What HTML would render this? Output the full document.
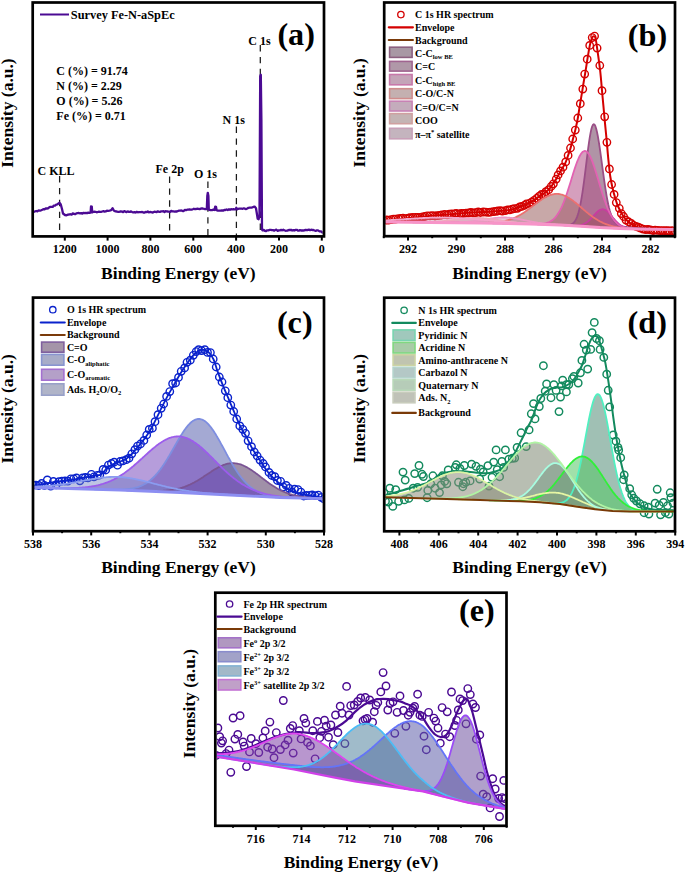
<!DOCTYPE html>
<html><head><meta charset="utf-8"><style>
html,body{margin:0;padding:0;background:#fff;}
svg{display:block;}
text{font-family:"Liberation Serif", serif;}
</style></head><body>
<svg width="685" height="873" viewBox="0 0 685 873" font-family='"Liberation Serif", serif'>
<rect width="100%" height="100%" fill="#fff"/>
<clipPath id="ca"><rect x="34" y="3.8" width="288.7" height="231.3"/></clipPath>
<line x1="59.6" y1="176" x2="59.6" y2="236.4" stroke="#1a1a1a" stroke-width="1.25" stroke-dasharray="6.4,5.5"/>
<line x1="169.6" y1="176.5" x2="169.6" y2="236.4" stroke="#1a1a1a" stroke-width="1.25" stroke-dasharray="6.4,5.5"/>
<line x1="207.9" y1="181.5" x2="207.9" y2="236.4" stroke="#1a1a1a" stroke-width="1.25" stroke-dasharray="6.4,5.5"/>
<line x1="236.4" y1="126.5" x2="236.4" y2="236.4" stroke="#1a1a1a" stroke-width="1.25" stroke-dasharray="6.4,5.5"/>
<line x1="260.3" y1="45" x2="260.3" y2="236.4" stroke="#1a1a1a" stroke-width="1.25" stroke-dasharray="6.4,5.5"/>
<path d="M33.5,212 L34.8,211.5 L36.1,211 L37.4,211.3 L38.7,210.4 L40,210.6 L41.1,210.3 L42.3,209.8 L43.4,209.1 L44.6,209.3 L45.7,208.4 L46.9,208.5 L48,208.3 L49.2,207.3 L50.3,206.9 L51.5,206.9 L52.7,206.9 L53.8,205.6 L55,205.6 L56.2,204.6 L57.3,204.4 L58.5,203.5 L59.6,202.8 L60.8,204.5 L62,209 L63,213.5 L65,215 L66.5,215.3 L68,214.6 L69.2,214.5 L70.4,214.2 L71.6,214.7 L72.8,213.4 L74,213.8 L75.2,214.2 L76.4,213.4 L77.6,213.1 L78.8,213 L80,213.4 L81.2,213.1 L82.4,213.6 L83.6,212.8 L84.8,213.2 L86,213 L87.2,213.1 L88.3,212.6 L89.4,212.8 L90.6,212.6 L91,206.5 L91.8,206.6 L92.2,212.4 L93.3,211.8 L94.4,211.7 L95.5,211.8 L96.7,212.3 L97.8,212 L98.9,211.7 L100,211.9 L101.1,211.8 L102.3,211.5 L103.4,211.2 L104.6,211.6 L105.7,211.4 L106.9,210.7 L108,210.8 L109.6,210.6 L111.2,210.2 L112.6,208.2 L114,210.8 L115.5,211.4 L116.8,211.5 L118.1,211.9 L119.4,211.8 L120.7,211.3 L122,211.6 L123.1,212.2 L124.3,211.2 L125.4,211.6 L126.6,212.1 L127.7,211.4 L128.9,211.8 L130,211.9 L131.1,211.4 L132.2,212.1 L133.3,212.3 L134.4,212.1 L135.6,212.5 L136.7,211.8 L137.8,212.3 L138.9,212.2 L140,212.1 L141.1,212.2 L142.2,212 L143.3,212.5 L144.4,212.6 L145.6,212 L146.7,212.2 L147.8,211.5 L148.9,212.3 L150,212 L151.1,212.2 L152.2,212.5 L153.3,212.3 L154.4,211.7 L155.6,211.8 L156.7,212.1 L157.8,211.3 L158.9,211.8 L160,211.8 L161.1,211.4 L162.2,211.3 L163.4,211.2 L164.5,212 L165.6,211.2 L166.8,211.3 L167.9,211.5 L169,211.6 L170.1,212 L171.2,210.9 L172.4,211.3 L173.5,211.4 L174.6,211.7 L175.8,211.5 L176.9,211.5 L178,211 L179.1,210.6 L180.3,210.7 L181.4,210.5 L182.6,211 L183.7,211 L184.9,209.9 L186,210.2 L187.1,209.7 L188.2,209.6 L189.4,209.5 L190.5,209.7 L191.6,209.7 L192.8,209.2 L193.9,208.7 L195,209.2 L196.2,209 L197.3,208.7 L198.5,208.8 L199.7,209.1 L200.8,208.7 L202,208.3 L203.2,208.7 L204.5,209 L205.7,209.1 L206.8,209 L207.3,196 L207.8,192.8 L208.4,196 L208.8,209.6 L210.4,210.1 L212,210.2 L213.3,209.6 L214.6,210 L215.2,206.6 L216,206.8 L216.6,210.2 L217.9,210.7 L219.3,210.6 L220.7,210.7 L222,210.3 L223.1,210.6 L224.3,210 L225.4,210 L226.6,209.5 L227.7,210.1 L228.9,209.3 L230,209.8 L231.1,209.2 L232.2,209.3 L233.4,209.2 L234.5,209.3 L235.6,209.4 L236.3,207.8 L237,209.4 L238.1,208.8 L239.3,208.6 L240.4,208.7 L241.6,208.6 L242.7,208.8 L243.9,208.3 L245,208.8 L246.2,209 L247.3,208.5 L248.5,207.8 L249.7,207.7 L250.8,207.6 L252,207.6 L253.3,206.9 L254.6,206.6 L256,208.2 L257.7,218.8 L258.6,219.2 L259.5,215.5 L260.2,76 L260.8,74.8 L261.4,120 L262,229.5 L262.6,230.4 L263.8,229.9 L264.9,230.8 L266.1,231 L267.2,230.3 L268.4,230.3 L269.6,229.9 L270.7,229.9 L271.9,230.2 L273,230.1 L274.2,230.7 L275.4,229.9 L276.5,229.7 L277.7,230.9 L278.8,230.3 L280,230.3 L281.1,229.9 L282.2,230.3 L283.3,229.7 L284.4,230.3 L285.6,230.8 L286.7,230.7 L287.8,230.5 L288.9,229.9 L290,230 L291.1,229.8 L292.2,230.5 L293.3,230.2 L294.4,230.5 L295.6,229.9 L296.7,229.8 L297.8,230.5 L298.9,230.7 L300,230.1 L301.1,230.5 L302.2,230.5 L303.3,230.5 L304.4,230.4 L305.6,229.8 L306.7,230.2 L307.8,230 L308.9,229.6 L310,230.2 L311.1,229.7 L312.3,230 L313.4,230 L314.6,230.5 L315.7,230.9 L316.9,230.3 L318,230.4 L319.5,231.4 L321,231.4 L322.2,232.5 L323.5,232.4" fill="none" stroke="#4B0A93" stroke-width="2.3" stroke-linejoin="round" clip-path="url(#ca)"/>
<rect x="32.7" y="2.5" width="291.3" height="233.9" fill="none" stroke="#000" stroke-width="2.7"/>
<line x1="64.8" y1="236.4" x2="64.8" y2="240.6" stroke="#000" stroke-width="2"/>
<text x="64.8" y="253.2" font-size="12" text-anchor="middle" font-weight="bold" >1200</text>
<line x1="107.6" y1="236.4" x2="107.6" y2="240.6" stroke="#000" stroke-width="2"/>
<text x="107.6" y="253.2" font-size="12" text-anchor="middle" font-weight="bold" >1000</text>
<line x1="150.4" y1="236.4" x2="150.4" y2="240.6" stroke="#000" stroke-width="2"/>
<text x="150.4" y="253.2" font-size="12" text-anchor="middle" font-weight="bold" >800</text>
<line x1="193.3" y1="236.4" x2="193.3" y2="240.6" stroke="#000" stroke-width="2"/>
<text x="193.3" y="253.2" font-size="12" text-anchor="middle" font-weight="bold" >600</text>
<line x1="236.1" y1="236.4" x2="236.1" y2="240.6" stroke="#000" stroke-width="2"/>
<text x="236.1" y="253.2" font-size="12" text-anchor="middle" font-weight="bold" >400</text>
<line x1="279" y1="236.4" x2="279" y2="240.6" stroke="#000" stroke-width="2"/>
<text x="279" y="253.2" font-size="12" text-anchor="middle" font-weight="bold" >200</text>
<line x1="321.8" y1="236.4" x2="321.8" y2="240.6" stroke="#000" stroke-width="2"/>
<text x="321.8" y="253.2" font-size="12" text-anchor="middle" font-weight="bold" >0</text>
<line x1="40" y1="14.5" x2="69" y2="14.5" stroke="#4B0A93" stroke-width="2"/>
<text x="70.8" y="19" font-size="12.35" text-anchor="start" font-weight="bold" >Survey Fe-N-aSpEc</text>
<text x="56.3" y="74.8" font-size="12" text-anchor="start" font-weight="bold" >C (%) = 91.74</text>
<text x="56.3" y="89.8" font-size="12" text-anchor="start" font-weight="bold" >N (%) = 2.29</text>
<text x="56.3" y="104.9" font-size="12" text-anchor="start" font-weight="bold" >O (%) = 5.26</text>
<text x="56.3" y="120" font-size="12" text-anchor="start" font-weight="bold" >Fe (%) = 0.71</text>
<text x="37.5" y="175.3" font-size="12" text-anchor="start" font-weight="bold" >C KLL</text>
<text x="155.5" y="173.2" font-size="12" text-anchor="start" font-weight="bold" >Fe 2p</text>
<text x="194" y="178" font-size="12" text-anchor="start" font-weight="bold" >O 1s</text>
<text x="222.6" y="123.5" font-size="12" text-anchor="start" font-weight="bold" >N 1s</text>
<text x="248.3" y="44.5" font-size="12" text-anchor="start" font-weight="bold" >C 1s</text>
<text x="277.4" y="44.6" font-size="32.2" text-anchor="start" font-weight="bold" >(a)</text>
<text transform="translate(12.8,113) rotate(-90)" x="0" y="0" font-size="17.5" text-anchor="middle" font-weight="bold">Intensity (a.u.)</text>
<text x="178.4" y="278.5" font-size="17.5" text-anchor="middle" font-weight="bold" >Binding Energy (eV)</text>
<clipPath id="cb"><rect x="385.5" y="3.8" width="288.2" height="231.1"/></clipPath>
<g clip-path="url(#cb)">
<g fill="none" stroke="#D40000" stroke-width="1.4"><circle cx="383.5" cy="220.4" r="3.7"/><circle cx="386.3" cy="220" r="3.7"/><circle cx="388.4" cy="220.1" r="3.7"/><circle cx="391.2" cy="219.6" r="3.7"/><circle cx="393.5" cy="219.1" r="3.7"/><circle cx="395.6" cy="219.1" r="3.7"/><circle cx="398.4" cy="218.6" r="3.7"/><circle cx="400.9" cy="218.5" r="3.7"/><circle cx="403" cy="218.1" r="3.7"/><circle cx="405.9" cy="218.6" r="3.7"/><circle cx="408.2" cy="218.2" r="3.7"/><circle cx="410.1" cy="217.7" r="3.7"/><circle cx="412.8" cy="217.3" r="3.7"/><circle cx="415.5" cy="217.3" r="3.7"/><circle cx="417.5" cy="217.5" r="3.7"/><circle cx="419.9" cy="217.4" r="3.7"/><circle cx="422.5" cy="216.8" r="3.7"/><circle cx="424.9" cy="216.5" r="3.7"/><circle cx="427.2" cy="215.8" r="3.7"/><circle cx="430" cy="215.8" r="3.7"/><circle cx="432.4" cy="215.6" r="3.7"/><circle cx="435" cy="216" r="3.7"/><circle cx="437.3" cy="215.7" r="3.7"/><circle cx="439.6" cy="215.4" r="3.7"/><circle cx="441.7" cy="215" r="3.7"/><circle cx="444.6" cy="214.5" r="3.7"/><circle cx="447.1" cy="214.9" r="3.7"/><circle cx="449.2" cy="214.2" r="3.7"/><circle cx="451.6" cy="214" r="3.7"/><circle cx="454.4" cy="213.8" r="3.7"/><circle cx="456.2" cy="213.3" r="3.7"/><circle cx="459.1" cy="214" r="3.7"/><circle cx="461.3" cy="213.4" r="3.7"/><circle cx="463.8" cy="213.4" r="3.7"/><circle cx="466" cy="213.1" r="3.7"/><circle cx="468.7" cy="213" r="3.7"/><circle cx="470.9" cy="212.4" r="3.7"/><circle cx="473.4" cy="213" r="3.7"/><circle cx="475.8" cy="212.6" r="3.7"/><circle cx="478.2" cy="211.9" r="3.7"/><circle cx="480.5" cy="212.5" r="3.7"/><circle cx="483.3" cy="212" r="3.7"/><circle cx="485.7" cy="212.1" r="3.7"/><circle cx="488.3" cy="212.3" r="3.7"/><circle cx="490.4" cy="212.2" r="3.7"/><circle cx="493.2" cy="211.6" r="3.7"/><circle cx="495.5" cy="211.4" r="3.7"/><circle cx="497.7" cy="211" r="3.7"/><circle cx="500.4" cy="210.7" r="3.7"/><circle cx="502.3" cy="211.1" r="3.7"/><circle cx="505.2" cy="210.6" r="3.7"/><circle cx="507.6" cy="209.9" r="3.7"/><circle cx="509.7" cy="209.8" r="3.7"/><circle cx="512.2" cy="209.2" r="3.7"/><circle cx="514.4" cy="208.6" r="3.7"/><circle cx="517.4" cy="208.3" r="3.7"/><circle cx="519.7" cy="206.9" r="3.7"/><circle cx="521.8" cy="206.4" r="3.7"/><circle cx="524.4" cy="205.3" r="3.7"/><circle cx="526.5" cy="203.8" r="3.7"/><circle cx="529.5" cy="203.3" r="3.7"/><circle cx="531.9" cy="201.9" r="3.7"/><circle cx="534.1" cy="200.3" r="3.7"/><circle cx="536.7" cy="198.3" r="3.7"/><circle cx="539" cy="196.3" r="3.7"/><circle cx="541.5" cy="194.4" r="3.7"/><circle cx="543.9" cy="193.9" r="3.7"/><circle cx="545.9" cy="191.7" r="3.7"/><circle cx="548.7" cy="189.7" r="3.7"/><circle cx="551.1" cy="186.5" r="3.7"/><circle cx="553.4" cy="183.8" r="3.7"/><circle cx="556.2" cy="179.1" r="3.7"/><circle cx="558.1" cy="174.9" r="3.7"/><circle cx="560.5" cy="170.9" r="3.7"/><circle cx="563" cy="167.2" r="3.7"/><circle cx="565.7" cy="161.9" r="3.7"/><circle cx="568.1" cy="155.4" r="3.7"/><circle cx="570.5" cy="148" r="3.7"/><circle cx="572.7" cy="139" r="3.7"/><circle cx="575.3" cy="130.1" r="3.7"/><circle cx="577.8" cy="118" r="3.7"/><circle cx="580.3" cy="103.7" r="3.7"/><circle cx="582.8" cy="89.1" r="3.7"/><circle cx="584.7" cy="74.1" r="3.7"/><circle cx="587.2" cy="59.2" r="3.7"/><circle cx="589.7" cy="45.4" r="3.7"/><circle cx="592.2" cy="37.6" r="3.7"/><circle cx="594.6" cy="36.1" r="3.7"/><circle cx="597.1" cy="48.1" r="3.7"/><circle cx="599.8" cy="65.5" r="3.7"/><circle cx="602" cy="90.7" r="3.7"/><circle cx="604.7" cy="116.8" r="3.7"/><circle cx="606.9" cy="142.3" r="3.7"/><circle cx="609.4" cy="168.9" r="3.7"/><circle cx="611.6" cy="184.5" r="3.7"/><circle cx="614.1" cy="194.4" r="3.7"/><circle cx="616.3" cy="202.6" r="3.7"/><circle cx="619.3" cy="208.3" r="3.7"/><circle cx="621.3" cy="213.6" r="3.7"/><circle cx="623.6" cy="216.5" r="3.7"/><circle cx="626" cy="220.1" r="3.7"/><circle cx="628.8" cy="222" r="3.7"/><circle cx="631.2" cy="223.4" r="3.7"/><circle cx="633.6" cy="225.3" r="3.7"/><circle cx="636" cy="226.4" r="3.7"/><circle cx="638.3" cy="227.2" r="3.7"/><circle cx="640.5" cy="228.2" r="3.7"/><circle cx="643.1" cy="229.1" r="3.7"/><circle cx="645.8" cy="229.6" r="3.7"/><circle cx="648" cy="229.4" r="3.7"/><circle cx="650.4" cy="229.8" r="3.7"/><circle cx="653" cy="230.5" r="3.7"/><circle cx="655.1" cy="230.1" r="3.7"/><circle cx="657.8" cy="230.4" r="3.7"/><circle cx="660.4" cy="230.6" r="3.7"/><circle cx="662.7" cy="230.6" r="3.7"/><circle cx="665.2" cy="230.7" r="3.7"/><circle cx="667.6" cy="230.6" r="3.7"/><circle cx="669.7" cy="230.9" r="3.7"/><circle cx="672.3" cy="230.6" r="3.7"/><circle cx="674.9" cy="231" r="3.7"/></g>
<path d="M384,220.2C387.5,219.9 396.5,219.2 405,218.4C413.5,217.6 425,216.5 435,215.6C445,214.7 455.8,213.8 465,213.1C474.2,212.4 483.3,212.1 490,211.7C496.7,211.3 501.2,211 505,210.6C508.8,210.2 510.5,210 513,209.3C515.5,208.7 517.2,207.8 520,206.7C522.8,205.6 527.5,203.9 530,202.7C532.5,201.5 533.3,200.8 535,199.6C536.7,198.4 538.2,197 540,195.8C541.8,194.6 543.7,193.6 545.5,192.2C547.3,190.8 549.1,189.1 550.6,187.3C552.1,185.5 553.3,183.7 554.7,181.5C556.1,179.3 557.7,176.4 558.9,174.3C560.1,172.2 560.9,170.8 562,168.8C563.1,166.9 564.5,164.8 565.5,162.6C566.5,160.4 567.2,157.8 568.1,155.4C569,153 569.8,150.6 570.6,147.9C571.4,145.2 572.1,142.4 572.9,139.3C573.7,136.2 574.6,133.1 575.4,129.6C576.2,126.1 577,122.5 577.8,118.2C578.6,113.9 579.3,108.7 580.1,103.8C580.9,98.9 581.8,93.8 582.6,88.8C583.4,83.8 584.2,78.9 585.1,73.7C586,68.5 586.9,62.1 587.7,57.4C588.5,52.7 589.1,48.7 589.8,45.5C590.5,42.3 591.2,39.7 591.9,38.2C592.6,36.7 593.2,36.2 593.8,36.3C594.4,36.4 595,36 595.6,38.6C596.2,41.2 596.9,46.3 597.6,51.6C598.4,56.9 599.3,63.3 600.1,70.2C600.9,77.1 601.5,84.8 602.2,92.9C603,101.1 603.9,111.1 604.6,119.1C605.4,127.1 606.1,133.9 606.7,140.7C607.3,147.5 607.8,154 608.4,159.9C609,165.8 609.6,171.5 610.2,176C610.9,180.5 611.5,183.5 612.3,187C613.1,190.5 613.9,193.8 614.9,197C615.9,200.2 616.7,203.3 618.1,206.5C619.5,209.7 621.6,213.5 623.2,216C624.9,218.5 626.3,220 628,221.5C629.7,223 631.3,224.1 633.3,225.2C635.3,226.3 637.9,227.3 640,228C642.1,228.7 643.5,229.1 646,229.4C648.5,229.8 650,229.9 655,230.1C660,230.3 672.5,230.5 676,230.6" fill="none" stroke="#D40000" stroke-width="2.0" stroke-linejoin="round"/>
</g>
<g clip-path="url(#cb)"><path d="M384.2,222 L385,222 L385.8,222 L386.6,222 L387.4,222 L388.2,222 L389,222 L389.8,222.1 L390.6,222.1 L391.4,222.1 L392.2,222.1 L393,222.1 L393.8,222.1 L394.6,222.1 L395.4,222.1 L396.2,222.1 L397,222.1 L397.8,222.1 L398.6,222.1 L399.4,222.1 L400.2,222.1 L401,222.1 L401.8,222.2 L402.6,222.2 L403.4,222.2 L404.2,222.2 L405,222.2 L405.8,222.2 L406.6,222.2 L407.4,222.2 L408.2,222.2 L409,222.2 L409.8,222.2 L410.6,222.2 L411.4,222.2 L412.2,222.2 L413,222.3 L413.8,222.3 L414.6,222.3 L415.4,222.3 L416.2,222.3 L417,222.3 L417.8,222.3 L418.6,222.3 L419.4,222.3 L420.2,222.3 L421,222.3 L421.8,222.3 L422.6,222.3 L423.4,222.3 L424.2,222.3 L425,222.4 L425.8,222.4 L426.6,222.4 L427.4,222.4 L428.2,222.4 L429,222.4 L429.8,222.4 L430.6,222.4 L431.4,222.4 L432.2,222.4 L433,222.4 L433.8,222.4 L434.6,222.5 L435.4,222.5 L436.2,222.5 L437,222.5 L437.8,222.5 L438.6,222.5 L439.4,222.5 L440.2,222.5 L441,222.5 L441.8,222.5 L442.6,222.6 L443.4,222.6 L444.2,222.6 L445,222.6 L445.8,222.6 L446.6,222.6 L447.4,222.6 L448.2,222.6 L449,222.6 L449.8,222.6 L450.6,222.6 L451.4,222.7 L452.2,222.7 L453,222.7 L453.8,222.7 L454.6,222.7 L455.4,222.7 L456.2,222.7 L457,222.7 L457.8,222.7 L458.6,222.7 L459.4,222.8 L460.2,222.8 L461,222.8 L461.8,222.8 L462.6,222.8 L463.4,222.8 L464.2,222.8 L465,222.8 L465.8,222.8 L466.6,222.8 L467.4,222.8 L468.2,222.9 L469,222.9 L469.8,222.9 L470.6,222.9 L471.4,222.9 L472.2,222.9 L473,222.9 L473.8,222.9 L474.6,222.9 L475.4,222.9 L476.2,223 L477,223 L477.8,223 L478.6,223 L479.4,223 L480.2,223 L481,223 L481.8,223 L482.6,223.1 L483.4,223.1 L484.2,223.1 L485,223.1 L485.8,223.1 L486.6,223.1 L487.4,223.1 L488.2,223.2 L489,223.2 L489.8,223.2 L490.6,223.2 L491.4,223.2 L492.2,223.2 L493,223.3 L493.8,223.3 L494.6,223.3 L495.4,223.3 L496.2,223.3 L497,223.3 L497.8,223.4 L498.6,223.4 L499.4,223.4 L500.2,223.4 L501,223.4 L501.8,223.4 L502.6,223.5 L503.4,223.5 L504.2,223.5 L505,223.5 L505.8,223.5 L506.6,223.5 L507.4,223.5 L508.2,223.6 L509,223.6 L509.8,223.6 L510.6,223.6 L511.4,223.6 L512.2,223.6 L513,223.7 L513.8,223.7 L514.6,223.7 L515.4,223.7 L516.2,223.7 L517,223.7 L517.8,223.8 L518.6,223.8 L519.4,223.8 L520.2,223.8 L521,223.8 L521.8,223.8 L522.6,223.9 L523.4,223.9 L524.2,223.9 L525,223.9 L525.8,223.9 L526.6,223.9 L527.4,223.9 L528.2,224 L529,224 L529.8,224 L530.6,224 L531.4,224 L532.2,224.1 L533,224.1 L533.8,224.1 L534.6,224.2 L535.4,224.2 L536.2,224.2 L537,224.2 L537.8,224.3 L538.6,224.3 L539.4,224.3 L540.2,224.3 L541,224.4 L541.8,224.4 L542.6,224.4 L543.4,224.4 L544.2,224.5 L545,224.5 L545.8,224.5 L546.6,224.6 L547.4,224.6 L548.2,224.6 L549,224.6 L549.8,224.7 L550.6,224.7 L551.4,224.7 L552.2,224.7 L553,224.8 L553.8,224.8 L554.6,224.8 L555.4,224.8 L556.2,224.9 L557,224.9 L557.8,224.9 L558.6,225 L559.4,225 L560.2,225 L561,225.1 L561.8,225.1 L562.6,225.1 L563.4,225.2 L564.2,225.2 L565,225.2 L565.8,225.2 L566.6,225.2 L567.4,225.2 L568.2,225.1 L569,225 L569.8,224.9 L570.6,224.7 L571.4,224.3 L572.2,223.9 L573,223.3 L573.8,222.6 L574.6,221.6 L575.4,220.4 L576.2,218.9 L577,217.1 L577.8,214.8 L578.6,212.2 L579.4,209.1 L580.2,205.4 L581,201.3 L581.8,196.7 L582.6,191.6 L583.4,186 L584.2,180.1 L585,173.8 L585.8,167.4 L586.6,160.9 L587.4,154.4 L588.2,148.2 L589,142.4 L589.8,137.2 L590.6,132.6 L591.4,129 L592.2,126.3 L593,124.7 L593.8,124.1 L594.6,124.7 L595.4,126.2 L596.2,128.7 L597,132 L597.8,136 L598.6,140.6 L599.4,145.7 L600.2,151.2 L601,156.9 L601.8,162.8 L602.6,168.8 L603.4,174.6 L604.2,180.4 L605,185.9 L605.8,191 L606.6,195.8 L607.4,200.2 L608.2,204.2 L609,207.7 L609.8,210.7 L610.6,213.4 L611.4,215.7 L612.2,217.6 L613,219.2 L613.8,220.6 L614.6,221.7 L615.4,222.6 L616.2,223.4 L617,224 L617.8,224.5 L618.6,225 L619.4,225.4 L620.2,225.7 L621,225.9 L621.8,226.1 L622.6,226.3 L623.4,226.5 L624.2,226.7 L625,226.8 L625.8,226.9 L626.6,227 L627.4,227.2 L628.2,227.3 L629,227.3 L629.8,227.4 L630.6,227.5 L631.4,227.6 L632.2,227.7 L633,227.8 L633.8,227.8 L634.6,227.9 L635.4,228 L636.2,228 L637,228.1 L637.8,228.1 L638.6,228.2 L639.4,228.2 L640.2,228.3 L641,228.3 L641.8,228.4 L642.6,228.4 L643.4,228.5 L644.2,228.5 L645,228.6 L645.8,228.6 L646.6,228.6 L647.4,228.6 L648.2,228.7 L649,228.7 L649.8,228.7 L650.6,228.7 L651.4,228.8 L652.2,228.8 L653,228.8 L653.8,228.8 L654.6,228.9 L655.4,228.9 L656.2,228.9 L657,228.9 L657.8,228.9 L658.6,228.9 L659.4,229 L660.2,229 L661,229 L661.8,229 L662.6,229 L663.4,229 L664.2,229.1 L665,229.1 L665.8,229.1 L666.6,229.1 L667.4,229.1 L668.2,229.1 L669,229.2 L669.8,229.2 L670.6,229.2 L671.4,229.2 L672.2,229.2 L673,229.2 L673.8,229.2 L674.6,229.2 L674.6,229.5 L673.8,229.5 L673,229.5 L672.2,229.5 L671.4,229.5 L670.6,229.4 L669.8,229.4 L669,229.4 L668.2,229.4 L667.4,229.4 L666.6,229.4 L665.8,229.4 L665,229.4 L664.2,229.4 L663.4,229.4 L662.6,229.4 L661.8,229.4 L661,229.4 L660.2,229.3 L659.4,229.3 L658.6,229.3 L657.8,229.3 L657,229.3 L656.2,229.3 L655.4,229.3 L654.6,229.3 L653.8,229.3 L653,229.3 L652.2,229.3 L651.4,229.3 L650.6,229.3 L649.8,229.2 L649,229.2 L648.2,229.2 L647.4,229.2 L646.6,229.2 L645.8,229.2 L645,229.2 L644.2,229.2 L643.4,229.2 L642.6,229.1 L641.8,229.1 L641,229.1 L640.2,229.1 L639.4,229.1 L638.6,229 L637.8,229 L637,229 L636.2,229 L635.4,229 L634.6,229 L633.8,228.9 L633,228.9 L632.2,228.9 L631.4,228.9 L630.6,228.9 L629.8,228.8 L629,228.8 L628.2,228.8 L627.4,228.8 L626.6,228.8 L625.8,228.7 L625,228.7 L624.2,228.7 L623.4,228.7 L622.6,228.7 L621.8,228.6 L621,228.6 L620.2,228.6 L619.4,228.6 L618.6,228.5 L617.8,228.5 L617,228.4 L616.2,228.4 L615.4,228.4 L614.6,228.3 L613.8,228.3 L613,228.2 L612.2,228.2 L611.4,228.2 L610.6,228.1 L609.8,228.1 L609,228 L608.2,228 L607.4,228 L606.6,227.9 L605.8,227.9 L605,227.8 L604.2,227.8 L603.4,227.8 L602.6,227.7 L601.8,227.7 L601,227.6 L600.2,227.6 L599.4,227.6 L598.6,227.5 L597.8,227.4 L597,227.4 L596.2,227.3 L595.4,227.3 L594.6,227.2 L593.8,227.1 L593,227.1 L592.2,227 L591.4,227 L590.6,226.9 L589.8,226.9 L589,226.8 L588.2,226.7 L587.4,226.7 L586.6,226.6 L585.8,226.6 L585,226.5 L584.2,226.5 L583.4,226.4 L582.6,226.4 L581.8,226.3 L581,226.3 L580.2,226.2 L579.4,226.2 L578.6,226.1 L577.8,226.1 L577,226 L576.2,226 L575.4,225.9 L574.6,225.9 L573.8,225.8 L573,225.8 L572.2,225.7 L571.4,225.7 L570.6,225.6 L569.8,225.6 L569,225.5 L568.2,225.5 L567.4,225.4 L566.6,225.4 L565.8,225.3 L565,225.3 L564.2,225.3 L563.4,225.2 L562.6,225.2 L561.8,225.1 L561,225.1 L560.2,225 L559.4,225 L558.6,225 L557.8,224.9 L557,224.9 L556.2,224.9 L555.4,224.8 L554.6,224.8 L553.8,224.8 L553,224.8 L552.2,224.7 L551.4,224.7 L550.6,224.7 L549.8,224.7 L549,224.6 L548.2,224.6 L547.4,224.6 L546.6,224.6 L545.8,224.5 L545,224.5 L544.2,224.5 L543.4,224.4 L542.6,224.4 L541.8,224.4 L541,224.4 L540.2,224.3 L539.4,224.3 L538.6,224.3 L537.8,224.3 L537,224.2 L536.2,224.2 L535.4,224.2 L534.6,224.2 L533.8,224.1 L533,224.1 L532.2,224.1 L531.4,224 L530.6,224 L529.8,224 L529,224 L528.2,224 L527.4,223.9 L526.6,223.9 L525.8,223.9 L525,223.9 L524.2,223.9 L523.4,223.9 L522.6,223.9 L521.8,223.8 L521,223.8 L520.2,223.8 L519.4,223.8 L518.6,223.8 L517.8,223.8 L517,223.7 L516.2,223.7 L515.4,223.7 L514.6,223.7 L513.8,223.7 L513,223.7 L512.2,223.6 L511.4,223.6 L510.6,223.6 L509.8,223.6 L509,223.6 L508.2,223.6 L507.4,223.5 L506.6,223.5 L505.8,223.5 L505,223.5 L504.2,223.5 L503.4,223.5 L502.6,223.5 L501.8,223.4 L501,223.4 L500.2,223.4 L499.4,223.4 L498.6,223.4 L497.8,223.4 L497,223.3 L496.2,223.3 L495.4,223.3 L494.6,223.3 L493.8,223.3 L493,223.3 L492.2,223.2 L491.4,223.2 L490.6,223.2 L489.8,223.2 L489,223.2 L488.2,223.2 L487.4,223.1 L486.6,223.1 L485.8,223.1 L485,223.1 L484.2,223.1 L483.4,223.1 L482.6,223.1 L481.8,223 L481,223 L480.2,223 L479.4,223 L478.6,223 L477.8,223 L477,223 L476.2,223 L475.4,222.9 L474.6,222.9 L473.8,222.9 L473,222.9 L472.2,222.9 L471.4,222.9 L470.6,222.9 L469.8,222.9 L469,222.9 L468.2,222.9 L467.4,222.8 L466.6,222.8 L465.8,222.8 L465,222.8 L464.2,222.8 L463.4,222.8 L462.6,222.8 L461.8,222.8 L461,222.8 L460.2,222.8 L459.4,222.8 L458.6,222.7 L457.8,222.7 L457,222.7 L456.2,222.7 L455.4,222.7 L454.6,222.7 L453.8,222.7 L453,222.7 L452.2,222.7 L451.4,222.7 L450.6,222.6 L449.8,222.6 L449,222.6 L448.2,222.6 L447.4,222.6 L446.6,222.6 L445.8,222.6 L445,222.6 L444.2,222.6 L443.4,222.6 L442.6,222.6 L441.8,222.5 L441,222.5 L440.2,222.5 L439.4,222.5 L438.6,222.5 L437.8,222.5 L437,222.5 L436.2,222.5 L435.4,222.5 L434.6,222.5 L433.8,222.4 L433,222.4 L432.2,222.4 L431.4,222.4 L430.6,222.4 L429.8,222.4 L429,222.4 L428.2,222.4 L427.4,222.4 L426.6,222.4 L425.8,222.4 L425,222.4 L424.2,222.3 L423.4,222.3 L422.6,222.3 L421.8,222.3 L421,222.3 L420.2,222.3 L419.4,222.3 L418.6,222.3 L417.8,222.3 L417,222.3 L416.2,222.3 L415.4,222.3 L414.6,222.3 L413.8,222.3 L413,222.3 L412.2,222.2 L411.4,222.2 L410.6,222.2 L409.8,222.2 L409,222.2 L408.2,222.2 L407.4,222.2 L406.6,222.2 L405.8,222.2 L405,222.2 L404.2,222.2 L403.4,222.2 L402.6,222.2 L401.8,222.2 L401,222.1 L400.2,222.1 L399.4,222.1 L398.6,222.1 L397.8,222.1 L397,222.1 L396.2,222.1 L395.4,222.1 L394.6,222.1 L393.8,222.1 L393,222.1 L392.2,222.1 L391.4,222.1 L390.6,222.1 L389.8,222.1 L389,222 L388.2,222 L387.4,222 L386.6,222 L385.8,222 L385,222 L384.2,222 Z" fill="rgba(111,60,93,0.55)" stroke="none"/><path d="M560.2,225 L561,225.1 L561.8,225.1 L562.6,225.2 L563.4,225.2 L564.2,225.3 L565,225.3 L565.8,225.3 L566.6,225.4 L567.4,225.4 L568.2,225.5 L569,225.5 L569.8,225.5 L570.6,225.6 L571.4,225.6 L572.2,225.6 L573,225.7 L573.8,225.7 L574.6,225.7 L575.4,225.7 L576.2,225.6 L577,225.6 L577.8,225.5 L578.6,225.4 L579.4,225.3 L580.2,225.2 L581,225 L581.8,224.8 L582.6,224.5 L583.4,224.2 L584.2,223.8 L585,223.4 L585.8,222.9 L586.6,222.4 L587.4,221.8 L588.2,221.2 L589,220.5 L589.8,219.8 L590.6,219 L591.4,218.1 L592.2,217.3 L593,216.4 L593.8,215.5 L594.6,214.6 L595.4,213.8 L596.2,213 L597,212.2 L597.8,211.5 L598.6,210.8 L599.4,210.3 L600.2,209.9 L601,209.5 L601.8,209.3 L602.6,209.2 L603.4,209.3 L604.2,209.5 L605,209.8 L605.8,210.2 L606.6,210.7 L607.4,211.4 L608.2,212.1 L609,212.9 L609.8,213.8 L610.6,214.8 L611.4,215.7 L612.2,216.7 L613,217.7 L613.8,218.7 L614.6,219.6 L615.4,220.5 L616.2,221.4 L617,222.3 L617.8,223 L618.6,223.8 L619.4,224.4 L620.2,225 L621,225.6 L621.8,226.1 L622.6,226.5 L623.4,226.9 L624.2,227.2 L625,227.5 L625.8,227.7 L626.6,227.9 L627.4,228.1 L628.2,228.3 L629,228.4 L629.8,228.5 L630.6,228.6 L631.4,228.7 L632.2,228.7 L633,228.8 L633.8,228.8 L634.6,228.9 L635.4,228.9 L636.2,228.9 L637,229 L637.8,229 L638.6,229 L639.4,229.1 L640.2,229.1 L641,229.1 L641.8,229.1 L642.6,229.1 L643.4,229.2 L644.2,229.2 L645,229.2 L645,229.2 L644.2,229.2 L643.4,229.2 L642.6,229.1 L641.8,229.1 L641,229.1 L640.2,229.1 L639.4,229.1 L638.6,229 L637.8,229 L637,229 L636.2,229 L635.4,229 L634.6,229 L633.8,228.9 L633,228.9 L632.2,228.9 L631.4,228.9 L630.6,228.9 L629.8,228.8 L629,228.8 L628.2,228.8 L627.4,228.8 L626.6,228.8 L625.8,228.7 L625,228.7 L624.2,228.7 L623.4,228.7 L622.6,228.7 L621.8,228.6 L621,228.6 L620.2,228.6 L619.4,228.6 L618.6,228.5 L617.8,228.5 L617,228.5 L616.2,228.4 L615.4,228.4 L614.6,228.3 L613.8,228.3 L613,228.3 L612.2,228.2 L611.4,228.2 L610.6,228.1 L609.8,228.1 L609,228.1 L608.2,228 L607.4,228 L606.6,227.9 L605.8,227.9 L605,227.9 L604.2,227.8 L603.4,227.8 L602.6,227.7 L601.8,227.7 L601,227.7 L600.2,227.6 L599.4,227.6 L598.6,227.5 L597.8,227.4 L597,227.4 L596.2,227.3 L595.4,227.3 L594.6,227.2 L593.8,227.1 L593,227.1 L592.2,227 L591.4,227 L590.6,226.9 L589.8,226.9 L589,226.8 L588.2,226.7 L587.4,226.7 L586.6,226.6 L585.8,226.6 L585,226.5 L584.2,226.5 L583.4,226.4 L582.6,226.4 L581.8,226.3 L581,226.3 L580.2,226.2 L579.4,226.2 L578.6,226.1 L577.8,226.1 L577,226 L576.2,226 L575.4,225.9 L574.6,225.9 L573.8,225.8 L573,225.8 L572.2,225.7 L571.4,225.7 L570.6,225.6 L569.8,225.6 L569,225.5 L568.2,225.5 L567.4,225.4 L566.6,225.4 L565.8,225.4 L565,225.3 L564.2,225.3 L563.4,225.2 L562.6,225.2 L561.8,225.1 L561,225.1 L560.2,225 Z" fill="rgba(175,40,130,0.55)" stroke="none"/><path d="M522.9,223.9 L523.7,223.9 L524.5,223.9 L525.3,223.9 L526.1,223.9 L526.9,223.9 L527.7,223.9 L528.5,224 L529.3,224 L530.1,224 L530.9,224 L531.7,224 L532.5,224 L533.3,224 L534.1,224.1 L534.9,224.1 L535.7,224.1 L536.5,224.1 L537.3,224.1 L538.1,224 L538.9,224 L539.7,224 L540.5,223.9 L541.3,223.9 L542.1,223.8 L542.9,223.7 L543.7,223.6 L544.5,223.5 L545.3,223.3 L546.1,223.1 L546.9,222.9 L547.7,222.6 L548.5,222.3 L549.3,222 L550.1,221.6 L550.9,221.1 L551.7,220.6 L552.5,220 L553.3,219.4 L554.1,218.6 L554.9,217.8 L555.7,216.9 L556.5,215.9 L557.3,214.8 L558.1,213.6 L558.9,212.3 L559.7,210.9 L560.5,209.4 L561.3,207.8 L562.1,206.1 L562.9,204.2 L563.7,202.3 L564.5,200.2 L565.3,198.1 L566.1,195.8 L566.9,193.5 L567.7,191.1 L568.5,188.6 L569.3,186 L570.1,183.5 L570.9,180.9 L571.7,178.3 L572.5,175.7 L573.3,173.1 L574.1,170.6 L574.9,168.1 L575.7,165.8 L576.5,163.5 L577.3,161.4 L578.1,159.5 L578.9,157.7 L579.7,156 L580.5,154.6 L581.3,153.4 L582.1,152.5 L582.9,151.7 L583.7,151.3 L584.5,151 L585.3,151 L586.1,151.3 L586.9,151.9 L587.7,152.6 L588.5,153.6 L589.3,154.9 L590.1,156.4 L590.9,158 L591.7,159.9 L592.5,161.9 L593.3,164.1 L594.1,166.4 L594.9,168.9 L595.7,171.4 L596.5,174 L597.3,176.7 L598.1,179.3 L598.9,182.1 L599.7,184.8 L600.5,187.4 L601.3,190.1 L602.1,192.7 L602.9,195.2 L603.7,197.6 L604.5,200 L605.3,202.3 L606.1,204.4 L606.9,206.5 L607.7,208.5 L608.5,210.3 L609.3,212 L610.1,213.7 L610.9,215.2 L611.7,216.6 L612.5,217.9 L613.3,219 L614.1,220.1 L614.9,221.1 L615.7,222 L616.5,222.8 L617.3,223.6 L618.1,224.3 L618.9,224.9 L619.7,225.4 L620.5,225.9 L621.3,226.3 L622.1,226.6 L622.9,226.9 L623.7,227.2 L624.5,227.5 L625.3,227.7 L626.1,227.9 L626.9,228 L627.7,228.2 L628.5,228.3 L629.3,228.4 L630.1,228.5 L630.9,228.6 L631.7,228.6 L632.5,228.7 L633.3,228.8 L634.1,228.8 L634.9,228.8 L635.7,228.9 L636.5,228.9 L637.3,229 L638.1,229 L638.9,229 L639.7,229 L640.5,229.1 L641.3,229.1 L642.1,229.1 L642.9,229.1 L643.7,229.2 L644.5,229.2 L645.3,229.2 L646.1,229.2 L646.9,229.2 L646.9,229.2 L646.1,229.2 L645.3,229.2 L644.5,229.2 L643.7,229.2 L642.9,229.1 L642.1,229.1 L641.3,229.1 L640.5,229.1 L639.7,229.1 L638.9,229.1 L638.1,229 L637.3,229 L636.5,229 L635.7,229 L634.9,229 L634.1,228.9 L633.3,228.9 L632.5,228.9 L631.7,228.9 L630.9,228.9 L630.1,228.8 L629.3,228.8 L628.5,228.8 L627.7,228.8 L626.9,228.8 L626.1,228.7 L625.3,228.7 L624.5,228.7 L623.7,228.7 L622.9,228.7 L622.1,228.7 L621.3,228.6 L620.5,228.6 L619.7,228.6 L618.9,228.5 L618.1,228.5 L617.3,228.5 L616.5,228.4 L615.7,228.4 L614.9,228.3 L614.1,228.3 L613.3,228.3 L612.5,228.2 L611.7,228.2 L610.9,228.1 L610.1,228.1 L609.3,228.1 L608.5,228 L607.7,228 L606.9,227.9 L606.1,227.9 L605.3,227.9 L604.5,227.8 L603.7,227.8 L602.9,227.7 L602.1,227.7 L601.3,227.7 L600.5,227.6 L599.7,227.6 L598.9,227.5 L598.1,227.5 L597.3,227.4 L596.5,227.3 L595.7,227.3 L594.9,227.2 L594.1,227.2 L593.3,227.1 L592.5,227 L591.7,227 L590.9,226.9 L590.1,226.9 L589.3,226.8 L588.5,226.8 L587.7,226.7 L586.9,226.6 L586.1,226.6 L585.3,226.5 L584.5,226.5 L583.7,226.4 L582.9,226.4 L582.1,226.3 L581.3,226.3 L580.5,226.2 L579.7,226.2 L578.9,226.1 L578.1,226.1 L577.3,226 L576.5,226 L575.7,225.9 L574.9,225.9 L574.1,225.8 L573.3,225.8 L572.5,225.7 L571.7,225.7 L570.9,225.7 L570.1,225.6 L569.3,225.6 L568.5,225.5 L567.7,225.5 L566.9,225.4 L566.1,225.4 L565.3,225.3 L564.5,225.3 L563.7,225.2 L562.9,225.2 L562.1,225.1 L561.3,225.1 L560.5,225 L559.7,225 L558.9,225 L558.1,224.9 L557.3,224.9 L556.5,224.9 L555.7,224.9 L554.9,224.8 L554.1,224.8 L553.3,224.8 L552.5,224.7 L551.7,224.7 L550.9,224.7 L550.1,224.7 L549.3,224.6 L548.5,224.6 L547.7,224.6 L546.9,224.6 L546.1,224.5 L545.3,224.5 L544.5,224.5 L543.7,224.5 L542.9,224.4 L542.1,224.4 L541.3,224.4 L540.5,224.3 L539.7,224.3 L538.9,224.3 L538.1,224.3 L537.3,224.2 L536.5,224.2 L535.7,224.2 L534.9,224.2 L534.1,224.1 L533.3,224.1 L532.5,224.1 L531.7,224.1 L530.9,224 L530.1,224 L529.3,224 L528.5,224 L527.7,224 L526.9,223.9 L526.1,223.9 L525.3,223.9 L524.5,223.9 L523.7,223.9 L522.9,223.9 Z" fill="rgba(178,80,134,0.55)" stroke="none"/><path d="M450.9,222.6 L451.7,222.7 L452.5,222.7 L453.3,222.7 L454.1,222.7 L454.9,222.7 L455.7,222.7 L456.5,222.7 L457.3,222.7 L458.1,222.7 L458.9,222.7 L459.7,222.7 L460.5,222.8 L461.3,222.8 L462.1,222.8 L462.9,222.8 L463.7,222.8 L464.5,222.8 L465.3,222.8 L466.1,222.8 L466.9,222.8 L467.7,222.8 L468.5,222.8 L469.3,222.8 L470.1,222.8 L470.9,222.9 L471.7,222.9 L472.5,222.9 L473.3,222.9 L474.1,222.9 L474.9,222.9 L475.7,222.9 L476.5,222.9 L477.3,222.9 L478.1,222.9 L478.9,222.9 L479.7,222.9 L480.5,222.9 L481.3,222.8 L482.1,222.8 L482.9,222.8 L483.7,222.8 L484.5,222.8 L485.3,222.8 L486.1,222.8 L486.9,222.8 L487.7,222.8 L488.5,222.7 L489.3,222.7 L490.1,222.7 L490.9,222.6 L491.7,222.6 L492.5,222.5 L493.3,222.5 L494.1,222.4 L494.9,222.4 L495.7,222.3 L496.5,222.2 L497.3,222.1 L498.1,222 L498.9,221.9 L499.7,221.8 L500.5,221.7 L501.3,221.6 L502.1,221.4 L502.9,221.3 L503.7,221.1 L504.5,221 L505.3,220.8 L506.1,220.6 L506.9,220.4 L507.7,220.2 L508.5,219.9 L509.3,219.7 L510.1,219.4 L510.9,219.1 L511.7,218.9 L512.5,218.6 L513.3,218.2 L514.1,217.9 L514.9,217.6 L515.7,217.2 L516.5,216.8 L517.3,216.4 L518.1,216 L518.9,215.6 L519.7,215.1 L520.5,214.7 L521.3,214.2 L522.1,213.7 L522.9,213.2 L523.7,212.7 L524.5,212.2 L525.3,211.6 L526.1,211.1 L526.9,210.5 L527.6,209.9 L528.4,209.3 L529.2,208.8 L530,208.2 L530.8,207.6 L531.6,207 L532.4,206.3 L533.2,205.7 L534,205.1 L534.8,204.5 L535.6,203.9 L536.4,203.3 L537.2,202.7 L538,202.1 L538.8,201.5 L539.6,201 L540.4,200.4 L541.2,199.9 L542,199.3 L542.8,198.8 L543.6,198.3 L544.4,197.8 L545.2,197.4 L546,196.9 L546.8,196.5 L547.6,196.2 L548.4,195.8 L549.2,195.5 L550,195.2 L550.8,194.9 L551.6,194.7 L552.4,194.4 L553.2,194.3 L554,194.1 L554.8,194 L555.6,193.9 L556.4,193.9 L557.2,193.9 L558,193.9 L558.8,194 L559.6,194.1 L560.4,194.3 L561.2,194.5 L562,194.7 L562.8,195 L563.6,195.2 L564.4,195.6 L565.2,195.9 L566,196.3 L566.8,196.7 L567.6,197.2 L568.4,197.6 L569.2,198.1 L570,198.7 L570.8,199.2 L571.6,199.8 L572.4,200.3 L573.2,200.9 L574,201.6 L574.8,202.2 L575.6,202.8 L576.4,203.5 L577.2,204.1 L578,204.8 L578.8,205.5 L579.6,206.1 L580.4,206.8 L581.2,207.5 L582,208.2 L582.8,208.9 L583.6,209.6 L584.4,210.2 L585.2,210.9 L586,211.6 L586.8,212.2 L587.6,212.9 L588.4,213.5 L589.2,214.2 L590,214.8 L590.8,215.4 L591.6,216 L592.4,216.6 L593.2,217.2 L594,217.7 L594.8,218.3 L595.6,218.8 L596.4,219.3 L597.2,219.8 L598,220.3 L598.8,220.7 L599.6,221.2 L600.4,221.6 L601.2,222 L602,222.4 L602.8,222.8 L603.6,223.1 L604.4,223.5 L605.2,223.8 L606,224.1 L606.8,224.4 L607.6,224.7 L608.4,224.9 L609.2,225.2 L610,225.4 L610.8,225.7 L611.6,225.9 L612.4,226.1 L613.2,226.3 L614,226.5 L614.8,226.7 L615.6,226.9 L616.4,227 L617.2,227.2 L618,227.3 L618.8,227.5 L619.6,227.6 L620.4,227.7 L621.2,227.8 L622,227.9 L622.8,228 L623.6,228.1 L624.4,228.1 L625.2,228.2 L626,228.3 L626.8,228.3 L627.6,228.4 L628.4,228.5 L629.2,228.5 L630,228.6 L630.8,228.6 L631.6,228.6 L632.4,228.7 L633.2,228.7 L634,228.8 L634.8,228.8 L635.6,228.8 L636.4,228.9 L637.2,228.9 L638,228.9 L638.8,229 L639.6,229 L640.4,229 L641.2,229 L642,229.1 L642.8,229.1 L643.6,229.1 L644.4,229.1 L645.2,229.2 L646,229.2 L646.8,229.2 L647.6,229.2 L648.4,229.2 L649.2,229.2 L650,229.2 L650.8,229.2 L651.6,229.3 L652.4,229.3 L653.2,229.3 L654,229.3 L654.8,229.3 L655.6,229.3 L656.4,229.3 L657.2,229.3 L658,229.3 L658.8,229.3 L659.6,229.3 L660.4,229.3 L661.2,229.4 L662,229.4 L662.8,229.4 L663.6,229.4 L663.6,229.4 L662.8,229.4 L662,229.4 L661.2,229.4 L660.4,229.3 L659.6,229.3 L658.8,229.3 L658,229.3 L657.2,229.3 L656.4,229.3 L655.6,229.3 L654.8,229.3 L654,229.3 L653.2,229.3 L652.4,229.3 L651.6,229.3 L650.8,229.3 L650,229.2 L649.2,229.2 L648.4,229.2 L647.6,229.2 L646.8,229.2 L646,229.2 L645.2,229.2 L644.4,229.2 L643.6,229.2 L642.8,229.1 L642,229.1 L641.2,229.1 L640.4,229.1 L639.6,229.1 L638.8,229.1 L638,229 L637.2,229 L636.4,229 L635.6,229 L634.8,229 L634,228.9 L633.2,228.9 L632.4,228.9 L631.6,228.9 L630.8,228.9 L630,228.8 L629.2,228.8 L628.4,228.8 L627.6,228.8 L626.8,228.8 L626,228.7 L625.2,228.7 L624.4,228.7 L623.6,228.7 L622.8,228.7 L622,228.6 L621.2,228.6 L620.4,228.6 L619.6,228.6 L618.8,228.5 L618,228.5 L617.2,228.5 L616.4,228.4 L615.6,228.4 L614.8,228.3 L614,228.3 L613.2,228.3 L612.4,228.2 L611.6,228.2 L610.8,228.1 L610,228.1 L609.2,228.1 L608.4,228 L607.6,228 L606.8,227.9 L606,227.9 L605.2,227.9 L604.4,227.8 L603.6,227.8 L602.8,227.7 L602,227.7 L601.2,227.7 L600.4,227.6 L599.6,227.6 L598.8,227.5 L598,227.5 L597.2,227.4 L596.4,227.3 L595.6,227.3 L594.8,227.2 L594,227.2 L593.2,227.1 L592.4,227 L591.6,227 L590.8,226.9 L590,226.9 L589.2,226.8 L588.4,226.8 L587.6,226.7 L586.8,226.6 L586,226.6 L585.2,226.5 L584.4,226.5 L583.6,226.4 L582.8,226.4 L582,226.3 L581.2,226.3 L580.4,226.2 L579.6,226.2 L578.8,226.1 L578,226.1 L577.2,226 L576.4,226 L575.6,225.9 L574.8,225.9 L574,225.8 L573.2,225.8 L572.4,225.7 L571.6,225.7 L570.8,225.7 L570,225.6 L569.2,225.6 L568.4,225.5 L567.6,225.5 L566.8,225.4 L566,225.4 L565.2,225.3 L564.4,225.3 L563.6,225.2 L562.8,225.2 L562,225.1 L561.2,225.1 L560.4,225 L559.6,225 L558.8,225 L558,224.9 L557.2,224.9 L556.4,224.9 L555.6,224.9 L554.8,224.8 L554,224.8 L553.2,224.8 L552.4,224.7 L551.6,224.7 L550.8,224.7 L550,224.7 L549.2,224.6 L548.4,224.6 L547.6,224.6 L546.8,224.6 L546,224.5 L545.2,224.5 L544.4,224.5 L543.6,224.5 L542.8,224.4 L542,224.4 L541.2,224.4 L540.4,224.3 L539.6,224.3 L538.8,224.3 L538,224.3 L537.2,224.2 L536.4,224.2 L535.6,224.2 L534.8,224.2 L534,224.1 L533.2,224.1 L532.4,224.1 L531.6,224.1 L530.8,224 L530,224 L529.2,224 L528.4,224 L527.6,224 L526.9,223.9 L526.1,223.9 L525.3,223.9 L524.5,223.9 L523.7,223.9 L522.9,223.9 L522.1,223.8 L521.3,223.8 L520.5,223.8 L519.7,223.8 L518.9,223.8 L518.1,223.8 L517.3,223.7 L516.5,223.7 L515.7,223.7 L514.9,223.7 L514.1,223.7 L513.3,223.7 L512.5,223.6 L511.7,223.6 L510.9,223.6 L510.1,223.6 L509.3,223.6 L508.5,223.6 L507.7,223.6 L506.9,223.5 L506.1,223.5 L505.3,223.5 L504.5,223.5 L503.7,223.5 L502.9,223.5 L502.1,223.4 L501.3,223.4 L500.5,223.4 L499.7,223.4 L498.9,223.4 L498.1,223.4 L497.3,223.3 L496.5,223.3 L495.7,223.3 L494.9,223.3 L494.1,223.3 L493.3,223.3 L492.5,223.2 L491.7,223.2 L490.9,223.2 L490.1,223.2 L489.3,223.2 L488.5,223.2 L487.7,223.2 L486.9,223.1 L486.1,223.1 L485.3,223.1 L484.5,223.1 L483.7,223.1 L482.9,223.1 L482.1,223 L481.3,223 L480.5,223 L479.7,223 L478.9,223 L478.1,223 L477.3,223 L476.5,223 L475.7,222.9 L474.9,222.9 L474.1,222.9 L473.3,222.9 L472.5,222.9 L471.7,222.9 L470.9,222.9 L470.1,222.9 L469.3,222.9 L468.5,222.9 L467.7,222.9 L466.9,222.8 L466.1,222.8 L465.3,222.8 L464.5,222.8 L463.7,222.8 L462.9,222.8 L462.1,222.8 L461.3,222.8 L460.5,222.8 L459.7,222.8 L458.9,222.7 L458.1,222.7 L457.3,222.7 L456.5,222.7 L455.7,222.7 L454.9,222.7 L454.1,222.7 L453.3,222.7 L452.5,222.7 L451.7,222.7 L450.9,222.7 Z" fill="rgba(155,97,97,0.55)" stroke="none"/><path d="M415,222.3 L415.8,222.3 L416.6,222.3 L417.4,222.3 L418.2,222.3 L419,222.3 L419.8,222.3 L420.6,222.3 L421.4,222.3 L422.2,222.3 L423,222.3 L423.8,222.3 L424.6,222.4 L425.4,222.4 L426.2,222.4 L427,222.4 L427.8,222.4 L428.6,222.4 L429.4,222.4 L430.2,222.4 L431,222.4 L431.8,222.4 L432.6,222.4 L433.4,222.4 L434.2,222.4 L435,222.4 L435.8,222.5 L436.6,222.5 L437.4,222.5 L438.2,222.5 L439,222.5 L439.8,222.5 L440.6,222.5 L441.4,222.5 L442.2,222.5 L443,222.5 L443.8,222.5 L444.6,222.5 L445.4,222.5 L446.2,222.5 L447,222.5 L447.8,222.5 L448.6,222.5 L449.4,222.5 L450.2,222.5 L451,222.5 L451.8,222.5 L452.6,222.5 L453.4,222.5 L454.2,222.5 L455,222.4 L455.8,222.4 L456.6,222.4 L457.4,222.4 L458.2,222.4 L459,222.3 L459.8,222.3 L460.6,222.3 L461.4,222.2 L462.2,222.2 L463,222.1 L463.8,222.1 L464.6,222 L465.4,222 L466.2,221.9 L467,221.9 L467.8,221.8 L468.6,221.7 L469.4,221.6 L470.2,221.6 L471,221.5 L471.8,221.4 L472.6,221.3 L473.4,221.2 L474.2,221.1 L475,221 L475.8,220.9 L476.6,220.8 L477.4,220.7 L478.2,220.5 L479,220.4 L479.8,220.3 L480.6,220.2 L481.4,220 L482.2,219.9 L483,219.8 L483.8,219.7 L484.6,219.5 L485.4,219.4 L486.2,219.3 L487,219.1 L487.8,219 L488.6,218.9 L489.4,218.8 L490.2,218.6 L491,218.5 L491.8,218.4 L492.6,218.3 L493.4,218.2 L494.2,218.1 L495,218 L495.8,217.9 L496.6,217.8 L497.4,217.8 L498.2,217.7 L499,217.6 L499.8,217.6 L500.6,217.6 L501.4,217.5 L502.2,217.5 L503,217.5 L503.8,217.5 L504.6,217.5 L505.4,217.5 L506.2,217.5 L507,217.6 L507.8,217.6 L508.6,217.7 L509.4,217.7 L510.2,217.8 L511,217.9 L511.8,218 L512.6,218.1 L513.4,218.2 L514.2,218.3 L515,218.4 L515.8,218.5 L516.6,218.7 L517.4,218.8 L518.2,218.9 L519,219.1 L519.8,219.2 L520.6,219.4 L521.4,219.5 L522.2,219.7 L523,219.9 L523.8,220 L524.6,220.2 L525.4,220.3 L526.2,220.5 L527,220.7 L527.8,220.8 L528.6,221 L529.4,221.1 L530.2,221.3 L531,221.5 L531.8,221.6 L532.6,221.8 L533.4,221.9 L534.2,222.1 L535,222.2 L535.8,222.4 L536.6,222.5 L537.4,222.6 L538.2,222.8 L539,222.9 L539.8,223 L540.6,223.1 L541.4,223.2 L542.2,223.3 L543,223.4 L543.8,223.5 L544.6,223.6 L545.4,223.7 L546.2,223.8 L547,223.9 L547.8,224 L548.6,224.1 L549.4,224.1 L550.2,224.2 L551,224.3 L551.8,224.3 L552.6,224.4 L553.4,224.5 L554.2,224.5 L555,224.6 L555.8,224.6 L556.6,224.7 L557.4,224.7 L558.2,224.8 L559,224.8 L559.8,224.9 L560.6,224.9 L561.4,225 L562.2,225 L563,225.1 L563.8,225.1 L564.6,225.2 L565.4,225.3 L566.2,225.3 L567,225.4 L567.8,225.4 L568.6,225.5 L569.4,225.5 L570.2,225.6 L571,225.6 L571.8,225.7 L572.6,225.7 L573.4,225.8 L574.2,225.8 L575,225.9 L575.8,225.9 L576.6,226 L577.4,226 L578.2,226.1 L579,226.1 L579.8,226.2 L580.6,226.2 L581.4,226.3 L582.2,226.3 L583,226.4 L583.8,226.4 L584.6,226.5 L585.4,226.5 L586.2,226.6 L587,226.6 L587.8,226.7 L588.6,226.8 L589.4,226.8 L590.2,226.9 L591,226.9 L591.8,227 L592.6,227.1 L593.4,227.1 L594.2,227.2 L595,227.2 L595,227.2 L594.2,227.2 L593.4,227.1 L592.6,227.1 L591.8,227 L591,226.9 L590.2,226.9 L589.4,226.8 L588.6,226.8 L587.8,226.7 L587,226.6 L586.2,226.6 L585.4,226.5 L584.6,226.5 L583.8,226.4 L583,226.4 L582.2,226.3 L581.4,226.3 L580.6,226.2 L579.8,226.2 L579,226.1 L578.2,226.1 L577.4,226 L576.6,226 L575.8,225.9 L575,225.9 L574.2,225.9 L573.4,225.8 L572.6,225.8 L571.8,225.7 L571,225.7 L570.2,225.6 L569.4,225.6 L568.6,225.5 L567.8,225.5 L567,225.4 L566.2,225.4 L565.4,225.3 L564.6,225.3 L563.8,225.2 L563,225.2 L562.2,225.1 L561.4,225.1 L560.6,225 L559.8,225 L559,225 L558.2,224.9 L557.4,224.9 L556.6,224.9 L555.8,224.9 L555,224.8 L554.2,224.8 L553.4,224.8 L552.6,224.8 L551.8,224.7 L551,224.7 L550.2,224.7 L549.4,224.6 L548.6,224.6 L547.8,224.6 L547,224.6 L546.2,224.5 L545.4,224.5 L544.6,224.5 L543.8,224.5 L543,224.4 L542.2,224.4 L541.4,224.4 L540.6,224.4 L539.8,224.3 L539,224.3 L538.2,224.3 L537.4,224.2 L536.6,224.2 L535.8,224.2 L535,224.2 L534.2,224.1 L533.4,224.1 L532.6,224.1 L531.8,224.1 L531,224 L530.2,224 L529.4,224 L528.6,224 L527.8,224 L527,223.9 L526.2,223.9 L525.4,223.9 L524.6,223.9 L523.8,223.9 L523,223.9 L522.2,223.8 L521.4,223.8 L520.6,223.8 L519.8,223.8 L519,223.8 L518.2,223.8 L517.4,223.7 L516.6,223.7 L515.8,223.7 L515,223.7 L514.2,223.7 L513.4,223.7 L512.6,223.7 L511.8,223.6 L511,223.6 L510.2,223.6 L509.4,223.6 L508.6,223.6 L507.8,223.6 L507,223.5 L506.2,223.5 L505.4,223.5 L504.6,223.5 L503.8,223.5 L503,223.5 L502.2,223.4 L501.4,223.4 L500.6,223.4 L499.8,223.4 L499,223.4 L498.2,223.4 L497.4,223.3 L496.6,223.3 L495.8,223.3 L495,223.3 L494.2,223.3 L493.4,223.3 L492.6,223.3 L491.8,223.2 L491,223.2 L490.2,223.2 L489.4,223.2 L488.6,223.2 L487.8,223.2 L487,223.1 L486.2,223.1 L485.4,223.1 L484.6,223.1 L483.8,223.1 L483,223.1 L482.2,223 L481.4,223 L480.6,223 L479.8,223 L479,223 L478.2,223 L477.4,223 L476.6,223 L475.8,222.9 L475,222.9 L474.2,222.9 L473.4,222.9 L472.6,222.9 L471.8,222.9 L471,222.9 L470.2,222.9 L469.4,222.9 L468.6,222.9 L467.8,222.9 L467,222.8 L466.2,222.8 L465.4,222.8 L464.6,222.8 L463.8,222.8 L463,222.8 L462.2,222.8 L461.4,222.8 L460.6,222.8 L459.8,222.8 L459,222.7 L458.2,222.7 L457.4,222.7 L456.6,222.7 L455.8,222.7 L455,222.7 L454.2,222.7 L453.4,222.7 L452.6,222.7 L451.8,222.7 L451,222.7 L450.2,222.6 L449.4,222.6 L448.6,222.6 L447.8,222.6 L447,222.6 L446.2,222.6 L445.4,222.6 L444.6,222.6 L443.8,222.6 L443,222.6 L442.2,222.5 L441.4,222.5 L440.6,222.5 L439.8,222.5 L439,222.5 L438.2,222.5 L437.4,222.5 L436.6,222.5 L435.8,222.5 L435,222.5 L434.2,222.5 L433.4,222.4 L432.6,222.4 L431.8,222.4 L431,222.4 L430.2,222.4 L429.4,222.4 L428.6,222.4 L427.8,222.4 L427,222.4 L426.2,222.4 L425.4,222.4 L424.6,222.4 L423.8,222.3 L423,222.3 L422.2,222.3 L421.4,222.3 L420.6,222.3 L419.8,222.3 L419,222.3 L418.2,222.3 L417.4,222.3 L416.6,222.3 L415.8,222.3 L415,222.3 Z" fill="rgba(205,140,175,0.45)" stroke="none"/><path d="M384.2,222 L385,222 L385.8,222 L386.6,222 L387.4,222 L388.2,222 L389,222 L389.8,222 L390.6,222.1 L391.4,222.1 L392.2,222.1 L393,222.1 L393.8,222.1 L394.6,222.1 L395.4,222.1 L396.2,222.1 L397,222.1 L397.8,222.1 L398.6,222.1 L399.4,222.1 L400.2,222.1 L401,222.1 L401.8,222.1 L402.6,222.1 L403.4,222.2 L404.2,222.2 L405,222.2 L405.8,222.2 L406.6,222.2 L407.4,222.2 L408.2,222.2 L409,222.2 L409.8,222.2 L410.6,222.2 L411.4,222.2 L412.2,222.2 L413,222.2 L413.8,222.2 L414.6,222.2 L415.4,222.2 L416.2,222.2 L417,222.2 L417.8,222.2 L418.6,222.2 L419.4,222.2 L420.2,222.2 L421,222.1 L421.8,222.1 L422.6,222.1 L423.4,222.1 L424.2,222.1 L425,222.1 L425.8,222.1 L426.6,222 L427.4,222 L428.2,222 L429,222 L429.8,221.9 L430.6,221.9 L431.4,221.9 L432.2,221.9 L433,221.8 L433.8,221.8 L434.6,221.7 L435.4,221.7 L436.2,221.7 L437,221.6 L437.8,221.6 L438.6,221.5 L439.4,221.4 L440.2,221.4 L441,221.3 L441.8,221.3 L442.6,221.2 L443.4,221.1 L444.2,221 L445,221 L445.8,220.9 L446.6,220.8 L447.4,220.7 L448.2,220.6 L449,220.5 L449.8,220.4 L450.6,220.3 L451.4,220.2 L452.2,220.2 L453,220.1 L453.8,220 L454.6,219.9 L455.4,219.8 L456.2,219.7 L457,219.6 L457.8,219.5 L458.6,219.4 L459.4,219.3 L460.2,219.2 L461,219.1 L461.8,219 L462.6,218.9 L463.4,218.8 L464.2,218.7 L465,218.6 L465.8,218.5 L466.6,218.5 L467.4,218.4 L468.2,218.3 L469,218.3 L469.8,218.2 L470.6,218.2 L471.4,218.1 L472.2,218.1 L473,218 L473.8,218 L474.6,218 L475.4,218 L476.2,218 L477,218 L477.8,218 L478.6,218 L479.4,218 L480.2,218 L481,218.1 L481.8,218.1 L482.6,218.2 L483.4,218.2 L484.2,218.3 L485,218.3 L485.8,218.4 L486.6,218.5 L487.4,218.6 L488.2,218.7 L489,218.8 L489.8,218.9 L490.6,219 L491.4,219.1 L492.2,219.2 L493,219.3 L493.8,219.4 L494.6,219.5 L495.4,219.7 L496.2,219.8 L497,219.9 L497.8,220 L498.6,220.1 L499.4,220.3 L500.2,220.4 L501,220.5 L501.8,220.7 L502.6,220.8 L503.4,220.9 L504.2,221 L505,221.1 L505.8,221.3 L506.6,221.4 L507.4,221.5 L508.2,221.6 L509,221.7 L509.8,221.8 L510.6,221.9 L511.4,222 L512.2,222.2 L513,222.2 L513.8,222.3 L514.6,222.4 L515.4,222.5 L516.2,222.6 L517,222.7 L517.8,222.8 L518.6,222.9 L519.4,222.9 L520.2,223 L521,223.1 L521.8,223.1 L522.6,223.2 L523.4,223.3 L524.2,223.3 L525,223.4 L525.8,223.4 L526.6,223.5 L527.4,223.5 L528.2,223.6 L529,223.6 L529.8,223.7 L530.6,223.7 L531.4,223.8 L532.2,223.8 L533,223.9 L533.8,223.9 L534.6,224 L535.4,224 L536.2,224.1 L537,224.1 L537.8,224.1 L538.6,224.2 L539.4,224.2 L540.2,224.2 L541,224.3 L541.8,224.3 L542.6,224.4 L543.4,224.4 L544.2,224.4 L545,224.5 L545.8,224.5 L546.6,224.5 L547.4,224.5 L548.2,224.6 L549,224.6 L549.8,224.6 L550.6,224.7 L551.4,224.7 L552.2,224.7 L553,224.8 L553.8,224.8 L554.6,224.8 L555.4,224.8 L556.2,224.9 L557,224.9 L557.8,224.9 L558.6,224.9 L559.4,225 L560.2,225 L561,225.1 L561.8,225.1 L562.6,225.2 L563.4,225.2 L564.2,225.2 L565,225.3 L565.8,225.3 L566.6,225.4 L567.4,225.4 L568.2,225.5 L569,225.5 L569.8,225.6 L570.6,225.6 L571.4,225.7 L572.2,225.7 L573,225.8 L573.8,225.8 L574.6,225.9 L575.4,225.9 L576.2,226 L577,226 L577,226 L576.2,226 L575.4,225.9 L574.6,225.9 L573.8,225.8 L573,225.8 L572.2,225.7 L571.4,225.7 L570.6,225.6 L569.8,225.6 L569,225.5 L568.2,225.5 L567.4,225.4 L566.6,225.4 L565.8,225.3 L565,225.3 L564.2,225.3 L563.4,225.2 L562.6,225.2 L561.8,225.1 L561,225.1 L560.2,225 L559.4,225 L558.6,225 L557.8,224.9 L557,224.9 L556.2,224.9 L555.4,224.8 L554.6,224.8 L553.8,224.8 L553,224.8 L552.2,224.7 L551.4,224.7 L550.6,224.7 L549.8,224.7 L549,224.6 L548.2,224.6 L547.4,224.6 L546.6,224.6 L545.8,224.5 L545,224.5 L544.2,224.5 L543.4,224.4 L542.6,224.4 L541.8,224.4 L541,224.4 L540.2,224.3 L539.4,224.3 L538.6,224.3 L537.8,224.3 L537,224.2 L536.2,224.2 L535.4,224.2 L534.6,224.2 L533.8,224.1 L533,224.1 L532.2,224.1 L531.4,224 L530.6,224 L529.8,224 L529,224 L528.2,224 L527.4,223.9 L526.6,223.9 L525.8,223.9 L525,223.9 L524.2,223.9 L523.4,223.9 L522.6,223.9 L521.8,223.8 L521,223.8 L520.2,223.8 L519.4,223.8 L518.6,223.8 L517.8,223.8 L517,223.7 L516.2,223.7 L515.4,223.7 L514.6,223.7 L513.8,223.7 L513,223.7 L512.2,223.6 L511.4,223.6 L510.6,223.6 L509.8,223.6 L509,223.6 L508.2,223.6 L507.4,223.5 L506.6,223.5 L505.8,223.5 L505,223.5 L504.2,223.5 L503.4,223.5 L502.6,223.5 L501.8,223.4 L501,223.4 L500.2,223.4 L499.4,223.4 L498.6,223.4 L497.8,223.4 L497,223.3 L496.2,223.3 L495.4,223.3 L494.6,223.3 L493.8,223.3 L493,223.3 L492.2,223.2 L491.4,223.2 L490.6,223.2 L489.8,223.2 L489,223.2 L488.2,223.2 L487.4,223.1 L486.6,223.1 L485.8,223.1 L485,223.1 L484.2,223.1 L483.4,223.1 L482.6,223.1 L481.8,223 L481,223 L480.2,223 L479.4,223 L478.6,223 L477.8,223 L477,223 L476.2,223 L475.4,222.9 L474.6,222.9 L473.8,222.9 L473,222.9 L472.2,222.9 L471.4,222.9 L470.6,222.9 L469.8,222.9 L469,222.9 L468.2,222.9 L467.4,222.8 L466.6,222.8 L465.8,222.8 L465,222.8 L464.2,222.8 L463.4,222.8 L462.6,222.8 L461.8,222.8 L461,222.8 L460.2,222.8 L459.4,222.8 L458.6,222.7 L457.8,222.7 L457,222.7 L456.2,222.7 L455.4,222.7 L454.6,222.7 L453.8,222.7 L453,222.7 L452.2,222.7 L451.4,222.7 L450.6,222.6 L449.8,222.6 L449,222.6 L448.2,222.6 L447.4,222.6 L446.6,222.6 L445.8,222.6 L445,222.6 L444.2,222.6 L443.4,222.6 L442.6,222.6 L441.8,222.5 L441,222.5 L440.2,222.5 L439.4,222.5 L438.6,222.5 L437.8,222.5 L437,222.5 L436.2,222.5 L435.4,222.5 L434.6,222.5 L433.8,222.4 L433,222.4 L432.2,222.4 L431.4,222.4 L430.6,222.4 L429.8,222.4 L429,222.4 L428.2,222.4 L427.4,222.4 L426.6,222.4 L425.8,222.4 L425,222.4 L424.2,222.3 L423.4,222.3 L422.6,222.3 L421.8,222.3 L421,222.3 L420.2,222.3 L419.4,222.3 L418.6,222.3 L417.8,222.3 L417,222.3 L416.2,222.3 L415.4,222.3 L414.6,222.3 L413.8,222.3 L413,222.3 L412.2,222.2 L411.4,222.2 L410.6,222.2 L409.8,222.2 L409,222.2 L408.2,222.2 L407.4,222.2 L406.6,222.2 L405.8,222.2 L405,222.2 L404.2,222.2 L403.4,222.2 L402.6,222.2 L401.8,222.2 L401,222.1 L400.2,222.1 L399.4,222.1 L398.6,222.1 L397.8,222.1 L397,222.1 L396.2,222.1 L395.4,222.1 L394.6,222.1 L393.8,222.1 L393,222.1 L392.2,222.1 L391.4,222.1 L390.6,222.1 L389.8,222.1 L389,222 L388.2,222 L387.4,222 L386.6,222 L385.8,222 L385,222 L384.2,222 Z" fill="rgba(200,150,160,0.45)" stroke="none"/><path d="M384.2,220.4 L385,220.4 L385.8,220.3 L386.6,220.3 L387.4,220.3 L388.2,220.2 L389,220.2 L389.8,220.1 L390.6,220.1 L391.4,220 L392.2,220 L393,219.9 L393.8,219.9 L394.6,219.8 L395.4,219.8 L396.2,219.7 L397,219.7 L397.8,219.6 L398.6,219.6 L399.4,219.5 L400.2,219.5 L401,219.4 L401.8,219.4 L402.6,219.3 L403.4,219.3 L404.2,219.2 L405,219.1 L405.8,219.1 L406.6,219 L407.4,219 L408.2,218.9 L409,218.9 L409.8,218.8 L410.6,218.8 L411.4,218.7 L412.2,218.7 L413,218.6 L413.8,218.6 L414.6,218.5 L415.4,218.5 L416.2,218.4 L417,218.4 L417.8,218.3 L418.6,218.3 L419.4,218.2 L420.2,218.2 L421,218.1 L421.8,218.1 L422.6,218.1 L423.4,218 L424.2,218 L425,217.9 L425.8,217.9 L426.6,217.9 L427.4,217.8 L428.2,217.8 L429,217.8 L429.8,217.7 L430.6,217.7 L431.4,217.7 L432.2,217.7 L433,217.7 L433.8,217.6 L434.6,217.6 L435.4,217.6 L436.2,217.6 L437,217.6 L437.8,217.6 L438.6,217.6 L439.4,217.6 L440.2,217.6 L441,217.6 L441.8,217.6 L442.6,217.6 L443.4,217.6 L444.2,217.6 L445,217.6 L445.8,217.6 L446.6,217.6 L447.4,217.6 L448.2,217.6 L449,217.7 L449.8,217.7 L450.6,217.7 L451.4,217.7 L452.2,217.7 L453,217.8 L453.8,217.8 L454.6,217.8 L455.4,217.9 L456.2,217.9 L457,217.9 L457.8,218 L458.6,218 L459.4,218.1 L460.2,218.1 L461,218.2 L461.8,218.2 L462.6,218.3 L463.4,218.3 L464.2,218.4 L465,218.4 L465.8,218.5 L466.6,218.5 L467.4,218.6 L468.2,218.6 L469,218.7 L469.8,218.8 L470.6,218.8 L471.4,218.9 L472.2,218.9 L473,219 L473.8,219.1 L474.6,219.1 L475.4,219.2 L476.2,219.3 L477,219.3 L477.8,219.4 L478.6,219.5 L479.4,219.5 L480.2,219.6 L481,219.7 L481.8,219.8 L482.6,219.8 L483.4,219.9 L484.2,220 L485,220.1 L485.8,220.1 L486.6,220.2 L487.4,220.3 L488.2,220.4 L489,220.4 L489.8,220.5 L490.6,220.6 L491.4,220.7 L492.2,220.8 L493,220.8 L493.8,220.9 L494.6,221 L495.4,221 L496.2,221.1 L497,221.2 L497.8,221.3 L498.6,221.3 L499.4,221.4 L500.2,221.5 L501,221.5 L501.8,221.6 L502.6,221.7 L503.4,221.7 L504.2,221.8 L505,221.9 L505.8,221.9 L506.6,222 L507.4,222.1 L508.2,222.1 L509,222.2 L509.8,222.2 L510.6,222.3 L511.4,222.4 L512.2,222.4 L513,222.5 L513.8,222.5 L514.6,222.6 L515.4,222.6 L516.2,222.7 L517,222.8 L517.8,222.8 L518.6,222.9 L519.4,222.9 L520.2,222.9 L521,223 L521.8,223 L522.6,223.1 L523.4,223.1 L524.2,223.2 L525,223.2 L525.8,223.3 L526.6,223.3 L527.4,223.3 L528.2,223.4 L529,223.4 L529.8,223.5 L530.6,223.5 L531.4,223.6 L532.2,223.6 L533,223.7 L533.8,223.7 L534.6,223.7 L535.4,223.8 L536.2,223.8 L537,223.9 L537.8,223.9 L538.6,224 L539.4,224 L540.2,224 L541,224.1 L541.8,224.1 L542.6,224.2 L543.4,224.2 L544.2,224.2 L545,224.3 L545.8,224.3 L546.6,224.4 L547.4,224.4 L548.2,224.4 L549,224.5 L549.8,224.5 L550.6,224.5 L551.4,224.6 L552.2,224.6 L553,224.6 L553.8,224.7 L554.6,224.7 L555.4,224.7 L556.2,224.8 L557,224.8 L557.8,224.8 L558.6,224.9 L559.4,224.9 L560.2,224.9 L561,225 L561.8,225 L562.6,225.1 L563.4,225.1 L564.2,225.2 L565,225.2 L565.8,225.3 L566.6,225.3 L567.4,225.4 L568.2,225.4 L569,225.5 L569.8,225.5 L570.6,225.6 L571.4,225.7 L572.2,225.7 L573,225.8 L573.8,225.8 L574.6,225.8 L575.4,225.9 L576.2,225.9 L577,226 L577.8,226 L578.6,226.1 L579.4,226.1 L580.2,226.2 L581,226.2 L581.8,226.3 L582.6,226.3 L583.4,226.4 L584.2,226.4 L585,226.5 L585.8,226.5 L586.6,226.6 L587.4,226.7 L588.2,226.7 L589,226.8 L589.8,226.8 L590.6,226.9 L591.4,227 L592.2,227 L593,227.1 L593.8,227.1 L594.6,227.2 L595.4,227.3 L596.2,227.3 L597,227.4 L597.8,227.4 L598.6,227.5 L599.4,227.6 L600.2,227.6 L601,227.6 L601.8,227.7 L602.6,227.7 L603.4,227.8 L604.2,227.8 L605,227.8 L605.8,227.9 L606.6,227.9 L607.4,228 L608.2,228 L609,228 L609.8,228.1 L610.6,228.1 L611.4,228.2 L612.2,228.2 L613,228.2 L613.8,228.3 L614.6,228.3 L615.4,228.4 L616.2,228.4 L617,228.4 L617.8,228.5 L618.6,228.5 L619.4,228.6 L620.2,228.6 L621,228.6 L621.8,228.6 L622.6,228.7 L623.4,228.7 L624.2,228.7 L625,228.7 L625,228.7 L624.2,228.7 L623.4,228.7 L622.6,228.7 L621.8,228.6 L621,228.6 L620.2,228.6 L619.4,228.6 L618.6,228.5 L617.8,228.5 L617,228.4 L616.2,228.4 L615.4,228.4 L614.6,228.3 L613.8,228.3 L613,228.2 L612.2,228.2 L611.4,228.2 L610.6,228.1 L609.8,228.1 L609,228 L608.2,228 L607.4,228 L606.6,227.9 L605.8,227.9 L605,227.8 L604.2,227.8 L603.4,227.8 L602.6,227.7 L601.8,227.7 L601,227.6 L600.2,227.6 L599.4,227.6 L598.6,227.5 L597.8,227.4 L597,227.4 L596.2,227.3 L595.4,227.3 L594.6,227.2 L593.8,227.1 L593,227.1 L592.2,227 L591.4,227 L590.6,226.9 L589.8,226.9 L589,226.8 L588.2,226.7 L587.4,226.7 L586.6,226.6 L585.8,226.6 L585,226.5 L584.2,226.5 L583.4,226.4 L582.6,226.4 L581.8,226.3 L581,226.3 L580.2,226.2 L579.4,226.2 L578.6,226.1 L577.8,226.1 L577,226 L576.2,226 L575.4,225.9 L574.6,225.9 L573.8,225.8 L573,225.8 L572.2,225.7 L571.4,225.7 L570.6,225.6 L569.8,225.6 L569,225.5 L568.2,225.5 L567.4,225.4 L566.6,225.4 L565.8,225.3 L565,225.3 L564.2,225.3 L563.4,225.2 L562.6,225.2 L561.8,225.1 L561,225.1 L560.2,225 L559.4,225 L558.6,225 L557.8,224.9 L557,224.9 L556.2,224.9 L555.4,224.8 L554.6,224.8 L553.8,224.8 L553,224.8 L552.2,224.7 L551.4,224.7 L550.6,224.7 L549.8,224.7 L549,224.6 L548.2,224.6 L547.4,224.6 L546.6,224.6 L545.8,224.5 L545,224.5 L544.2,224.5 L543.4,224.4 L542.6,224.4 L541.8,224.4 L541,224.4 L540.2,224.3 L539.4,224.3 L538.6,224.3 L537.8,224.3 L537,224.2 L536.2,224.2 L535.4,224.2 L534.6,224.2 L533.8,224.1 L533,224.1 L532.2,224.1 L531.4,224 L530.6,224 L529.8,224 L529,224 L528.2,224 L527.4,223.9 L526.6,223.9 L525.8,223.9 L525,223.9 L524.2,223.9 L523.4,223.9 L522.6,223.9 L521.8,223.8 L521,223.8 L520.2,223.8 L519.4,223.8 L518.6,223.8 L517.8,223.8 L517,223.7 L516.2,223.7 L515.4,223.7 L514.6,223.7 L513.8,223.7 L513,223.7 L512.2,223.6 L511.4,223.6 L510.6,223.6 L509.8,223.6 L509,223.6 L508.2,223.6 L507.4,223.5 L506.6,223.5 L505.8,223.5 L505,223.5 L504.2,223.5 L503.4,223.5 L502.6,223.5 L501.8,223.4 L501,223.4 L500.2,223.4 L499.4,223.4 L498.6,223.4 L497.8,223.4 L497,223.3 L496.2,223.3 L495.4,223.3 L494.6,223.3 L493.8,223.3 L493,223.3 L492.2,223.2 L491.4,223.2 L490.6,223.2 L489.8,223.2 L489,223.2 L488.2,223.2 L487.4,223.1 L486.6,223.1 L485.8,223.1 L485,223.1 L484.2,223.1 L483.4,223.1 L482.6,223.1 L481.8,223 L481,223 L480.2,223 L479.4,223 L478.6,223 L477.8,223 L477,223 L476.2,223 L475.4,222.9 L474.6,222.9 L473.8,222.9 L473,222.9 L472.2,222.9 L471.4,222.9 L470.6,222.9 L469.8,222.9 L469,222.9 L468.2,222.9 L467.4,222.8 L466.6,222.8 L465.8,222.8 L465,222.8 L464.2,222.8 L463.4,222.8 L462.6,222.8 L461.8,222.8 L461,222.8 L460.2,222.8 L459.4,222.8 L458.6,222.7 L457.8,222.7 L457,222.7 L456.2,222.7 L455.4,222.7 L454.6,222.7 L453.8,222.7 L453,222.7 L452.2,222.7 L451.4,222.7 L450.6,222.6 L449.8,222.6 L449,222.6 L448.2,222.6 L447.4,222.6 L446.6,222.6 L445.8,222.6 L445,222.6 L444.2,222.6 L443.4,222.6 L442.6,222.6 L441.8,222.5 L441,222.5 L440.2,222.5 L439.4,222.5 L438.6,222.5 L437.8,222.5 L437,222.5 L436.2,222.5 L435.4,222.5 L434.6,222.5 L433.8,222.4 L433,222.4 L432.2,222.4 L431.4,222.4 L430.6,222.4 L429.8,222.4 L429,222.4 L428.2,222.4 L427.4,222.4 L426.6,222.4 L425.8,222.4 L425,222.4 L424.2,222.3 L423.4,222.3 L422.6,222.3 L421.8,222.3 L421,222.3 L420.2,222.3 L419.4,222.3 L418.6,222.3 L417.8,222.3 L417,222.3 L416.2,222.3 L415.4,222.3 L414.6,222.3 L413.8,222.3 L413,222.3 L412.2,222.2 L411.4,222.2 L410.6,222.2 L409.8,222.2 L409,222.2 L408.2,222.2 L407.4,222.2 L406.6,222.2 L405.8,222.2 L405,222.2 L404.2,222.2 L403.4,222.2 L402.6,222.2 L401.8,222.2 L401,222.1 L400.2,222.1 L399.4,222.1 L398.6,222.1 L397.8,222.1 L397,222.1 L396.2,222.1 L395.4,222.1 L394.6,222.1 L393.8,222.1 L393,222.1 L392.2,222.1 L391.4,222.1 L390.6,222.1 L389.8,222.1 L389,222 L388.2,222 L387.4,222 L386.6,222 L385.8,222 L385,222 L384.2,222 Z" fill="rgba(215,140,175,0.45)" stroke="none"/><path d="M384.2,222 L385,222 L385.8,222 L386.6,222 L387.4,222 L388.2,222 L389,222 L389.8,222.1 L390.6,222.1 L391.4,222.1 L392.2,222.1 L393,222.1 L393.8,222.1 L394.6,222.1 L395.4,222.1 L396.2,222.1 L397,222.1 L397.8,222.1 L398.6,222.1 L399.4,222.1 L400.2,222.1 L401,222.1 L401.8,222.2 L402.6,222.2 L403.4,222.2 L404.2,222.2 L405,222.2 L405.8,222.2 L406.6,222.2 L407.4,222.2 L408.2,222.2 L409,222.2 L409.8,222.2 L410.6,222.2 L411.4,222.2 L412.2,222.2 L413,222.3 L413.8,222.3 L414.6,222.3 L415.4,222.3 L416.2,222.3 L417,222.3 L417.8,222.3 L418.6,222.3 L419.4,222.3 L420.2,222.3 L421,222.3 L421.8,222.3 L422.6,222.3 L423.4,222.3 L424.2,222.3 L425,222.4 L425.8,222.4 L426.6,222.4 L427.4,222.4 L428.2,222.4 L429,222.4 L429.8,222.4 L430.6,222.4 L431.4,222.4 L432.2,222.4 L433,222.4 L433.8,222.4 L434.6,222.5 L435.4,222.5 L436.2,222.5 L437,222.5 L437.8,222.5 L438.6,222.5 L439.4,222.5 L440.2,222.5 L441,222.5 L441.8,222.5 L442.6,222.6 L443.4,222.6 L444.2,222.6 L445,222.6 L445.8,222.6 L446.6,222.6 L447.4,222.6 L448.2,222.6 L449,222.6 L449.8,222.6 L450.6,222.6 L451.4,222.7 L452.2,222.7 L453,222.7 L453.8,222.7 L454.6,222.7 L455.4,222.7 L456.2,222.7 L457,222.7 L457.8,222.7 L458.6,222.7 L459.4,222.8 L460.2,222.8 L461,222.8 L461.8,222.8 L462.6,222.8 L463.4,222.8 L464.2,222.8 L465,222.8 L465.8,222.8 L466.6,222.8 L467.4,222.8 L468.2,222.9 L469,222.9 L469.8,222.9 L470.6,222.9 L471.4,222.9 L472.2,222.9 L473,222.9 L473.8,222.9 L474.6,222.9 L475.4,222.9 L476.2,223 L477,223 L477.8,223 L478.6,223 L479.4,223 L480.2,223 L481,223 L481.8,223 L482.6,223.1 L483.4,223.1 L484.2,223.1 L485,223.1 L485.8,223.1 L486.6,223.1 L487.4,223.1 L488.2,223.2 L489,223.2 L489.8,223.2 L490.6,223.2 L491.4,223.2 L492.2,223.2 L493,223.3 L493.8,223.3 L494.6,223.3 L495.4,223.3 L496.2,223.3 L497,223.3 L497.8,223.4 L498.6,223.4 L499.4,223.4 L500.2,223.4 L501,223.4 L501.8,223.4 L502.6,223.5 L503.4,223.5 L504.2,223.5 L505,223.5 L505.8,223.5 L506.6,223.5 L507.4,223.5 L508.2,223.6 L509,223.6 L509.8,223.6 L510.6,223.6 L511.4,223.6 L512.2,223.6 L513,223.7 L513.8,223.7 L514.6,223.7 L515.4,223.7 L516.2,223.7 L517,223.7 L517.8,223.8 L518.6,223.8 L519.4,223.8 L520.2,223.8 L521,223.8 L521.8,223.8 L522.6,223.9 L523.4,223.9 L524.2,223.9 L525,223.9 L525.8,223.9 L526.6,223.9 L527.4,223.9 L528.2,224 L529,224 L529.8,224 L530.6,224 L531.4,224 L532.2,224.1 L533,224.1 L533.8,224.1 L534.6,224.2 L535.4,224.2 L536.2,224.2 L537,224.2 L537.8,224.3 L538.6,224.3 L539.4,224.3 L540.2,224.3 L541,224.4 L541.8,224.4 L542.6,224.4 L543.4,224.4 L544.2,224.5 L545,224.5 L545.8,224.5 L546.6,224.6 L547.4,224.6 L548.2,224.6 L549,224.6 L549.8,224.7 L550.6,224.7 L551.4,224.7 L552.2,224.7 L553,224.8 L553.8,224.8 L554.6,224.8 L555.4,224.8 L556.2,224.9 L557,224.9 L557.8,224.9 L558.6,225 L559.4,225 L560.2,225 L561,225.1 L561.8,225.1 L562.6,225.1 L563.4,225.2 L564.2,225.2 L565,225.2 L565.8,225.2 L566.6,225.2 L567.4,225.2 L568.2,225.1 L569,225 L569.8,224.9 L570.6,224.7 L571.4,224.3 L572.2,223.9 L573,223.3 L573.8,222.6 L574.6,221.6 L575.4,220.4 L576.2,218.9 L577,217.1 L577.8,214.8 L578.6,212.2 L579.4,209.1 L580.2,205.4 L581,201.3 L581.8,196.7 L582.6,191.6 L583.4,186 L584.2,180.1 L585,173.8 L585.8,167.4 L586.6,160.9 L587.4,154.4 L588.2,148.2 L589,142.4 L589.8,137.2 L590.6,132.6 L591.4,129 L592.2,126.3 L593,124.7 L593.8,124.1 L594.6,124.7 L595.4,126.2 L596.2,128.7 L597,132 L597.8,136 L598.6,140.6 L599.4,145.7 L600.2,151.2 L601,156.9 L601.8,162.8 L602.6,168.8 L603.4,174.6 L604.2,180.4 L605,185.9 L605.8,191 L606.6,195.8 L607.4,200.2 L608.2,204.2 L609,207.7 L609.8,210.7 L610.6,213.4 L611.4,215.7 L612.2,217.6 L613,219.2 L613.8,220.6 L614.6,221.7 L615.4,222.6 L616.2,223.4 L617,224 L617.8,224.5 L618.6,225 L619.4,225.4 L620.2,225.7 L621,225.9 L621.8,226.1 L622.6,226.3 L623.4,226.5 L624.2,226.7 L625,226.8 L625.8,226.9 L626.6,227 L627.4,227.2 L628.2,227.3 L629,227.3 L629.8,227.4 L630.6,227.5 L631.4,227.6 L632.2,227.7 L633,227.8 L633.8,227.8 L634.6,227.9 L635.4,228 L636.2,228 L637,228.1 L637.8,228.1 L638.6,228.2 L639.4,228.2 L640.2,228.3 L641,228.3 L641.8,228.4 L642.6,228.4 L643.4,228.5 L644.2,228.5 L645,228.6 L645.8,228.6 L646.6,228.6 L647.4,228.6 L648.2,228.7 L649,228.7 L649.8,228.7 L650.6,228.7 L651.4,228.8 L652.2,228.8 L653,228.8 L653.8,228.8 L654.6,228.9 L655.4,228.9 L656.2,228.9 L657,228.9 L657.8,228.9 L658.6,228.9 L659.4,229 L660.2,229 L661,229 L661.8,229 L662.6,229 L663.4,229 L664.2,229.1 L665,229.1 L665.8,229.1 L666.6,229.1 L667.4,229.1 L668.2,229.1 L669,229.2 L669.8,229.2 L670.6,229.2 L671.4,229.2 L672.2,229.2 L673,229.2 L673.8,229.2 L674.6,229.2" fill="none" stroke="#9A4E86" stroke-width="1.8" stroke-linejoin="round"/><path d="M560.2,225 L561,225.1 L561.8,225.1 L562.6,225.2 L563.4,225.2 L564.2,225.3 L565,225.3 L565.8,225.3 L566.6,225.4 L567.4,225.4 L568.2,225.5 L569,225.5 L569.8,225.5 L570.6,225.6 L571.4,225.6 L572.2,225.6 L573,225.7 L573.8,225.7 L574.6,225.7 L575.4,225.7 L576.2,225.6 L577,225.6 L577.8,225.5 L578.6,225.4 L579.4,225.3 L580.2,225.2 L581,225 L581.8,224.8 L582.6,224.5 L583.4,224.2 L584.2,223.8 L585,223.4 L585.8,222.9 L586.6,222.4 L587.4,221.8 L588.2,221.2 L589,220.5 L589.8,219.8 L590.6,219 L591.4,218.1 L592.2,217.3 L593,216.4 L593.8,215.5 L594.6,214.6 L595.4,213.8 L596.2,213 L597,212.2 L597.8,211.5 L598.6,210.8 L599.4,210.3 L600.2,209.9 L601,209.5 L601.8,209.3 L602.6,209.2 L603.4,209.3 L604.2,209.5 L605,209.8 L605.8,210.2 L606.6,210.7 L607.4,211.4 L608.2,212.1 L609,212.9 L609.8,213.8 L610.6,214.8 L611.4,215.7 L612.2,216.7 L613,217.7 L613.8,218.7 L614.6,219.6 L615.4,220.5 L616.2,221.4 L617,222.3 L617.8,223 L618.6,223.8 L619.4,224.4 L620.2,225 L621,225.6 L621.8,226.1 L622.6,226.5 L623.4,226.9 L624.2,227.2 L625,227.5 L625.8,227.7 L626.6,227.9 L627.4,228.1 L628.2,228.3 L629,228.4 L629.8,228.5 L630.6,228.6 L631.4,228.7 L632.2,228.7 L633,228.8 L633.8,228.8 L634.6,228.9 L635.4,228.9 L636.2,228.9 L637,229 L637.8,229 L638.6,229 L639.4,229.1 L640.2,229.1 L641,229.1 L641.8,229.1 L642.6,229.1 L643.4,229.2 L644.2,229.2 L645,229.2" fill="none" stroke="#C83CA0" stroke-width="1.8" stroke-linejoin="round"/><path d="M522.9,223.9 L523.7,223.9 L524.5,223.9 L525.3,223.9 L526.1,223.9 L526.9,223.9 L527.7,223.9 L528.5,224 L529.3,224 L530.1,224 L530.9,224 L531.7,224 L532.5,224 L533.3,224 L534.1,224.1 L534.9,224.1 L535.7,224.1 L536.5,224.1 L537.3,224.1 L538.1,224 L538.9,224 L539.7,224 L540.5,223.9 L541.3,223.9 L542.1,223.8 L542.9,223.7 L543.7,223.6 L544.5,223.5 L545.3,223.3 L546.1,223.1 L546.9,222.9 L547.7,222.6 L548.5,222.3 L549.3,222 L550.1,221.6 L550.9,221.1 L551.7,220.6 L552.5,220 L553.3,219.4 L554.1,218.6 L554.9,217.8 L555.7,216.9 L556.5,215.9 L557.3,214.8 L558.1,213.6 L558.9,212.3 L559.7,210.9 L560.5,209.4 L561.3,207.8 L562.1,206.1 L562.9,204.2 L563.7,202.3 L564.5,200.2 L565.3,198.1 L566.1,195.8 L566.9,193.5 L567.7,191.1 L568.5,188.6 L569.3,186 L570.1,183.5 L570.9,180.9 L571.7,178.3 L572.5,175.7 L573.3,173.1 L574.1,170.6 L574.9,168.1 L575.7,165.8 L576.5,163.5 L577.3,161.4 L578.1,159.5 L578.9,157.7 L579.7,156 L580.5,154.6 L581.3,153.4 L582.1,152.5 L582.9,151.7 L583.7,151.3 L584.5,151 L585.3,151 L586.1,151.3 L586.9,151.9 L587.7,152.6 L588.5,153.6 L589.3,154.9 L590.1,156.4 L590.9,158 L591.7,159.9 L592.5,161.9 L593.3,164.1 L594.1,166.4 L594.9,168.9 L595.7,171.4 L596.5,174 L597.3,176.7 L598.1,179.3 L598.9,182.1 L599.7,184.8 L600.5,187.4 L601.3,190.1 L602.1,192.7 L602.9,195.2 L603.7,197.6 L604.5,200 L605.3,202.3 L606.1,204.4 L606.9,206.5 L607.7,208.5 L608.5,210.3 L609.3,212 L610.1,213.7 L610.9,215.2 L611.7,216.6 L612.5,217.9 L613.3,219 L614.1,220.1 L614.9,221.1 L615.7,222 L616.5,222.8 L617.3,223.6 L618.1,224.3 L618.9,224.9 L619.7,225.4 L620.5,225.9 L621.3,226.3 L622.1,226.6 L622.9,226.9 L623.7,227.2 L624.5,227.5 L625.3,227.7 L626.1,227.9 L626.9,228 L627.7,228.2 L628.5,228.3 L629.3,228.4 L630.1,228.5 L630.9,228.6 L631.7,228.6 L632.5,228.7 L633.3,228.8 L634.1,228.8 L634.9,228.8 L635.7,228.9 L636.5,228.9 L637.3,229 L638.1,229 L638.9,229 L639.7,229 L640.5,229.1 L641.3,229.1 L642.1,229.1 L642.9,229.1 L643.7,229.2 L644.5,229.2 L645.3,229.2 L646.1,229.2 L646.9,229.2" fill="none" stroke="#E262B2" stroke-width="1.8" stroke-linejoin="round"/><path d="M450.9,222.6 L451.7,222.7 L452.5,222.7 L453.3,222.7 L454.1,222.7 L454.9,222.7 L455.7,222.7 L456.5,222.7 L457.3,222.7 L458.1,222.7 L458.9,222.7 L459.7,222.7 L460.5,222.8 L461.3,222.8 L462.1,222.8 L462.9,222.8 L463.7,222.8 L464.5,222.8 L465.3,222.8 L466.1,222.8 L466.9,222.8 L467.7,222.8 L468.5,222.8 L469.3,222.8 L470.1,222.8 L470.9,222.9 L471.7,222.9 L472.5,222.9 L473.3,222.9 L474.1,222.9 L474.9,222.9 L475.7,222.9 L476.5,222.9 L477.3,222.9 L478.1,222.9 L478.9,222.9 L479.7,222.9 L480.5,222.9 L481.3,222.8 L482.1,222.8 L482.9,222.8 L483.7,222.8 L484.5,222.8 L485.3,222.8 L486.1,222.8 L486.9,222.8 L487.7,222.8 L488.5,222.7 L489.3,222.7 L490.1,222.7 L490.9,222.6 L491.7,222.6 L492.5,222.5 L493.3,222.5 L494.1,222.4 L494.9,222.4 L495.7,222.3 L496.5,222.2 L497.3,222.1 L498.1,222 L498.9,221.9 L499.7,221.8 L500.5,221.7 L501.3,221.6 L502.1,221.4 L502.9,221.3 L503.7,221.1 L504.5,221 L505.3,220.8 L506.1,220.6 L506.9,220.4 L507.7,220.2 L508.5,219.9 L509.3,219.7 L510.1,219.4 L510.9,219.1 L511.7,218.9 L512.5,218.6 L513.3,218.2 L514.1,217.9 L514.9,217.6 L515.7,217.2 L516.5,216.8 L517.3,216.4 L518.1,216 L518.9,215.6 L519.7,215.1 L520.5,214.7 L521.3,214.2 L522.1,213.7 L522.9,213.2 L523.7,212.7 L524.5,212.2 L525.3,211.6 L526.1,211.1 L526.9,210.5 L527.6,209.9 L528.4,209.3 L529.2,208.8 L530,208.2 L530.8,207.6 L531.6,207 L532.4,206.3 L533.2,205.7 L534,205.1 L534.8,204.5 L535.6,203.9 L536.4,203.3 L537.2,202.7 L538,202.1 L538.8,201.5 L539.6,201 L540.4,200.4 L541.2,199.9 L542,199.3 L542.8,198.8 L543.6,198.3 L544.4,197.8 L545.2,197.4 L546,196.9 L546.8,196.5 L547.6,196.2 L548.4,195.8 L549.2,195.5 L550,195.2 L550.8,194.9 L551.6,194.7 L552.4,194.4 L553.2,194.3 L554,194.1 L554.8,194 L555.6,193.9 L556.4,193.9 L557.2,193.9 L558,193.9 L558.8,194 L559.6,194.1 L560.4,194.3 L561.2,194.5 L562,194.7 L562.8,195 L563.6,195.2 L564.4,195.6 L565.2,195.9 L566,196.3 L566.8,196.7 L567.6,197.2 L568.4,197.6 L569.2,198.1 L570,198.7 L570.8,199.2 L571.6,199.8 L572.4,200.3 L573.2,200.9 L574,201.6 L574.8,202.2 L575.6,202.8 L576.4,203.5 L577.2,204.1 L578,204.8 L578.8,205.5 L579.6,206.1 L580.4,206.8 L581.2,207.5 L582,208.2 L582.8,208.9 L583.6,209.6 L584.4,210.2 L585.2,210.9 L586,211.6 L586.8,212.2 L587.6,212.9 L588.4,213.5 L589.2,214.2 L590,214.8 L590.8,215.4 L591.6,216 L592.4,216.6 L593.2,217.2 L594,217.7 L594.8,218.3 L595.6,218.8 L596.4,219.3 L597.2,219.8 L598,220.3 L598.8,220.7 L599.6,221.2 L600.4,221.6 L601.2,222 L602,222.4 L602.8,222.8 L603.6,223.1 L604.4,223.5 L605.2,223.8 L606,224.1 L606.8,224.4 L607.6,224.7 L608.4,224.9 L609.2,225.2 L610,225.4 L610.8,225.7 L611.6,225.9 L612.4,226.1 L613.2,226.3 L614,226.5 L614.8,226.7 L615.6,226.9 L616.4,227 L617.2,227.2 L618,227.3 L618.8,227.5 L619.6,227.6 L620.4,227.7 L621.2,227.8 L622,227.9 L622.8,228 L623.6,228.1 L624.4,228.1 L625.2,228.2 L626,228.3 L626.8,228.3 L627.6,228.4 L628.4,228.5 L629.2,228.5 L630,228.6 L630.8,228.6 L631.6,228.6 L632.4,228.7 L633.2,228.7 L634,228.8 L634.8,228.8 L635.6,228.8 L636.4,228.9 L637.2,228.9 L638,228.9 L638.8,229 L639.6,229 L640.4,229 L641.2,229 L642,229.1 L642.8,229.1 L643.6,229.1 L644.4,229.1 L645.2,229.2 L646,229.2 L646.8,229.2 L647.6,229.2 L648.4,229.2 L649.2,229.2 L650,229.2 L650.8,229.2 L651.6,229.3 L652.4,229.3 L653.2,229.3 L654,229.3 L654.8,229.3 L655.6,229.3 L656.4,229.3 L657.2,229.3 L658,229.3 L658.8,229.3 L659.6,229.3 L660.4,229.3 L661.2,229.4 L662,229.4 L662.8,229.4 L663.6,229.4" fill="none" stroke="#EC7070" stroke-width="1.8" stroke-linejoin="round"/><path d="M415,222.3 L415.8,222.3 L416.6,222.3 L417.4,222.3 L418.2,222.3 L419,222.3 L419.8,222.3 L420.6,222.3 L421.4,222.3 L422.2,222.3 L423,222.3 L423.8,222.3 L424.6,222.4 L425.4,222.4 L426.2,222.4 L427,222.4 L427.8,222.4 L428.6,222.4 L429.4,222.4 L430.2,222.4 L431,222.4 L431.8,222.4 L432.6,222.4 L433.4,222.4 L434.2,222.4 L435,222.4 L435.8,222.5 L436.6,222.5 L437.4,222.5 L438.2,222.5 L439,222.5 L439.8,222.5 L440.6,222.5 L441.4,222.5 L442.2,222.5 L443,222.5 L443.8,222.5 L444.6,222.5 L445.4,222.5 L446.2,222.5 L447,222.5 L447.8,222.5 L448.6,222.5 L449.4,222.5 L450.2,222.5 L451,222.5 L451.8,222.5 L452.6,222.5 L453.4,222.5 L454.2,222.5 L455,222.4 L455.8,222.4 L456.6,222.4 L457.4,222.4 L458.2,222.4 L459,222.3 L459.8,222.3 L460.6,222.3 L461.4,222.2 L462.2,222.2 L463,222.1 L463.8,222.1 L464.6,222 L465.4,222 L466.2,221.9 L467,221.9 L467.8,221.8 L468.6,221.7 L469.4,221.6 L470.2,221.6 L471,221.5 L471.8,221.4 L472.6,221.3 L473.4,221.2 L474.2,221.1 L475,221 L475.8,220.9 L476.6,220.8 L477.4,220.7 L478.2,220.5 L479,220.4 L479.8,220.3 L480.6,220.2 L481.4,220 L482.2,219.9 L483,219.8 L483.8,219.7 L484.6,219.5 L485.4,219.4 L486.2,219.3 L487,219.1 L487.8,219 L488.6,218.9 L489.4,218.8 L490.2,218.6 L491,218.5 L491.8,218.4 L492.6,218.3 L493.4,218.2 L494.2,218.1 L495,218 L495.8,217.9 L496.6,217.8 L497.4,217.8 L498.2,217.7 L499,217.6 L499.8,217.6 L500.6,217.6 L501.4,217.5 L502.2,217.5 L503,217.5 L503.8,217.5 L504.6,217.5 L505.4,217.5 L506.2,217.5 L507,217.6 L507.8,217.6 L508.6,217.7 L509.4,217.7 L510.2,217.8 L511,217.9 L511.8,218 L512.6,218.1 L513.4,218.2 L514.2,218.3 L515,218.4 L515.8,218.5 L516.6,218.7 L517.4,218.8 L518.2,218.9 L519,219.1 L519.8,219.2 L520.6,219.4 L521.4,219.5 L522.2,219.7 L523,219.9 L523.8,220 L524.6,220.2 L525.4,220.3 L526.2,220.5 L527,220.7 L527.8,220.8 L528.6,221 L529.4,221.1 L530.2,221.3 L531,221.5 L531.8,221.6 L532.6,221.8 L533.4,221.9 L534.2,222.1 L535,222.2 L535.8,222.4 L536.6,222.5 L537.4,222.6 L538.2,222.8 L539,222.9 L539.8,223 L540.6,223.1 L541.4,223.2 L542.2,223.3 L543,223.4 L543.8,223.5 L544.6,223.6 L545.4,223.7 L546.2,223.8 L547,223.9 L547.8,224 L548.6,224.1 L549.4,224.1 L550.2,224.2 L551,224.3 L551.8,224.3 L552.6,224.4 L553.4,224.5 L554.2,224.5 L555,224.6 L555.8,224.6 L556.6,224.7 L557.4,224.7 L558.2,224.8 L559,224.8 L559.8,224.9 L560.6,224.9 L561.4,225 L562.2,225 L563,225.1 L563.8,225.1 L564.6,225.2 L565.4,225.3 L566.2,225.3 L567,225.4 L567.8,225.4 L568.6,225.5 L569.4,225.5 L570.2,225.6 L571,225.6 L571.8,225.7 L572.6,225.7 L573.4,225.8 L574.2,225.8 L575,225.9 L575.8,225.9 L576.6,226 L577.4,226 L578.2,226.1 L579,226.1 L579.8,226.2 L580.6,226.2 L581.4,226.3 L582.2,226.3 L583,226.4 L583.8,226.4 L584.6,226.5 L585.4,226.5 L586.2,226.6 L587,226.6 L587.8,226.7 L588.6,226.8 L589.4,226.8 L590.2,226.9 L591,226.9 L591.8,227 L592.6,227.1 L593.4,227.1 L594.2,227.2 L595,227.2" fill="none" stroke="#EE98C6" stroke-width="1.8" stroke-linejoin="round"/><path d="M384.2,222 L385,222 L385.8,222 L386.6,222 L387.4,222 L388.2,222 L389,222 L389.8,222 L390.6,222.1 L391.4,222.1 L392.2,222.1 L393,222.1 L393.8,222.1 L394.6,222.1 L395.4,222.1 L396.2,222.1 L397,222.1 L397.8,222.1 L398.6,222.1 L399.4,222.1 L400.2,222.1 L401,222.1 L401.8,222.1 L402.6,222.1 L403.4,222.2 L404.2,222.2 L405,222.2 L405.8,222.2 L406.6,222.2 L407.4,222.2 L408.2,222.2 L409,222.2 L409.8,222.2 L410.6,222.2 L411.4,222.2 L412.2,222.2 L413,222.2 L413.8,222.2 L414.6,222.2 L415.4,222.2 L416.2,222.2 L417,222.2 L417.8,222.2 L418.6,222.2 L419.4,222.2 L420.2,222.2 L421,222.1 L421.8,222.1 L422.6,222.1 L423.4,222.1 L424.2,222.1 L425,222.1 L425.8,222.1 L426.6,222 L427.4,222 L428.2,222 L429,222 L429.8,221.9 L430.6,221.9 L431.4,221.9 L432.2,221.9 L433,221.8 L433.8,221.8 L434.6,221.7 L435.4,221.7 L436.2,221.7 L437,221.6 L437.8,221.6 L438.6,221.5 L439.4,221.4 L440.2,221.4 L441,221.3 L441.8,221.3 L442.6,221.2 L443.4,221.1 L444.2,221 L445,221 L445.8,220.9 L446.6,220.8 L447.4,220.7 L448.2,220.6 L449,220.5 L449.8,220.4 L450.6,220.3 L451.4,220.2 L452.2,220.2 L453,220.1 L453.8,220 L454.6,219.9 L455.4,219.8 L456.2,219.7 L457,219.6 L457.8,219.5 L458.6,219.4 L459.4,219.3 L460.2,219.2 L461,219.1 L461.8,219 L462.6,218.9 L463.4,218.8 L464.2,218.7 L465,218.6 L465.8,218.5 L466.6,218.5 L467.4,218.4 L468.2,218.3 L469,218.3 L469.8,218.2 L470.6,218.2 L471.4,218.1 L472.2,218.1 L473,218 L473.8,218 L474.6,218 L475.4,218 L476.2,218 L477,218 L477.8,218 L478.6,218 L479.4,218 L480.2,218 L481,218.1 L481.8,218.1 L482.6,218.2 L483.4,218.2 L484.2,218.3 L485,218.3 L485.8,218.4 L486.6,218.5 L487.4,218.6 L488.2,218.7 L489,218.8 L489.8,218.9 L490.6,219 L491.4,219.1 L492.2,219.2 L493,219.3 L493.8,219.4 L494.6,219.5 L495.4,219.7 L496.2,219.8 L497,219.9 L497.8,220 L498.6,220.1 L499.4,220.3 L500.2,220.4 L501,220.5 L501.8,220.7 L502.6,220.8 L503.4,220.9 L504.2,221 L505,221.1 L505.8,221.3 L506.6,221.4 L507.4,221.5 L508.2,221.6 L509,221.7 L509.8,221.8 L510.6,221.9 L511.4,222 L512.2,222.2 L513,222.2 L513.8,222.3 L514.6,222.4 L515.4,222.5 L516.2,222.6 L517,222.7 L517.8,222.8 L518.6,222.9 L519.4,222.9 L520.2,223 L521,223.1 L521.8,223.1 L522.6,223.2 L523.4,223.3 L524.2,223.3 L525,223.4 L525.8,223.4 L526.6,223.5 L527.4,223.5 L528.2,223.6 L529,223.6 L529.8,223.7 L530.6,223.7 L531.4,223.8 L532.2,223.8 L533,223.9 L533.8,223.9 L534.6,224 L535.4,224 L536.2,224.1 L537,224.1 L537.8,224.1 L538.6,224.2 L539.4,224.2 L540.2,224.2 L541,224.3 L541.8,224.3 L542.6,224.4 L543.4,224.4 L544.2,224.4 L545,224.5 L545.8,224.5 L546.6,224.5 L547.4,224.5 L548.2,224.6 L549,224.6 L549.8,224.6 L550.6,224.7 L551.4,224.7 L552.2,224.7 L553,224.8 L553.8,224.8 L554.6,224.8 L555.4,224.8 L556.2,224.9 L557,224.9 L557.8,224.9 L558.6,224.9 L559.4,225 L560.2,225 L561,225.1 L561.8,225.1 L562.6,225.2 L563.4,225.2 L564.2,225.2 L565,225.3 L565.8,225.3 L566.6,225.4 L567.4,225.4 L568.2,225.5 L569,225.5 L569.8,225.6 L570.6,225.6 L571.4,225.7 L572.2,225.7 L573,225.8 L573.8,225.8 L574.6,225.9 L575.4,225.9 L576.2,226 L577,226" fill="none" stroke="#F0A8BC" stroke-width="1.8" stroke-linejoin="round"/><path d="M384.2,220.4 L385,220.4 L385.8,220.3 L386.6,220.3 L387.4,220.3 L388.2,220.2 L389,220.2 L389.8,220.1 L390.6,220.1 L391.4,220 L392.2,220 L393,219.9 L393.8,219.9 L394.6,219.8 L395.4,219.8 L396.2,219.7 L397,219.7 L397.8,219.6 L398.6,219.6 L399.4,219.5 L400.2,219.5 L401,219.4 L401.8,219.4 L402.6,219.3 L403.4,219.3 L404.2,219.2 L405,219.1 L405.8,219.1 L406.6,219 L407.4,219 L408.2,218.9 L409,218.9 L409.8,218.8 L410.6,218.8 L411.4,218.7 L412.2,218.7 L413,218.6 L413.8,218.6 L414.6,218.5 L415.4,218.5 L416.2,218.4 L417,218.4 L417.8,218.3 L418.6,218.3 L419.4,218.2 L420.2,218.2 L421,218.1 L421.8,218.1 L422.6,218.1 L423.4,218 L424.2,218 L425,217.9 L425.8,217.9 L426.6,217.9 L427.4,217.8 L428.2,217.8 L429,217.8 L429.8,217.7 L430.6,217.7 L431.4,217.7 L432.2,217.7 L433,217.7 L433.8,217.6 L434.6,217.6 L435.4,217.6 L436.2,217.6 L437,217.6 L437.8,217.6 L438.6,217.6 L439.4,217.6 L440.2,217.6 L441,217.6 L441.8,217.6 L442.6,217.6 L443.4,217.6 L444.2,217.6 L445,217.6 L445.8,217.6 L446.6,217.6 L447.4,217.6 L448.2,217.6 L449,217.7 L449.8,217.7 L450.6,217.7 L451.4,217.7 L452.2,217.7 L453,217.8 L453.8,217.8 L454.6,217.8 L455.4,217.9 L456.2,217.9 L457,217.9 L457.8,218 L458.6,218 L459.4,218.1 L460.2,218.1 L461,218.2 L461.8,218.2 L462.6,218.3 L463.4,218.3 L464.2,218.4 L465,218.4 L465.8,218.5 L466.6,218.5 L467.4,218.6 L468.2,218.6 L469,218.7 L469.8,218.8 L470.6,218.8 L471.4,218.9 L472.2,218.9 L473,219 L473.8,219.1 L474.6,219.1 L475.4,219.2 L476.2,219.3 L477,219.3 L477.8,219.4 L478.6,219.5 L479.4,219.5 L480.2,219.6 L481,219.7 L481.8,219.8 L482.6,219.8 L483.4,219.9 L484.2,220 L485,220.1 L485.8,220.1 L486.6,220.2 L487.4,220.3 L488.2,220.4 L489,220.4 L489.8,220.5 L490.6,220.6 L491.4,220.7 L492.2,220.8 L493,220.8 L493.8,220.9 L494.6,221 L495.4,221 L496.2,221.1 L497,221.2 L497.8,221.3 L498.6,221.3 L499.4,221.4 L500.2,221.5 L501,221.5 L501.8,221.6 L502.6,221.7 L503.4,221.7 L504.2,221.8 L505,221.9 L505.8,221.9 L506.6,222 L507.4,222.1 L508.2,222.1 L509,222.2 L509.8,222.2 L510.6,222.3 L511.4,222.4 L512.2,222.4 L513,222.5 L513.8,222.5 L514.6,222.6 L515.4,222.6 L516.2,222.7 L517,222.8 L517.8,222.8 L518.6,222.9 L519.4,222.9 L520.2,222.9 L521,223 L521.8,223 L522.6,223.1 L523.4,223.1 L524.2,223.2 L525,223.2 L525.8,223.3 L526.6,223.3 L527.4,223.3 L528.2,223.4 L529,223.4 L529.8,223.5 L530.6,223.5 L531.4,223.6 L532.2,223.6 L533,223.7 L533.8,223.7 L534.6,223.7 L535.4,223.8 L536.2,223.8 L537,223.9 L537.8,223.9 L538.6,224 L539.4,224 L540.2,224 L541,224.1 L541.8,224.1 L542.6,224.2 L543.4,224.2 L544.2,224.2 L545,224.3 L545.8,224.3 L546.6,224.4 L547.4,224.4 L548.2,224.4 L549,224.5 L549.8,224.5 L550.6,224.5 L551.4,224.6 L552.2,224.6 L553,224.6 L553.8,224.7 L554.6,224.7 L555.4,224.7 L556.2,224.8 L557,224.8 L557.8,224.8 L558.6,224.9 L559.4,224.9 L560.2,224.9 L561,225 L561.8,225 L562.6,225.1 L563.4,225.1 L564.2,225.2 L565,225.2 L565.8,225.3 L566.6,225.3 L567.4,225.4 L568.2,225.4 L569,225.5 L569.8,225.5 L570.6,225.6 L571.4,225.7 L572.2,225.7 L573,225.8 L573.8,225.8 L574.6,225.8 L575.4,225.9 L576.2,225.9 L577,226 L577.8,226 L578.6,226.1 L579.4,226.1 L580.2,226.2 L581,226.2 L581.8,226.3 L582.6,226.3 L583.4,226.4 L584.2,226.4 L585,226.5 L585.8,226.5 L586.6,226.6 L587.4,226.7 L588.2,226.7 L589,226.8 L589.8,226.8 L590.6,226.9 L591.4,227 L592.2,227 L593,227.1 L593.8,227.1 L594.6,227.2 L595.4,227.3 L596.2,227.3 L597,227.4 L597.8,227.4 L598.6,227.5 L599.4,227.6 L600.2,227.6 L601,227.6 L601.8,227.7 L602.6,227.7 L603.4,227.8 L604.2,227.8 L605,227.8 L605.8,227.9 L606.6,227.9 L607.4,228 L608.2,228 L609,228 L609.8,228.1 L610.6,228.1 L611.4,228.2 L612.2,228.2 L613,228.2 L613.8,228.3 L614.6,228.3 L615.4,228.4 L616.2,228.4 L617,228.4 L617.8,228.5 L618.6,228.5 L619.4,228.6 L620.2,228.6 L621,228.6 L621.8,228.6 L622.6,228.7 L623.4,228.7 L624.2,228.7 L625,228.7" fill="none" stroke="#F4A6CC" stroke-width="1.8" stroke-linejoin="round"/><path d="M384,222 L430,222.4 L480,223 L530,224 L560,225 L585,226.5 L600,227.6 L620,228.6 L645,229.2 L676,229.5" fill="none" stroke="#F794C8" stroke-width="3.0"/></g>
<rect x="384.2" y="2.5" width="290.8" height="233.7" fill="none" stroke="#000" stroke-width="2.7"/>
<line x1="408" y1="236.2" x2="408" y2="240.4" stroke="#000" stroke-width="2"/>
<text x="408" y="253.2" font-size="12" text-anchor="middle" font-weight="bold" >292</text>
<line x1="456.5" y1="236.2" x2="456.5" y2="240.4" stroke="#000" stroke-width="2"/>
<text x="456.5" y="253.2" font-size="12" text-anchor="middle" font-weight="bold" >290</text>
<line x1="505" y1="236.2" x2="505" y2="240.4" stroke="#000" stroke-width="2"/>
<text x="505" y="253.2" font-size="12" text-anchor="middle" font-weight="bold" >288</text>
<line x1="553.5" y1="236.2" x2="553.5" y2="240.4" stroke="#000" stroke-width="2"/>
<text x="553.5" y="253.2" font-size="12" text-anchor="middle" font-weight="bold" >286</text>
<line x1="602" y1="236.2" x2="602" y2="240.4" stroke="#000" stroke-width="2"/>
<text x="602" y="253.2" font-size="12" text-anchor="middle" font-weight="bold" >284</text>
<line x1="650.5" y1="236.2" x2="650.5" y2="240.4" stroke="#000" stroke-width="2"/>
<text x="650.5" y="253.2" font-size="12" text-anchor="middle" font-weight="bold" >282</text>
<line x1="383.8" y1="236.2" x2="383.8" y2="238.2" stroke="#000" stroke-width="2"/>
<line x1="432.2" y1="236.2" x2="432.2" y2="238.2" stroke="#000" stroke-width="2"/>
<line x1="480.8" y1="236.2" x2="480.8" y2="238.2" stroke="#000" stroke-width="2"/>
<line x1="529.2" y1="236.2" x2="529.2" y2="238.2" stroke="#000" stroke-width="2"/>
<line x1="577.8" y1="236.2" x2="577.8" y2="238.2" stroke="#000" stroke-width="2"/>
<line x1="626.2" y1="236.2" x2="626.2" y2="238.2" stroke="#000" stroke-width="2"/>
<line x1="674.8" y1="236.2" x2="674.8" y2="238.2" stroke="#000" stroke-width="2"/>
<circle cx="400.9" cy="14.6" r="3.2" fill="none" stroke="#D40000" stroke-width="1.3"/>
<text x="415" y="17.6" font-size="10" text-anchor="start" font-weight="bold" >C 1s HR spectrum</text>
<line x1="388.8" y1="27.3" x2="412.9" y2="27.3" stroke="#D40000" stroke-width="2.2" stroke-linecap="round"/>
<text x="415" y="30.7" font-size="10" text-anchor="start" font-weight="bold" >Envelope</text>
<line x1="388.8" y1="40" x2="412.9" y2="40" stroke="#7A3A0A" stroke-width="2.2" stroke-linecap="round"/>
<text x="415" y="43.5" font-size="10" text-anchor="start" font-weight="bold" >Background</text>
<rect x="389.6" y="47.2" width="22.5" height="10.2" fill="#A898A4" stroke="#8C6080" stroke-width="1.6"/>
<text x="415" y="56.5" font-size="10" text-anchor="start" font-weight="bold" >C-C<tspan font-size="6.5" dy="2.5">low BE</tspan></text>
<rect x="389.6" y="61.4" width="22.5" height="9.7" fill="#B098A8" stroke="#A06490" stroke-width="1.6"/>
<text x="415" y="70.2" font-size="10" text-anchor="start" font-weight="bold" >C=C</text>
<rect x="389.6" y="74.5" width="22.5" height="10.3" fill="#C4A4B8" stroke="#C878AA" stroke-width="1.6"/>
<text x="415" y="83.7" font-size="10" text-anchor="start" font-weight="bold" >C-C<tspan font-size="6.5" dy="2.5">high BE</tspan></text>
<rect x="389.6" y="88.7" width="22.5" height="9.9" fill="#C4B0B0" stroke="#D08C8C" stroke-width="1.6"/>
<text x="415" y="97.3" font-size="10" text-anchor="start" font-weight="bold" >C-O/C-N</text>
<rect x="389.6" y="101.2" width="22.5" height="9.8" fill="#C4ACBC" stroke="#C882B4" stroke-width="1.6"/>
<text x="415" y="110.8" font-size="10" text-anchor="start" font-weight="bold" >C=O/C=N</text>
<rect x="389.6" y="113.6" width="22.5" height="10.1" fill="#C4B4B4" stroke="#D0A0A0" stroke-width="1.6"/>
<text x="415" y="124.2" font-size="10" text-anchor="start" font-weight="bold" >COO</text>
<rect x="389.6" y="128.3" width="22.5" height="10.5" fill="#C4B4BE" stroke="#C8A0B8" stroke-width="1.6"/>
<text x="415" y="137.8" font-size="10" text-anchor="start" font-weight="bold" >π–π<tspan font-size="6.5" dy="-4">*</tspan><tspan dy="4"> satellite</tspan></text>
<text x="627.8" y="45.9" font-size="32.2" text-anchor="start" font-weight="bold" >(b)</text>
<text transform="translate(364.6,112.9) rotate(-90)" x="0" y="0" font-size="17.5" text-anchor="middle" font-weight="bold">Intensity (a.u.)</text>
<text x="529.6" y="278.5" font-size="17.5" text-anchor="middle" font-weight="bold" >Binding Energy (eV)</text>
<clipPath id="cc"><rect x="34.3" y="298.9" width="288.4" height="231"/></clipPath>
<g clip-path="url(#cc)">
<g fill="none" stroke="#0A22CC" stroke-width="1.4"><circle cx="27.2" cy="481.4" r="3.7"/><circle cx="30.1" cy="484.5" r="3.7"/><circle cx="33" cy="485.2" r="3.7"/><circle cx="35.9" cy="485.1" r="3.7"/><circle cx="38.9" cy="485.5" r="3.7"/><circle cx="41.6" cy="483.5" r="3.7"/><circle cx="44.4" cy="485.3" r="3.7"/><circle cx="47.3" cy="479.9" r="3.7"/><circle cx="50.7" cy="486.2" r="3.7"/><circle cx="53.4" cy="481.5" r="3.7"/><circle cx="56.1" cy="484.8" r="3.7"/><circle cx="58.9" cy="481.7" r="3.7"/><circle cx="61.9" cy="481.1" r="3.7"/><circle cx="65" cy="481" r="3.7"/><circle cx="67.9" cy="481.2" r="3.7"/><circle cx="70.9" cy="478.8" r="3.7"/><circle cx="73.7" cy="478.8" r="3.7"/><circle cx="76.5" cy="477.9" r="3.7"/><circle cx="79.9" cy="480.8" r="3.7"/><circle cx="82.6" cy="477.9" r="3.7"/><circle cx="85.3" cy="477.5" r="3.7"/><circle cx="88" cy="477.8" r="3.7"/><circle cx="91.4" cy="474.3" r="3.7"/><circle cx="94" cy="476.8" r="3.7"/><circle cx="97.3" cy="475.3" r="3.7"/><circle cx="99.8" cy="475" r="3.7"/><circle cx="103.1" cy="469.4" r="3.7"/><circle cx="105.7" cy="470" r="3.7"/><circle cx="108.4" cy="465.1" r="3.7"/><circle cx="111.4" cy="463.5" r="3.7"/><circle cx="114.2" cy="462.2" r="3.7"/><circle cx="117.5" cy="465.2" r="3.7"/><circle cx="120.1" cy="461.5" r="3.7"/><circle cx="122.9" cy="460.9" r="3.7"/><circle cx="126.3" cy="459.7" r="3.7"/><circle cx="129" cy="458.2" r="3.7"/><circle cx="131.8" cy="453.8" r="3.7"/><circle cx="134.9" cy="449.7" r="3.7"/><circle cx="137.5" cy="446.1" r="3.7"/><circle cx="140.5" cy="444" r="3.7"/><circle cx="143.9" cy="440.4" r="3.7"/><circle cx="146.7" cy="435" r="3.7"/><circle cx="149.2" cy="429.4" r="3.7"/><circle cx="152.4" cy="428.2" r="3.7"/><circle cx="155" cy="421.7" r="3.7"/><circle cx="158" cy="414.7" r="3.7"/><circle cx="161.2" cy="408.3" r="3.7"/><circle cx="163.7" cy="404" r="3.7"/><circle cx="166.6" cy="396.4" r="3.7"/><circle cx="169.8" cy="391.6" r="3.7"/><circle cx="172.6" cy="383.7" r="3.7"/><circle cx="175.6" cy="383" r="3.7"/><circle cx="178.5" cy="377.4" r="3.7"/><circle cx="181.2" cy="371.3" r="3.7"/><circle cx="184.6" cy="367.9" r="3.7"/><circle cx="187" cy="362.3" r="3.7"/><circle cx="190.3" cy="360.2" r="3.7"/><circle cx="193.3" cy="355.3" r="3.7"/><circle cx="196.2" cy="351.6" r="3.7"/><circle cx="198.6" cy="349.7" r="3.7"/><circle cx="201.5" cy="350.6" r="3.7"/><circle cx="204.8" cy="349.7" r="3.7"/><circle cx="207.5" cy="352.4" r="3.7"/><circle cx="210.4" cy="352.6" r="3.7"/><circle cx="213.2" cy="359" r="3.7"/><circle cx="216.2" cy="367" r="3.7"/><circle cx="219.3" cy="377" r="3.7"/><circle cx="222" cy="382" r="3.7"/><circle cx="225.3" cy="390.8" r="3.7"/><circle cx="227.8" cy="397.7" r="3.7"/><circle cx="230.8" cy="405.1" r="3.7"/><circle cx="233.7" cy="411.5" r="3.7"/><circle cx="236.7" cy="419" r="3.7"/><circle cx="239.8" cy="425.9" r="3.7"/><circle cx="242.8" cy="429.3" r="3.7"/><circle cx="245.5" cy="433.3" r="3.7"/><circle cx="248.1" cy="440.8" r="3.7"/><circle cx="251.5" cy="446.7" r="3.7"/><circle cx="254.3" cy="452" r="3.7"/><circle cx="257.2" cy="456" r="3.7"/><circle cx="260" cy="460.1" r="3.7"/><circle cx="263.2" cy="463.5" r="3.7"/><circle cx="265.5" cy="467" r="3.7"/><circle cx="269" cy="472.4" r="3.7"/><circle cx="271.8" cy="475.5" r="3.7"/><circle cx="274.8" cy="476.7" r="3.7"/><circle cx="277.4" cy="480.5" r="3.7"/><circle cx="280.6" cy="481.3" r="3.7"/><circle cx="283.2" cy="486.9" r="3.7"/><circle cx="286.2" cy="485.4" r="3.7"/><circle cx="289.2" cy="488.3" r="3.7"/><circle cx="292.1" cy="492.2" r="3.7"/><circle cx="294.6" cy="489.2" r="3.7"/><circle cx="298" cy="489.6" r="3.7"/><circle cx="300.9" cy="492.1" r="3.7"/><circle cx="303.7" cy="496" r="3.7"/><circle cx="306.5" cy="495.5" r="3.7"/><circle cx="309.6" cy="495.3" r="3.7"/><circle cx="312.1" cy="495" r="3.7"/><circle cx="315.1" cy="495.7" r="3.7"/><circle cx="318.3" cy="495.1" r="3.7"/><circle cx="321.3" cy="497.4" r="3.7"/><circle cx="323.9" cy="499" r="3.7"/><circle cx="327" cy="498.1" r="3.7"/></g>
<path d="M33,486.5C36.2,485.8 45.2,483.7 52,482.5C58.8,481.3 67.7,480.5 74,479.5C80.3,478.5 86.5,477.2 90,476.5C93.5,475.8 93.3,475.6 95,475.3C96.7,475 98.8,475.5 100.3,474.9C101.8,474.3 102.7,472.8 104,471.5C105.3,470.2 105.8,468.5 108,467C110.2,465.5 114.1,464 117,462.7C119.9,461.4 123.1,460.6 125.6,459.2C128.1,457.8 129.9,455.9 131.8,454C133.7,452.1 135.2,449.9 137,447.8C138.8,445.7 140.6,443.8 142.3,441.6C144.1,439.4 145.8,437.1 147.5,434.6C149.2,432.1 150.3,430.3 152.3,426.5C154.3,422.7 157.2,416.6 159.6,411.8C162,407 164.3,402.2 166.6,397.8C168.9,393.4 171.3,389.6 173.6,385.5C175.9,381.4 178.3,377.1 180.6,373.3C182.9,369.5 185.3,366 187.6,362.8C189.9,359.6 192.3,356.2 194.6,354C196.9,351.8 199.3,349.9 201.6,349.6C203.9,349.3 206.6,350.7 208.6,352.3C210.6,353.9 212.1,356.4 213.6,359.5C215.1,362.6 215.9,366.6 217.5,371.1C219.1,375.6 221.5,381.8 223.4,386.7C225.3,391.6 227.3,395.8 229.2,400.3C231.1,404.9 233.1,409.4 235,414C236.9,418.6 239,423.7 240.9,427.6C242.8,431.5 244.8,433.7 246.7,437.3C248.6,440.9 250.2,445.1 252.5,449C254.8,452.9 257.7,456.8 260.3,460.7C262.9,464.6 265.2,468.7 268.1,472.3C271,475.9 274.6,479.3 277.9,482.1C281.1,484.9 284.4,487.1 287.6,488.9C290.8,490.7 293.7,491.7 297.3,492.8C300.9,493.9 304.8,494.9 309,495.7C313.2,496.5 319.8,497.2 322.6,497.6C325.4,498 325.4,497.9 326,498" fill="none" stroke="#0A22CC" stroke-width="1.8" stroke-linejoin="round"/>
</g>
<g clip-path="url(#cc)"><path d="M112.5,489.8 L113.3,489.8 L114.1,489.8 L114.9,489.9 L115.7,489.9 L116.5,489.9 L117.3,489.9 L118.1,489.9 L118.9,490 L119.7,490 L120.5,490 L121.3,490 L122.1,490.1 L122.9,490.1 L123.7,490.1 L124.5,490.2 L125.3,490.2 L126.1,490.2 L126.9,490.3 L127.7,490.3 L128.5,490.3 L129.3,490.4 L130.1,490.4 L130.9,490.4 L131.7,490.5 L132.5,490.5 L133.3,490.5 L134.1,490.6 L134.9,490.6 L135.7,490.6 L136.5,490.6 L137.3,490.7 L138.1,490.7 L138.9,490.7 L139.7,490.7 L140.5,490.8 L141.3,490.8 L142.1,490.8 L142.9,490.8 L143.7,490.9 L144.5,490.9 L145.3,490.9 L146.1,490.9 L146.9,490.9 L147.7,491 L148.5,491 L149.3,491 L150.1,491 L150.9,491 L151.7,491 L152.5,491 L153.3,491 L154.1,491 L154.9,491 L155.7,491 L156.5,491 L157.3,491 L158.1,491 L158.9,491 L159.7,490.9 L160.5,490.9 L161.3,490.9 L162.1,490.8 L162.9,490.8 L163.7,490.7 L164.5,490.7 L165.3,490.6 L166.1,490.6 L166.9,490.5 L167.7,490.4 L168.5,490.3 L169.3,490.2 L170.1,490.1 L170.9,490 L171.7,489.9 L172.5,489.8 L173.3,489.7 L174.1,489.5 L174.9,489.4 L175.7,489.2 L176.5,489 L177.3,488.9 L178.1,488.7 L178.9,488.5 L179.7,488.3 L180.5,488 L181.3,487.8 L182.1,487.6 L182.9,487.3 L183.7,487 L184.5,486.8 L185.3,486.5 L186.1,486.2 L186.9,485.9 L187.7,485.5 L188.5,485.2 L189.3,484.8 L190.1,484.5 L190.9,484.1 L191.7,483.7 L192.5,483.3 L193.3,482.9 L194.1,482.5 L194.9,482 L195.7,481.6 L196.5,481.1 L197.3,480.7 L198.1,480.2 L198.9,479.7 L199.7,479.2 L200.5,478.7 L201.3,478.2 L202.1,477.7 L202.9,477.2 L203.7,476.6 L204.5,476.1 L205.3,475.6 L206.1,475 L206.9,474.5 L207.7,474 L208.5,473.4 L209.3,472.9 L210.1,472.4 L210.9,471.9 L211.7,471.3 L212.5,470.8 L213.3,470.3 L214.1,469.8 L214.9,469.3 L215.7,468.9 L216.5,468.4 L217.3,467.9 L218.1,467.5 L218.9,467.1 L219.7,466.7 L220.5,466.3 L221.3,465.9 L222.1,465.6 L222.9,465.2 L223.7,464.9 L224.5,464.6 L225.3,464.4 L226.1,464.1 L226.9,463.9 L227.7,463.7 L228.5,463.6 L229.3,463.4 L230.1,463.3 L230.9,463.3 L231.7,463.2 L232.5,463.2 L233.3,463.2 L234.1,463.2 L234.9,463.3 L235.7,463.3 L236.5,463.5 L237.3,463.6 L238.1,463.8 L238.9,464 L239.7,464.2 L240.5,464.4 L241.3,464.7 L242.1,465 L242.9,465.3 L243.7,465.7 L244.5,466.1 L245.3,466.4 L246.1,466.9 L246.9,467.3 L247.7,467.8 L248.5,468.2 L249.3,468.7 L250.1,469.2 L250.9,469.7 L251.7,470.3 L252.5,470.8 L253.3,471.4 L254.1,471.9 L254.9,472.5 L255.7,473.1 L256.5,473.7 L257.3,474.3 L258.1,474.9 L258.9,475.5 L259.7,476.1 L260.5,476.8 L261.3,477.4 L262.1,478 L262.9,478.6 L263.7,479.2 L264.5,479.8 L265.3,480.4 L266.1,481 L266.9,481.6 L267.7,482.2 L268.5,482.8 L269.3,483.4 L270.1,483.9 L270.9,484.5 L271.7,485 L272.5,485.5 L273.3,486.1 L274.1,486.6 L274.9,487.1 L275.7,487.6 L276.5,488.1 L277.3,488.5 L278.1,489 L278.9,489.4 L279.7,489.8 L280.5,490.3 L281.3,490.6 L282.1,491 L282.9,491.4 L283.7,491.7 L284.5,492 L285.3,492.4 L286.1,492.7 L286.9,493 L287.7,493.3 L288.5,493.5 L289.3,493.8 L290.1,494.1 L290.9,494.3 L291.7,494.5 L292.5,494.8 L293.3,495 L294.1,495.2 L294.9,495.4 L295.7,495.5 L296.5,495.7 L297.3,495.9 L298.1,496 L298.9,496.2 L299.7,496.3 L300.5,496.5 L301.3,496.6 L302.1,496.7 L302.9,496.8 L303.7,496.9 L304.5,497.1 L305.3,497.2 L306.1,497.2 L306.9,497.3 L307.7,497.4 L308.5,497.5 L309.3,497.6 L310.1,497.6 L310.9,497.7 L311.7,497.8 L312.5,497.8 L313.3,497.9 L314.1,498 L314.9,498 L315.7,498.1 L316.5,498.1 L317.3,498.2 L318.1,498.2 L318.9,498.2 L319.7,498.3 L320.5,498.3 L321.3,498.4 L322.1,498.4 L322.9,498.4 L323.7,498.5 L323.7,498.6 L322.9,498.6 L322.1,498.6 L321.3,498.5 L320.5,498.5 L319.7,498.5 L318.9,498.5 L318.1,498.5 L317.3,498.4 L316.5,498.4 L315.7,498.4 L314.9,498.4 L314.1,498.4 L313.3,498.3 L312.5,498.3 L311.7,498.3 L310.9,498.3 L310.1,498.3 L309.3,498.2 L308.5,498.2 L307.7,498.2 L306.9,498.2 L306.1,498.2 L305.3,498.1 L304.5,498.1 L303.7,498.1 L302.9,498.1 L302.1,498.1 L301.3,498 L300.5,498 L299.7,498 L298.9,498 L298.1,498 L297.3,497.9 L296.5,497.9 L295.7,497.9 L294.9,497.9 L294.1,497.9 L293.3,497.8 L292.5,497.8 L291.7,497.8 L290.9,497.8 L290.1,497.8 L289.3,497.7 L288.5,497.7 L287.7,497.7 L286.9,497.7 L286.1,497.7 L285.3,497.6 L284.5,497.6 L283.7,497.6 L282.9,497.6 L282.1,497.6 L281.3,497.5 L280.5,497.5 L279.7,497.5 L278.9,497.4 L278.1,497.4 L277.3,497.4 L276.5,497.3 L275.7,497.3 L274.9,497.2 L274.1,497.2 L273.3,497.2 L272.5,497.1 L271.7,497.1 L270.9,497 L270.1,497 L269.3,497 L268.5,496.9 L267.7,496.9 L266.9,496.8 L266.1,496.8 L265.3,496.8 L264.5,496.7 L263.7,496.7 L262.9,496.6 L262.1,496.6 L261.3,496.6 L260.5,496.5 L259.7,496.5 L258.9,496.4 L258.1,496.4 L257.3,496.4 L256.5,496.3 L255.7,496.3 L254.9,496.2 L254.1,496.2 L253.3,496.2 L252.5,496.1 L251.7,496.1 L250.9,496 L250.1,496 L249.3,496 L248.5,495.9 L247.7,495.9 L246.9,495.8 L246.1,495.8 L245.3,495.8 L244.5,495.7 L243.7,495.7 L242.9,495.6 L242.1,495.6 L241.3,495.6 L240.5,495.5 L239.7,495.5 L238.9,495.4 L238.1,495.4 L237.3,495.4 L236.5,495.3 L235.7,495.3 L234.9,495.2 L234.1,495.2 L233.3,495.2 L232.5,495.1 L231.7,495.1 L230.9,495 L230.1,495 L229.3,495 L228.5,494.9 L227.7,494.9 L226.9,494.8 L226.1,494.8 L225.3,494.8 L224.5,494.7 L223.7,494.7 L222.9,494.6 L222.1,494.6 L221.3,494.6 L220.5,494.5 L219.7,494.5 L218.9,494.4 L218.1,494.4 L217.3,494.4 L216.5,494.3 L215.7,494.3 L214.9,494.2 L214.1,494.2 L213.3,494.2 L212.5,494.1 L211.7,494.1 L210.9,494 L210.1,494 L209.3,494 L208.5,493.9 L207.7,493.9 L206.9,493.8 L206.1,493.8 L205.3,493.8 L204.5,493.7 L203.7,493.7 L202.9,493.6 L202.1,493.6 L201.3,493.6 L200.5,493.5 L199.7,493.5 L198.9,493.4 L198.1,493.4 L197.3,493.4 L196.5,493.3 L195.7,493.3 L194.9,493.2 L194.1,493.2 L193.3,493.2 L192.5,493.1 L191.7,493.1 L190.9,493 L190.1,493 L189.3,493 L188.5,492.9 L187.7,492.9 L186.9,492.8 L186.1,492.8 L185.3,492.8 L184.5,492.7 L183.7,492.7 L182.9,492.6 L182.1,492.6 L181.3,492.6 L180.5,492.5 L179.7,492.5 L178.9,492.5 L178.1,492.4 L177.3,492.4 L176.5,492.4 L175.7,492.3 L174.9,492.3 L174.1,492.3 L173.3,492.2 L172.5,492.2 L171.7,492.2 L170.9,492.1 L170.1,492.1 L169.3,492.1 L168.5,492 L167.7,492 L166.9,492 L166.1,491.9 L165.3,491.9 L164.5,491.9 L163.7,491.8 L162.9,491.8 L162.1,491.8 L161.3,491.7 L160.5,491.7 L159.7,491.7 L158.9,491.6 L158.1,491.6 L157.3,491.6 L156.5,491.5 L155.7,491.5 L154.9,491.5 L154.1,491.4 L153.3,491.4 L152.5,491.4 L151.7,491.3 L150.9,491.3 L150.1,491.3 L149.3,491.2 L148.5,491.2 L147.7,491.2 L146.9,491.1 L146.1,491.1 L145.3,491.1 L144.5,491 L143.7,491 L142.9,491 L142.1,490.9 L141.3,490.9 L140.5,490.9 L139.7,490.8 L138.9,490.8 L138.1,490.8 L137.3,490.7 L136.5,490.7 L135.7,490.7 L134.9,490.6 L134.1,490.6 L133.3,490.6 L132.5,490.5 L131.7,490.5 L130.9,490.5 L130.1,490.4 L129.3,490.4 L128.5,490.4 L127.7,490.3 L126.9,490.3 L126.1,490.3 L125.3,490.2 L124.5,490.2 L123.7,490.2 L122.9,490.1 L122.1,490.1 L121.3,490.1 L120.5,490 L119.7,490 L118.9,490 L118.1,489.9 L117.3,489.9 L116.5,489.9 L115.7,489.9 L114.9,489.9 L114.1,489.8 L113.3,489.8 L112.5,489.8 Z" fill="rgba(82,53,97,0.55)" stroke="none"/><path d="M86.7,489 L87.5,489.1 L88.3,489.1 L89.1,489.1 L89.9,489.1 L90.7,489.2 L91.5,489.2 L92.3,489.2 L93.1,489.2 L93.9,489.2 L94.7,489.3 L95.5,489.3 L96.3,489.3 L97.1,489.3 L97.9,489.3 L98.7,489.4 L99.5,489.4 L100.3,489.4 L101.1,489.4 L101.9,489.4 L102.7,489.5 L103.5,489.5 L104.3,489.5 L105.1,489.5 L105.9,489.5 L106.7,489.5 L107.5,489.6 L108.3,489.6 L109.1,489.6 L109.9,489.6 L110.7,489.6 L111.5,489.6 L112.3,489.6 L113.1,489.6 L113.9,489.6 L114.7,489.6 L115.5,489.6 L116.3,489.6 L117.1,489.6 L117.9,489.6 L118.7,489.5 L119.5,489.5 L120.3,489.5 L121.1,489.5 L121.9,489.5 L122.7,489.4 L123.5,489.4 L124.3,489.3 L125.1,489.3 L125.9,489.2 L126.7,489.2 L127.5,489.1 L128.3,489 L129.1,488.9 L129.9,488.8 L130.7,488.7 L131.5,488.6 L132.3,488.4 L133.1,488.3 L133.9,488.1 L134.7,487.9 L135.5,487.7 L136.3,487.5 L137.1,487.3 L137.9,487.1 L138.7,486.8 L139.5,486.5 L140.3,486.2 L141.1,485.9 L141.9,485.5 L142.7,485.2 L143.5,484.8 L144.3,484.3 L145.1,483.9 L145.9,483.4 L146.7,482.9 L147.5,482.4 L148.3,481.8 L149.1,481.2 L149.9,480.6 L150.7,479.9 L151.5,479.2 L152.3,478.5 L153.1,477.8 L153.9,477 L154.7,476.2 L155.5,475.3 L156.3,474.4 L157.1,473.5 L157.9,472.5 L158.7,471.6 L159.5,470.5 L160.3,469.5 L161.1,468.4 L161.9,467.3 L162.7,466.1 L163.5,464.9 L164.3,463.7 L165.1,462.5 L165.9,461.2 L166.7,459.9 L167.5,458.6 L168.3,457.3 L169.1,456 L169.9,454.6 L170.7,453.2 L171.5,451.8 L172.3,450.4 L173.1,449 L173.9,447.6 L174.7,446.2 L175.5,444.8 L176.3,443.4 L177.1,442 L177.9,440.6 L178.7,439.2 L179.5,437.9 L180.3,436.5 L181.1,435.2 L181.9,434 L182.7,432.7 L183.5,431.5 L184.3,430.3 L185.1,429.2 L185.9,428.1 L186.7,427.1 L187.5,426.1 L188.3,425.2 L189.1,424.3 L189.9,423.5 L190.7,422.7 L191.5,422 L192.3,421.4 L193.1,420.8 L193.9,420.4 L194.7,419.9 L195.5,419.6 L196.3,419.3 L197.1,419.1 L197.9,419 L198.7,418.9 L199.5,419 L200.3,419.1 L201.1,419.3 L201.9,419.5 L202.7,419.9 L203.5,420.3 L204.3,420.7 L205.1,421.3 L205.9,421.9 L206.7,422.6 L207.5,423.4 L208.3,424.2 L209.1,425.1 L209.9,426 L210.7,427 L211.5,428.1 L212.3,429.2 L213.1,430.3 L213.9,431.5 L214.7,432.8 L215.5,434 L216.3,435.4 L217.1,436.7 L217.9,438.1 L218.7,439.5 L219.5,440.9 L220.3,442.3 L221.1,443.8 L221.9,445.3 L222.7,446.7 L223.5,448.2 L224.3,449.7 L225.1,451.2 L225.9,452.7 L226.7,454.2 L227.5,455.6 L228.3,457.1 L229.1,458.5 L229.9,459.9 L230.7,461.4 L231.5,462.7 L232.3,464.1 L233.1,465.4 L233.9,466.8 L234.7,468.1 L235.5,469.3 L236.3,470.5 L237.1,471.7 L237.9,472.9 L238.7,474.1 L239.5,475.2 L240.3,476.2 L241.1,477.3 L241.9,478.3 L242.7,479.2 L243.5,480.2 L244.3,481.1 L245.1,481.9 L245.9,482.8 L246.7,483.6 L247.5,484.4 L248.3,485.1 L249.1,485.8 L249.9,486.5 L250.7,487.1 L251.5,487.7 L252.3,488.3 L253.1,488.9 L253.9,489.4 L254.7,489.9 L255.5,490.4 L256.3,490.8 L257.1,491.3 L257.9,491.7 L258.7,492 L259.5,492.4 L260.3,492.8 L261.1,493.1 L261.9,493.4 L262.7,493.7 L263.5,493.9 L264.3,494.2 L265.1,494.4 L265.9,494.7 L266.7,494.9 L267.5,495.1 L268.3,495.3 L269.1,495.5 L269.9,495.6 L270.7,495.8 L271.5,495.9 L272.3,496.1 L273.1,496.2 L273.9,496.3 L274.7,496.5 L275.5,496.6 L276.3,496.7 L277.1,496.8 L277.9,496.9 L278.7,497 L279.5,497 L280.3,497.1 L281.1,497.2 L281.9,497.2 L282.7,497.3 L283.5,497.3 L284.3,497.4 L285.1,497.4 L285.9,497.5 L286.7,497.5 L287.5,497.5 L288.3,497.6 L289.1,497.6 L289.9,497.6 L290.7,497.7 L291.5,497.7 L292.3,497.7 L293.1,497.8 L293.9,497.8 L294.7,497.8 L295.5,497.8 L296.3,497.9 L297.1,497.9 L297.9,497.9 L298.7,497.9 L299.5,498 L300.3,498 L301.1,498 L301.9,498 L302.7,498.1 L303.5,498.1 L304.3,498.1 L305.1,498.1 L305.9,498.1 L306.7,498.2 L307.5,498.2 L308.3,498.2 L309.1,498.2 L309.9,498.2 L310.7,498.3 L311.5,498.3 L311.5,498.3 L310.7,498.3 L309.9,498.2 L309.1,498.2 L308.3,498.2 L307.5,498.2 L306.7,498.2 L305.9,498.1 L305.1,498.1 L304.3,498.1 L303.5,498.1 L302.7,498.1 L301.9,498 L301.1,498 L300.3,498 L299.5,498 L298.7,498 L297.9,497.9 L297.1,497.9 L296.3,497.9 L295.5,497.9 L294.7,497.9 L293.9,497.8 L293.1,497.8 L292.3,497.8 L291.5,497.8 L290.7,497.8 L289.9,497.7 L289.1,497.7 L288.3,497.7 L287.5,497.7 L286.7,497.7 L285.9,497.6 L285.1,497.6 L284.3,497.6 L283.5,497.6 L282.7,497.6 L281.9,497.5 L281.1,497.5 L280.3,497.5 L279.5,497.5 L278.7,497.4 L277.9,497.4 L277.1,497.4 L276.3,497.3 L275.5,497.3 L274.7,497.2 L273.9,497.2 L273.1,497.2 L272.3,497.1 L271.5,497.1 L270.7,497 L269.9,497 L269.1,497 L268.3,496.9 L267.5,496.9 L266.7,496.8 L265.9,496.8 L265.1,496.8 L264.3,496.7 L263.5,496.7 L262.7,496.6 L261.9,496.6 L261.1,496.6 L260.3,496.5 L259.5,496.5 L258.7,496.4 L257.9,496.4 L257.1,496.4 L256.3,496.3 L255.5,496.3 L254.7,496.2 L253.9,496.2 L253.1,496.2 L252.3,496.1 L251.5,496.1 L250.7,496 L249.9,496 L249.1,496 L248.3,495.9 L247.5,495.9 L246.7,495.8 L245.9,495.8 L245.1,495.8 L244.3,495.7 L243.5,495.7 L242.7,495.6 L241.9,495.6 L241.1,495.6 L240.3,495.5 L239.5,495.5 L238.7,495.4 L237.9,495.4 L237.1,495.4 L236.3,495.3 L235.5,495.3 L234.7,495.2 L233.9,495.2 L233.1,495.2 L232.3,495.1 L231.5,495.1 L230.7,495 L229.9,495 L229.1,495 L228.3,494.9 L227.5,494.9 L226.7,494.8 L225.9,494.8 L225.1,494.8 L224.3,494.7 L223.5,494.7 L222.7,494.6 L221.9,494.6 L221.1,494.6 L220.3,494.5 L219.5,494.5 L218.7,494.4 L217.9,494.4 L217.1,494.4 L216.3,494.3 L215.5,494.3 L214.7,494.2 L213.9,494.2 L213.1,494.2 L212.3,494.1 L211.5,494.1 L210.7,494 L209.9,494 L209.1,494 L208.3,493.9 L207.5,493.9 L206.7,493.8 L205.9,493.8 L205.1,493.8 L204.3,493.7 L203.5,493.7 L202.7,493.6 L201.9,493.6 L201.1,493.6 L200.3,493.5 L199.5,493.5 L198.7,493.4 L197.9,493.4 L197.1,493.4 L196.3,493.3 L195.5,493.3 L194.7,493.2 L193.9,493.2 L193.1,493.2 L192.3,493.1 L191.5,493.1 L190.7,493 L189.9,493 L189.1,493 L188.3,492.9 L187.5,492.9 L186.7,492.8 L185.9,492.8 L185.1,492.8 L184.3,492.7 L183.5,492.7 L182.7,492.6 L181.9,492.6 L181.1,492.6 L180.3,492.5 L179.5,492.5 L178.7,492.4 L177.9,492.4 L177.1,492.4 L176.3,492.3 L175.5,492.3 L174.7,492.3 L173.9,492.2 L173.1,492.2 L172.3,492.2 L171.5,492.1 L170.7,492.1 L169.9,492.1 L169.1,492 L168.3,492 L167.5,492 L166.7,491.9 L165.9,491.9 L165.1,491.9 L164.3,491.8 L163.5,491.8 L162.7,491.8 L161.9,491.7 L161.1,491.7 L160.3,491.7 L159.5,491.6 L158.7,491.6 L157.9,491.6 L157.1,491.5 L156.3,491.5 L155.5,491.5 L154.7,491.4 L153.9,491.4 L153.1,491.4 L152.3,491.3 L151.5,491.3 L150.7,491.3 L149.9,491.2 L149.1,491.2 L148.3,491.2 L147.5,491.1 L146.7,491.1 L145.9,491.1 L145.1,491 L144.3,491 L143.5,491 L142.7,490.9 L141.9,490.9 L141.1,490.9 L140.3,490.8 L139.5,490.8 L138.7,490.8 L137.9,490.7 L137.1,490.7 L136.3,490.7 L135.5,490.6 L134.7,490.6 L133.9,490.6 L133.1,490.5 L132.3,490.5 L131.5,490.5 L130.7,490.4 L129.9,490.4 L129.1,490.4 L128.3,490.3 L127.5,490.3 L126.7,490.3 L125.9,490.2 L125.1,490.2 L124.3,490.2 L123.5,490.1 L122.7,490.1 L121.9,490.1 L121.1,490 L120.3,490 L119.5,490 L118.7,490 L117.9,489.9 L117.1,489.9 L116.3,489.9 L115.5,489.9 L114.7,489.8 L113.9,489.8 L113.1,489.8 L112.3,489.8 L111.5,489.8 L110.7,489.7 L109.9,489.7 L109.1,489.7 L108.3,489.7 L107.5,489.6 L106.7,489.6 L105.9,489.6 L105.1,489.6 L104.3,489.5 L103.5,489.5 L102.7,489.5 L101.9,489.5 L101.1,489.5 L100.3,489.4 L99.5,489.4 L98.7,489.4 L97.9,489.4 L97.1,489.3 L96.3,489.3 L95.5,489.3 L94.7,489.3 L93.9,489.2 L93.1,489.2 L92.3,489.2 L91.5,489.2 L90.7,489.2 L89.9,489.1 L89.1,489.1 L88.3,489.1 L87.5,489.1 L86.7,489 Z" fill="rgba(90,98,175,0.55)" stroke="none"/><path d="M33,487.5 L33.8,487.5 L34.6,487.5 L35.4,487.6 L36.2,487.6 L37,487.6 L37.8,487.6 L38.6,487.6 L39.4,487.7 L40.2,487.7 L41,487.7 L41.8,487.7 L42.6,487.7 L43.4,487.8 L44.2,487.8 L45,487.8 L45.8,487.8 L46.6,487.8 L47.4,487.9 L48.2,487.9 L49,487.9 L49.8,487.9 L50.6,487.9 L51.4,487.9 L52.2,488 L53,488 L53.8,488 L54.6,488 L55.4,488 L56.2,488 L57,488 L57.8,488 L58.6,488.1 L59.4,488.1 L60.2,488.1 L61,488.1 L61.8,488.1 L62.6,488.1 L63.4,488.1 L64.2,488.1 L65,488.1 L65.8,488.1 L66.6,488.1 L67.4,488.1 L68.2,488.1 L69,488.1 L69.8,488.1 L70.6,488.1 L71.4,488 L72.2,488 L73,488 L73.8,488 L74.6,488 L75.4,487.9 L76.2,487.9 L77,487.9 L77.8,487.8 L78.6,487.8 L79.4,487.7 L80.2,487.7 L81,487.6 L81.8,487.6 L82.6,487.5 L83.4,487.5 L84.2,487.4 L85,487.3 L85.8,487.2 L86.6,487.1 L87.4,487.1 L88.2,487 L89,486.9 L89.8,486.7 L90.6,486.6 L91.4,486.5 L92.2,486.4 L93,486.2 L93.8,486.1 L94.6,486 L95.4,485.8 L96.2,485.6 L97,485.5 L97.8,485.3 L98.6,485.1 L99.4,484.9 L100.2,484.7 L101,484.4 L101.8,484.2 L102.6,484 L103.4,483.7 L104.2,483.5 L105,483.2 L105.8,482.9 L106.6,482.6 L107.4,482.3 L108.2,482 L109,481.7 L109.8,481.3 L110.6,481 L111.4,480.6 L112.2,480.2 L113,479.9 L113.8,479.5 L114.6,479 L115.4,478.6 L116.2,478.2 L117,477.7 L117.8,477.3 L118.6,476.8 L119.4,476.3 L120.2,475.8 L121,475.3 L121.8,474.8 L122.6,474.3 L123.4,473.7 L124.2,473.2 L125,472.6 L125.8,472 L126.6,471.4 L127.4,470.8 L128.2,470.2 L129,469.6 L129.8,469 L130.6,468.3 L131.4,467.7 L132.2,467 L133,466.4 L133.8,465.7 L134.6,465 L135.4,464.3 L136.2,463.6 L137,462.9 L137.8,462.2 L138.6,461.5 L139.4,460.7 L140.2,460 L141,459.3 L141.8,458.6 L142.6,457.8 L143.4,457.1 L144.2,456.4 L145,455.6 L145.8,454.9 L146.6,454.2 L147.4,453.5 L148.2,452.7 L149,452 L149.8,451.3 L150.6,450.6 L151.4,449.9 L152.2,449.2 L153,448.5 L153.8,447.9 L154.6,447.2 L155.4,446.6 L156.2,445.9 L157,445.3 L157.8,444.7 L158.6,444.1 L159.4,443.6 L160.2,443 L161,442.5 L161.8,441.9 L162.6,441.4 L163.4,441 L164.2,440.5 L165,440.1 L165.8,439.6 L166.6,439.3 L167.4,438.9 L168.2,438.5 L169,438.2 L169.8,437.9 L170.6,437.7 L171.4,437.4 L172.2,437.2 L173,437 L173.8,436.8 L174.6,436.7 L175.4,436.6 L176.2,436.5 L177,436.5 L177.8,436.4 L178.6,436.4 L179.4,436.5 L180.2,436.5 L181,436.6 L181.8,436.8 L182.6,436.9 L183.4,437.1 L184.2,437.3 L185,437.5 L185.8,437.8 L186.6,438.1 L187.4,438.4 L188.2,438.8 L189,439.1 L189.8,439.5 L190.6,439.9 L191.4,440.4 L192.2,440.9 L193,441.3 L193.8,441.9 L194.6,442.4 L195.4,442.9 L196.2,443.5 L197,444.1 L197.8,444.7 L198.6,445.3 L199.4,446 L200.2,446.7 L201,447.3 L201.8,448 L202.6,448.7 L203.4,449.5 L204.2,450.2 L205,450.9 L205.8,451.7 L206.6,452.4 L207.4,453.2 L208.2,454 L209,454.8 L209.8,455.6 L210.6,456.3 L211.4,457.1 L212.2,457.9 L213,458.7 L213.8,459.6 L214.6,460.4 L215.4,461.2 L216.2,462 L217,462.8 L217.8,463.6 L218.6,464.4 L219.4,465.2 L220.2,466 L221,466.7 L221.8,467.5 L222.6,468.3 L223.4,469.1 L224.2,469.8 L225,470.6 L225.8,471.3 L226.6,472 L227.4,472.8 L228.2,473.5 L229,474.2 L229.8,474.9 L230.6,475.6 L231.4,476.2 L232.2,476.9 L233,477.5 L233.8,478.2 L234.6,478.8 L235.4,479.4 L236.2,480 L237,480.6 L237.8,481.2 L238.6,481.7 L239.4,482.3 L240.2,482.8 L241,483.4 L241.8,483.9 L242.6,484.4 L243.4,484.9 L244.2,485.3 L245,485.8 L245.8,486.3 L246.6,486.7 L247.4,487.1 L248.2,487.5 L249,487.9 L249.8,488.3 L250.6,488.7 L251.4,489.1 L252.2,489.4 L253,489.8 L253.8,490.1 L254.6,490.4 L255.4,490.7 L256.2,491 L257,491.3 L257.8,491.6 L258.6,491.9 L259.4,492.2 L260.2,492.4 L261,492.7 L261.8,492.9 L262.6,493.1 L263.4,493.4 L264.2,493.6 L265,493.8 L265.8,494 L266.6,494.2 L267.4,494.3 L268.2,494.5 L269,494.7 L269.8,494.9 L270.6,495 L271.4,495.2 L272.2,495.3 L273,495.5 L273.8,495.6 L274.6,495.7 L275.4,495.9 L276.2,496 L277,496.1 L277.8,496.2 L278.6,496.3 L279.4,496.4 L280.2,496.5 L281,496.6 L281.8,496.7 L282.6,496.8 L283.4,496.8 L284.2,496.9 L285,497 L285.8,497 L286.6,497.1 L287.4,497.2 L288.2,497.2 L289,497.3 L289.8,497.3 L290.6,497.4 L291.4,497.4 L292.2,497.5 L293,497.5 L293.8,497.5 L294.6,497.6 L295.4,497.6 L296.2,497.7 L297,497.7 L297.8,497.7 L298.6,497.8 L299.4,497.8 L300.2,497.8 L301,497.9 L301.8,497.9 L302.6,497.9 L303.4,498 L304.2,498 L305,498 L305.8,498 L306.6,498.1 L307.4,498.1 L308.2,498.1 L309,498.2 L309.8,498.2 L310.6,498.2 L311.4,498.2 L312.2,498.3 L313,498.3 L313.8,498.3 L314.6,498.3 L315.4,498.4 L316.2,498.4 L317,498.4 L317.8,498.4 L318.6,498.4 L319.4,498.5 L320.2,498.5 L321,498.5 L321.8,498.5 L322.6,498.5 L323.4,498.6 L323.4,498.6 L322.6,498.6 L321.8,498.5 L321,498.5 L320.2,498.5 L319.4,498.5 L318.6,498.5 L317.8,498.4 L317,498.4 L316.2,498.4 L315.4,498.4 L314.6,498.4 L313.8,498.3 L313,498.3 L312.2,498.3 L311.4,498.3 L310.6,498.3 L309.8,498.2 L309,498.2 L308.2,498.2 L307.4,498.2 L306.6,498.2 L305.8,498.1 L305,498.1 L304.2,498.1 L303.4,498.1 L302.6,498.1 L301.8,498 L301,498 L300.2,498 L299.4,498 L298.6,498 L297.8,497.9 L297,497.9 L296.2,497.9 L295.4,497.9 L294.6,497.9 L293.8,497.8 L293,497.8 L292.2,497.8 L291.4,497.8 L290.6,497.8 L289.8,497.7 L289,497.7 L288.2,497.7 L287.4,497.7 L286.6,497.7 L285.8,497.6 L285,497.6 L284.2,497.6 L283.4,497.6 L282.6,497.6 L281.8,497.5 L281,497.5 L280.2,497.5 L279.4,497.5 L278.6,497.4 L277.8,497.4 L277,497.4 L276.2,497.3 L275.4,497.3 L274.6,497.2 L273.8,497.2 L273,497.2 L272.2,497.1 L271.4,497.1 L270.6,497 L269.8,497 L269,497 L268.2,496.9 L267.4,496.9 L266.6,496.8 L265.8,496.8 L265,496.8 L264.2,496.7 L263.4,496.7 L262.6,496.6 L261.8,496.6 L261,496.6 L260.2,496.5 L259.4,496.5 L258.6,496.4 L257.8,496.4 L257,496.4 L256.2,496.3 L255.4,496.3 L254.6,496.2 L253.8,496.2 L253,496.2 L252.2,496.1 L251.4,496.1 L250.6,496 L249.8,496 L249,496 L248.2,495.9 L247.4,495.9 L246.6,495.8 L245.8,495.8 L245,495.8 L244.2,495.7 L243.4,495.7 L242.6,495.6 L241.8,495.6 L241,495.6 L240.2,495.5 L239.4,495.5 L238.6,495.4 L237.8,495.4 L237,495.4 L236.2,495.3 L235.4,495.3 L234.6,495.2 L233.8,495.2 L233,495.2 L232.2,495.1 L231.4,495.1 L230.6,495 L229.8,495 L229,495 L228.2,494.9 L227.4,494.9 L226.6,494.8 L225.8,494.8 L225,494.8 L224.2,494.7 L223.4,494.7 L222.6,494.6 L221.8,494.6 L221,494.6 L220.2,494.5 L219.4,494.5 L218.6,494.4 L217.8,494.4 L217,494.4 L216.2,494.3 L215.4,494.3 L214.6,494.2 L213.8,494.2 L213,494.2 L212.2,494.1 L211.4,494.1 L210.6,494 L209.8,494 L209,494 L208.2,493.9 L207.4,493.9 L206.6,493.8 L205.8,493.8 L205,493.8 L204.2,493.7 L203.4,493.7 L202.6,493.6 L201.8,493.6 L201,493.6 L200.2,493.5 L199.4,493.5 L198.6,493.4 L197.8,493.4 L197,493.4 L196.2,493.3 L195.4,493.3 L194.6,493.2 L193.8,493.2 L193,493.2 L192.2,493.1 L191.4,493.1 L190.6,493 L189.8,493 L189,493 L188.2,492.9 L187.4,492.9 L186.6,492.8 L185.8,492.8 L185,492.8 L184.2,492.7 L183.4,492.7 L182.6,492.6 L181.8,492.6 L181,492.6 L180.2,492.5 L179.4,492.5 L178.6,492.4 L177.8,492.4 L177,492.4 L176.2,492.3 L175.4,492.3 L174.6,492.3 L173.8,492.2 L173,492.2 L172.2,492.2 L171.4,492.1 L170.6,492.1 L169.8,492.1 L169,492 L168.2,492 L167.4,492 L166.6,491.9 L165.8,491.9 L165,491.9 L164.2,491.8 L163.4,491.8 L162.6,491.8 L161.8,491.7 L161,491.7 L160.2,491.7 L159.4,491.6 L158.6,491.6 L157.8,491.6 L157,491.5 L156.2,491.5 L155.4,491.5 L154.6,491.4 L153.8,491.4 L153,491.4 L152.2,491.3 L151.4,491.3 L150.6,491.3 L149.8,491.2 L149,491.2 L148.2,491.2 L147.4,491.1 L146.6,491.1 L145.8,491.1 L145,491 L144.2,491 L143.4,491 L142.6,490.9 L141.8,490.9 L141,490.9 L140.2,490.8 L139.4,490.8 L138.6,490.8 L137.8,490.7 L137,490.7 L136.2,490.7 L135.4,490.6 L134.6,490.6 L133.8,490.6 L133,490.5 L132.2,490.5 L131.4,490.5 L130.6,490.4 L129.8,490.4 L129,490.4 L128.2,490.3 L127.4,490.3 L126.6,490.3 L125.8,490.2 L125,490.2 L124.2,490.2 L123.4,490.1 L122.6,490.1 L121.8,490.1 L121,490 L120.2,490 L119.4,490 L118.6,490 L117.8,489.9 L117,489.9 L116.2,489.9 L115.4,489.9 L114.6,489.8 L113.8,489.8 L113,489.8 L112.2,489.8 L111.4,489.8 L110.6,489.7 L109.8,489.7 L109,489.7 L108.2,489.7 L107.4,489.6 L106.6,489.6 L105.8,489.6 L105,489.6 L104.2,489.5 L103.4,489.5 L102.6,489.5 L101.8,489.5 L101,489.5 L100.2,489.4 L99.4,489.4 L98.6,489.4 L97.8,489.4 L97,489.3 L96.2,489.3 L95.4,489.3 L94.6,489.3 L93.8,489.2 L93,489.2 L92.2,489.2 L91.4,489.2 L90.6,489.2 L89.8,489.1 L89,489.1 L88.2,489.1 L87.4,489.1 L86.6,489 L85.8,489 L85,489 L84.2,489 L83.4,488.9 L82.6,488.9 L81.8,488.9 L81,488.9 L80.2,488.9 L79.4,488.8 L78.6,488.8 L77.8,488.8 L77,488.8 L76.2,488.7 L75.4,488.7 L74.6,488.7 L73.8,488.7 L73,488.6 L72.2,488.6 L71.4,488.6 L70.6,488.6 L69.8,488.6 L69,488.5 L68.2,488.5 L67.4,488.5 L66.6,488.5 L65.8,488.4 L65,488.4 L64.2,488.4 L63.4,488.4 L62.6,488.4 L61.8,488.3 L61,488.3 L60.2,488.3 L59.4,488.3 L58.6,488.2 L57.8,488.2 L57,488.2 L56.2,488.2 L55.4,488.1 L54.6,488.1 L53.8,488.1 L53,488.1 L52.2,488.1 L51.4,488 L50.6,488 L49.8,488 L49,488 L48.2,487.9 L47.4,487.9 L46.6,487.9 L45.8,487.9 L45,487.8 L44.2,487.8 L43.4,487.8 L42.6,487.8 L41.8,487.8 L41,487.7 L40.2,487.7 L39.4,487.7 L38.6,487.7 L37.8,487.6 L37,487.6 L36.2,487.6 L35.4,487.6 L34.6,487.5 L33.8,487.5 L33,487.5 Z" fill="rgba(122,76,190,0.55)" stroke="none"/><path d="M33,486.7 L33.8,486.7 L34.6,486.6 L35.4,486.6 L36.2,486.6 L37,486.6 L37.8,486.5 L38.6,486.5 L39.4,486.5 L40.2,486.4 L41,486.4 L41.8,486.3 L42.6,486.3 L43.4,486.2 L44.2,486.2 L45,486.1 L45.8,486.1 L46.6,486 L47.4,486 L48.2,485.9 L49,485.8 L49.8,485.8 L50.6,485.7 L51.4,485.6 L52.2,485.6 L53,485.5 L53.8,485.4 L54.6,485.3 L55.4,485.2 L56.2,485.1 L57,485 L57.8,484.9 L58.6,484.8 L59.4,484.7 L60.2,484.6 L61,484.5 L61.8,484.4 L62.6,484.3 L63.4,484.2 L64.2,484.1 L65,483.9 L65.8,483.8 L66.6,483.7 L67.4,483.6 L68.2,483.4 L69,483.3 L69.8,483.2 L70.6,483 L71.4,482.9 L72.2,482.8 L73,482.6 L73.8,482.5 L74.6,482.3 L75.4,482.2 L76.2,482 L77,481.9 L77.8,481.7 L78.6,481.6 L79.4,481.4 L80.2,481.3 L81,481.1 L81.8,481 L82.6,480.8 L83.4,480.7 L84.2,480.5 L85,480.4 L85.8,480.2 L86.6,480.1 L87.4,479.9 L88.2,479.8 L89,479.6 L89.8,479.5 L90.6,479.3 L91.4,479.2 L92.2,479.1 L93,478.9 L93.8,478.8 L94.6,478.7 L95.4,478.5 L96.2,478.4 L97,478.3 L97.8,478.2 L98.6,478.1 L99.4,478 L100.2,477.9 L101,477.8 L101.8,477.7 L102.6,477.6 L103.4,477.5 L104.2,477.4 L105,477.3 L105.8,477.3 L106.6,477.2 L107.4,477.1 L108.2,477.1 L109,477 L109.8,477 L110.6,477 L111.4,476.9 L112.2,476.9 L113,476.9 L113.8,476.9 L114.6,476.9 L115.4,476.9 L116.2,476.9 L117,476.9 L117.8,476.9 L118.6,477 L119.4,477 L120.2,477 L121,477.1 L121.8,477.2 L122.6,477.2 L123.4,477.3 L124.2,477.4 L125,477.5 L125.8,477.6 L126.6,477.7 L127.4,477.8 L128.2,477.9 L129,478 L129.8,478.1 L130.6,478.3 L131.4,478.4 L132.2,478.5 L133,478.7 L133.8,478.8 L134.6,479 L135.4,479.1 L136.2,479.3 L137,479.5 L137.8,479.6 L138.6,479.8 L139.4,480 L140.2,480.2 L141,480.4 L141.8,480.5 L142.6,480.7 L143.4,480.9 L144.2,481.1 L145,481.3 L145.8,481.5 L146.6,481.7 L147.4,481.9 L148.2,482.1 L149,482.3 L149.8,482.5 L150.6,482.7 L151.4,482.9 L152.2,483.2 L153,483.4 L153.8,483.6 L154.6,483.8 L155.4,484 L156.2,484.2 L157,484.4 L157.8,484.6 L158.6,484.8 L159.4,485 L160.2,485.2 L161,485.4 L161.8,485.6 L162.6,485.8 L163.4,486 L164.2,486.2 L165,486.4 L165.8,486.6 L166.6,486.8 L167.4,487 L168.2,487.2 L169,487.4 L169.8,487.5 L170.6,487.7 L171.4,487.9 L172.2,488.1 L173,488.2 L173.8,488.4 L174.6,488.6 L175.4,488.7 L176.2,488.9 L177,489 L177.8,489.2 L178.6,489.3 L179.4,489.5 L180.2,489.6 L181,489.8 L181.8,489.9 L182.6,490.1 L183.4,490.2 L184.2,490.4 L185,490.5 L185.8,490.6 L186.6,490.8 L187.4,490.9 L188.2,491 L189,491.1 L189.8,491.3 L190.6,491.4 L191.4,491.5 L192.2,491.6 L193,491.7 L193.8,491.8 L194.6,491.9 L195.4,492 L196.2,492.1 L197,492.2 L197.8,492.3 L198.6,492.4 L199.4,492.5 L200.2,492.6 L201,492.7 L201.8,492.7 L202.6,492.8 L203.4,492.9 L204.2,493 L205,493.1 L205.8,493.1 L206.6,493.2 L207.4,493.3 L208.2,493.4 L209,493.4 L209.8,493.5 L210.6,493.6 L211.4,493.6 L212.2,493.7 L213,493.8 L213.8,493.8 L214.6,493.9 L215.4,493.9 L216.2,494 L217,494.1 L217.8,494.1 L218.6,494.2 L219.4,494.2 L220.2,494.3 L221,494.3 L221.8,494.4 L222.6,494.4 L223.4,494.5 L224.2,494.5 L225,494.6 L225.8,494.6 L226.6,494.7 L227.4,494.7 L228.2,494.8 L229,494.8 L229.8,494.9 L230.6,494.9 L231.4,495 L232.2,495 L233,495.1 L233.8,495.1 L234.6,495.2 L235.4,495.2 L236.2,495.3 L237,495.3 L237.8,495.3 L238.6,495.4 L239.4,495.4 L240.2,495.5 L241,495.5 L241.8,495.6 L242.6,495.6 L243.4,495.6 L244.2,495.7 L245,495.7 L245.8,495.8 L246.6,495.8 L247.4,495.9 L248.2,495.9 L249,495.9 L249.8,496 L250.6,496 L251.4,496.1 L252.2,496.1 L253,496.1 L253.8,496.2 L254.6,496.2 L255.4,496.3 L256.2,496.3 L257,496.3 L257.8,496.4 L258.6,496.4 L259.4,496.5 L260.2,496.5 L261,496.5 L261.8,496.6 L262.6,496.6 L263.4,496.7 L264.2,496.7 L265,496.7 L265.8,496.8 L266.6,496.8 L267.4,496.9 L268.2,496.9 L269,496.9 L269.8,497 L270.6,497 L271.4,497.1 L272.2,497.1 L273,497.1 L273.8,497.2 L274.6,497.2 L275.4,497.3 L276.2,497.3 L277,497.3 L277.8,497.4 L278.6,497.4 L279.4,497.5 L279.4,497.5 L278.6,497.4 L277.8,497.4 L277,497.4 L276.2,497.3 L275.4,497.3 L274.6,497.2 L273.8,497.2 L273,497.2 L272.2,497.1 L271.4,497.1 L270.6,497 L269.8,497 L269,497 L268.2,496.9 L267.4,496.9 L266.6,496.8 L265.8,496.8 L265,496.8 L264.2,496.7 L263.4,496.7 L262.6,496.6 L261.8,496.6 L261,496.6 L260.2,496.5 L259.4,496.5 L258.6,496.4 L257.8,496.4 L257,496.4 L256.2,496.3 L255.4,496.3 L254.6,496.2 L253.8,496.2 L253,496.2 L252.2,496.1 L251.4,496.1 L250.6,496 L249.8,496 L249,496 L248.2,495.9 L247.4,495.9 L246.6,495.8 L245.8,495.8 L245,495.8 L244.2,495.7 L243.4,495.7 L242.6,495.6 L241.8,495.6 L241,495.6 L240.2,495.5 L239.4,495.5 L238.6,495.4 L237.8,495.4 L237,495.4 L236.2,495.3 L235.4,495.3 L234.6,495.2 L233.8,495.2 L233,495.2 L232.2,495.1 L231.4,495.1 L230.6,495 L229.8,495 L229,495 L228.2,494.9 L227.4,494.9 L226.6,494.8 L225.8,494.8 L225,494.8 L224.2,494.7 L223.4,494.7 L222.6,494.6 L221.8,494.6 L221,494.6 L220.2,494.5 L219.4,494.5 L218.6,494.4 L217.8,494.4 L217,494.4 L216.2,494.3 L215.4,494.3 L214.6,494.2 L213.8,494.2 L213,494.2 L212.2,494.1 L211.4,494.1 L210.6,494 L209.8,494 L209,494 L208.2,493.9 L207.4,493.9 L206.6,493.8 L205.8,493.8 L205,493.8 L204.2,493.7 L203.4,493.7 L202.6,493.6 L201.8,493.6 L201,493.6 L200.2,493.5 L199.4,493.5 L198.6,493.4 L197.8,493.4 L197,493.4 L196.2,493.3 L195.4,493.3 L194.6,493.2 L193.8,493.2 L193,493.2 L192.2,493.1 L191.4,493.1 L190.6,493 L189.8,493 L189,493 L188.2,492.9 L187.4,492.9 L186.6,492.8 L185.8,492.8 L185,492.8 L184.2,492.7 L183.4,492.7 L182.6,492.6 L181.8,492.6 L181,492.6 L180.2,492.5 L179.4,492.5 L178.6,492.4 L177.8,492.4 L177,492.4 L176.2,492.3 L175.4,492.3 L174.6,492.3 L173.8,492.2 L173,492.2 L172.2,492.2 L171.4,492.1 L170.6,492.1 L169.8,492.1 L169,492 L168.2,492 L167.4,492 L166.6,491.9 L165.8,491.9 L165,491.9 L164.2,491.8 L163.4,491.8 L162.6,491.8 L161.8,491.7 L161,491.7 L160.2,491.7 L159.4,491.6 L158.6,491.6 L157.8,491.6 L157,491.5 L156.2,491.5 L155.4,491.5 L154.6,491.4 L153.8,491.4 L153,491.4 L152.2,491.3 L151.4,491.3 L150.6,491.3 L149.8,491.2 L149,491.2 L148.2,491.2 L147.4,491.1 L146.6,491.1 L145.8,491.1 L145,491 L144.2,491 L143.4,491 L142.6,490.9 L141.8,490.9 L141,490.9 L140.2,490.8 L139.4,490.8 L138.6,490.8 L137.8,490.7 L137,490.7 L136.2,490.7 L135.4,490.6 L134.6,490.6 L133.8,490.6 L133,490.5 L132.2,490.5 L131.4,490.5 L130.6,490.4 L129.8,490.4 L129,490.4 L128.2,490.3 L127.4,490.3 L126.6,490.3 L125.8,490.2 L125,490.2 L124.2,490.2 L123.4,490.1 L122.6,490.1 L121.8,490.1 L121,490 L120.2,490 L119.4,490 L118.6,490 L117.8,489.9 L117,489.9 L116.2,489.9 L115.4,489.9 L114.6,489.8 L113.8,489.8 L113,489.8 L112.2,489.8 L111.4,489.8 L110.6,489.7 L109.8,489.7 L109,489.7 L108.2,489.7 L107.4,489.6 L106.6,489.6 L105.8,489.6 L105,489.6 L104.2,489.5 L103.4,489.5 L102.6,489.5 L101.8,489.5 L101,489.5 L100.2,489.4 L99.4,489.4 L98.6,489.4 L97.8,489.4 L97,489.3 L96.2,489.3 L95.4,489.3 L94.6,489.3 L93.8,489.2 L93,489.2 L92.2,489.2 L91.4,489.2 L90.6,489.2 L89.8,489.1 L89,489.1 L88.2,489.1 L87.4,489.1 L86.6,489 L85.8,489 L85,489 L84.2,489 L83.4,488.9 L82.6,488.9 L81.8,488.9 L81,488.9 L80.2,488.9 L79.4,488.8 L78.6,488.8 L77.8,488.8 L77,488.8 L76.2,488.7 L75.4,488.7 L74.6,488.7 L73.8,488.7 L73,488.6 L72.2,488.6 L71.4,488.6 L70.6,488.6 L69.8,488.6 L69,488.5 L68.2,488.5 L67.4,488.5 L66.6,488.5 L65.8,488.4 L65,488.4 L64.2,488.4 L63.4,488.4 L62.6,488.4 L61.8,488.3 L61,488.3 L60.2,488.3 L59.4,488.3 L58.6,488.2 L57.8,488.2 L57,488.2 L56.2,488.2 L55.4,488.1 L54.6,488.1 L53.8,488.1 L53,488.1 L52.2,488.1 L51.4,488 L50.6,488 L49.8,488 L49,488 L48.2,487.9 L47.4,487.9 L46.6,487.9 L45.8,487.9 L45,487.8 L44.2,487.8 L43.4,487.8 L42.6,487.8 L41.8,487.8 L41,487.7 L40.2,487.7 L39.4,487.7 L38.6,487.7 L37.8,487.6 L37,487.6 L36.2,487.6 L35.4,487.6 L34.6,487.5 L33.8,487.5 L33,487.5 Z" fill="rgba(110,125,195,0.45)" stroke="none"/><path d="M112.5,489.8 L113.3,489.8 L114.1,489.8 L114.9,489.9 L115.7,489.9 L116.5,489.9 L117.3,489.9 L118.1,489.9 L118.9,490 L119.7,490 L120.5,490 L121.3,490 L122.1,490.1 L122.9,490.1 L123.7,490.1 L124.5,490.2 L125.3,490.2 L126.1,490.2 L126.9,490.3 L127.7,490.3 L128.5,490.3 L129.3,490.4 L130.1,490.4 L130.9,490.4 L131.7,490.5 L132.5,490.5 L133.3,490.5 L134.1,490.6 L134.9,490.6 L135.7,490.6 L136.5,490.6 L137.3,490.7 L138.1,490.7 L138.9,490.7 L139.7,490.7 L140.5,490.8 L141.3,490.8 L142.1,490.8 L142.9,490.8 L143.7,490.9 L144.5,490.9 L145.3,490.9 L146.1,490.9 L146.9,490.9 L147.7,491 L148.5,491 L149.3,491 L150.1,491 L150.9,491 L151.7,491 L152.5,491 L153.3,491 L154.1,491 L154.9,491 L155.7,491 L156.5,491 L157.3,491 L158.1,491 L158.9,491 L159.7,490.9 L160.5,490.9 L161.3,490.9 L162.1,490.8 L162.9,490.8 L163.7,490.7 L164.5,490.7 L165.3,490.6 L166.1,490.6 L166.9,490.5 L167.7,490.4 L168.5,490.3 L169.3,490.2 L170.1,490.1 L170.9,490 L171.7,489.9 L172.5,489.8 L173.3,489.7 L174.1,489.5 L174.9,489.4 L175.7,489.2 L176.5,489 L177.3,488.9 L178.1,488.7 L178.9,488.5 L179.7,488.3 L180.5,488 L181.3,487.8 L182.1,487.6 L182.9,487.3 L183.7,487 L184.5,486.8 L185.3,486.5 L186.1,486.2 L186.9,485.9 L187.7,485.5 L188.5,485.2 L189.3,484.8 L190.1,484.5 L190.9,484.1 L191.7,483.7 L192.5,483.3 L193.3,482.9 L194.1,482.5 L194.9,482 L195.7,481.6 L196.5,481.1 L197.3,480.7 L198.1,480.2 L198.9,479.7 L199.7,479.2 L200.5,478.7 L201.3,478.2 L202.1,477.7 L202.9,477.2 L203.7,476.6 L204.5,476.1 L205.3,475.6 L206.1,475 L206.9,474.5 L207.7,474 L208.5,473.4 L209.3,472.9 L210.1,472.4 L210.9,471.9 L211.7,471.3 L212.5,470.8 L213.3,470.3 L214.1,469.8 L214.9,469.3 L215.7,468.9 L216.5,468.4 L217.3,467.9 L218.1,467.5 L218.9,467.1 L219.7,466.7 L220.5,466.3 L221.3,465.9 L222.1,465.6 L222.9,465.2 L223.7,464.9 L224.5,464.6 L225.3,464.4 L226.1,464.1 L226.9,463.9 L227.7,463.7 L228.5,463.6 L229.3,463.4 L230.1,463.3 L230.9,463.3 L231.7,463.2 L232.5,463.2 L233.3,463.2 L234.1,463.2 L234.9,463.3 L235.7,463.3 L236.5,463.5 L237.3,463.6 L238.1,463.8 L238.9,464 L239.7,464.2 L240.5,464.4 L241.3,464.7 L242.1,465 L242.9,465.3 L243.7,465.7 L244.5,466.1 L245.3,466.4 L246.1,466.9 L246.9,467.3 L247.7,467.8 L248.5,468.2 L249.3,468.7 L250.1,469.2 L250.9,469.7 L251.7,470.3 L252.5,470.8 L253.3,471.4 L254.1,471.9 L254.9,472.5 L255.7,473.1 L256.5,473.7 L257.3,474.3 L258.1,474.9 L258.9,475.5 L259.7,476.1 L260.5,476.8 L261.3,477.4 L262.1,478 L262.9,478.6 L263.7,479.2 L264.5,479.8 L265.3,480.4 L266.1,481 L266.9,481.6 L267.7,482.2 L268.5,482.8 L269.3,483.4 L270.1,483.9 L270.9,484.5 L271.7,485 L272.5,485.5 L273.3,486.1 L274.1,486.6 L274.9,487.1 L275.7,487.6 L276.5,488.1 L277.3,488.5 L278.1,489 L278.9,489.4 L279.7,489.8 L280.5,490.3 L281.3,490.6 L282.1,491 L282.9,491.4 L283.7,491.7 L284.5,492 L285.3,492.4 L286.1,492.7 L286.9,493 L287.7,493.3 L288.5,493.5 L289.3,493.8 L290.1,494.1 L290.9,494.3 L291.7,494.5 L292.5,494.8 L293.3,495 L294.1,495.2 L294.9,495.4 L295.7,495.5 L296.5,495.7 L297.3,495.9 L298.1,496 L298.9,496.2 L299.7,496.3 L300.5,496.5 L301.3,496.6 L302.1,496.7 L302.9,496.8 L303.7,496.9 L304.5,497.1 L305.3,497.2 L306.1,497.2 L306.9,497.3 L307.7,497.4 L308.5,497.5 L309.3,497.6 L310.1,497.6 L310.9,497.7 L311.7,497.8 L312.5,497.8 L313.3,497.9 L314.1,498 L314.9,498 L315.7,498.1 L316.5,498.1 L317.3,498.2 L318.1,498.2 L318.9,498.2 L319.7,498.3 L320.5,498.3 L321.3,498.4 L322.1,498.4 L322.9,498.4 L323.7,498.5" fill="none" stroke="#7A5494" stroke-width="1.8" stroke-linejoin="round"/><path d="M86.7,489 L87.5,489.1 L88.3,489.1 L89.1,489.1 L89.9,489.1 L90.7,489.2 L91.5,489.2 L92.3,489.2 L93.1,489.2 L93.9,489.2 L94.7,489.3 L95.5,489.3 L96.3,489.3 L97.1,489.3 L97.9,489.3 L98.7,489.4 L99.5,489.4 L100.3,489.4 L101.1,489.4 L101.9,489.4 L102.7,489.5 L103.5,489.5 L104.3,489.5 L105.1,489.5 L105.9,489.5 L106.7,489.5 L107.5,489.6 L108.3,489.6 L109.1,489.6 L109.9,489.6 L110.7,489.6 L111.5,489.6 L112.3,489.6 L113.1,489.6 L113.9,489.6 L114.7,489.6 L115.5,489.6 L116.3,489.6 L117.1,489.6 L117.9,489.6 L118.7,489.5 L119.5,489.5 L120.3,489.5 L121.1,489.5 L121.9,489.5 L122.7,489.4 L123.5,489.4 L124.3,489.3 L125.1,489.3 L125.9,489.2 L126.7,489.2 L127.5,489.1 L128.3,489 L129.1,488.9 L129.9,488.8 L130.7,488.7 L131.5,488.6 L132.3,488.4 L133.1,488.3 L133.9,488.1 L134.7,487.9 L135.5,487.7 L136.3,487.5 L137.1,487.3 L137.9,487.1 L138.7,486.8 L139.5,486.5 L140.3,486.2 L141.1,485.9 L141.9,485.5 L142.7,485.2 L143.5,484.8 L144.3,484.3 L145.1,483.9 L145.9,483.4 L146.7,482.9 L147.5,482.4 L148.3,481.8 L149.1,481.2 L149.9,480.6 L150.7,479.9 L151.5,479.2 L152.3,478.5 L153.1,477.8 L153.9,477 L154.7,476.2 L155.5,475.3 L156.3,474.4 L157.1,473.5 L157.9,472.5 L158.7,471.6 L159.5,470.5 L160.3,469.5 L161.1,468.4 L161.9,467.3 L162.7,466.1 L163.5,464.9 L164.3,463.7 L165.1,462.5 L165.9,461.2 L166.7,459.9 L167.5,458.6 L168.3,457.3 L169.1,456 L169.9,454.6 L170.7,453.2 L171.5,451.8 L172.3,450.4 L173.1,449 L173.9,447.6 L174.7,446.2 L175.5,444.8 L176.3,443.4 L177.1,442 L177.9,440.6 L178.7,439.2 L179.5,437.9 L180.3,436.5 L181.1,435.2 L181.9,434 L182.7,432.7 L183.5,431.5 L184.3,430.3 L185.1,429.2 L185.9,428.1 L186.7,427.1 L187.5,426.1 L188.3,425.2 L189.1,424.3 L189.9,423.5 L190.7,422.7 L191.5,422 L192.3,421.4 L193.1,420.8 L193.9,420.4 L194.7,419.9 L195.5,419.6 L196.3,419.3 L197.1,419.1 L197.9,419 L198.7,418.9 L199.5,419 L200.3,419.1 L201.1,419.3 L201.9,419.5 L202.7,419.9 L203.5,420.3 L204.3,420.7 L205.1,421.3 L205.9,421.9 L206.7,422.6 L207.5,423.4 L208.3,424.2 L209.1,425.1 L209.9,426 L210.7,427 L211.5,428.1 L212.3,429.2 L213.1,430.3 L213.9,431.5 L214.7,432.8 L215.5,434 L216.3,435.4 L217.1,436.7 L217.9,438.1 L218.7,439.5 L219.5,440.9 L220.3,442.3 L221.1,443.8 L221.9,445.3 L222.7,446.7 L223.5,448.2 L224.3,449.7 L225.1,451.2 L225.9,452.7 L226.7,454.2 L227.5,455.6 L228.3,457.1 L229.1,458.5 L229.9,459.9 L230.7,461.4 L231.5,462.7 L232.3,464.1 L233.1,465.4 L233.9,466.8 L234.7,468.1 L235.5,469.3 L236.3,470.5 L237.1,471.7 L237.9,472.9 L238.7,474.1 L239.5,475.2 L240.3,476.2 L241.1,477.3 L241.9,478.3 L242.7,479.2 L243.5,480.2 L244.3,481.1 L245.1,481.9 L245.9,482.8 L246.7,483.6 L247.5,484.4 L248.3,485.1 L249.1,485.8 L249.9,486.5 L250.7,487.1 L251.5,487.7 L252.3,488.3 L253.1,488.9 L253.9,489.4 L254.7,489.9 L255.5,490.4 L256.3,490.8 L257.1,491.3 L257.9,491.7 L258.7,492 L259.5,492.4 L260.3,492.8 L261.1,493.1 L261.9,493.4 L262.7,493.7 L263.5,493.9 L264.3,494.2 L265.1,494.4 L265.9,494.7 L266.7,494.9 L267.5,495.1 L268.3,495.3 L269.1,495.5 L269.9,495.6 L270.7,495.8 L271.5,495.9 L272.3,496.1 L273.1,496.2 L273.9,496.3 L274.7,496.5 L275.5,496.6 L276.3,496.7 L277.1,496.8 L277.9,496.9 L278.7,497 L279.5,497 L280.3,497.1 L281.1,497.2 L281.9,497.2 L282.7,497.3 L283.5,497.3 L284.3,497.4 L285.1,497.4 L285.9,497.5 L286.7,497.5 L287.5,497.5 L288.3,497.6 L289.1,497.6 L289.9,497.6 L290.7,497.7 L291.5,497.7 L292.3,497.7 L293.1,497.8 L293.9,497.8 L294.7,497.8 L295.5,497.8 L296.3,497.9 L297.1,497.9 L297.9,497.9 L298.7,497.9 L299.5,498 L300.3,498 L301.1,498 L301.9,498 L302.7,498.1 L303.5,498.1 L304.3,498.1 L305.1,498.1 L305.9,498.1 L306.7,498.2 L307.5,498.2 L308.3,498.2 L309.1,498.2 L309.9,498.2 L310.7,498.3 L311.5,498.3" fill="none" stroke="#7E8EE0" stroke-width="1.8" stroke-linejoin="round"/><path d="M33,487.5 L33.8,487.5 L34.6,487.5 L35.4,487.6 L36.2,487.6 L37,487.6 L37.8,487.6 L38.6,487.6 L39.4,487.7 L40.2,487.7 L41,487.7 L41.8,487.7 L42.6,487.7 L43.4,487.8 L44.2,487.8 L45,487.8 L45.8,487.8 L46.6,487.8 L47.4,487.9 L48.2,487.9 L49,487.9 L49.8,487.9 L50.6,487.9 L51.4,487.9 L52.2,488 L53,488 L53.8,488 L54.6,488 L55.4,488 L56.2,488 L57,488 L57.8,488 L58.6,488.1 L59.4,488.1 L60.2,488.1 L61,488.1 L61.8,488.1 L62.6,488.1 L63.4,488.1 L64.2,488.1 L65,488.1 L65.8,488.1 L66.6,488.1 L67.4,488.1 L68.2,488.1 L69,488.1 L69.8,488.1 L70.6,488.1 L71.4,488 L72.2,488 L73,488 L73.8,488 L74.6,488 L75.4,487.9 L76.2,487.9 L77,487.9 L77.8,487.8 L78.6,487.8 L79.4,487.7 L80.2,487.7 L81,487.6 L81.8,487.6 L82.6,487.5 L83.4,487.5 L84.2,487.4 L85,487.3 L85.8,487.2 L86.6,487.1 L87.4,487.1 L88.2,487 L89,486.9 L89.8,486.7 L90.6,486.6 L91.4,486.5 L92.2,486.4 L93,486.2 L93.8,486.1 L94.6,486 L95.4,485.8 L96.2,485.6 L97,485.5 L97.8,485.3 L98.6,485.1 L99.4,484.9 L100.2,484.7 L101,484.4 L101.8,484.2 L102.6,484 L103.4,483.7 L104.2,483.5 L105,483.2 L105.8,482.9 L106.6,482.6 L107.4,482.3 L108.2,482 L109,481.7 L109.8,481.3 L110.6,481 L111.4,480.6 L112.2,480.2 L113,479.9 L113.8,479.5 L114.6,479 L115.4,478.6 L116.2,478.2 L117,477.7 L117.8,477.3 L118.6,476.8 L119.4,476.3 L120.2,475.8 L121,475.3 L121.8,474.8 L122.6,474.3 L123.4,473.7 L124.2,473.2 L125,472.6 L125.8,472 L126.6,471.4 L127.4,470.8 L128.2,470.2 L129,469.6 L129.8,469 L130.6,468.3 L131.4,467.7 L132.2,467 L133,466.4 L133.8,465.7 L134.6,465 L135.4,464.3 L136.2,463.6 L137,462.9 L137.8,462.2 L138.6,461.5 L139.4,460.7 L140.2,460 L141,459.3 L141.8,458.6 L142.6,457.8 L143.4,457.1 L144.2,456.4 L145,455.6 L145.8,454.9 L146.6,454.2 L147.4,453.5 L148.2,452.7 L149,452 L149.8,451.3 L150.6,450.6 L151.4,449.9 L152.2,449.2 L153,448.5 L153.8,447.9 L154.6,447.2 L155.4,446.6 L156.2,445.9 L157,445.3 L157.8,444.7 L158.6,444.1 L159.4,443.6 L160.2,443 L161,442.5 L161.8,441.9 L162.6,441.4 L163.4,441 L164.2,440.5 L165,440.1 L165.8,439.6 L166.6,439.3 L167.4,438.9 L168.2,438.5 L169,438.2 L169.8,437.9 L170.6,437.7 L171.4,437.4 L172.2,437.2 L173,437 L173.8,436.8 L174.6,436.7 L175.4,436.6 L176.2,436.5 L177,436.5 L177.8,436.4 L178.6,436.4 L179.4,436.5 L180.2,436.5 L181,436.6 L181.8,436.8 L182.6,436.9 L183.4,437.1 L184.2,437.3 L185,437.5 L185.8,437.8 L186.6,438.1 L187.4,438.4 L188.2,438.8 L189,439.1 L189.8,439.5 L190.6,439.9 L191.4,440.4 L192.2,440.9 L193,441.3 L193.8,441.9 L194.6,442.4 L195.4,442.9 L196.2,443.5 L197,444.1 L197.8,444.7 L198.6,445.3 L199.4,446 L200.2,446.7 L201,447.3 L201.8,448 L202.6,448.7 L203.4,449.5 L204.2,450.2 L205,450.9 L205.8,451.7 L206.6,452.4 L207.4,453.2 L208.2,454 L209,454.8 L209.8,455.6 L210.6,456.3 L211.4,457.1 L212.2,457.9 L213,458.7 L213.8,459.6 L214.6,460.4 L215.4,461.2 L216.2,462 L217,462.8 L217.8,463.6 L218.6,464.4 L219.4,465.2 L220.2,466 L221,466.7 L221.8,467.5 L222.6,468.3 L223.4,469.1 L224.2,469.8 L225,470.6 L225.8,471.3 L226.6,472 L227.4,472.8 L228.2,473.5 L229,474.2 L229.8,474.9 L230.6,475.6 L231.4,476.2 L232.2,476.9 L233,477.5 L233.8,478.2 L234.6,478.8 L235.4,479.4 L236.2,480 L237,480.6 L237.8,481.2 L238.6,481.7 L239.4,482.3 L240.2,482.8 L241,483.4 L241.8,483.9 L242.6,484.4 L243.4,484.9 L244.2,485.3 L245,485.8 L245.8,486.3 L246.6,486.7 L247.4,487.1 L248.2,487.5 L249,487.9 L249.8,488.3 L250.6,488.7 L251.4,489.1 L252.2,489.4 L253,489.8 L253.8,490.1 L254.6,490.4 L255.4,490.7 L256.2,491 L257,491.3 L257.8,491.6 L258.6,491.9 L259.4,492.2 L260.2,492.4 L261,492.7 L261.8,492.9 L262.6,493.1 L263.4,493.4 L264.2,493.6 L265,493.8 L265.8,494 L266.6,494.2 L267.4,494.3 L268.2,494.5 L269,494.7 L269.8,494.9 L270.6,495 L271.4,495.2 L272.2,495.3 L273,495.5 L273.8,495.6 L274.6,495.7 L275.4,495.9 L276.2,496 L277,496.1 L277.8,496.2 L278.6,496.3 L279.4,496.4 L280.2,496.5 L281,496.6 L281.8,496.7 L282.6,496.8 L283.4,496.8 L284.2,496.9 L285,497 L285.8,497 L286.6,497.1 L287.4,497.2 L288.2,497.2 L289,497.3 L289.8,497.3 L290.6,497.4 L291.4,497.4 L292.2,497.5 L293,497.5 L293.8,497.5 L294.6,497.6 L295.4,497.6 L296.2,497.7 L297,497.7 L297.8,497.7 L298.6,497.8 L299.4,497.8 L300.2,497.8 L301,497.9 L301.8,497.9 L302.6,497.9 L303.4,498 L304.2,498 L305,498 L305.8,498 L306.6,498.1 L307.4,498.1 L308.2,498.1 L309,498.2 L309.8,498.2 L310.6,498.2 L311.4,498.2 L312.2,498.3 L313,498.3 L313.8,498.3 L314.6,498.3 L315.4,498.4 L316.2,498.4 L317,498.4 L317.8,498.4 L318.6,498.4 L319.4,498.5 L320.2,498.5 L321,498.5 L321.8,498.5 L322.6,498.5 L323.4,498.6" fill="none" stroke="#9C5CEC" stroke-width="1.8" stroke-linejoin="round"/><path d="M33,486.7 L33.8,486.7 L34.6,486.6 L35.4,486.6 L36.2,486.6 L37,486.6 L37.8,486.5 L38.6,486.5 L39.4,486.5 L40.2,486.4 L41,486.4 L41.8,486.3 L42.6,486.3 L43.4,486.2 L44.2,486.2 L45,486.1 L45.8,486.1 L46.6,486 L47.4,486 L48.2,485.9 L49,485.8 L49.8,485.8 L50.6,485.7 L51.4,485.6 L52.2,485.6 L53,485.5 L53.8,485.4 L54.6,485.3 L55.4,485.2 L56.2,485.1 L57,485 L57.8,484.9 L58.6,484.8 L59.4,484.7 L60.2,484.6 L61,484.5 L61.8,484.4 L62.6,484.3 L63.4,484.2 L64.2,484.1 L65,483.9 L65.8,483.8 L66.6,483.7 L67.4,483.6 L68.2,483.4 L69,483.3 L69.8,483.2 L70.6,483 L71.4,482.9 L72.2,482.8 L73,482.6 L73.8,482.5 L74.6,482.3 L75.4,482.2 L76.2,482 L77,481.9 L77.8,481.7 L78.6,481.6 L79.4,481.4 L80.2,481.3 L81,481.1 L81.8,481 L82.6,480.8 L83.4,480.7 L84.2,480.5 L85,480.4 L85.8,480.2 L86.6,480.1 L87.4,479.9 L88.2,479.8 L89,479.6 L89.8,479.5 L90.6,479.3 L91.4,479.2 L92.2,479.1 L93,478.9 L93.8,478.8 L94.6,478.7 L95.4,478.5 L96.2,478.4 L97,478.3 L97.8,478.2 L98.6,478.1 L99.4,478 L100.2,477.9 L101,477.8 L101.8,477.7 L102.6,477.6 L103.4,477.5 L104.2,477.4 L105,477.3 L105.8,477.3 L106.6,477.2 L107.4,477.1 L108.2,477.1 L109,477 L109.8,477 L110.6,477 L111.4,476.9 L112.2,476.9 L113,476.9 L113.8,476.9 L114.6,476.9 L115.4,476.9 L116.2,476.9 L117,476.9 L117.8,476.9 L118.6,477 L119.4,477 L120.2,477 L121,477.1 L121.8,477.2 L122.6,477.2 L123.4,477.3 L124.2,477.4 L125,477.5 L125.8,477.6 L126.6,477.7 L127.4,477.8 L128.2,477.9 L129,478 L129.8,478.1 L130.6,478.3 L131.4,478.4 L132.2,478.5 L133,478.7 L133.8,478.8 L134.6,479 L135.4,479.1 L136.2,479.3 L137,479.5 L137.8,479.6 L138.6,479.8 L139.4,480 L140.2,480.2 L141,480.4 L141.8,480.5 L142.6,480.7 L143.4,480.9 L144.2,481.1 L145,481.3 L145.8,481.5 L146.6,481.7 L147.4,481.9 L148.2,482.1 L149,482.3 L149.8,482.5 L150.6,482.7 L151.4,482.9 L152.2,483.2 L153,483.4 L153.8,483.6 L154.6,483.8 L155.4,484 L156.2,484.2 L157,484.4 L157.8,484.6 L158.6,484.8 L159.4,485 L160.2,485.2 L161,485.4 L161.8,485.6 L162.6,485.8 L163.4,486 L164.2,486.2 L165,486.4 L165.8,486.6 L166.6,486.8 L167.4,487 L168.2,487.2 L169,487.4 L169.8,487.5 L170.6,487.7 L171.4,487.9 L172.2,488.1 L173,488.2 L173.8,488.4 L174.6,488.6 L175.4,488.7 L176.2,488.9 L177,489 L177.8,489.2 L178.6,489.3 L179.4,489.5 L180.2,489.6 L181,489.8 L181.8,489.9 L182.6,490.1 L183.4,490.2 L184.2,490.4 L185,490.5 L185.8,490.6 L186.6,490.8 L187.4,490.9 L188.2,491 L189,491.1 L189.8,491.3 L190.6,491.4 L191.4,491.5 L192.2,491.6 L193,491.7 L193.8,491.8 L194.6,491.9 L195.4,492 L196.2,492.1 L197,492.2 L197.8,492.3 L198.6,492.4 L199.4,492.5 L200.2,492.6 L201,492.7 L201.8,492.7 L202.6,492.8 L203.4,492.9 L204.2,493 L205,493.1 L205.8,493.1 L206.6,493.2 L207.4,493.3 L208.2,493.4 L209,493.4 L209.8,493.5 L210.6,493.6 L211.4,493.6 L212.2,493.7 L213,493.8 L213.8,493.8 L214.6,493.9 L215.4,493.9 L216.2,494 L217,494.1 L217.8,494.1 L218.6,494.2 L219.4,494.2 L220.2,494.3 L221,494.3 L221.8,494.4 L222.6,494.4 L223.4,494.5 L224.2,494.5 L225,494.6 L225.8,494.6 L226.6,494.7 L227.4,494.7 L228.2,494.8 L229,494.8 L229.8,494.9 L230.6,494.9 L231.4,495 L232.2,495 L233,495.1 L233.8,495.1 L234.6,495.2 L235.4,495.2 L236.2,495.3 L237,495.3 L237.8,495.3 L238.6,495.4 L239.4,495.4 L240.2,495.5 L241,495.5 L241.8,495.6 L242.6,495.6 L243.4,495.6 L244.2,495.7 L245,495.7 L245.8,495.8 L246.6,495.8 L247.4,495.9 L248.2,495.9 L249,495.9 L249.8,496 L250.6,496 L251.4,496.1 L252.2,496.1 L253,496.1 L253.8,496.2 L254.6,496.2 L255.4,496.3 L256.2,496.3 L257,496.3 L257.8,496.4 L258.6,496.4 L259.4,496.5 L260.2,496.5 L261,496.5 L261.8,496.6 L262.6,496.6 L263.4,496.7 L264.2,496.7 L265,496.7 L265.8,496.8 L266.6,496.8 L267.4,496.9 L268.2,496.9 L269,496.9 L269.8,497 L270.6,497 L271.4,497.1 L272.2,497.1 L273,497.1 L273.8,497.2 L274.6,497.2 L275.4,497.3 L276.2,497.3 L277,497.3 L277.8,497.4 L278.6,497.4 L279.4,497.5" fill="none" stroke="#8A9CF0" stroke-width="1.8" stroke-linejoin="round"/><path d="M33,487.5 L120,490 L180,492.5 L230,495 L280,497.5 L324,498.6" fill="none" stroke="#8C8EF2" stroke-width="2.8"/></g>
<rect x="33" y="297.6" width="291" height="233.6" fill="none" stroke="#000" stroke-width="2.7"/>
<line x1="33" y1="531.2" x2="33" y2="535.4" stroke="#000" stroke-width="2"/>
<text x="33" y="548.2" font-size="12" text-anchor="middle" font-weight="bold" >538</text>
<line x1="91.2" y1="531.2" x2="91.2" y2="535.4" stroke="#000" stroke-width="2"/>
<text x="91.2" y="548.2" font-size="12" text-anchor="middle" font-weight="bold" >536</text>
<line x1="149.4" y1="531.2" x2="149.4" y2="535.4" stroke="#000" stroke-width="2"/>
<text x="149.4" y="548.2" font-size="12" text-anchor="middle" font-weight="bold" >534</text>
<line x1="207.6" y1="531.2" x2="207.6" y2="535.4" stroke="#000" stroke-width="2"/>
<text x="207.6" y="548.2" font-size="12" text-anchor="middle" font-weight="bold" >532</text>
<line x1="265.8" y1="531.2" x2="265.8" y2="535.4" stroke="#000" stroke-width="2"/>
<text x="265.8" y="548.2" font-size="12" text-anchor="middle" font-weight="bold" >530</text>
<line x1="324" y1="531.2" x2="324" y2="535.4" stroke="#000" stroke-width="2"/>
<text x="324" y="548.2" font-size="12" text-anchor="middle" font-weight="bold" >528</text>
<line x1="62.1" y1="531.2" x2="62.1" y2="533.2" stroke="#000" stroke-width="2"/>
<line x1="120.3" y1="531.2" x2="120.3" y2="533.2" stroke="#000" stroke-width="2"/>
<line x1="178.5" y1="531.2" x2="178.5" y2="533.2" stroke="#000" stroke-width="2"/>
<line x1="236.7" y1="531.2" x2="236.7" y2="533.2" stroke="#000" stroke-width="2"/>
<line x1="294.9" y1="531.2" x2="294.9" y2="533.2" stroke="#000" stroke-width="2"/>
<circle cx="52.8" cy="309.7" r="3.2" fill="none" stroke="#0A22CC" stroke-width="1.3"/>
<text x="66.9" y="313.4" font-size="10" text-anchor="start" font-weight="bold" >O 1s HR spectrum</text>
<line x1="40.8" y1="322.5" x2="64.7" y2="322.5" stroke="#0A22CC" stroke-width="2.2" stroke-linecap="round"/>
<text x="66.9" y="325.9" font-size="10" text-anchor="start" font-weight="bold" >Envelope</text>
<line x1="40.8" y1="335" x2="64.7" y2="335" stroke="#7A3A0A" stroke-width="2.2" stroke-linecap="round"/>
<text x="66.9" y="338.3" font-size="10" text-anchor="start" font-weight="bold" >Background</text>
<rect x="41.6" y="342.1" width="22.3" height="10.1" fill="#A494A8" stroke="#80609E" stroke-width="1.6"/>
<text x="66.9" y="350.8" font-size="10" text-anchor="start" font-weight="bold" >C=O</text>
<rect x="41.6" y="354.4" width="22.3" height="10.8" fill="#A8ACC8" stroke="#8894D0" stroke-width="1.6"/>
<text x="66.9" y="363.3" font-size="10" text-anchor="start" font-weight="bold" >C-O<tspan font-size="6.5" dy="2.5">aliphatic</tspan></text>
<rect x="41.6" y="369.3" width="22.3" height="10.9" fill="#B4A0C8" stroke="#A470D0" stroke-width="1.6"/>
<text x="66.9" y="377.8" font-size="10" text-anchor="start" font-weight="bold" >C-O<tspan font-size="6.5" dy="2.5">aromatic</tspan></text>
<rect x="41.6" y="383.8" width="22.3" height="11.4" fill="#B0B4C8" stroke="#98A0C8" stroke-width="1.6"/>
<text x="66.9" y="392.6" font-size="10" text-anchor="start" font-weight="bold" >Ads. H<tspan font-size="6.5" dy="2.5">2</tspan><tspan dy="-2.5">O/O</tspan><tspan font-size="6.5" dy="2.5">2</tspan></text>
<text x="276.9" y="332.6" font-size="32.2" text-anchor="start" font-weight="bold" >(c)</text>
<text transform="translate(12.8,408.8) rotate(-90)" x="0" y="0" font-size="17.5" text-anchor="middle" font-weight="bold">Intensity (a.u.)</text>
<text x="178.5" y="572.7" font-size="17.5" text-anchor="middle" font-weight="bold" >Binding Energy (eV)</text>
<clipPath id="cd"><rect x="385.5" y="299" width="288.2" height="231"/></clipPath>
<g clip-path="url(#cd)">
<g fill="none" stroke="#138A5E" stroke-width="1.45"><circle cx="389.8" cy="488.2" r="3.7"/><circle cx="395.7" cy="489.6" r="3.7"/><circle cx="385.5" cy="501.3" r="3.7"/><circle cx="392.8" cy="506.4" r="3.7"/><circle cx="398.6" cy="501.3" r="3.7"/><circle cx="403" cy="472.1" r="3.7"/><circle cx="405.2" cy="480.1" r="3.7"/><circle cx="408.8" cy="498.4" r="3.7"/><circle cx="413.2" cy="488.2" r="3.7"/><circle cx="417.6" cy="487.4" r="3.7"/><circle cx="414.7" cy="473.6" r="3.7"/><circle cx="419" cy="465.5" r="3.7"/><circle cx="422" cy="474.3" r="3.7"/><circle cx="423.4" cy="476.5" r="3.7"/><circle cx="432.9" cy="475.8" r="3.7"/><circle cx="430.7" cy="483.8" r="3.7"/><circle cx="427.1" cy="497.7" r="3.7"/><circle cx="427.8" cy="490.4" r="3.7"/><circle cx="442.4" cy="475.8" r="3.7"/><circle cx="448.2" cy="469.9" r="3.7"/><circle cx="456.3" cy="464.8" r="3.7"/><circle cx="459.9" cy="468.5" r="3.7"/><circle cx="464.3" cy="465.5" r="3.7"/><circle cx="471.6" cy="464.1" r="3.7"/><circle cx="476" cy="466.3" r="3.7"/><circle cx="480.4" cy="469.2" r="3.7"/><circle cx="435.1" cy="488.2" r="3.7"/><circle cx="439.5" cy="492.6" r="3.7"/><circle cx="446.8" cy="483.8" r="3.7"/><circle cx="458.5" cy="482.3" r="3.7"/><circle cx="465.8" cy="482.3" r="3.7"/><circle cx="470.1" cy="480.9" r="3.7"/><circle cx="462.8" cy="486.7" r="3.7"/><circle cx="404.4" cy="499.9" r="3.7"/><circle cx="388.4" cy="502" r="3.7"/><circle cx="384" cy="492.6" r="3.7"/><circle cx="455.2" cy="467.4" r="3.7"/><circle cx="483.2" cy="472" r="3.7"/><circle cx="487.9" cy="465.6" r="3.7"/><circle cx="493.7" cy="462.1" r="3.7"/><circle cx="501.9" cy="461.5" r="3.7"/><circle cx="496.1" cy="449.9" r="3.7"/><circle cx="505.4" cy="449.9" r="3.7"/><circle cx="497.2" cy="469.7" r="3.7"/><circle cx="503.6" cy="467.4" r="3.7"/><circle cx="492" cy="477.3" r="3.7"/><circle cx="499.6" cy="476.7" r="3.7"/><circle cx="508.9" cy="459.2" r="3.7"/><circle cx="514.7" cy="458" r="3.7"/><circle cx="517.1" cy="447.5" r="3.7"/><circle cx="463.4" cy="483.7" r="3.7"/><circle cx="479.7" cy="479" r="3.7"/><circle cx="489" cy="486.1" r="3.7"/><circle cx="444.7" cy="481.4" r="3.7"/><circle cx="441.2" cy="484.9" r="3.7"/><circle cx="512.3" cy="458.3" r="3.7"/><circle cx="526.2" cy="446.6" r="3.7"/><circle cx="521.1" cy="432.8" r="3.7"/><circle cx="529.1" cy="429.9" r="3.7"/><circle cx="531.3" cy="413.8" r="3.7"/><circle cx="535" cy="418.9" r="3.7"/><circle cx="533.5" cy="403.6" r="3.7"/><circle cx="539.3" cy="406.5" r="3.7"/><circle cx="540.8" cy="398.5" r="3.7"/><circle cx="545.2" cy="391.2" r="3.7"/><circle cx="546.6" cy="383.9" r="3.7"/><circle cx="551" cy="397.7" r="3.7"/><circle cx="553.9" cy="384.6" r="3.7"/><circle cx="556.1" cy="390.4" r="3.7"/><circle cx="560.5" cy="397" r="3.7"/><circle cx="562.7" cy="380.2" r="3.7"/><circle cx="566.4" cy="391.9" r="3.7"/><circle cx="559" cy="411.6" r="3.7"/><circle cx="566.4" cy="384.6" r="3.7"/><circle cx="543.4" cy="365.7" r="3.7"/><circle cx="594.3" cy="322.4" r="3.7"/><circle cx="592.1" cy="332.6" r="3.7"/><circle cx="584.1" cy="344.3" r="3.7"/><circle cx="586.3" cy="350.1" r="3.7"/><circle cx="590.7" cy="349.4" r="3.7"/><circle cx="596.5" cy="338.5" r="3.7"/><circle cx="599.4" cy="340.7" r="3.7"/><circle cx="600.1" cy="349.4" r="3.7"/><circle cx="603.8" cy="357.4" r="3.7"/><circle cx="581.9" cy="360.4" r="3.7"/><circle cx="587.7" cy="369.1" r="3.7"/><circle cx="580.4" cy="372.8" r="3.7"/><circle cx="573.9" cy="376.4" r="3.7"/><circle cx="572.4" cy="378.6" r="3.7"/><circle cx="578.2" cy="383" r="3.7"/><circle cx="568.8" cy="384.5" r="3.7"/><circle cx="561.5" cy="385.9" r="3.7"/><circle cx="606.7" cy="374.2" r="3.7"/><circle cx="608.2" cy="390.3" r="3.7"/><circle cx="609.7" cy="406.9" r="3.7"/><circle cx="613.2" cy="435" r="3.7"/><circle cx="615.9" cy="441.2" r="3.7"/><circle cx="618" cy="447.4" r="3.7"/><circle cx="618.7" cy="450.2" r="3.7"/><circle cx="620.7" cy="457.7" r="3.7"/><circle cx="624.2" cy="474.9" r="3.7"/><circle cx="623.5" cy="479.7" r="3.7"/><circle cx="629.7" cy="488.7" r="3.7"/><circle cx="631.7" cy="494.8" r="3.7"/><circle cx="633.8" cy="498.3" r="3.7"/><circle cx="636.5" cy="501" r="3.7"/><circle cx="640" cy="503.8" r="3.7"/><circle cx="644.1" cy="505.8" r="3.7"/><circle cx="648.2" cy="507.2" r="3.7"/><circle cx="644.1" cy="512.7" r="3.7"/><circle cx="648.9" cy="514.1" r="3.7"/><circle cx="657.2" cy="489.3" r="3.7"/><circle cx="655.1" cy="503.1" r="3.7"/><circle cx="659.2" cy="505.2" r="3.7"/><circle cx="663.4" cy="502.4" r="3.7"/><circle cx="660.6" cy="514.8" r="3.7"/><circle cx="667.5" cy="505.8" r="3.7"/><circle cx="670.2" cy="492.8" r="3.7"/><circle cx="670.9" cy="497.6" r="3.7"/><circle cx="668.9" cy="514.1" r="3.7"/><circle cx="665.4" cy="512.7" r="3.7"/><circle cx="673" cy="503.1" r="3.7"/></g>
<path d="M384,495.5C386.7,494.8 394.8,492.5 400,491C405.2,489.5 410.1,488 415,486.5C419.9,485 425.3,484 429.5,482C433.7,480 436.3,476.2 440,474.5C443.7,472.8 447.8,472 451.7,471.5C455.6,471 459.5,471.2 463.4,471.3C467.3,471.4 471.1,472.1 475,472.4C478.9,472.7 483.4,473.4 486.7,473.3C490,473.2 492.7,472.1 495,471.5C497.3,470.9 498.7,470.7 500.5,469.5C502.3,468.3 503.9,466.3 505.8,464.3C507.7,462.3 510.1,459.6 511.9,457.3C513.6,455 514.4,453.8 516.3,450.3C518.2,446.8 521.3,440.3 523.3,436.3C525.2,432.3 526.5,429.4 528,426.5C529.5,423.6 530.5,422.5 532,418.8C533.5,415.1 535.7,408.1 537.2,404.5C538.7,400.9 539.5,399.6 541,397.5C542.5,395.4 543.9,393.5 545.9,391.9C547.9,390.3 550.3,388.8 553,388C555.7,387.2 559.2,387.9 562,387.2C564.8,386.4 567.9,384.9 570,383.5C572.1,382.1 573.2,380.5 574.6,378.6C576,376.7 577.3,374.2 578.5,372C579.7,369.8 580.7,368.3 581.9,365.5C583.1,362.7 584.3,358.6 585.5,355C586.7,351.4 588.1,346.4 589.2,343.6C590.3,340.8 591.1,339.3 592,338C592.9,336.7 593.8,336.2 594.6,336C595.4,335.8 596.3,336 597,336.6C597.7,337.2 598.1,337.1 599,339.5C599.9,341.9 601.2,347 602.3,350.9C603.3,354.8 604.3,357.7 605.3,362.6C606.3,367.5 607.2,373.8 608.2,380.1C609.2,386.4 610.2,394.1 611.1,400.5C612,406.9 612.5,411.6 613.4,418.2C614.3,424.8 615.4,432.5 616.7,440.1C618,447.7 619.9,457.5 621.3,463.8C622.7,470.1 623.8,473.6 625,478C626.2,482.4 627,486.7 628.3,490C629.6,493.3 631.2,495.6 633,498C634.8,500.4 636.8,502.5 638.8,504.1C640.8,505.7 643,506.6 645,507.5C647,508.4 648.6,508.9 651.1,509.3C653.6,509.7 655.9,509.9 660,510C664.1,510.1 673.3,510.2 676,510.2" fill="none" stroke="#138A5E" stroke-width="2.0" stroke-linejoin="round"/>
</g>
<g clip-path="url(#cd)"><path d="M541.8,502.4 L542.5,502.4 L543.3,502.5 L544.1,502.6 L544.9,502.7 L545.7,502.7 L546.5,502.8 L547.3,502.9 L548.1,502.9 L548.9,503 L549.7,503.1 L550.5,503.1 L551.3,503.2 L552.1,503.2 L552.9,503.3 L553.7,503.3 L554.5,503.3 L555.3,503.3 L556.1,503.3 L556.9,503.3 L557.7,503.2 L558.5,503.2 L559.3,503.1 L560.1,502.9 L560.9,502.8 L561.7,502.6 L562.5,502.4 L563.3,502.1 L564.1,501.8 L564.9,501.3 L565.7,500.8 L566.5,500.2 L567.3,499.5 L568.1,498.6 L568.9,497.7 L569.7,496.6 L570.5,495.3 L571.3,493.9 L572.1,492.3 L572.9,490.5 L573.7,488.6 L574.5,486.4 L575.3,484 L576.1,481.4 L576.9,478.6 L577.7,475.6 L578.5,472.4 L579.3,469 L580.1,465.4 L580.9,461.7 L581.7,457.7 L582.5,453.6 L583.3,449.5 L584.1,445.2 L584.9,440.8 L585.7,436.5 L586.5,432.1 L587.3,427.8 L588.1,423.6 L588.9,419.5 L589.7,415.6 L590.5,411.9 L591.3,408.5 L592.1,405.4 L592.9,402.5 L593.7,400.1 L594.5,398 L595.3,396.4 L596.1,395.2 L596.9,394.4 L597.7,394.1 L598.5,394.3 L599.3,394.9 L600.1,396 L600.9,397.6 L601.7,399.6 L602.5,402 L603.3,404.8 L604.1,407.9 L604.9,411.4 L605.7,415.1 L606.5,419.1 L607.3,423.2 L608.1,427.6 L608.9,432 L609.7,436.6 L610.5,441.1 L611.3,445.7 L612.1,450.2 L612.9,454.6 L613.7,458.9 L614.5,463.1 L615.3,467.1 L616.1,470.9 L616.9,474.6 L617.7,478.1 L618.5,481.3 L619.3,484.4 L620.1,487.2 L620.9,489.9 L621.7,492.3 L622.5,494.5 L623.3,496.6 L624.1,498.4 L624.9,500.1 L625.7,501.6 L626.5,502.9 L627.3,504.1 L628.1,505.2 L628.9,506.1 L629.7,506.9 L630.5,507.6 L631.3,508.2 L632.1,508.7 L632.9,509.2 L633.7,509.6 L634.5,509.9 L635.3,510.2 L636.1,510.4 L636.9,510.6 L637.7,510.8 L638.5,510.9 L639.3,511 L640.1,511.1 L640.9,511.2 L641.7,511.2 L642.5,511.3 L643.3,511.3 L644.1,511.4 L644.9,511.4 L645.7,511.4 L646.5,511.4 L647.3,511.5 L648.1,511.5 L648.9,511.5 L649.7,511.5 L650.5,511.5 L651.3,511.5 L652.1,511.5 L652.9,511.5 L653.7,511.5 L653.7,511.5 L652.9,511.5 L652.1,511.5 L651.3,511.5 L650.5,511.5 L649.7,511.5 L648.9,511.5 L648.1,511.5 L647.3,511.5 L646.5,511.5 L645.7,511.5 L644.9,511.5 L644.1,511.5 L643.3,511.5 L642.5,511.5 L641.7,511.5 L640.9,511.5 L640.1,511.5 L639.3,511.5 L638.5,511.5 L637.7,511.5 L636.9,511.5 L636.1,511.5 L635.3,511.5 L634.5,511.5 L633.7,511.5 L632.9,511.5 L632.1,511.5 L631.3,511.5 L630.5,511.5 L629.7,511.5 L628.9,511.5 L628.1,511.5 L627.3,511.4 L626.5,511.4 L625.7,511.4 L624.9,511.4 L624.1,511.4 L623.3,511.3 L622.5,511.3 L621.7,511.3 L620.9,511.3 L620.1,511.3 L619.3,511.3 L618.5,511.2 L617.7,511.2 L616.9,511.2 L616.1,511.2 L615.3,511.2 L614.5,511.1 L613.7,511.1 L612.9,511.1 L612.1,511.1 L611.3,511 L610.5,510.9 L609.7,510.8 L608.9,510.7 L608.1,510.6 L607.3,510.6 L606.5,510.5 L605.7,510.4 L604.9,510.3 L604.1,510.2 L603.3,510.2 L602.5,510.1 L601.7,510 L600.9,509.9 L600.1,509.8 L599.3,509.7 L598.5,509.7 L597.7,509.6 L596.9,509.5 L596.1,509.4 L595.3,509.3 L594.5,509.2 L593.7,509.1 L592.9,509 L592.1,508.9 L591.3,508.8 L590.5,508.6 L589.7,508.5 L588.9,508.4 L588.1,508.3 L587.3,508.2 L586.5,508 L585.7,507.9 L584.9,507.8 L584.1,507.7 L583.3,507.6 L582.5,507.5 L581.7,507.3 L580.9,507.2 L580.1,507.1 L579.3,507 L578.5,506.9 L577.7,506.7 L576.9,506.6 L576.1,506.5 L575.3,506.4 L574.5,506.3 L573.7,506.1 L572.9,506 L572.1,505.9 L571.3,505.8 L570.5,505.7 L569.7,505.5 L568.9,505.4 L568.1,505.3 L567.3,505.2 L566.5,505.1 L565.7,505 L564.9,504.8 L564.1,504.7 L563.3,504.6 L562.5,504.5 L561.7,504.4 L560.9,504.2 L560.1,504.1 L559.3,504 L558.5,504 L557.7,503.9 L556.9,503.8 L556.1,503.7 L555.3,503.7 L554.5,503.6 L553.7,503.5 L552.9,503.4 L552.1,503.4 L551.3,503.3 L550.5,503.2 L549.7,503.1 L548.9,503.1 L548.1,503 L547.3,502.9 L546.5,502.8 L545.7,502.7 L544.9,502.7 L544.1,502.6 L543.3,502.5 L542.5,502.4 L541.8,502.4 Z" fill="rgba(82,140,119,0.55)" stroke="none"/><path d="M489,500.3 L489.8,500.3 L490.6,500.3 L491.4,500.4 L492.2,500.4 L493,500.4 L493.8,500.4 L494.6,500.5 L495.4,500.5 L496.2,500.5 L497,500.5 L497.8,500.6 L498.6,500.6 L499.4,500.6 L500.2,500.6 L501,500.7 L501.8,500.7 L502.6,500.7 L503.4,500.7 L504.2,500.7 L505,500.8 L505.8,500.8 L506.6,500.8 L507.4,500.8 L508.2,500.8 L509,500.8 L509.8,500.9 L510.6,500.9 L511.4,500.9 L512.2,500.9 L513,500.9 L513.8,500.9 L514.6,500.9 L515.4,500.9 L516.2,500.9 L517,500.9 L517.8,500.8 L518.6,500.8 L519.4,500.8 L520.2,500.8 L521,500.7 L521.8,500.7 L522.6,500.7 L523.4,500.6 L524.2,500.5 L525,500.5 L525.8,500.4 L526.6,500.3 L527.4,500.2 L528.2,500.1 L529,499.9 L529.8,499.8 L530.6,499.6 L531.4,499.5 L532.2,499.3 L533,499.1 L533.8,498.8 L534.6,498.6 L535.4,498.3 L536.2,498 L537,497.7 L537.8,497.3 L538.6,497 L539.4,496.6 L540.2,496.1 L541,495.7 L541.8,495.3 L542.6,494.8 L543.4,494.3 L544.2,493.7 L545,493.2 L545.8,492.6 L546.6,491.9 L547.4,491.3 L548.2,490.6 L549,489.8 L549.8,489.1 L550.6,488.3 L551.4,487.4 L552.2,486.6 L553,485.7 L553.8,484.8 L554.6,483.8 L555.4,482.8 L556.2,481.8 L557,480.8 L557.8,479.8 L558.6,478.7 L559.4,477.6 L560.2,476.6 L561,475.5 L561.8,474.5 L562.6,473.4 L563.4,472.3 L564.2,471.3 L565,470.2 L565.8,469.2 L566.6,468.2 L567.4,467.2 L568.2,466.2 L569,465.3 L569.8,464.3 L570.6,463.4 L571.4,462.6 L572.2,461.8 L573,461 L573.8,460.3 L574.6,459.6 L575.4,459 L576.2,458.5 L577,458 L577.8,457.6 L578.6,457.2 L579.4,456.9 L580.2,456.7 L581,456.6 L581.8,456.5 L582.6,456.5 L583.4,456.6 L584.2,456.7 L585,456.9 L585.8,457.2 L586.6,457.6 L587.4,458 L588.2,458.6 L589,459.1 L589.8,459.8 L590.6,460.5 L591.4,461.2 L592.2,462.1 L593,463 L593.8,463.9 L594.6,464.9 L595.4,465.9 L596.2,466.9 L597,468 L597.8,469.1 L598.6,470.3 L599.4,471.5 L600.2,472.7 L601,473.9 L601.8,475.1 L602.6,476.4 L603.4,477.6 L604.2,478.9 L605,480.1 L605.8,481.4 L606.6,482.6 L607.4,483.9 L608.2,485.1 L609,486.3 L609.8,487.5 L610.6,488.7 L611.4,489.9 L612.2,491 L613,492.1 L613.8,493.1 L614.6,494.1 L615.4,495.1 L616.2,496 L617,496.9 L617.8,497.8 L618.6,498.6 L619.4,499.4 L620.2,500.2 L621,500.9 L621.8,501.6 L622.6,502.3 L623.4,503 L624.2,503.6 L625,504.1 L625.8,504.7 L626.6,505.2 L627.4,505.7 L628.2,506.2 L629,506.6 L629.8,507 L630.6,507.4 L631.4,507.7 L632.2,508 L633,508.3 L633.8,508.6 L634.6,508.9 L635.4,509.1 L636.2,509.3 L637,509.5 L637.8,509.7 L638.6,509.9 L639.4,510 L640.2,510.2 L641,510.3 L641.8,510.4 L642.6,510.5 L643.4,510.6 L644.2,510.7 L645,510.8 L645.8,510.9 L646.6,510.9 L647.4,511 L648.2,511.1 L649,511.1 L649.8,511.2 L650.6,511.2 L651.4,511.2 L652.2,511.3 L653,511.3 L653.8,511.3 L654.6,511.3 L655.4,511.4 L656.2,511.4 L657,511.4 L657.8,511.4 L658.6,511.4 L659.4,511.4 L660.2,511.4 L661,511.4 L661.8,511.5 L662.6,511.5 L663.4,511.5 L664.2,511.5 L665,511.5 L665.8,511.5 L666.6,511.5 L667.4,511.5 L668.2,511.5 L669,511.5 L669.8,511.5 L670.6,511.5 L671.4,511.5 L672.2,511.5 L673,511.5 L673.8,511.5 L674.6,511.5 L674.6,511.5 L673.8,511.5 L673,511.5 L672.2,511.5 L671.4,511.5 L670.6,511.5 L669.8,511.5 L669,511.5 L668.2,511.5 L667.4,511.5 L666.6,511.5 L665.8,511.5 L665,511.5 L664.2,511.5 L663.4,511.5 L662.6,511.5 L661.8,511.5 L661,511.5 L660.2,511.5 L659.4,511.5 L658.6,511.5 L657.8,511.5 L657,511.5 L656.2,511.5 L655.4,511.5 L654.6,511.5 L653.8,511.5 L653,511.5 L652.2,511.5 L651.4,511.5 L650.6,511.5 L649.8,511.5 L649,511.5 L648.2,511.5 L647.4,511.5 L646.6,511.5 L645.8,511.5 L645,511.5 L644.2,511.5 L643.4,511.5 L642.6,511.5 L641.8,511.5 L641,511.5 L640.2,511.5 L639.4,511.5 L638.6,511.5 L637.8,511.5 L637,511.5 L636.2,511.5 L635.4,511.5 L634.6,511.5 L633.8,511.5 L633,511.5 L632.2,511.5 L631.4,511.5 L630.6,511.5 L629.8,511.5 L629,511.5 L628.2,511.5 L627.4,511.4 L626.6,511.4 L625.8,511.4 L625,511.4 L624.2,511.4 L623.4,511.3 L622.6,511.3 L621.8,511.3 L621,511.3 L620.2,511.3 L619.4,511.3 L618.6,511.2 L617.8,511.2 L617,511.2 L616.2,511.2 L615.4,511.2 L614.6,511.1 L613.8,511.1 L613,511.1 L612.2,511.1 L611.4,511 L610.6,510.9 L609.8,510.8 L609,510.7 L608.2,510.6 L607.4,510.6 L606.6,510.5 L605.8,510.4 L605,510.3 L604.2,510.2 L603.4,510.2 L602.6,510.1 L601.8,510 L601,509.9 L600.2,509.8 L599.4,509.7 L598.6,509.7 L597.8,509.6 L597,509.5 L596.2,509.4 L595.4,509.3 L594.6,509.2 L593.8,509.1 L593,509 L592.2,508.9 L591.4,508.8 L590.6,508.6 L589.8,508.5 L589,508.4 L588.2,508.3 L587.4,508.2 L586.6,508.1 L585.8,507.9 L585,507.8 L584.2,507.7 L583.4,507.6 L582.6,507.5 L581.8,507.3 L581,507.2 L580.2,507.1 L579.4,507 L578.6,506.9 L577.8,506.7 L577,506.6 L576.2,506.5 L575.4,506.4 L574.6,506.3 L573.8,506.2 L573,506 L572.2,505.9 L571.4,505.8 L570.6,505.7 L569.8,505.6 L569,505.4 L568.2,505.3 L567.4,505.2 L566.6,505.1 L565.8,505 L565,504.8 L564.2,504.7 L563.4,504.6 L562.6,504.5 L561.8,504.4 L561,504.2 L560.2,504.1 L559.4,504 L558.6,504 L557.8,503.9 L557,503.8 L556.2,503.7 L555.4,503.7 L554.6,503.6 L553.8,503.5 L553,503.4 L552.2,503.4 L551.4,503.3 L550.6,503.2 L549.8,503.1 L549,503.1 L548.2,503 L547.4,502.9 L546.6,502.8 L545.8,502.8 L545,502.7 L544.2,502.6 L543.4,502.5 L542.6,502.4 L541.8,502.4 L541,502.3 L540.2,502.2 L539.4,502.2 L538.6,502.1 L537.8,502.1 L537,502.1 L536.2,502 L535.4,502 L534.6,502 L533.8,501.9 L533,501.9 L532.2,501.8 L531.4,501.8 L530.6,501.8 L529.8,501.7 L529,501.7 L528.2,501.7 L527.4,501.6 L526.6,501.6 L525.8,501.6 L525,501.5 L524.2,501.5 L523.4,501.5 L522.6,501.4 L521.8,501.4 L521,501.3 L520.2,501.3 L519.4,501.3 L518.6,501.3 L517.8,501.2 L517,501.2 L516.2,501.2 L515.4,501.2 L514.6,501.1 L513.8,501.1 L513,501.1 L512.2,501 L511.4,501 L510.6,501 L509.8,501 L509,500.9 L508.2,500.9 L507.4,500.9 L506.6,500.9 L505.8,500.8 L505,500.8 L504.2,500.8 L503.4,500.8 L502.6,500.7 L501.8,500.7 L501,500.7 L500.2,500.7 L499.4,500.6 L498.6,500.6 L497.8,500.6 L497,500.6 L496.2,500.5 L495.4,500.5 L494.6,500.5 L493.8,500.4 L493,500.4 L492.2,500.4 L491.4,500.4 L490.6,500.3 L489.8,500.3 L489,500.3 Z" fill="rgba(84,199,100,0.55)" stroke="none"/><path d="M458,499.3 L458.8,499.4 L459.6,499.4 L460.4,499.4 L461.2,499.4 L462,499.5 L462.8,499.5 L463.6,499.5 L464.4,499.5 L465.2,499.6 L466,499.6 L466.8,499.6 L467.6,499.6 L468.4,499.6 L469.2,499.7 L470,499.7 L470.8,499.7 L471.6,499.7 L472.4,499.8 L473.2,499.8 L474,499.8 L474.8,499.8 L475.6,499.9 L476.4,499.9 L477.2,499.9 L478,499.9 L478.8,499.9 L479.6,500 L480.4,500 L481.2,500 L482,500 L482.8,500.1 L483.6,500.1 L484.4,500.1 L485.2,500.1 L486,500.1 L486.8,500.2 L487.6,500.2 L488.4,500.2 L489.2,500.2 L490,500.2 L490.8,500.2 L491.6,500.2 L492.4,500.3 L493.2,500.3 L494,500.3 L494.8,500.3 L495.6,500.3 L496.4,500.3 L497.2,500.3 L498,500.3 L498.8,500.3 L499.6,500.3 L500.4,500.3 L501.2,500.2 L502,500.2 L502.8,500.2 L503.6,500.2 L504.4,500.2 L505.2,500.1 L506,500.1 L506.8,500.1 L507.6,500 L508.4,500 L509.2,499.9 L510,499.9 L510.8,499.8 L511.6,499.7 L512.4,499.6 L513.2,499.6 L514,499.5 L514.8,499.4 L515.6,499.3 L516.4,499.2 L517.2,499.1 L518,498.9 L518.8,498.8 L519.6,498.7 L520.4,498.6 L521.2,498.4 L522,498.3 L522.8,498.1 L523.6,498 L524.4,497.8 L525.2,497.7 L526,497.5 L526.8,497.3 L527.6,497.1 L528.4,497 L529.2,496.8 L530,496.6 L530.8,496.4 L531.6,496.2 L532.4,496 L533.2,495.8 L534,495.6 L534.8,495.4 L535.6,495.1 L536.4,494.9 L537.2,494.7 L538,494.5 L538.8,494.3 L539.6,494.1 L540.4,494 L541.2,493.8 L542,493.7 L542.8,493.5 L543.6,493.4 L544.4,493.3 L545.2,493.2 L546,493.1 L546.8,493 L547.6,492.9 L548.4,492.8 L549.2,492.7 L550,492.7 L550.8,492.7 L551.6,492.6 L552.4,492.6 L553.2,492.6 L554,492.6 L554.8,492.7 L555.6,492.7 L556.4,492.8 L557.2,492.8 L558,492.9 L558.8,493 L559.6,493.1 L560.4,493.3 L561.2,493.5 L562,493.7 L562.8,493.9 L563.6,494.1 L564.4,494.4 L565.2,494.6 L566,494.9 L566.8,495.1 L567.6,495.4 L568.4,495.7 L569.2,496 L570,496.3 L570.8,496.7 L571.6,497 L572.4,497.3 L573.2,497.7 L574,498 L574.8,498.4 L575.6,498.7 L576.4,499.1 L577.2,499.4 L578,499.8 L578.8,500.2 L579.6,500.5 L580.4,500.9 L581.2,501.2 L582,501.6 L582.8,502 L583.6,502.3 L584.4,502.7 L585.2,503 L586,503.3 L586.8,503.7 L587.6,504 L588.4,504.3 L589.2,504.7 L590,505 L590.8,505.3 L591.6,505.6 L592.4,505.9 L593.2,506.2 L594,506.5 L594.8,506.8 L595.6,507 L596.4,507.2 L597.2,507.5 L598,507.7 L598.8,507.9 L599.6,508.1 L600.4,508.3 L601.2,508.5 L602,508.7 L602.8,508.8 L603.6,509 L604.4,509.2 L605.2,509.3 L606,509.5 L606.8,509.7 L607.6,509.8 L608.4,510 L609.2,510.1 L610,510.2 L610.8,510.4 L611.6,510.5 L612.4,510.6 L613.2,510.7 L614,510.7 L614.8,510.8 L615.6,510.9 L616.4,510.9 L617.2,510.9 L618,511 L618.8,511 L619.6,511.1 L620.4,511.1 L621.2,511.1 L622,511.2 L622.8,511.2 L623.6,511.2 L624.4,511.3 L625.2,511.3 L626,511.3 L626.8,511.4 L627.6,511.4 L628.4,511.4 L629.2,511.4 L630,511.5 L630.8,511.5 L631.6,511.5 L632.4,511.5 L633.2,511.5 L634,511.5 L634.8,511.5 L635.6,511.5 L636.4,511.5 L637.2,511.5 L638,511.5 L638.8,511.5 L639.6,511.5 L640.4,511.5 L641.2,511.5 L642,511.5 L642.8,511.5 L643.6,511.5 L644.4,511.5 L645.2,511.5 L646,511.5 L646.8,511.5 L647.6,511.5 L648.4,511.5 L649.2,511.5 L650,511.5 L650.8,511.5 L651.6,511.5 L652.4,511.5 L653.2,511.5 L654,511.5 L654.8,511.5 L655.6,511.5 L655.6,511.5 L654.8,511.5 L654,511.5 L653.2,511.5 L652.4,511.5 L651.6,511.5 L650.8,511.5 L650,511.5 L649.2,511.5 L648.4,511.5 L647.6,511.5 L646.8,511.5 L646,511.5 L645.2,511.5 L644.4,511.5 L643.6,511.5 L642.8,511.5 L642,511.5 L641.2,511.5 L640.4,511.5 L639.6,511.5 L638.8,511.5 L638,511.5 L637.2,511.5 L636.4,511.5 L635.6,511.5 L634.8,511.5 L634,511.5 L633.2,511.5 L632.4,511.5 L631.6,511.5 L630.8,511.5 L630,511.5 L629.2,511.5 L628.4,511.5 L627.6,511.4 L626.8,511.4 L626,511.4 L625.2,511.4 L624.4,511.4 L623.6,511.4 L622.8,511.3 L622,511.3 L621.2,511.3 L620.4,511.3 L619.6,511.3 L618.8,511.2 L618,511.2 L617.2,511.2 L616.4,511.2 L615.6,511.2 L614.8,511.2 L614,511.1 L613.2,511.1 L612.4,511.1 L611.6,511 L610.8,510.9 L610,510.8 L609.2,510.8 L608.4,510.7 L607.6,510.6 L606.8,510.5 L606,510.4 L605.2,510.3 L604.4,510.3 L603.6,510.2 L602.8,510.1 L602,510 L601.2,509.9 L600.4,509.9 L599.6,509.8 L598.8,509.7 L598,509.6 L597.2,509.5 L596.4,509.4 L595.6,509.4 L594.8,509.3 L594,509.2 L593.2,509 L592.4,508.9 L591.6,508.8 L590.8,508.7 L590,508.6 L589.2,508.4 L588.4,508.3 L587.6,508.2 L586.8,508.1 L586,508 L585.2,507.8 L584.4,507.7 L583.6,507.6 L582.8,507.5 L582,507.4 L581.2,507.2 L580.4,507.1 L579.6,507 L578.8,506.9 L578,506.8 L577.2,506.7 L576.4,506.5 L575.6,506.4 L574.8,506.3 L574,506.2 L573.2,506.1 L572.4,505.9 L571.6,505.8 L570.8,505.7 L570,505.6 L569.2,505.5 L568.4,505.3 L567.6,505.2 L566.8,505.1 L566,505 L565.2,504.9 L564.4,504.8 L563.6,504.6 L562.8,504.5 L562,504.4 L561.2,504.3 L560.4,504.2 L559.6,504.1 L558.8,504 L558,503.9 L557.2,503.8 L556.4,503.8 L555.6,503.7 L554.8,503.6 L554,503.5 L553.2,503.5 L552.4,503.4 L551.6,503.3 L550.8,503.2 L550,503.1 L549.2,503.1 L548.4,503 L547.6,502.9 L546.8,502.8 L546,502.8 L545.2,502.7 L544.4,502.6 L543.6,502.5 L542.8,502.5 L542,502.4 L541.2,502.3 L540.4,502.2 L539.6,502.2 L538.8,502.1 L538,502.1 L537.2,502.1 L536.4,502 L535.6,502 L534.8,502 L534,501.9 L533.2,501.9 L532.4,501.9 L531.6,501.8 L530.8,501.8 L530,501.8 L529.2,501.7 L528.4,501.7 L527.6,501.6 L526.8,501.6 L526,501.6 L525.2,501.5 L524.4,501.5 L523.6,501.5 L522.8,501.4 L522,501.4 L521.2,501.4 L520.4,501.3 L519.6,501.3 L518.8,501.3 L518,501.2 L517.2,501.2 L516.4,501.2 L515.6,501.2 L514.8,501.1 L514,501.1 L513.2,501.1 L512.4,501.1 L511.6,501 L510.8,501 L510,501 L509.2,500.9 L508.4,500.9 L507.6,500.9 L506.8,500.9 L506,500.8 L505.2,500.8 L504.4,500.8 L503.6,500.8 L502.8,500.7 L502,500.7 L501.2,500.7 L500.4,500.7 L499.6,500.6 L498.8,500.6 L498,500.6 L497.2,500.6 L496.4,500.5 L495.6,500.5 L494.8,500.5 L494,500.5 L493.2,500.4 L492.4,500.4 L491.6,500.4 L490.8,500.4 L490,500.3 L489.2,500.3 L488.4,500.3 L487.6,500.2 L486.8,500.2 L486,500.2 L485.2,500.2 L484.4,500.1 L483.6,500.1 L482.8,500.1 L482,500.1 L481.2,500 L480.4,500 L479.6,500 L478.8,500 L478,499.9 L477.2,499.9 L476.4,499.9 L475.6,499.9 L474.8,499.8 L474,499.8 L473.2,499.8 L472.4,499.8 L471.6,499.7 L470.8,499.7 L470,499.7 L469.2,499.7 L468.4,499.7 L467.6,499.6 L466.8,499.6 L466,499.6 L465.2,499.6 L464.4,499.5 L463.6,499.5 L462.8,499.5 L462,499.5 L461.2,499.4 L460.4,499.4 L459.6,499.4 L458.8,499.4 L458,499.3 Z" fill="rgba(190,215,140,0.45)" stroke="none"/><path d="M479.5,500 L480.3,500 L481.1,500 L481.9,500.1 L482.7,500.1 L483.5,500.1 L484.3,500.1 L485.1,500.2 L485.9,500.2 L486.7,500.2 L487.5,500.2 L488.3,500.3 L489.1,500.3 L489.9,500.3 L490.7,500.3 L491.5,500.3 L492.3,500.4 L493.1,500.4 L493.9,500.4 L494.7,500.4 L495.5,500.4 L496.3,500.4 L497.1,500.5 L497.9,500.5 L498.7,500.5 L499.5,500.5 L500.3,500.5 L501.1,500.5 L501.9,500.5 L502.7,500.4 L503.5,500.4 L504.3,500.4 L505.1,500.4 L505.9,500.3 L506.7,500.3 L507.5,500.2 L508.3,500.1 L509.1,500 L509.9,499.9 L510.7,499.8 L511.5,499.7 L512.3,499.6 L513.1,499.4 L513.9,499.2 L514.7,499 L515.5,498.8 L516.3,498.5 L517.1,498.2 L517.9,497.9 L518.7,497.6 L519.5,497.2 L520.3,496.8 L521.1,496.4 L521.9,496 L522.7,495.5 L523.5,494.9 L524.3,494.4 L525.1,493.7 L525.9,493.1 L526.7,492.4 L527.5,491.7 L528.3,490.9 L529.1,490.1 L529.9,489.3 L530.7,488.4 L531.5,487.4 L532.3,486.5 L533.1,485.5 L533.9,484.5 L534.7,483.4 L535.5,482.4 L536.3,481.3 L537.1,480.2 L537.9,479.1 L538.7,478 L539.5,476.8 L540.3,475.7 L541.1,474.7 L541.9,473.6 L542.7,472.6 L543.5,471.5 L544.3,470.6 L545.1,469.6 L545.9,468.7 L546.7,467.9 L547.5,467.1 L548.3,466.3 L549.1,465.7 L549.9,465.1 L550.7,464.5 L551.5,464.1 L552.3,463.7 L553.1,463.4 L553.9,463.2 L554.7,463.1 L555.5,463.1 L556.3,463.2 L557.1,463.3 L557.9,463.6 L558.7,463.9 L559.5,464.3 L560.3,464.8 L561.1,465.4 L561.9,466.2 L562.7,466.9 L563.5,467.8 L564.3,468.7 L565.1,469.7 L565.9,470.7 L566.7,471.8 L567.5,472.9 L568.3,474.1 L569.1,475.3 L569.9,476.5 L570.7,477.8 L571.5,479 L572.3,480.3 L573.1,481.6 L573.9,482.8 L574.7,484.1 L575.5,485.4 L576.3,486.6 L577.1,487.8 L577.9,489.1 L578.7,490.2 L579.5,491.4 L580.3,492.5 L581.1,493.6 L581.9,494.6 L582.7,495.6 L583.5,496.6 L584.3,497.6 L585.1,498.4 L585.9,499.3 L586.7,500.1 L587.5,500.9 L588.3,501.6 L589.1,502.3 L589.9,503 L590.7,503.6 L591.5,504.2 L592.3,504.7 L593.1,505.3 L593.9,505.8 L594.7,506.2 L595.5,506.6 L596.3,507 L597.1,507.3 L597.9,507.6 L598.7,507.9 L599.5,508.2 L600.3,508.5 L601.1,508.7 L601.9,508.9 L602.7,509.2 L603.5,509.4 L604.3,509.5 L605.1,509.7 L605.9,509.9 L606.7,510 L607.5,510.2 L608.3,510.3 L609.1,510.4 L609.9,510.6 L610.7,510.7 L611.5,510.8 L612.3,510.9 L613.1,511 L613.9,511 L614.7,511 L615.5,511.1 L616.3,511.1 L617.1,511.1 L617.9,511.2 L618.7,511.2 L619.5,511.2 L620.3,511.2 L621.1,511.3 L621.9,511.3 L622.7,511.3 L623.5,511.3 L624.3,511.4 L625.1,511.4 L625.9,511.4 L626.7,511.4 L627.5,511.4 L628.3,511.5 L629.1,511.5 L629.9,511.5 L630.7,511.5 L631.5,511.5 L632.3,511.5 L632.3,511.5 L631.5,511.5 L630.7,511.5 L629.9,511.5 L629.1,511.5 L628.3,511.5 L627.5,511.4 L626.7,511.4 L625.9,511.4 L625.1,511.4 L624.3,511.4 L623.5,511.4 L622.7,511.3 L621.9,511.3 L621.1,511.3 L620.3,511.3 L619.5,511.3 L618.7,511.2 L617.9,511.2 L617.1,511.2 L616.3,511.2 L615.5,511.2 L614.7,511.1 L613.9,511.1 L613.1,511.1 L612.3,511.1 L611.5,511 L610.7,510.9 L609.9,510.8 L609.1,510.7 L608.3,510.7 L607.5,510.6 L606.7,510.5 L605.9,510.4 L605.1,510.3 L604.3,510.3 L603.5,510.2 L602.7,510.1 L601.9,510 L601.1,509.9 L600.3,509.8 L599.5,509.8 L598.7,509.7 L597.9,509.6 L597.1,509.5 L596.3,509.4 L595.5,509.4 L594.7,509.3 L593.9,509.1 L593.1,509 L592.3,508.9 L591.5,508.8 L590.7,508.7 L589.9,508.5 L589.1,508.4 L588.3,508.3 L587.5,508.2 L586.7,508.1 L585.9,507.9 L585.1,507.8 L584.3,507.7 L583.5,507.6 L582.7,507.5 L581.9,507.4 L581.1,507.2 L580.3,507.1 L579.5,507 L578.7,506.9 L577.9,506.8 L577.1,506.6 L576.3,506.5 L575.5,506.4 L574.7,506.3 L573.9,506.2 L573.1,506 L572.3,505.9 L571.5,505.8 L570.7,505.7 L569.9,505.6 L569.1,505.5 L568.3,505.3 L567.5,505.2 L566.7,505.1 L565.9,505 L565.1,504.9 L564.3,504.7 L563.5,504.6 L562.7,504.5 L561.9,504.4 L561.1,504.3 L560.3,504.1 L559.5,504.1 L558.7,504 L557.9,503.9 L557.1,503.8 L556.3,503.7 L555.5,503.7 L554.7,503.6 L553.9,503.5 L553.1,503.4 L552.3,503.4 L551.5,503.3 L550.7,503.2 L549.9,503.1 L549.1,503.1 L548.3,503 L547.5,502.9 L546.7,502.8 L545.9,502.8 L545.1,502.7 L544.3,502.6 L543.5,502.5 L542.7,502.5 L541.9,502.4 L541.1,502.3 L540.3,502.2 L539.5,502.2 L538.7,502.1 L537.9,502.1 L537.1,502.1 L536.3,502 L535.5,502 L534.7,502 L533.9,501.9 L533.1,501.9 L532.3,501.9 L531.5,501.8 L530.7,501.8 L529.9,501.7 L529.1,501.7 L528.3,501.7 L527.5,501.6 L526.7,501.6 L525.9,501.6 L525.1,501.5 L524.3,501.5 L523.5,501.5 L522.7,501.4 L521.9,501.4 L521.1,501.3 L520.3,501.3 L519.5,501.3 L518.7,501.3 L517.9,501.2 L517.1,501.2 L516.3,501.2 L515.5,501.2 L514.7,501.1 L513.9,501.1 L513.1,501.1 L512.3,501 L511.5,501 L510.7,501 L509.9,501 L509.1,500.9 L508.3,500.9 L507.5,500.9 L506.7,500.9 L505.9,500.8 L505.1,500.8 L504.3,500.8 L503.5,500.8 L502.7,500.7 L501.9,500.7 L501.1,500.7 L500.3,500.7 L499.5,500.6 L498.7,500.6 L497.9,500.6 L497.1,500.6 L496.3,500.5 L495.5,500.5 L494.7,500.5 L493.9,500.5 L493.1,500.4 L492.3,500.4 L491.5,500.4 L490.7,500.3 L489.9,500.3 L489.1,500.3 L488.3,500.3 L487.5,500.2 L486.7,500.2 L485.9,500.2 L485.1,500.2 L484.3,500.1 L483.5,500.1 L482.7,500.1 L481.9,500.1 L481.1,500 L480.3,500 L479.5,500 Z" fill="rgba(100,170,150,0.5)" stroke="none"/><path d="M405.5,497.9 L406.3,497.9 L407.1,497.9 L407.9,497.9 L408.7,497.9 L409.5,498 L410.3,498 L411.1,498 L411.9,498 L412.7,498 L413.5,498.1 L414.3,498.1 L415.1,498.1 L415.9,498.1 L416.7,498.1 L417.5,498.2 L418.3,498.2 L419.1,498.2 L419.9,498.2 L420.7,498.2 L421.5,498.3 L422.3,498.3 L423.1,498.3 L423.9,498.3 L424.7,498.3 L425.5,498.3 L426.3,498.4 L427.1,498.4 L427.9,498.4 L428.7,498.4 L429.5,498.4 L430.3,498.4 L431.1,498.4 L431.9,498.5 L432.7,498.5 L433.5,498.5 L434.3,498.5 L435.1,498.5 L435.9,498.5 L436.7,498.5 L437.5,498.5 L438.3,498.5 L439.1,498.5 L439.9,498.6 L440.7,498.6 L441.5,498.6 L442.3,498.5 L443.1,498.5 L443.9,498.5 L444.7,498.5 L445.5,498.5 L446.3,498.5 L447.1,498.5 L447.9,498.4 L448.7,498.4 L449.5,498.4 L450.3,498.4 L451.1,498.3 L451.9,498.3 L452.7,498.2 L453.5,498.2 L454.3,498.1 L455.1,498 L455.9,498 L456.7,497.9 L457.5,497.8 L458.3,497.7 L459.1,497.6 L459.9,497.5 L460.7,497.4 L461.5,497.2 L462.3,497.1 L463.1,497 L463.9,496.8 L464.7,496.6 L465.5,496.5 L466.3,496.3 L467.1,496.1 L467.9,495.9 L468.7,495.6 L469.5,495.4 L470.3,495.1 L471.1,494.9 L471.9,494.6 L472.7,494.3 L473.5,494 L474.3,493.6 L475.1,493.3 L475.9,492.9 L476.7,492.5 L477.5,492.1 L478.3,491.7 L479.1,491.3 L479.9,490.8 L480.7,490.4 L481.5,489.9 L482.3,489.4 L483.1,488.8 L483.9,488.3 L484.7,487.7 L485.5,487.1 L486.3,486.5 L487.1,485.9 L487.9,485.2 L488.7,484.5 L489.5,483.9 L490.3,483.1 L491.1,482.4 L491.9,481.7 L492.7,480.9 L493.5,480.1 L494.3,479.3 L495.1,478.5 L495.9,477.6 L496.7,476.8 L497.5,475.9 L498.3,475 L499.1,474.1 L499.9,473.2 L500.7,472.3 L501.5,471.4 L502.3,470.4 L503.1,469.5 L503.9,468.5 L504.7,467.6 L505.5,466.6 L506.3,465.6 L507.1,464.7 L507.9,463.7 L508.7,462.7 L509.5,461.8 L510.3,460.8 L511.1,459.9 L511.9,458.9 L512.7,458 L513.5,457.1 L514.3,456.1 L515.1,455.2 L515.9,454.4 L516.7,453.5 L517.5,452.7 L518.3,451.9 L519.1,451.1 L519.9,450.3 L520.7,449.6 L521.5,448.9 L522.3,448.2 L523.1,447.5 L523.9,446.9 L524.7,446.4 L525.5,445.8 L526.3,445.3 L527.1,444.9 L527.9,444.4 L528.7,444 L529.5,443.7 L530.3,443.4 L531.1,443.1 L531.9,442.9 L532.7,442.8 L533.5,442.6 L534.3,442.5 L535.1,442.5 L535.9,442.5 L536.7,442.6 L537.5,442.7 L538.3,442.8 L539.1,443 L539.9,443.2 L540.7,443.5 L541.5,443.9 L542.3,444.3 L543.1,444.8 L543.9,445.2 L544.7,445.8 L545.5,446.3 L546.3,446.9 L547.1,447.6 L547.9,448.3 L548.7,449 L549.5,449.7 L550.3,450.5 L551.1,451.3 L551.9,452.1 L552.7,453 L553.5,453.9 L554.3,454.8 L555.1,455.7 L555.9,456.7 L556.7,457.7 L557.5,458.7 L558.3,459.7 L559.1,460.7 L559.9,461.7 L560.7,462.8 L561.5,463.9 L562.3,465 L563.1,466.1 L563.9,467.2 L564.7,468.3 L565.5,469.5 L566.3,470.6 L567.1,471.7 L567.9,472.8 L568.7,473.9 L569.5,475 L570.3,476.1 L571.1,477.1 L571.9,478.2 L572.7,479.3 L573.5,480.3 L574.3,481.3 L575.1,482.4 L575.9,483.4 L576.7,484.4 L577.5,485.3 L578.3,486.3 L579.1,487.2 L579.9,488.1 L580.7,489 L581.5,489.9 L582.3,490.8 L583.1,491.6 L583.9,492.4 L584.7,493.2 L585.5,494 L586.3,494.8 L587.1,495.5 L587.9,496.2 L588.7,497 L589.5,497.6 L590.3,498.3 L591.1,498.9 L591.9,499.6 L592.7,500.2 L593.5,500.7 L594.3,501.3 L595.1,501.9 L595.9,502.3 L596.7,502.8 L597.5,503.3 L598.3,503.7 L599.1,504.1 L599.9,504.6 L600.7,504.9 L601.5,505.3 L602.3,505.7 L603.1,506 L603.9,506.4 L604.7,506.7 L605.5,507 L606.3,507.3 L607.1,507.6 L607.9,507.9 L608.7,508.1 L609.5,508.4 L610.3,508.6 L611.1,508.9 L611.9,509.1 L612.7,509.3 L613.5,509.4 L614.3,509.6 L615.1,509.7 L615.9,509.8 L616.7,510 L617.5,510.1 L618.3,510.2 L619.1,510.3 L619.9,510.4 L620.7,510.5 L621.5,510.5 L622.3,510.6 L623.1,510.7 L623.9,510.8 L624.7,510.8 L625.5,510.9 L626.3,510.9 L627.1,511 L627.9,511.1 L628.7,511.1 L629.5,511.2 L630.3,511.2 L631.1,511.2 L631.9,511.2 L632.7,511.3 L633.5,511.3 L634.3,511.3 L635.1,511.3 L635.9,511.3 L636.7,511.4 L637.5,511.4 L638.3,511.4 L639.1,511.4 L639.9,511.4 L640.7,511.4 L641.5,511.4 L642.3,511.4 L643.1,511.4 L643.9,511.4 L644.7,511.4 L645.5,511.5 L646.3,511.5 L647.1,511.5 L647.9,511.5 L648.7,511.5 L649.5,511.5 L650.3,511.5 L651.1,511.5 L651.9,511.5 L652.7,511.5 L653.5,511.5 L654.3,511.5 L655.1,511.5 L655.9,511.5 L656.7,511.5 L657.5,511.5 L658.3,511.5 L659.1,511.5 L659.9,511.5 L660.7,511.5 L661.5,511.5 L662.3,511.5 L663.1,511.5 L663.9,511.5 L664.7,511.5 L665.5,511.5 L666.3,511.5 L666.3,511.5 L665.5,511.5 L664.7,511.5 L663.9,511.5 L663.1,511.5 L662.3,511.5 L661.5,511.5 L660.7,511.5 L659.9,511.5 L659.1,511.5 L658.3,511.5 L657.5,511.5 L656.7,511.5 L655.9,511.5 L655.1,511.5 L654.3,511.5 L653.5,511.5 L652.7,511.5 L651.9,511.5 L651.1,511.5 L650.3,511.5 L649.5,511.5 L648.7,511.5 L647.9,511.5 L647.1,511.5 L646.3,511.5 L645.5,511.5 L644.7,511.5 L643.9,511.5 L643.1,511.5 L642.3,511.5 L641.5,511.5 L640.7,511.5 L639.9,511.5 L639.1,511.5 L638.3,511.5 L637.5,511.5 L636.7,511.5 L635.9,511.5 L635.1,511.5 L634.3,511.5 L633.5,511.5 L632.7,511.5 L631.9,511.5 L631.1,511.5 L630.3,511.5 L629.5,511.5 L628.7,511.5 L627.9,511.5 L627.1,511.4 L626.3,511.4 L625.5,511.4 L624.7,511.4 L623.9,511.4 L623.1,511.3 L622.3,511.3 L621.5,511.3 L620.7,511.3 L619.9,511.3 L619.1,511.2 L618.3,511.2 L617.5,511.2 L616.7,511.2 L615.9,511.2 L615.1,511.2 L614.3,511.1 L613.5,511.1 L612.7,511.1 L611.9,511 L611.1,510.9 L610.3,510.9 L609.5,510.8 L608.7,510.7 L607.9,510.6 L607.1,510.5 L606.3,510.5 L605.5,510.4 L604.7,510.3 L603.9,510.2 L603.1,510.1 L602.3,510 L601.5,510 L600.7,509.9 L599.9,509.8 L599.1,509.7 L598.3,509.6 L597.5,509.6 L596.7,509.5 L595.9,509.4 L595.1,509.3 L594.3,509.2 L593.5,509.1 L592.7,509 L591.9,508.8 L591.1,508.7 L590.3,508.6 L589.5,508.5 L588.7,508.4 L587.9,508.2 L587.1,508.1 L586.3,508 L585.5,507.9 L584.7,507.8 L583.9,507.7 L583.1,507.5 L582.3,507.4 L581.5,507.3 L580.7,507.2 L579.9,507.1 L579.1,506.9 L578.3,506.8 L577.5,506.7 L576.7,506.6 L575.9,506.5 L575.1,506.3 L574.3,506.2 L573.5,506.1 L572.7,506 L571.9,505.9 L571.1,505.7 L570.3,505.6 L569.5,505.5 L568.7,505.4 L567.9,505.3 L567.1,505.2 L566.3,505 L565.5,504.9 L564.7,504.8 L563.9,504.7 L563.1,504.6 L562.3,504.4 L561.5,504.3 L560.7,504.2 L559.9,504.1 L559.1,504 L558.3,503.9 L557.5,503.9 L556.7,503.8 L555.9,503.7 L555.1,503.6 L554.3,503.6 L553.5,503.5 L552.7,503.4 L551.9,503.3 L551.1,503.3 L550.3,503.2 L549.5,503.1 L548.7,503 L547.9,503 L547.1,502.9 L546.3,502.8 L545.5,502.7 L544.7,502.6 L543.9,502.6 L543.1,502.5 L542.3,502.4 L541.5,502.3 L540.7,502.3 L539.9,502.2 L539.1,502.2 L538.3,502.1 L537.5,502.1 L536.7,502.1 L535.9,502 L535.1,502 L534.3,501.9 L533.5,501.9 L532.7,501.9 L531.9,501.8 L531.1,501.8 L530.3,501.8 L529.5,501.7 L528.7,501.7 L527.9,501.7 L527.1,501.6 L526.3,501.6 L525.5,501.5 L524.7,501.5 L523.9,501.5 L523.1,501.4 L522.3,501.4 L521.5,501.4 L520.7,501.3 L519.9,501.3 L519.1,501.3 L518.3,501.2 L517.5,501.2 L516.7,501.2 L515.9,501.2 L515.1,501.1 L514.3,501.1 L513.5,501.1 L512.7,501.1 L511.9,501 L511.1,501 L510.3,501 L509.5,501 L508.7,500.9 L507.9,500.9 L507.1,500.9 L506.3,500.9 L505.5,500.8 L504.7,500.8 L503.9,500.8 L503.1,500.8 L502.3,500.7 L501.5,500.7 L500.7,500.7 L499.9,500.6 L499.1,500.6 L498.3,500.6 L497.5,500.6 L496.7,500.5 L495.9,500.5 L495.1,500.5 L494.3,500.5 L493.5,500.4 L492.7,500.4 L491.9,500.4 L491.1,500.4 L490.3,500.3 L489.5,500.3 L488.7,500.3 L487.9,500.3 L487.1,500.2 L486.3,500.2 L485.5,500.2 L484.7,500.2 L483.9,500.1 L483.1,500.1 L482.3,500.1 L481.5,500 L480.7,500 L479.9,500 L479.1,500 L478.3,499.9 L477.5,499.9 L476.7,499.9 L475.9,499.9 L475.1,499.9 L474.3,499.8 L473.5,499.8 L472.7,499.8 L471.9,499.8 L471.1,499.7 L470.3,499.7 L469.5,499.7 L468.7,499.7 L467.9,499.6 L467.1,499.6 L466.3,499.6 L465.5,499.6 L464.7,499.5 L463.9,499.5 L463.1,499.5 L462.3,499.5 L461.5,499.4 L460.7,499.4 L459.9,499.4 L459.1,499.4 L458.3,499.3 L457.5,499.3 L456.7,499.3 L455.9,499.3 L455.1,499.3 L454.3,499.2 L453.5,499.2 L452.7,499.2 L451.9,499.2 L451.1,499.1 L450.3,499.1 L449.5,499.1 L448.7,499.1 L447.9,499 L447.1,499 L446.3,499 L445.5,499 L444.7,498.9 L443.9,498.9 L443.1,498.9 L442.3,498.9 L441.5,498.8 L440.7,498.8 L439.9,498.8 L439.1,498.8 L438.3,498.7 L437.5,498.7 L436.7,498.7 L435.9,498.7 L435.1,498.7 L434.3,498.6 L433.5,498.6 L432.7,498.6 L431.9,498.6 L431.1,498.5 L430.3,498.5 L429.5,498.5 L428.7,498.5 L427.9,498.4 L427.1,498.4 L426.3,498.4 L425.5,498.4 L424.7,498.4 L423.9,498.3 L423.1,498.3 L422.3,498.3 L421.5,498.3 L420.7,498.3 L419.9,498.2 L419.1,498.2 L418.3,498.2 L417.5,498.2 L416.7,498.2 L415.9,498.1 L415.1,498.1 L414.3,498.1 L413.5,498.1 L412.7,498 L411.9,498 L411.1,498 L410.3,498 L409.5,498 L408.7,497.9 L407.9,497.9 L407.1,497.9 L406.3,497.9 L405.5,497.9 Z" fill="rgba(126,137,115,0.55)" stroke="none"/><path d="M384.2,496.3 L385,496.3 L385.8,496.2 L386.6,496.2 L387.4,496.1 L388.2,496 L389,495.9 L389.8,495.9 L390.6,495.8 L391.4,495.7 L392.2,495.6 L393,495.5 L393.8,495.4 L394.6,495.3 L395.4,495.1 L396.2,495 L397,494.9 L397.8,494.7 L398.6,494.6 L399.4,494.4 L400.2,494.2 L401,494 L401.8,493.9 L402.6,493.7 L403.4,493.5 L404.2,493.2 L405,493 L405.8,492.8 L406.6,492.6 L407.4,492.3 L408.2,492 L409,491.8 L409.8,491.5 L410.6,491.2 L411.4,490.9 L412.2,490.6 L413,490.3 L413.8,490 L414.6,489.6 L415.4,489.3 L416.2,489 L417,488.6 L417.8,488.2 L418.6,487.9 L419.4,487.5 L420.2,487.1 L421,486.7 L421.8,486.3 L422.6,485.9 L423.4,485.5 L424.2,485.1 L425,484.6 L425.8,484.2 L426.6,483.8 L427.4,483.4 L428.2,482.9 L429,482.5 L429.8,482.1 L430.6,481.6 L431.4,481.2 L432.2,480.8 L433,480.3 L433.8,479.9 L434.6,479.5 L435.4,479.1 L436.2,478.6 L437,478.2 L437.8,477.8 L438.6,477.4 L439.4,477.1 L440.2,476.7 L441,476.3 L441.8,476 L442.6,475.6 L443.4,475.3 L444.2,475 L445,474.7 L445.8,474.4 L446.6,474.1 L447.4,473.8 L448.2,473.6 L449,473.3 L449.8,473.1 L450.6,472.9 L451.4,472.8 L452.2,472.6 L453,472.5 L453.8,472.3 L454.6,472.3 L455.4,472.2 L456.2,472.1 L457,472.1 L457.8,472.1 L458.6,472.1 L459.4,472.1 L460.2,472.1 L461,472.2 L461.8,472.3 L462.6,472.4 L463.4,472.5 L464.2,472.7 L465,472.8 L465.8,473 L466.6,473.2 L467.4,473.4 L468.2,473.7 L469,473.9 L469.8,474.2 L470.6,474.5 L471.4,474.8 L472.2,475.2 L473,475.5 L473.8,475.8 L474.6,476.2 L475.4,476.6 L476.2,477 L477,477.4 L477.8,477.8 L478.6,478.2 L479.4,478.7 L480.2,479.1 L481,479.6 L481.8,480 L482.6,480.5 L483.4,480.9 L484.2,481.4 L485,481.9 L485.8,482.4 L486.6,482.9 L487.4,483.3 L488.2,483.8 L489,484.3 L489.8,484.8 L490.6,485.3 L491.4,485.7 L492.2,486.2 L493,486.7 L493.8,487.2 L494.6,487.6 L495.4,488.1 L496.2,488.5 L497,489 L497.8,489.4 L498.6,489.9 L499.4,490.3 L500.2,490.7 L501,491.1 L501.8,491.5 L502.6,491.9 L503.4,492.3 L504.2,492.7 L505,493.1 L505.8,493.4 L506.6,493.8 L507.4,494.1 L508.2,494.4 L509,494.8 L509.8,495.1 L510.6,495.4 L511.4,495.7 L512.2,496 L513,496.3 L513.8,496.5 L514.6,496.8 L515.4,497 L516.2,497.3 L517,497.5 L517.8,497.7 L518.6,498 L519.4,498.2 L520.2,498.4 L521,498.6 L521.8,498.8 L522.6,499 L523.4,499.1 L524.2,499.3 L525,499.5 L525.8,499.6 L526.6,499.8 L527.4,499.9 L528.2,500.1 L529,500.2 L529.8,500.4 L530.6,500.5 L531.4,500.6 L532.2,500.7 L533,500.8 L533.8,500.9 L534.6,501 L535.4,501.1 L536.2,501.2 L537,501.3 L537.8,501.4 L538.6,501.5 L539.4,501.6 L540.2,501.7 L541,501.8 L541.8,501.9 L542.6,502 L543.4,502.1 L544.2,502.2 L545,502.3 L545.8,502.4 L546.6,502.5 L547.4,502.6 L548.2,502.7 L549,502.8 L549.8,502.9 L550.6,503 L551.4,503.1 L552.2,503.2 L553,503.3 L553.8,503.4 L554.6,503.5 L555.4,503.6 L556.2,503.6 L557,503.7 L557.8,503.8 L558.6,503.9 L559.4,504 L560.2,504.1 L561,504.2 L561.8,504.3 L562.6,504.4 L563.4,504.6 L564.2,504.7 L565,504.8 L565.8,504.9 L566.6,505.1 L567.4,505.2 L568.2,505.3 L569,505.4 L569.8,505.5 L570.6,505.7 L571.4,505.8 L572.2,505.9 L573,506 L573.8,506.1 L574.6,506.3 L575.4,506.4 L576.2,506.5 L577,506.6 L577.8,506.7 L578.6,506.9 L579.4,507 L580.2,507.1 L581,507.2 L581.8,507.3 L582.6,507.5 L583.4,507.6 L584.2,507.7 L585,507.8 L585.8,507.9 L586.6,508.1 L587.4,508.2 L588.2,508.3 L589,508.4 L589,508.4 L588.2,508.3 L587.4,508.2 L586.6,508.1 L585.8,507.9 L585,507.8 L584.2,507.7 L583.4,507.6 L582.6,507.5 L581.8,507.3 L581,507.2 L580.2,507.1 L579.4,507 L578.6,506.9 L577.8,506.7 L577,506.6 L576.2,506.5 L575.4,506.4 L574.6,506.3 L573.8,506.2 L573,506 L572.2,505.9 L571.4,505.8 L570.6,505.7 L569.8,505.6 L569,505.4 L568.2,505.3 L567.4,505.2 L566.6,505.1 L565.8,505 L565,504.8 L564.2,504.7 L563.4,504.6 L562.6,504.5 L561.8,504.4 L561,504.2 L560.2,504.1 L559.4,504 L558.6,504 L557.8,503.9 L557,503.8 L556.2,503.7 L555.4,503.7 L554.6,503.6 L553.8,503.5 L553,503.4 L552.2,503.4 L551.4,503.3 L550.6,503.2 L549.8,503.1 L549,503.1 L548.2,503 L547.4,502.9 L546.6,502.8 L545.8,502.8 L545,502.7 L544.2,502.6 L543.4,502.5 L542.6,502.4 L541.8,502.4 L541,502.3 L540.2,502.2 L539.4,502.2 L538.6,502.1 L537.8,502.1 L537,502.1 L536.2,502 L535.4,502 L534.6,502 L533.8,501.9 L533,501.9 L532.2,501.8 L531.4,501.8 L530.6,501.8 L529.8,501.7 L529,501.7 L528.2,501.7 L527.4,501.6 L526.6,501.6 L525.8,501.6 L525,501.5 L524.2,501.5 L523.4,501.5 L522.6,501.4 L521.8,501.4 L521,501.3 L520.2,501.3 L519.4,501.3 L518.6,501.3 L517.8,501.2 L517,501.2 L516.2,501.2 L515.4,501.2 L514.6,501.1 L513.8,501.1 L513,501.1 L512.2,501 L511.4,501 L510.6,501 L509.8,501 L509,500.9 L508.2,500.9 L507.4,500.9 L506.6,500.9 L505.8,500.8 L505,500.8 L504.2,500.8 L503.4,500.8 L502.6,500.7 L501.8,500.7 L501,500.7 L500.2,500.7 L499.4,500.6 L498.6,500.6 L497.8,500.6 L497,500.6 L496.2,500.5 L495.4,500.5 L494.6,500.5 L493.8,500.4 L493,500.4 L492.2,500.4 L491.4,500.4 L490.6,500.3 L489.8,500.3 L489,500.3 L488.2,500.3 L487.4,500.2 L486.6,500.2 L485.8,500.2 L485,500.2 L484.2,500.1 L483.4,500.1 L482.6,500.1 L481.8,500.1 L481,500 L480.2,500 L479.4,500 L478.6,500 L477.8,499.9 L477,499.9 L476.2,499.9 L475.4,499.9 L474.6,499.8 L473.8,499.8 L473,499.8 L472.2,499.8 L471.4,499.7 L470.6,499.7 L469.8,499.7 L469,499.7 L468.2,499.6 L467.4,499.6 L466.6,499.6 L465.8,499.6 L465,499.6 L464.2,499.5 L463.4,499.5 L462.6,499.5 L461.8,499.5 L461,499.4 L460.2,499.4 L459.4,499.4 L458.6,499.4 L457.8,499.3 L457,499.3 L456.2,499.3 L455.4,499.3 L454.6,499.2 L453.8,499.2 L453,499.2 L452.2,499.2 L451.4,499.1 L450.6,499.1 L449.8,499.1 L449,499.1 L448.2,499 L447.4,499 L446.6,499 L445.8,499 L445,499 L444.2,498.9 L443.4,498.9 L442.6,498.9 L441.8,498.9 L441,498.8 L440.2,498.8 L439.4,498.8 L438.6,498.8 L437.8,498.7 L437,498.7 L436.2,498.7 L435.4,498.7 L434.6,498.6 L433.8,498.6 L433,498.6 L432.2,498.6 L431.4,498.5 L430.6,498.5 L429.8,498.5 L429,498.5 L428.2,498.5 L427.4,498.4 L426.6,498.4 L425.8,498.4 L425,498.4 L424.2,498.3 L423.4,498.3 L422.6,498.3 L421.8,498.3 L421,498.3 L420.2,498.2 L419.4,498.2 L418.6,498.2 L417.8,498.2 L417,498.2 L416.2,498.1 L415.4,498.1 L414.6,498.1 L413.8,498.1 L413,498.1 L412.2,498 L411.4,498 L410.6,498 L409.8,498 L409,498 L408.2,497.9 L407.4,497.9 L406.6,497.9 L405.8,497.9 L405,497.8 L404.2,497.8 L403.4,497.8 L402.6,497.8 L401.8,497.8 L401,497.7 L400.2,497.7 L399.4,497.7 L398.6,497.7 L397.8,497.7 L397,497.6 L396.2,497.6 L395.4,497.6 L394.6,497.6 L393.8,497.6 L393,497.5 L392.2,497.5 L391.4,497.5 L390.6,497.5 L389.8,497.5 L389,497.4 L388.2,497.4 L387.4,497.4 L386.6,497.4 L385.8,497.3 L385,497.3 L384.2,497.3 Z" fill="rgba(140,140,122,0.55)" stroke="none"/><path d="M541.8,502.4 L542.5,502.4 L543.3,502.5 L544.1,502.6 L544.9,502.7 L545.7,502.7 L546.5,502.8 L547.3,502.9 L548.1,502.9 L548.9,503 L549.7,503.1 L550.5,503.1 L551.3,503.2 L552.1,503.2 L552.9,503.3 L553.7,503.3 L554.5,503.3 L555.3,503.3 L556.1,503.3 L556.9,503.3 L557.7,503.2 L558.5,503.2 L559.3,503.1 L560.1,502.9 L560.9,502.8 L561.7,502.6 L562.5,502.4 L563.3,502.1 L564.1,501.8 L564.9,501.3 L565.7,500.8 L566.5,500.2 L567.3,499.5 L568.1,498.6 L568.9,497.7 L569.7,496.6 L570.5,495.3 L571.3,493.9 L572.1,492.3 L572.9,490.5 L573.7,488.6 L574.5,486.4 L575.3,484 L576.1,481.4 L576.9,478.6 L577.7,475.6 L578.5,472.4 L579.3,469 L580.1,465.4 L580.9,461.7 L581.7,457.7 L582.5,453.6 L583.3,449.5 L584.1,445.2 L584.9,440.8 L585.7,436.5 L586.5,432.1 L587.3,427.8 L588.1,423.6 L588.9,419.5 L589.7,415.6 L590.5,411.9 L591.3,408.5 L592.1,405.4 L592.9,402.5 L593.7,400.1 L594.5,398 L595.3,396.4 L596.1,395.2 L596.9,394.4 L597.7,394.1 L598.5,394.3 L599.3,394.9 L600.1,396 L600.9,397.6 L601.7,399.6 L602.5,402 L603.3,404.8 L604.1,407.9 L604.9,411.4 L605.7,415.1 L606.5,419.1 L607.3,423.2 L608.1,427.6 L608.9,432 L609.7,436.6 L610.5,441.1 L611.3,445.7 L612.1,450.2 L612.9,454.6 L613.7,458.9 L614.5,463.1 L615.3,467.1 L616.1,470.9 L616.9,474.6 L617.7,478.1 L618.5,481.3 L619.3,484.4 L620.1,487.2 L620.9,489.9 L621.7,492.3 L622.5,494.5 L623.3,496.6 L624.1,498.4 L624.9,500.1 L625.7,501.6 L626.5,502.9 L627.3,504.1 L628.1,505.2 L628.9,506.1 L629.7,506.9 L630.5,507.6 L631.3,508.2 L632.1,508.7 L632.9,509.2 L633.7,509.6 L634.5,509.9 L635.3,510.2 L636.1,510.4 L636.9,510.6 L637.7,510.8 L638.5,510.9 L639.3,511 L640.1,511.1 L640.9,511.2 L641.7,511.2 L642.5,511.3 L643.3,511.3 L644.1,511.4 L644.9,511.4 L645.7,511.4 L646.5,511.4 L647.3,511.5 L648.1,511.5 L648.9,511.5 L649.7,511.5 L650.5,511.5 L651.3,511.5 L652.1,511.5 L652.9,511.5 L653.7,511.5" fill="none" stroke="#50F0C0" stroke-width="1.8" stroke-linejoin="round"/><path d="M489,500.3 L489.8,500.3 L490.6,500.3 L491.4,500.4 L492.2,500.4 L493,500.4 L493.8,500.4 L494.6,500.5 L495.4,500.5 L496.2,500.5 L497,500.5 L497.8,500.6 L498.6,500.6 L499.4,500.6 L500.2,500.6 L501,500.7 L501.8,500.7 L502.6,500.7 L503.4,500.7 L504.2,500.7 L505,500.8 L505.8,500.8 L506.6,500.8 L507.4,500.8 L508.2,500.8 L509,500.8 L509.8,500.9 L510.6,500.9 L511.4,500.9 L512.2,500.9 L513,500.9 L513.8,500.9 L514.6,500.9 L515.4,500.9 L516.2,500.9 L517,500.9 L517.8,500.8 L518.6,500.8 L519.4,500.8 L520.2,500.8 L521,500.7 L521.8,500.7 L522.6,500.7 L523.4,500.6 L524.2,500.5 L525,500.5 L525.8,500.4 L526.6,500.3 L527.4,500.2 L528.2,500.1 L529,499.9 L529.8,499.8 L530.6,499.6 L531.4,499.5 L532.2,499.3 L533,499.1 L533.8,498.8 L534.6,498.6 L535.4,498.3 L536.2,498 L537,497.7 L537.8,497.3 L538.6,497 L539.4,496.6 L540.2,496.1 L541,495.7 L541.8,495.3 L542.6,494.8 L543.4,494.3 L544.2,493.7 L545,493.2 L545.8,492.6 L546.6,491.9 L547.4,491.3 L548.2,490.6 L549,489.8 L549.8,489.1 L550.6,488.3 L551.4,487.4 L552.2,486.6 L553,485.7 L553.8,484.8 L554.6,483.8 L555.4,482.8 L556.2,481.8 L557,480.8 L557.8,479.8 L558.6,478.7 L559.4,477.6 L560.2,476.6 L561,475.5 L561.8,474.5 L562.6,473.4 L563.4,472.3 L564.2,471.3 L565,470.2 L565.8,469.2 L566.6,468.2 L567.4,467.2 L568.2,466.2 L569,465.3 L569.8,464.3 L570.6,463.4 L571.4,462.6 L572.2,461.8 L573,461 L573.8,460.3 L574.6,459.6 L575.4,459 L576.2,458.5 L577,458 L577.8,457.6 L578.6,457.2 L579.4,456.9 L580.2,456.7 L581,456.6 L581.8,456.5 L582.6,456.5 L583.4,456.6 L584.2,456.7 L585,456.9 L585.8,457.2 L586.6,457.6 L587.4,458 L588.2,458.6 L589,459.1 L589.8,459.8 L590.6,460.5 L591.4,461.2 L592.2,462.1 L593,463 L593.8,463.9 L594.6,464.9 L595.4,465.9 L596.2,466.9 L597,468 L597.8,469.1 L598.6,470.3 L599.4,471.5 L600.2,472.7 L601,473.9 L601.8,475.1 L602.6,476.4 L603.4,477.6 L604.2,478.9 L605,480.1 L605.8,481.4 L606.6,482.6 L607.4,483.9 L608.2,485.1 L609,486.3 L609.8,487.5 L610.6,488.7 L611.4,489.9 L612.2,491 L613,492.1 L613.8,493.1 L614.6,494.1 L615.4,495.1 L616.2,496 L617,496.9 L617.8,497.8 L618.6,498.6 L619.4,499.4 L620.2,500.2 L621,500.9 L621.8,501.6 L622.6,502.3 L623.4,503 L624.2,503.6 L625,504.1 L625.8,504.7 L626.6,505.2 L627.4,505.7 L628.2,506.2 L629,506.6 L629.8,507 L630.6,507.4 L631.4,507.7 L632.2,508 L633,508.3 L633.8,508.6 L634.6,508.9 L635.4,509.1 L636.2,509.3 L637,509.5 L637.8,509.7 L638.6,509.9 L639.4,510 L640.2,510.2 L641,510.3 L641.8,510.4 L642.6,510.5 L643.4,510.6 L644.2,510.7 L645,510.8 L645.8,510.9 L646.6,510.9 L647.4,511 L648.2,511.1 L649,511.1 L649.8,511.2 L650.6,511.2 L651.4,511.2 L652.2,511.3 L653,511.3 L653.8,511.3 L654.6,511.3 L655.4,511.4 L656.2,511.4 L657,511.4 L657.8,511.4 L658.6,511.4 L659.4,511.4 L660.2,511.4 L661,511.4 L661.8,511.5 L662.6,511.5 L663.4,511.5 L664.2,511.5 L665,511.5 L665.8,511.5 L666.6,511.5 L667.4,511.5 L668.2,511.5 L669,511.5 L669.8,511.5 L670.6,511.5 L671.4,511.5 L672.2,511.5 L673,511.5 L673.8,511.5 L674.6,511.5" fill="none" stroke="#30F038" stroke-width="1.8" stroke-linejoin="round"/><path d="M458,499.3 L458.8,499.4 L459.6,499.4 L460.4,499.4 L461.2,499.4 L462,499.5 L462.8,499.5 L463.6,499.5 L464.4,499.5 L465.2,499.6 L466,499.6 L466.8,499.6 L467.6,499.6 L468.4,499.6 L469.2,499.7 L470,499.7 L470.8,499.7 L471.6,499.7 L472.4,499.8 L473.2,499.8 L474,499.8 L474.8,499.8 L475.6,499.9 L476.4,499.9 L477.2,499.9 L478,499.9 L478.8,499.9 L479.6,500 L480.4,500 L481.2,500 L482,500 L482.8,500.1 L483.6,500.1 L484.4,500.1 L485.2,500.1 L486,500.1 L486.8,500.2 L487.6,500.2 L488.4,500.2 L489.2,500.2 L490,500.2 L490.8,500.2 L491.6,500.2 L492.4,500.3 L493.2,500.3 L494,500.3 L494.8,500.3 L495.6,500.3 L496.4,500.3 L497.2,500.3 L498,500.3 L498.8,500.3 L499.6,500.3 L500.4,500.3 L501.2,500.2 L502,500.2 L502.8,500.2 L503.6,500.2 L504.4,500.2 L505.2,500.1 L506,500.1 L506.8,500.1 L507.6,500 L508.4,500 L509.2,499.9 L510,499.9 L510.8,499.8 L511.6,499.7 L512.4,499.6 L513.2,499.6 L514,499.5 L514.8,499.4 L515.6,499.3 L516.4,499.2 L517.2,499.1 L518,498.9 L518.8,498.8 L519.6,498.7 L520.4,498.6 L521.2,498.4 L522,498.3 L522.8,498.1 L523.6,498 L524.4,497.8 L525.2,497.7 L526,497.5 L526.8,497.3 L527.6,497.1 L528.4,497 L529.2,496.8 L530,496.6 L530.8,496.4 L531.6,496.2 L532.4,496 L533.2,495.8 L534,495.6 L534.8,495.4 L535.6,495.1 L536.4,494.9 L537.2,494.7 L538,494.5 L538.8,494.3 L539.6,494.1 L540.4,494 L541.2,493.8 L542,493.7 L542.8,493.5 L543.6,493.4 L544.4,493.3 L545.2,493.2 L546,493.1 L546.8,493 L547.6,492.9 L548.4,492.8 L549.2,492.7 L550,492.7 L550.8,492.7 L551.6,492.6 L552.4,492.6 L553.2,492.6 L554,492.6 L554.8,492.7 L555.6,492.7 L556.4,492.8 L557.2,492.8 L558,492.9 L558.8,493 L559.6,493.1 L560.4,493.3 L561.2,493.5 L562,493.7 L562.8,493.9 L563.6,494.1 L564.4,494.4 L565.2,494.6 L566,494.9 L566.8,495.1 L567.6,495.4 L568.4,495.7 L569.2,496 L570,496.3 L570.8,496.7 L571.6,497 L572.4,497.3 L573.2,497.7 L574,498 L574.8,498.4 L575.6,498.7 L576.4,499.1 L577.2,499.4 L578,499.8 L578.8,500.2 L579.6,500.5 L580.4,500.9 L581.2,501.2 L582,501.6 L582.8,502 L583.6,502.3 L584.4,502.7 L585.2,503 L586,503.3 L586.8,503.7 L587.6,504 L588.4,504.3 L589.2,504.7 L590,505 L590.8,505.3 L591.6,505.6 L592.4,505.9 L593.2,506.2 L594,506.5 L594.8,506.8 L595.6,507 L596.4,507.2 L597.2,507.5 L598,507.7 L598.8,507.9 L599.6,508.1 L600.4,508.3 L601.2,508.5 L602,508.7 L602.8,508.8 L603.6,509 L604.4,509.2 L605.2,509.3 L606,509.5 L606.8,509.7 L607.6,509.8 L608.4,510 L609.2,510.1 L610,510.2 L610.8,510.4 L611.6,510.5 L612.4,510.6 L613.2,510.7 L614,510.7 L614.8,510.8 L615.6,510.9 L616.4,510.9 L617.2,510.9 L618,511 L618.8,511 L619.6,511.1 L620.4,511.1 L621.2,511.1 L622,511.2 L622.8,511.2 L623.6,511.2 L624.4,511.3 L625.2,511.3 L626,511.3 L626.8,511.4 L627.6,511.4 L628.4,511.4 L629.2,511.4 L630,511.5 L630.8,511.5 L631.6,511.5 L632.4,511.5 L633.2,511.5 L634,511.5 L634.8,511.5 L635.6,511.5 L636.4,511.5 L637.2,511.5 L638,511.5 L638.8,511.5 L639.6,511.5 L640.4,511.5 L641.2,511.5 L642,511.5 L642.8,511.5 L643.6,511.5 L644.4,511.5 L645.2,511.5 L646,511.5 L646.8,511.5 L647.6,511.5 L648.4,511.5 L649.2,511.5 L650,511.5 L650.8,511.5 L651.6,511.5 L652.4,511.5 L653.2,511.5 L654,511.5 L654.8,511.5 L655.6,511.5" fill="none" stroke="#E6F6A4" stroke-width="1.8" stroke-linejoin="round"/><path d="M479.5,500 L480.3,500 L481.1,500 L481.9,500.1 L482.7,500.1 L483.5,500.1 L484.3,500.1 L485.1,500.2 L485.9,500.2 L486.7,500.2 L487.5,500.2 L488.3,500.3 L489.1,500.3 L489.9,500.3 L490.7,500.3 L491.5,500.3 L492.3,500.4 L493.1,500.4 L493.9,500.4 L494.7,500.4 L495.5,500.4 L496.3,500.4 L497.1,500.5 L497.9,500.5 L498.7,500.5 L499.5,500.5 L500.3,500.5 L501.1,500.5 L501.9,500.5 L502.7,500.4 L503.5,500.4 L504.3,500.4 L505.1,500.4 L505.9,500.3 L506.7,500.3 L507.5,500.2 L508.3,500.1 L509.1,500 L509.9,499.9 L510.7,499.8 L511.5,499.7 L512.3,499.6 L513.1,499.4 L513.9,499.2 L514.7,499 L515.5,498.8 L516.3,498.5 L517.1,498.2 L517.9,497.9 L518.7,497.6 L519.5,497.2 L520.3,496.8 L521.1,496.4 L521.9,496 L522.7,495.5 L523.5,494.9 L524.3,494.4 L525.1,493.7 L525.9,493.1 L526.7,492.4 L527.5,491.7 L528.3,490.9 L529.1,490.1 L529.9,489.3 L530.7,488.4 L531.5,487.4 L532.3,486.5 L533.1,485.5 L533.9,484.5 L534.7,483.4 L535.5,482.4 L536.3,481.3 L537.1,480.2 L537.9,479.1 L538.7,478 L539.5,476.8 L540.3,475.7 L541.1,474.7 L541.9,473.6 L542.7,472.6 L543.5,471.5 L544.3,470.6 L545.1,469.6 L545.9,468.7 L546.7,467.9 L547.5,467.1 L548.3,466.3 L549.1,465.7 L549.9,465.1 L550.7,464.5 L551.5,464.1 L552.3,463.7 L553.1,463.4 L553.9,463.2 L554.7,463.1 L555.5,463.1 L556.3,463.2 L557.1,463.3 L557.9,463.6 L558.7,463.9 L559.5,464.3 L560.3,464.8 L561.1,465.4 L561.9,466.2 L562.7,466.9 L563.5,467.8 L564.3,468.7 L565.1,469.7 L565.9,470.7 L566.7,471.8 L567.5,472.9 L568.3,474.1 L569.1,475.3 L569.9,476.5 L570.7,477.8 L571.5,479 L572.3,480.3 L573.1,481.6 L573.9,482.8 L574.7,484.1 L575.5,485.4 L576.3,486.6 L577.1,487.8 L577.9,489.1 L578.7,490.2 L579.5,491.4 L580.3,492.5 L581.1,493.6 L581.9,494.6 L582.7,495.6 L583.5,496.6 L584.3,497.6 L585.1,498.4 L585.9,499.3 L586.7,500.1 L587.5,500.9 L588.3,501.6 L589.1,502.3 L589.9,503 L590.7,503.6 L591.5,504.2 L592.3,504.7 L593.1,505.3 L593.9,505.8 L594.7,506.2 L595.5,506.6 L596.3,507 L597.1,507.3 L597.9,507.6 L598.7,507.9 L599.5,508.2 L600.3,508.5 L601.1,508.7 L601.9,508.9 L602.7,509.2 L603.5,509.4 L604.3,509.5 L605.1,509.7 L605.9,509.9 L606.7,510 L607.5,510.2 L608.3,510.3 L609.1,510.4 L609.9,510.6 L610.7,510.7 L611.5,510.8 L612.3,510.9 L613.1,511 L613.9,511 L614.7,511 L615.5,511.1 L616.3,511.1 L617.1,511.1 L617.9,511.2 L618.7,511.2 L619.5,511.2 L620.3,511.2 L621.1,511.3 L621.9,511.3 L622.7,511.3 L623.5,511.3 L624.3,511.4 L625.1,511.4 L625.9,511.4 L626.7,511.4 L627.5,511.4 L628.3,511.5 L629.1,511.5 L629.9,511.5 L630.7,511.5 L631.5,511.5 L632.3,511.5" fill="none" stroke="#A8FCE0" stroke-width="1.8" stroke-linejoin="round"/><path d="M405.5,497.9 L406.3,497.9 L407.1,497.9 L407.9,497.9 L408.7,497.9 L409.5,498 L410.3,498 L411.1,498 L411.9,498 L412.7,498 L413.5,498.1 L414.3,498.1 L415.1,498.1 L415.9,498.1 L416.7,498.1 L417.5,498.2 L418.3,498.2 L419.1,498.2 L419.9,498.2 L420.7,498.2 L421.5,498.3 L422.3,498.3 L423.1,498.3 L423.9,498.3 L424.7,498.3 L425.5,498.3 L426.3,498.4 L427.1,498.4 L427.9,498.4 L428.7,498.4 L429.5,498.4 L430.3,498.4 L431.1,498.4 L431.9,498.5 L432.7,498.5 L433.5,498.5 L434.3,498.5 L435.1,498.5 L435.9,498.5 L436.7,498.5 L437.5,498.5 L438.3,498.5 L439.1,498.5 L439.9,498.6 L440.7,498.6 L441.5,498.6 L442.3,498.5 L443.1,498.5 L443.9,498.5 L444.7,498.5 L445.5,498.5 L446.3,498.5 L447.1,498.5 L447.9,498.4 L448.7,498.4 L449.5,498.4 L450.3,498.4 L451.1,498.3 L451.9,498.3 L452.7,498.2 L453.5,498.2 L454.3,498.1 L455.1,498 L455.9,498 L456.7,497.9 L457.5,497.8 L458.3,497.7 L459.1,497.6 L459.9,497.5 L460.7,497.4 L461.5,497.2 L462.3,497.1 L463.1,497 L463.9,496.8 L464.7,496.6 L465.5,496.5 L466.3,496.3 L467.1,496.1 L467.9,495.9 L468.7,495.6 L469.5,495.4 L470.3,495.1 L471.1,494.9 L471.9,494.6 L472.7,494.3 L473.5,494 L474.3,493.6 L475.1,493.3 L475.9,492.9 L476.7,492.5 L477.5,492.1 L478.3,491.7 L479.1,491.3 L479.9,490.8 L480.7,490.4 L481.5,489.9 L482.3,489.4 L483.1,488.8 L483.9,488.3 L484.7,487.7 L485.5,487.1 L486.3,486.5 L487.1,485.9 L487.9,485.2 L488.7,484.5 L489.5,483.9 L490.3,483.1 L491.1,482.4 L491.9,481.7 L492.7,480.9 L493.5,480.1 L494.3,479.3 L495.1,478.5 L495.9,477.6 L496.7,476.8 L497.5,475.9 L498.3,475 L499.1,474.1 L499.9,473.2 L500.7,472.3 L501.5,471.4 L502.3,470.4 L503.1,469.5 L503.9,468.5 L504.7,467.6 L505.5,466.6 L506.3,465.6 L507.1,464.7 L507.9,463.7 L508.7,462.7 L509.5,461.8 L510.3,460.8 L511.1,459.9 L511.9,458.9 L512.7,458 L513.5,457.1 L514.3,456.1 L515.1,455.2 L515.9,454.4 L516.7,453.5 L517.5,452.7 L518.3,451.9 L519.1,451.1 L519.9,450.3 L520.7,449.6 L521.5,448.9 L522.3,448.2 L523.1,447.5 L523.9,446.9 L524.7,446.4 L525.5,445.8 L526.3,445.3 L527.1,444.9 L527.9,444.4 L528.7,444 L529.5,443.7 L530.3,443.4 L531.1,443.1 L531.9,442.9 L532.7,442.8 L533.5,442.6 L534.3,442.5 L535.1,442.5 L535.9,442.5 L536.7,442.6 L537.5,442.7 L538.3,442.8 L539.1,443 L539.9,443.2 L540.7,443.5 L541.5,443.9 L542.3,444.3 L543.1,444.8 L543.9,445.2 L544.7,445.8 L545.5,446.3 L546.3,446.9 L547.1,447.6 L547.9,448.3 L548.7,449 L549.5,449.7 L550.3,450.5 L551.1,451.3 L551.9,452.1 L552.7,453 L553.5,453.9 L554.3,454.8 L555.1,455.7 L555.9,456.7 L556.7,457.7 L557.5,458.7 L558.3,459.7 L559.1,460.7 L559.9,461.7 L560.7,462.8 L561.5,463.9 L562.3,465 L563.1,466.1 L563.9,467.2 L564.7,468.3 L565.5,469.5 L566.3,470.6 L567.1,471.7 L567.9,472.8 L568.7,473.9 L569.5,475 L570.3,476.1 L571.1,477.1 L571.9,478.2 L572.7,479.3 L573.5,480.3 L574.3,481.3 L575.1,482.4 L575.9,483.4 L576.7,484.4 L577.5,485.3 L578.3,486.3 L579.1,487.2 L579.9,488.1 L580.7,489 L581.5,489.9 L582.3,490.8 L583.1,491.6 L583.9,492.4 L584.7,493.2 L585.5,494 L586.3,494.8 L587.1,495.5 L587.9,496.2 L588.7,497 L589.5,497.6 L590.3,498.3 L591.1,498.9 L591.9,499.6 L592.7,500.2 L593.5,500.7 L594.3,501.3 L595.1,501.9 L595.9,502.3 L596.7,502.8 L597.5,503.3 L598.3,503.7 L599.1,504.1 L599.9,504.6 L600.7,504.9 L601.5,505.3 L602.3,505.7 L603.1,506 L603.9,506.4 L604.7,506.7 L605.5,507 L606.3,507.3 L607.1,507.6 L607.9,507.9 L608.7,508.1 L609.5,508.4 L610.3,508.6 L611.1,508.9 L611.9,509.1 L612.7,509.3 L613.5,509.4 L614.3,509.6 L615.1,509.7 L615.9,509.8 L616.7,510 L617.5,510.1 L618.3,510.2 L619.1,510.3 L619.9,510.4 L620.7,510.5 L621.5,510.5 L622.3,510.6 L623.1,510.7 L623.9,510.8 L624.7,510.8 L625.5,510.9 L626.3,510.9 L627.1,511 L627.9,511.1 L628.7,511.1 L629.5,511.2 L630.3,511.2 L631.1,511.2 L631.9,511.2 L632.7,511.3 L633.5,511.3 L634.3,511.3 L635.1,511.3 L635.9,511.3 L636.7,511.4 L637.5,511.4 L638.3,511.4 L639.1,511.4 L639.9,511.4 L640.7,511.4 L641.5,511.4 L642.3,511.4 L643.1,511.4 L643.9,511.4 L644.7,511.4 L645.5,511.5 L646.3,511.5 L647.1,511.5 L647.9,511.5 L648.7,511.5 L649.5,511.5 L650.3,511.5 L651.1,511.5 L651.9,511.5 L652.7,511.5 L653.5,511.5 L654.3,511.5 L655.1,511.5 L655.9,511.5 L656.7,511.5 L657.5,511.5 L658.3,511.5 L659.1,511.5 L659.9,511.5 L660.7,511.5 L661.5,511.5 L662.3,511.5 L663.1,511.5 L663.9,511.5 L664.7,511.5 L665.5,511.5 L666.3,511.5" fill="none" stroke="#B0F4A4" stroke-width="1.8" stroke-linejoin="round"/><path d="M384.2,496.3 L385,496.3 L385.8,496.2 L386.6,496.2 L387.4,496.1 L388.2,496 L389,495.9 L389.8,495.9 L390.6,495.8 L391.4,495.7 L392.2,495.6 L393,495.5 L393.8,495.4 L394.6,495.3 L395.4,495.1 L396.2,495 L397,494.9 L397.8,494.7 L398.6,494.6 L399.4,494.4 L400.2,494.2 L401,494 L401.8,493.9 L402.6,493.7 L403.4,493.5 L404.2,493.2 L405,493 L405.8,492.8 L406.6,492.6 L407.4,492.3 L408.2,492 L409,491.8 L409.8,491.5 L410.6,491.2 L411.4,490.9 L412.2,490.6 L413,490.3 L413.8,490 L414.6,489.6 L415.4,489.3 L416.2,489 L417,488.6 L417.8,488.2 L418.6,487.9 L419.4,487.5 L420.2,487.1 L421,486.7 L421.8,486.3 L422.6,485.9 L423.4,485.5 L424.2,485.1 L425,484.6 L425.8,484.2 L426.6,483.8 L427.4,483.4 L428.2,482.9 L429,482.5 L429.8,482.1 L430.6,481.6 L431.4,481.2 L432.2,480.8 L433,480.3 L433.8,479.9 L434.6,479.5 L435.4,479.1 L436.2,478.6 L437,478.2 L437.8,477.8 L438.6,477.4 L439.4,477.1 L440.2,476.7 L441,476.3 L441.8,476 L442.6,475.6 L443.4,475.3 L444.2,475 L445,474.7 L445.8,474.4 L446.6,474.1 L447.4,473.8 L448.2,473.6 L449,473.3 L449.8,473.1 L450.6,472.9 L451.4,472.8 L452.2,472.6 L453,472.5 L453.8,472.3 L454.6,472.3 L455.4,472.2 L456.2,472.1 L457,472.1 L457.8,472.1 L458.6,472.1 L459.4,472.1 L460.2,472.1 L461,472.2 L461.8,472.3 L462.6,472.4 L463.4,472.5 L464.2,472.7 L465,472.8 L465.8,473 L466.6,473.2 L467.4,473.4 L468.2,473.7 L469,473.9 L469.8,474.2 L470.6,474.5 L471.4,474.8 L472.2,475.2 L473,475.5 L473.8,475.8 L474.6,476.2 L475.4,476.6 L476.2,477 L477,477.4 L477.8,477.8 L478.6,478.2 L479.4,478.7 L480.2,479.1 L481,479.6 L481.8,480 L482.6,480.5 L483.4,480.9 L484.2,481.4 L485,481.9 L485.8,482.4 L486.6,482.9 L487.4,483.3 L488.2,483.8 L489,484.3 L489.8,484.8 L490.6,485.3 L491.4,485.7 L492.2,486.2 L493,486.7 L493.8,487.2 L494.6,487.6 L495.4,488.1 L496.2,488.5 L497,489 L497.8,489.4 L498.6,489.9 L499.4,490.3 L500.2,490.7 L501,491.1 L501.8,491.5 L502.6,491.9 L503.4,492.3 L504.2,492.7 L505,493.1 L505.8,493.4 L506.6,493.8 L507.4,494.1 L508.2,494.4 L509,494.8 L509.8,495.1 L510.6,495.4 L511.4,495.7 L512.2,496 L513,496.3 L513.8,496.5 L514.6,496.8 L515.4,497 L516.2,497.3 L517,497.5 L517.8,497.7 L518.6,498 L519.4,498.2 L520.2,498.4 L521,498.6 L521.8,498.8 L522.6,499 L523.4,499.1 L524.2,499.3 L525,499.5 L525.8,499.6 L526.6,499.8 L527.4,499.9 L528.2,500.1 L529,500.2 L529.8,500.4 L530.6,500.5 L531.4,500.6 L532.2,500.7 L533,500.8 L533.8,500.9 L534.6,501 L535.4,501.1 L536.2,501.2 L537,501.3 L537.8,501.4 L538.6,501.5 L539.4,501.6 L540.2,501.7 L541,501.8 L541.8,501.9 L542.6,502 L543.4,502.1 L544.2,502.2 L545,502.3 L545.8,502.4 L546.6,502.5 L547.4,502.6 L548.2,502.7 L549,502.8 L549.8,502.9 L550.6,503 L551.4,503.1 L552.2,503.2 L553,503.3 L553.8,503.4 L554.6,503.5 L555.4,503.6 L556.2,503.6 L557,503.7 L557.8,503.8 L558.6,503.9 L559.4,504 L560.2,504.1 L561,504.2 L561.8,504.3 L562.6,504.4 L563.4,504.6 L564.2,504.7 L565,504.8 L565.8,504.9 L566.6,505.1 L567.4,505.2 L568.2,505.3 L569,505.4 L569.8,505.5 L570.6,505.7 L571.4,505.8 L572.2,505.9 L573,506 L573.8,506.1 L574.6,506.3 L575.4,506.4 L576.2,506.5 L577,506.6 L577.8,506.7 L578.6,506.9 L579.4,507 L580.2,507.1 L581,507.2 L581.8,507.3 L582.6,507.5 L583.4,507.6 L584.2,507.7 L585,507.8 L585.8,507.9 L586.6,508.1 L587.4,508.2 L588.2,508.3 L589,508.4" fill="none" stroke="#DAF4A4" stroke-width="1.8" stroke-linejoin="round"/><path d="M384,497.3 L430,498.5 L480,500 L520,501.3 L540,502.2 L560,504.1 L577.5,506.7 L595,509.3 L612.6,511.1 L630,511.5 L676,511.5" fill="none" stroke="#7A3A08" stroke-width="2.0"/></g>
<rect x="384.2" y="297.7" width="290.8" height="233.6" fill="none" stroke="#000" stroke-width="2.7"/>
<line x1="399.4" y1="531.3" x2="399.4" y2="535.5" stroke="#000" stroke-width="2"/>
<text x="399.4" y="548.3" font-size="12" text-anchor="middle" font-weight="bold" >408</text>
<line x1="438.8" y1="531.3" x2="438.8" y2="535.5" stroke="#000" stroke-width="2"/>
<text x="438.8" y="548.3" font-size="12" text-anchor="middle" font-weight="bold" >406</text>
<line x1="478.2" y1="531.3" x2="478.2" y2="535.5" stroke="#000" stroke-width="2"/>
<text x="478.2" y="548.3" font-size="12" text-anchor="middle" font-weight="bold" >404</text>
<line x1="517.6" y1="531.3" x2="517.6" y2="535.5" stroke="#000" stroke-width="2"/>
<text x="517.6" y="548.3" font-size="12" text-anchor="middle" font-weight="bold" >402</text>
<line x1="557" y1="531.3" x2="557" y2="535.5" stroke="#000" stroke-width="2"/>
<text x="557" y="548.3" font-size="12" text-anchor="middle" font-weight="bold" >400</text>
<line x1="596.4" y1="531.3" x2="596.4" y2="535.5" stroke="#000" stroke-width="2"/>
<text x="596.4" y="548.3" font-size="12" text-anchor="middle" font-weight="bold" >398</text>
<line x1="635.8" y1="531.3" x2="635.8" y2="535.5" stroke="#000" stroke-width="2"/>
<text x="635.8" y="548.3" font-size="12" text-anchor="middle" font-weight="bold" >396</text>
<line x1="675.2" y1="531.3" x2="675.2" y2="535.5" stroke="#000" stroke-width="2"/>
<text x="675.2" y="548.3" font-size="12" text-anchor="middle" font-weight="bold" >394</text>
<line x1="419.1" y1="531.3" x2="419.1" y2="533.3" stroke="#000" stroke-width="2"/>
<line x1="458.5" y1="531.3" x2="458.5" y2="533.3" stroke="#000" stroke-width="2"/>
<line x1="497.9" y1="531.3" x2="497.9" y2="533.3" stroke="#000" stroke-width="2"/>
<line x1="537.3" y1="531.3" x2="537.3" y2="533.3" stroke="#000" stroke-width="2"/>
<line x1="576.7" y1="531.3" x2="576.7" y2="533.3" stroke="#000" stroke-width="2"/>
<line x1="616.1" y1="531.3" x2="616.1" y2="533.3" stroke="#000" stroke-width="2"/>
<line x1="655.5" y1="531.3" x2="655.5" y2="533.3" stroke="#000" stroke-width="2"/>
<circle cx="404.1" cy="310.3" r="3.2" fill="none" stroke="#138A5E" stroke-width="1.3"/>
<text x="418.3" y="313.9" font-size="10" text-anchor="start" font-weight="bold" >N 1s HR spectrum</text>
<line x1="392.3" y1="322.9" x2="415.8" y2="322.9" stroke="#138A5E" stroke-width="2.2" stroke-linecap="round"/>
<text x="418.3" y="326.2" font-size="10" text-anchor="start" font-weight="bold" >Envelope</text>
<rect x="393.1" y="329.9" width="21.9" height="10.6" fill="#A0C8BC" stroke="#78D4B0" stroke-width="1.6"/>
<text x="418.3" y="338.9" font-size="10" text-anchor="start" font-weight="bold" >Pyridinic N</text>
<rect x="393.1" y="342.4" width="21.9" height="10.6" fill="#A8CCA8" stroke="#80D880" stroke-width="1.6"/>
<text x="418.3" y="351.3" font-size="10" text-anchor="start" font-weight="bold" >Acridine N</text>
<rect x="393.1" y="354.8" width="21.9" height="10.6" fill="#C0C4B0" stroke="#CCD4A4" stroke-width="1.6"/>
<text x="418.3" y="363.8" font-size="10" text-anchor="start" font-weight="bold" >Amino-anthracene N</text>
<rect x="393.1" y="367.3" width="21.9" height="10.6" fill="#B4C8C6" stroke="#B4D4CC" stroke-width="1.6"/>
<text x="418.3" y="376.2" font-size="10" text-anchor="start" font-weight="bold" >Carbazol N</text>
<rect x="393.1" y="379.7" width="21.9" height="10.6" fill="#B6CCB8" stroke="#B8D8B8" stroke-width="1.6"/>
<text x="418.3" y="388.7" font-size="10" text-anchor="start" font-weight="bold" >Quaternary N</text>
<rect x="393.1" y="392.2" width="21.9" height="10.6" fill="#C0C2B8" stroke="#C8CCBC" stroke-width="1.6"/>
<text x="418.3" y="401.1" font-size="10" text-anchor="start" font-weight="bold" >Ads. N<tspan font-size="6.5" dy="2.5">2</tspan></text>
<line x1="392.3" y1="412.9" x2="415.8" y2="412.9" stroke="#7A3A08" stroke-width="2.2" stroke-linecap="round"/>
<text x="418.3" y="416.1" font-size="10" text-anchor="start" font-weight="bold" >Background</text>
<text x="627.6" y="333.3" font-size="32.2" text-anchor="start" font-weight="bold" >(d)</text>
<text transform="translate(364.6,408.6) rotate(-90)" x="0" y="0" font-size="17.5" text-anchor="middle" font-weight="bold">Intensity (a.u.)</text>
<text x="529.6" y="572.7" font-size="17.5" text-anchor="middle" font-weight="bold" >Binding Energy (eV)</text>
<clipPath id="ce"><rect x="216.6" y="594" width="288.6" height="230.5"/></clipPath>
<g clip-path="url(#ce)">
<g fill="none" stroke="#4B0A93" stroke-width="1.45"><circle cx="283.3" cy="700.5" r="3.7"/><circle cx="233.1" cy="718" r="3.7"/><circle cx="240.1" cy="715.7" r="3.7"/><circle cx="217.9" cy="728" r="3.7"/><circle cx="219.7" cy="736.7" r="3.7"/><circle cx="222.6" cy="740.8" r="3.7"/><circle cx="221.4" cy="743.1" r="3.7"/><circle cx="237.8" cy="734.4" r="3.7"/><circle cx="234.9" cy="739.1" r="3.7"/><circle cx="243" cy="742" r="3.7"/><circle cx="244.2" cy="746.1" r="3.7"/><circle cx="251.2" cy="738.5" r="3.7"/><circle cx="255.9" cy="743.7" r="3.7"/><circle cx="262.9" cy="737.9" r="3.7"/><circle cx="265.2" cy="730.9" r="3.7"/><circle cx="269.9" cy="722.1" r="3.7"/><circle cx="276.3" cy="732.6" r="3.7"/><circle cx="290.3" cy="728.5" r="3.7"/><circle cx="292.7" cy="725.6" r="3.7"/><circle cx="229" cy="750.1" r="3.7"/><circle cx="226.1" cy="753.6" r="3.7"/><circle cx="216.2" cy="755.4" r="3.7"/><circle cx="230.8" cy="772.3" r="3.7"/><circle cx="246.5" cy="766.5" r="3.7"/><circle cx="249.5" cy="751.9" r="3.7"/><circle cx="258.8" cy="752.5" r="3.7"/><circle cx="267.6" cy="747.2" r="3.7"/><circle cx="272.2" cy="749" r="3.7"/><circle cx="280.4" cy="749.6" r="3.7"/><circle cx="285.1" cy="744.9" r="3.7"/><circle cx="288" cy="740.2" r="3.7"/><circle cx="274" cy="757.7" r="3.7"/><circle cx="293.2" cy="753.1" r="3.7"/><circle cx="346.6" cy="686.4" r="3.7"/><circle cx="299.3" cy="730.7" r="3.7"/><circle cx="304" cy="718.5" r="3.7"/><circle cx="305.8" cy="723.1" r="3.7"/><circle cx="317.4" cy="721.4" r="3.7"/><circle cx="324.5" cy="720.2" r="3.7"/><circle cx="326.2" cy="726.1" r="3.7"/><circle cx="330.9" cy="724.9" r="3.7"/><circle cx="312.8" cy="730.7" r="3.7"/><circle cx="321.5" cy="731.3" r="3.7"/><circle cx="319.8" cy="737.7" r="3.7"/><circle cx="328.5" cy="737.2" r="3.7"/><circle cx="337.9" cy="732.5" r="3.7"/><circle cx="335.5" cy="715" r="3.7"/><circle cx="340.2" cy="706.2" r="3.7"/><circle cx="342" cy="713.2" r="3.7"/><circle cx="349" cy="715" r="3.7"/><circle cx="350.7" cy="705.6" r="3.7"/><circle cx="354.2" cy="705" r="3.7"/><circle cx="357.7" cy="701.5" r="3.7"/><circle cx="360.7" cy="698" r="3.7"/><circle cx="365.3" cy="697.4" r="3.7"/><circle cx="363" cy="720.8" r="3.7"/><circle cx="367.1" cy="718.5" r="3.7"/><circle cx="333.2" cy="744.7" r="3.7"/><circle cx="344.9" cy="743.6" r="3.7"/><circle cx="301.1" cy="738.9" r="3.7"/><circle cx="310.4" cy="745.9" r="3.7"/><circle cx="307.5" cy="742.4" r="3.7"/><circle cx="315.1" cy="758.8" r="3.7"/><circle cx="383.1" cy="672.6" r="3.7"/><circle cx="386" cy="686" r="3.7"/><circle cx="380.8" cy="691.9" r="3.7"/><circle cx="400" cy="695.9" r="3.7"/><circle cx="417.6" cy="694.2" r="3.7"/><circle cx="369.7" cy="700" r="3.7"/><circle cx="377.8" cy="702.4" r="3.7"/><circle cx="376.1" cy="705.3" r="3.7"/><circle cx="374.3" cy="711.7" r="3.7"/><circle cx="390.1" cy="703.5" r="3.7"/><circle cx="393" cy="701.8" r="3.7"/><circle cx="387.8" cy="710" r="3.7"/><circle cx="397.1" cy="712.3" r="3.7"/><circle cx="403.5" cy="710.5" r="3.7"/><circle cx="408.2" cy="715.2" r="3.7"/><circle cx="410" cy="712.3" r="3.7"/><circle cx="414.6" cy="706.5" r="3.7"/><circle cx="412.9" cy="708.2" r="3.7"/><circle cx="419.9" cy="715.2" r="3.7"/><circle cx="422.2" cy="716.4" r="3.7"/><circle cx="428.6" cy="712.3" r="3.7"/><circle cx="433.9" cy="718.1" r="3.7"/><circle cx="435.7" cy="721.1" r="3.7"/><circle cx="438" cy="728.1" r="3.7"/><circle cx="442.1" cy="707.6" r="3.7"/><circle cx="440.3" cy="743.2" r="3.7"/><circle cx="365" cy="719.3" r="3.7"/><circle cx="372.6" cy="722.2" r="3.7"/><circle cx="394.8" cy="733.3" r="3.7"/><circle cx="405.9" cy="726.3" r="3.7"/><circle cx="424" cy="736.2" r="3.7"/><circle cx="426.3" cy="749.7" r="3.7"/><circle cx="451.5" cy="692" r="3.7"/><circle cx="467.8" cy="688.6" r="3.7"/><circle cx="470.3" cy="694.6" r="3.7"/><circle cx="460" cy="698.9" r="3.7"/><circle cx="462.6" cy="700.6" r="3.7"/><circle cx="472.9" cy="704" r="3.7"/><circle cx="475.5" cy="707.5" r="3.7"/><circle cx="447.2" cy="711.8" r="3.7"/><circle cx="458.3" cy="710" r="3.7"/><circle cx="456.6" cy="720.3" r="3.7"/><circle cx="454.9" cy="725.5" r="3.7"/><circle cx="445.5" cy="734.1" r="3.7"/><circle cx="449.7" cy="736.7" r="3.7"/><circle cx="466" cy="723.8" r="3.7"/><circle cx="479.8" cy="734.9" r="3.7"/><circle cx="476.4" cy="739.2" r="3.7"/><circle cx="480.6" cy="776.1" r="3.7"/><circle cx="492.7" cy="778.7" r="3.7"/><circle cx="495.2" cy="789" r="3.7"/><circle cx="503.8" cy="780.4" r="3.7"/><circle cx="483.2" cy="794.2" r="3.7"/><circle cx="486.7" cy="796.7" r="3.7"/><circle cx="498.7" cy="798.5" r="3.7"/><circle cx="502.1" cy="797.6" r="3.7"/><circle cx="490.1" cy="807.9" r="3.7"/><circle cx="499.5" cy="816.5" r="3.7"/><circle cx="504.7" cy="798.5" r="3.7"/></g>
<path d="M214,753.4C215.8,753.3 220.9,753.3 225,752.9C229.1,752.5 234.2,751.9 238.4,751C242.6,750.1 246.1,748.8 250,747.3C253.9,745.8 258.1,743.9 262,742.3C265.9,740.7 269.5,739 273.4,737.6C277.2,736.2 281.5,735 285.1,734.1C288.7,733.2 292.5,732.9 295,732.5C297.5,732.1 296.9,731.9 300,732C303.1,732.1 309.9,733.1 313.4,733.2C316.9,733.3 318.5,732.9 321,732.6C323.5,732.3 325.8,732.3 328.5,731.3C331.2,730.3 334.5,728.6 337.5,726.8C340.5,725 343.4,723.1 346.3,720.6C349.2,718.1 352.1,714.5 355,711.9C357.9,709.3 360.9,706.8 363.8,704.9C366.7,703 369.8,701.6 372.5,700.6C375.2,699.6 377.4,699.2 380,699C382.6,698.8 385.7,698.9 388.4,699.2C391.1,699.5 394.5,700.3 396.4,700.7C398.3,701.1 398.6,701 400,701.4C401.4,701.8 403.2,702.6 405.1,703.4C407.1,704.2 409.6,704.9 411.7,706.2C413.8,707.6 415.7,709.4 417.6,711.5C419.6,713.6 421.5,716 423.4,718.7C425.3,721.4 427.2,725 429.2,727.6C431.1,730.2 433.2,732.9 435.1,734.5C437,736.1 438.9,736.8 440.5,737C442.1,737.2 443.7,736.8 445,736C446.3,735.2 447.3,733.8 448.5,732C449.7,730.2 450.6,728.2 452,725C453.4,721.8 455.5,716.1 456.8,713C458.1,709.9 458.9,708.6 460,706.5C461.1,704.4 462.4,701.8 463.5,700.5C464.6,699.2 465.4,698.4 466.3,698.6C467.2,698.8 467.6,699.4 468.6,701.5C469.6,703.6 471,707.5 472.2,711.5C473.4,715.5 474.6,721 475.8,725.8C477,730.6 478.2,735.3 479.4,740.1C480.6,744.9 481.7,749.5 482.9,754.5C484.1,759.5 485.2,765.2 486.5,770.2C487.8,775.2 489.4,780.3 490.8,784.6C492.2,788.9 493.4,792.9 495.1,796C496.8,799.1 498.9,801.4 500.8,803.2C502.7,805 505.2,806.1 506.6,806.8C508,807.5 508.6,807.5 509,807.6" fill="none" stroke="#4B0A93" stroke-width="2.2" stroke-linejoin="round"/>
</g>
<g clip-path="url(#ce)"><path d="M403.9,788.6 L404.7,788.8 L405.5,788.9 L406.3,789 L407.1,789.1 L407.9,789.2 L408.7,789.3 L409.5,789.5 L410.3,789.6 L411.1,789.7 L411.9,789.8 L412.7,789.9 L413.5,790 L414.3,790.1 L415.1,790.2 L415.9,790.3 L416.7,790.4 L417.5,790.5 L418.3,790.6 L419.1,790.6 L419.9,790.7 L420.7,790.8 L421.5,790.8 L422.3,790.8 L423.1,790.8 L423.9,790.9 L424.7,790.9 L425.5,791 L426.3,790.9 L427.1,790.9 L427.9,790.8 L428.7,790.7 L429.5,790.5 L430.3,790.3 L431.1,790 L431.9,789.6 L432.7,789.2 L433.5,788.7 L434.3,788.1 L435.1,787.5 L435.9,786.7 L436.7,785.8 L437.5,784.8 L438.3,783.8 L439.1,782.6 L439.9,781.2 L440.7,779.8 L441.5,778.2 L442.3,776.5 L443.1,774.6 L443.9,772.7 L444.7,770.6 L445.5,768.4 L446.3,766 L447.1,763.6 L447.9,761 L448.7,758.4 L449.5,755.7 L450.3,752.9 L451.1,750.1 L451.9,747.3 L452.7,744.4 L453.5,741.6 L454.3,738.8 L455.1,736.1 L455.9,733.4 L456.7,730.8 L457.5,728.4 L458.3,726.1 L459.1,724 L459.9,722 L460.7,720.3 L461.5,718.8 L462.3,717.6 L463.1,716.6 L463.9,715.9 L464.7,715.5 L465.5,715.4 L466.3,715.5 L467.1,716 L467.9,716.7 L468.7,717.7 L469.5,718.9 L470.3,720.4 L471.1,722.2 L471.9,724.1 L472.7,726.3 L473.5,728.7 L474.3,731.3 L475.1,734 L475.9,736.9 L476.7,739.9 L477.5,742.9 L478.3,746.1 L479.1,749.2 L479.9,752.4 L480.7,755.6 L481.5,758.8 L482.3,761.9 L483.1,764.9 L483.9,767.9 L484.7,770.8 L485.5,773.6 L486.3,776.3 L487.1,778.9 L487.9,781.4 L488.7,783.7 L489.5,785.9 L490.3,788 L491.1,789.9 L491.9,791.8 L492.7,793.5 L493.5,795 L494.3,796.5 L495.1,797.8 L495.9,799.1 L496.7,800.2 L497.5,801.2 L498.3,802.1 L499.1,803 L499.9,803.8 L500.7,804.5 L501.5,805.1 L502.3,805.7 L503.1,806.2 L503.9,806.7 L504.7,807.1 L505.5,807.5 L506.3,807.9 L506.3,809.1 L505.5,809 L504.7,808.8 L503.9,808.7 L503.1,808.6 L502.3,808.4 L501.5,808.3 L500.7,808.2 L499.9,808 L499.1,807.9 L498.3,807.8 L497.5,807.6 L496.7,807.5 L495.9,807.3 L495.1,807.2 L494.3,807.1 L493.5,806.9 L492.7,806.8 L491.9,806.7 L491.1,806.5 L490.3,806.4 L489.5,806.3 L488.7,806.1 L487.9,806 L487.1,805.8 L486.3,805.7 L485.5,805.6 L484.7,805.4 L483.9,805.3 L483.1,805.2 L482.3,805 L481.5,804.9 L480.7,804.8 L479.9,804.6 L479.1,804.5 L478.3,804.4 L477.5,804.2 L476.7,804.1 L475.9,803.9 L475.1,803.8 L474.3,803.7 L473.5,803.5 L472.7,803.4 L471.9,803.3 L471.1,803.1 L470.3,803 L469.5,802.9 L468.7,802.7 L467.9,802.6 L467.1,802.4 L466.3,802.2 L465.5,802 L464.7,801.8 L463.9,801.6 L463.1,801.4 L462.3,801.2 L461.5,801.1 L460.7,800.9 L459.9,800.7 L459.1,800.5 L458.3,800.3 L457.5,800.1 L456.7,799.9 L455.9,799.7 L455.1,799.5 L454.3,799.3 L453.5,799.1 L452.7,798.9 L451.9,798.7 L451.1,798.5 L450.3,798.3 L449.5,798.1 L448.7,797.9 L447.9,797.7 L447.1,797.5 L446.3,797.3 L445.5,797.1 L444.7,796.9 L443.9,796.7 L443.1,796.5 L442.3,796.3 L441.5,796.1 L440.7,795.9 L439.9,795.7 L439.1,795.5 L438.3,795.3 L437.5,795.1 L436.7,794.9 L435.9,794.7 L435.1,794.5 L434.3,794.3 L433.5,794.1 L432.7,793.9 L431.9,793.7 L431.1,793.5 L430.3,793.3 L429.5,793.1 L428.7,792.9 L427.9,792.7 L427.1,792.5 L426.3,792.3 L425.5,792.1 L424.7,791.9 L423.9,791.7 L423.1,791.5 L422.3,791.4 L421.5,791.3 L420.7,791.2 L419.9,791 L419.1,790.9 L418.3,790.8 L417.5,790.7 L416.7,790.6 L415.9,790.4 L415.1,790.3 L414.3,790.2 L413.5,790.1 L412.7,790 L411.9,789.8 L411.1,789.7 L410.3,789.6 L409.5,789.5 L408.7,789.4 L407.9,789.2 L407.1,789.1 L406.3,789 L405.5,788.9 L404.7,788.8 L403.9,788.6 Z" fill="rgba(111,82,160,0.55)" stroke="none"/><path d="M215.3,754.8 L216.1,754.9 L216.9,755 L217.7,755.1 L218.5,755.3 L219.3,755.4 L220.1,755.5 L220.9,755.6 L221.7,755.7 L222.5,755.9 L223.3,756 L224.1,756.1 L224.9,756.2 L225.7,756.3 L226.5,756.4 L227.3,756.5 L228.1,756.7 L228.9,756.8 L229.7,756.9 L230.5,757 L231.3,757.1 L232.1,757.2 L232.9,757.4 L233.7,757.5 L234.5,757.6 L235.3,757.7 L236.1,757.8 L236.9,757.9 L237.7,758 L238.5,758.1 L239.3,758.3 L240.1,758.4 L240.9,758.5 L241.7,758.6 L242.5,758.7 L243.3,758.8 L244.1,758.9 L244.9,759 L245.7,759.1 L246.5,759.3 L247.3,759.4 L248.1,759.5 L248.9,759.6 L249.7,759.7 L250.5,759.8 L251.3,759.9 L252.1,760 L252.9,760.1 L253.7,760.2 L254.5,760.4 L255.3,760.5 L256.1,760.6 L256.9,760.7 L257.7,760.8 L258.5,760.9 L259.3,761 L260.1,761.1 L260.9,761.2 L261.7,761.3 L262.5,761.4 L263.3,761.5 L264.1,761.6 L264.9,761.7 L265.7,761.8 L266.5,761.9 L267.3,762 L268.1,762.1 L268.9,762.2 L269.7,762.3 L270.5,762.4 L271.3,762.5 L272.1,762.6 L272.9,762.7 L273.7,762.8 L274.5,762.9 L275.3,763 L276.1,763.1 L276.9,763.2 L277.7,763.3 L278.5,763.4 L279.3,763.5 L280.1,763.6 L280.9,763.7 L281.7,763.8 L282.5,763.9 L283.3,764 L284.1,764.1 L284.9,764.2 L285.7,764.2 L286.5,764.3 L287.3,764.4 L288.1,764.5 L288.9,764.6 L289.7,764.7 L290.5,764.8 L291.3,764.8 L292.1,764.9 L292.9,765 L293.7,765.1 L294.5,765.2 L295.3,765.3 L296.1,765.4 L296.9,765.5 L297.7,765.6 L298.5,765.6 L299.3,765.7 L300.1,765.8 L300.9,765.9 L301.7,766 L302.5,766.1 L303.3,766.2 L304.1,766.3 L304.9,766.3 L305.7,766.4 L306.5,766.5 L307.3,766.5 L308.1,766.6 L308.9,766.7 L309.7,766.7 L310.5,766.8 L311.3,766.9 L312.1,766.9 L312.9,767 L313.7,767 L314.5,767.1 L315.3,767.1 L316.1,767.1 L316.9,767.2 L317.7,767.2 L318.5,767.2 L319.3,767.2 L320.1,767.2 L320.9,767.3 L321.7,767.3 L322.5,767.3 L323.3,767.3 L324.1,767.2 L324.9,767.2 L325.7,767.2 L326.5,767.2 L327.3,767.1 L328.1,767.1 L328.9,767 L329.7,767 L330.5,766.9 L331.3,766.8 L332.1,766.8 L332.9,766.7 L333.7,766.6 L334.5,766.5 L335.3,766.4 L336.1,766.2 L336.9,766.1 L337.7,765.9 L338.5,765.8 L339.3,765.6 L340.1,765.4 L340.9,765.2 L341.7,765 L342.5,764.8 L343.3,764.6 L344.1,764.4 L344.9,764.1 L345.7,763.9 L346.5,763.6 L347.3,763.3 L348.1,763 L348.9,762.7 L349.7,762.4 L350.5,762 L351.3,761.7 L352.1,761.3 L352.9,761 L353.7,760.6 L354.5,760.2 L355.3,759.8 L356.1,759.3 L356.9,758.9 L357.7,758.4 L358.5,757.9 L359.3,757.4 L360.1,756.9 L360.9,756.3 L361.7,755.8 L362.5,755.3 L363.3,754.7 L364.1,754.1 L364.9,753.5 L365.7,752.9 L366.5,752.3 L367.3,751.7 L368.1,751 L368.9,750.4 L369.7,749.7 L370.5,749 L371.3,748.4 L372.1,747.7 L372.9,747 L373.7,746.3 L374.5,745.6 L375.3,744.8 L376.1,744.1 L376.9,743.4 L377.7,742.7 L378.5,741.9 L379.3,741.2 L380.1,740.4 L380.9,739.7 L381.7,738.9 L382.5,738.2 L383.3,737.5 L384.1,736.7 L384.9,736 L385.7,735.2 L386.5,734.5 L387.3,733.8 L388.1,733.1 L388.9,732.4 L389.7,731.7 L390.5,731 L391.3,730.3 L392.1,729.7 L392.9,729 L393.7,728.4 L394.5,727.8 L395.3,727.2 L396.1,726.7 L396.9,726.1 L397.7,725.6 L398.5,725.1 L399.3,724.6 L400.1,724.2 L400.9,723.7 L401.7,723.4 L402.5,723 L403.3,722.7 L404.1,722.4 L404.9,722.1 L405.7,721.9 L406.5,721.7 L407.3,721.5 L408.1,721.4 L408.9,721.3 L409.7,721.2 L410.5,721.2 L411.3,721.2 L412.1,721.3 L412.9,721.4 L413.7,721.5 L414.5,721.7 L415.3,721.9 L416.1,722.2 L416.9,722.5 L417.7,722.8 L418.5,723.2 L419.3,723.7 L420.1,724.1 L420.9,724.6 L421.7,725.2 L422.5,725.8 L423.3,726.4 L424.1,727.2 L424.9,728 L425.7,728.8 L426.5,729.6 L427.3,730.5 L428.1,731.4 L428.9,732.3 L429.7,733.3 L430.5,734.3 L431.3,735.3 L432.1,736.4 L432.9,737.4 L433.7,738.5 L434.5,739.6 L435.3,740.8 L436.1,741.9 L436.9,743.1 L437.7,744.2 L438.5,745.4 L439.3,746.6 L440.1,747.8 L440.9,749.1 L441.7,750.3 L442.5,751.5 L443.3,752.8 L444.1,754 L444.9,755.2 L445.7,756.5 L446.5,757.7 L447.3,759 L448.1,760.2 L448.9,761.4 L449.7,762.6 L450.5,763.9 L451.3,765.1 L452.1,766.3 L452.9,767.4 L453.7,768.6 L454.5,769.8 L455.3,770.9 L456.1,772.1 L456.9,773.2 L457.7,774.3 L458.5,775.4 L459.3,776.4 L460.1,777.5 L460.9,778.5 L461.7,779.6 L462.5,780.6 L463.3,781.5 L464.1,782.5 L464.9,783.4 L465.7,784.4 L466.5,785.3 L467.3,786.2 L468.1,787 L468.9,787.8 L469.7,788.6 L470.5,789.4 L471.3,790.1 L472.1,790.8 L472.9,791.5 L473.7,792.2 L474.5,792.9 L475.3,793.5 L476.1,794.2 L476.9,794.8 L477.7,795.4 L478.5,795.9 L479.3,796.5 L480.1,797 L480.9,797.6 L481.7,798.1 L482.5,798.6 L483.3,799.1 L484.1,799.5 L484.9,800 L485.7,800.4 L486.5,800.8 L487.3,801.3 L488.1,801.6 L488.9,802 L489.7,802.4 L490.5,802.8 L491.3,803.1 L492.1,803.5 L492.9,803.8 L493.7,804.1 L494.5,804.4 L495.3,804.7 L496.1,805 L496.9,805.3 L497.7,805.6 L498.5,805.9 L499.3,806.1 L500.1,806.4 L500.9,806.6 L501.7,806.9 L502.5,807.1 L503.3,807.3 L504.1,807.5 L504.9,807.8 L505.7,808 L506.5,808.2 L506.5,809.1 L505.7,809 L504.9,808.9 L504.1,808.7 L503.3,808.6 L502.5,808.5 L501.7,808.3 L500.9,808.2 L500.1,808.1 L499.3,807.9 L498.5,807.8 L497.7,807.6 L496.9,807.5 L496.1,807.4 L495.3,807.2 L494.5,807.1 L493.7,807 L492.9,806.8 L492.1,806.7 L491.3,806.6 L490.5,806.4 L489.7,806.3 L488.9,806.2 L488.1,806 L487.3,805.9 L486.5,805.7 L485.7,805.6 L484.9,805.5 L484.1,805.3 L483.3,805.2 L482.5,805.1 L481.7,804.9 L480.9,804.8 L480.1,804.7 L479.3,804.5 L478.5,804.4 L477.7,804.2 L476.9,804.1 L476.1,804 L475.3,803.8 L474.5,803.7 L473.7,803.6 L472.9,803.4 L472.1,803.3 L471.3,803.2 L470.5,803 L469.7,802.9 L468.9,802.8 L468.1,802.6 L467.3,802.4 L466.5,802.2 L465.7,802.1 L464.9,801.9 L464.1,801.7 L463.3,801.5 L462.5,801.3 L461.7,801.1 L460.9,800.9 L460.1,800.7 L459.3,800.5 L458.5,800.3 L457.7,800.1 L456.9,800 L456.1,799.8 L455.3,799.6 L454.5,799.4 L453.7,799.2 L452.9,799 L452.1,798.8 L451.3,798.6 L450.5,798.4 L449.7,798.2 L448.9,798 L448.1,797.8 L447.3,797.6 L446.5,797.4 L445.7,797.2 L444.9,797 L444.1,796.8 L443.3,796.6 L442.5,796.4 L441.7,796.2 L440.9,796 L440.1,795.8 L439.3,795.6 L438.5,795.4 L437.7,795.2 L436.9,795 L436.1,794.8 L435.3,794.6 L434.5,794.4 L433.7,794.2 L432.9,794 L432.1,793.8 L431.3,793.6 L430.5,793.4 L429.7,793.2 L428.9,793 L428.1,792.8 L427.3,792.6 L426.5,792.4 L425.7,792.2 L424.9,792 L424.1,791.8 L423.3,791.6 L422.5,791.4 L421.7,791.3 L420.9,791.2 L420.1,791.1 L419.3,790.9 L418.5,790.8 L417.7,790.7 L416.9,790.6 L416.1,790.5 L415.3,790.3 L414.5,790.2 L413.7,790.1 L412.9,790 L412.1,789.9 L411.3,789.7 L410.5,789.6 L409.7,789.5 L408.9,789.4 L408.1,789.3 L407.3,789.1 L406.5,789 L405.7,788.9 L404.9,788.8 L404.1,788.7 L403.3,788.5 L402.5,788.4 L401.7,788.3 L400.9,788.2 L400.1,788.1 L399.3,787.9 L398.5,787.8 L397.7,787.7 L396.9,787.6 L396.1,787.5 L395.3,787.3 L394.5,787.2 L393.7,787.1 L392.9,787 L392.1,786.9 L391.3,786.7 L390.5,786.6 L389.7,786.5 L388.9,786.4 L388.1,786.3 L387.3,786.1 L386.5,786 L385.7,785.9 L384.9,785.8 L384.1,785.7 L383.3,785.5 L382.5,785.4 L381.7,785.3 L380.9,785.2 L380.1,785.1 L379.3,784.9 L378.5,784.8 L377.7,784.7 L376.9,784.6 L376.1,784.5 L375.3,784.3 L374.5,784.2 L373.7,784.1 L372.9,784 L372.1,783.9 L371.3,783.7 L370.5,783.6 L369.7,783.5 L368.9,783.4 L368.1,783.3 L367.3,783.1 L366.5,783 L365.7,782.9 L364.9,782.8 L364.1,782.7 L363.3,782.5 L362.5,782.4 L361.7,782.3 L360.9,782.2 L360.1,782.1 L359.3,781.9 L358.5,781.8 L357.7,781.7 L356.9,781.6 L356.1,781.5 L355.3,781.3 L354.5,781.2 L353.7,781.1 L352.9,780.9 L352.1,780.8 L351.3,780.6 L350.5,780.5 L349.7,780.3 L348.9,780.2 L348.1,780 L347.3,779.9 L346.5,779.7 L345.7,779.6 L344.9,779.4 L344.1,779.3 L343.3,779.1 L342.5,779 L341.7,778.8 L340.9,778.7 L340.1,778.5 L339.3,778.4 L338.5,778.2 L337.7,778.1 L336.9,778 L336.1,777.8 L335.3,777.7 L334.5,777.5 L333.7,777.3 L332.9,777.2 L332.1,777 L331.3,776.9 L330.5,776.7 L329.7,776.6 L328.9,776.4 L328.1,776.2 L327.3,776.1 L326.5,775.9 L325.7,775.8 L324.9,775.6 L324.1,775.4 L323.3,775.3 L322.5,775.1 L321.7,775 L320.9,774.8 L320.1,774.7 L319.3,774.5 L318.5,774.3 L317.7,774.2 L316.9,774 L316.1,773.9 L315.3,773.7 L314.5,773.6 L313.7,773.4 L312.9,773.2 L312.1,773.1 L311.3,772.9 L310.5,772.8 L309.7,772.6 L308.9,772.4 L308.1,772.3 L307.3,772.1 L306.5,772 L305.7,771.8 L304.9,771.7 L304.1,771.5 L303.3,771.3 L302.5,771.2 L301.7,771 L300.9,770.9 L300.1,770.7 L299.3,770.5 L298.5,770.4 L297.7,770.2 L296.9,770.1 L296.1,769.9 L295.3,769.8 L294.5,769.6 L293.7,769.5 L292.9,769.3 L292.1,769.2 L291.3,769.1 L290.5,768.9 L289.7,768.8 L288.9,768.7 L288.1,768.5 L287.3,768.4 L286.5,768.3 L285.7,768.1 L284.9,768 L284.1,767.9 L283.3,767.7 L282.5,767.6 L281.7,767.5 L280.9,767.3 L280.1,767.2 L279.3,767.1 L278.5,766.9 L277.7,766.8 L276.9,766.7 L276.1,766.5 L275.3,766.4 L274.5,766.3 L273.7,766.1 L272.9,766 L272.1,765.9 L271.3,765.7 L270.5,765.6 L269.7,765.5 L268.9,765.3 L268.1,765.2 L267.3,765.1 L266.5,764.9 L265.7,764.8 L264.9,764.7 L264.1,764.5 L263.3,764.4 L262.5,764.3 L261.7,764.1 L260.9,764 L260.1,763.9 L259.3,763.7 L258.5,763.6 L257.7,763.5 L256.9,763.3 L256.1,763.2 L255.3,763.1 L254.5,762.9 L253.7,762.8 L252.9,762.7 L252.1,762.5 L251.3,762.4 L250.5,762.3 L249.7,762.2 L248.9,762 L248.1,761.9 L247.3,761.8 L246.5,761.6 L245.7,761.5 L244.9,761.4 L244.1,761.2 L243.3,761.1 L242.5,761 L241.7,760.8 L240.9,760.7 L240.1,760.6 L239.3,760.4 L238.5,760.3 L237.7,760.2 L236.9,760.1 L236.1,759.9 L235.3,759.8 L234.5,759.7 L233.7,759.5 L232.9,759.4 L232.1,759.3 L231.3,759.1 L230.5,759 L229.7,758.9 L228.9,758.7 L228.1,758.6 L227.3,758.5 L226.5,758.3 L225.7,758.2 L224.9,758.1 L224.1,758 L223.3,757.8 L222.5,757.7 L221.7,757.6 L220.9,757.4 L220.1,757.3 L219.3,757.2 L218.5,757 L217.7,756.9 L216.9,756.8 L216.1,756.6 L215.3,756.5 Z" fill="rgba(95,95,170,0.55)" stroke="none"/><path d="M215.3,756.5 L216.1,756.6 L216.9,756.8 L217.7,756.9 L218.5,757 L219.3,757.2 L220.1,757.3 L220.9,757.4 L221.7,757.6 L222.5,757.7 L223.3,757.8 L224.1,758 L224.9,758.1 L225.7,758.2 L226.5,758.3 L227.3,758.5 L228.1,758.6 L228.9,758.7 L229.7,758.9 L230.5,759 L231.3,759.1 L232.1,759.3 L232.9,759.4 L233.7,759.5 L234.5,759.7 L235.3,759.8 L236.1,759.9 L236.9,760.1 L237.7,760.2 L238.5,760.3 L239.3,760.4 L240.1,760.6 L240.9,760.7 L241.7,760.8 L242.5,761 L243.3,761.1 L244.1,761.2 L244.9,761.4 L245.7,761.5 L246.5,761.6 L247.3,761.7 L248.1,761.9 L248.9,762 L249.7,762.1 L250.5,762.3 L251.3,762.4 L252.1,762.5 L252.9,762.7 L253.7,762.8 L254.5,762.9 L255.3,763 L256.1,763.2 L256.9,763.3 L257.7,763.4 L258.5,763.6 L259.3,763.7 L260.1,763.8 L260.9,763.9 L261.7,764.1 L262.5,764.2 L263.3,764.3 L264.1,764.4 L264.9,764.6 L265.7,764.7 L266.5,764.8 L267.3,764.9 L268.1,765 L268.9,765.2 L269.7,765.3 L270.5,765.4 L271.3,765.5 L272.1,765.6 L272.9,765.7 L273.7,765.8 L274.5,765.9 L275.3,766 L276.1,766.1 L276.9,766.2 L277.7,766.3 L278.5,766.4 L279.3,766.5 L280.1,766.6 L280.9,766.7 L281.7,766.7 L282.5,766.8 L283.3,766.9 L284.1,767 L284.9,767 L285.7,767.1 L286.5,767.1 L287.3,767.1 L288.1,767.2 L288.9,767.2 L289.7,767.2 L290.5,767.2 L291.3,767.3 L292.1,767.2 L292.9,767.2 L293.7,767.2 L294.5,767.2 L295.3,767.2 L296.1,767.2 L296.9,767.1 L297.7,767.1 L298.5,767 L299.3,767 L300.1,766.9 L300.9,766.8 L301.7,766.7 L302.5,766.5 L303.3,766.4 L304.1,766.2 L304.9,766.1 L305.7,765.9 L306.5,765.7 L307.3,765.5 L308.1,765.2 L308.9,765 L309.7,764.7 L310.5,764.4 L311.3,764.1 L312.1,763.8 L312.9,763.4 L313.7,763.1 L314.5,762.7 L315.3,762.3 L316.1,761.9 L316.9,761.4 L317.7,761 L318.5,760.5 L319.3,760 L320.1,759.4 L320.9,758.9 L321.7,758.3 L322.5,757.8 L323.3,757.1 L324.1,756.5 L324.9,755.9 L325.7,755.2 L326.5,754.5 L327.3,753.9 L328.1,753.1 L328.9,752.4 L329.7,751.7 L330.5,750.9 L331.3,750.2 L332.1,749.4 L332.9,748.6 L333.7,747.8 L334.5,747 L335.3,746.1 L336.1,745.3 L336.9,744.5 L337.7,743.6 L338.5,742.8 L339.3,741.9 L340.1,741.1 L340.9,740.2 L341.7,739.4 L342.5,738.6 L343.3,737.7 L344.1,736.9 L344.9,736.1 L345.7,735.3 L346.5,734.5 L347.3,733.8 L348.1,733 L348.9,732.3 L349.7,731.6 L350.5,730.9 L351.3,730.2 L352.1,729.6 L352.9,729 L353.7,728.4 L354.5,727.8 L355.3,727.3 L356.1,726.8 L356.9,726.3 L357.7,725.8 L358.5,725.4 L359.3,725.1 L360.1,724.7 L360.9,724.4 L361.7,724.2 L362.5,724 L363.3,723.8 L364.1,723.7 L364.9,723.6 L365.7,723.6 L366.5,723.6 L367.3,723.7 L368.1,723.8 L368.9,723.9 L369.7,724.1 L370.5,724.3 L371.3,724.6 L372.1,724.9 L372.9,725.3 L373.7,725.7 L374.5,726.1 L375.3,726.6 L376.1,727.1 L376.9,727.6 L377.7,728.2 L378.5,728.9 L379.3,729.5 L380.1,730.2 L380.9,730.9 L381.7,731.7 L382.5,732.5 L383.3,733.3 L384.1,734.1 L384.9,735 L385.7,735.9 L386.5,736.8 L387.3,737.8 L388.1,738.7 L388.9,739.7 L389.7,740.7 L390.5,741.7 L391.3,742.7 L392.1,743.8 L392.9,744.8 L393.7,745.9 L394.5,746.9 L395.3,748 L396.1,749.1 L396.9,750.2 L397.7,751.3 L398.5,752.3 L399.3,753.4 L400.1,754.5 L400.9,755.6 L401.7,756.6 L402.5,757.7 L403.3,758.8 L404.1,759.8 L404.9,760.9 L405.7,761.9 L406.5,762.9 L407.3,763.9 L408.1,764.9 L408.9,765.9 L409.7,766.9 L410.5,767.8 L411.3,768.7 L412.1,769.7 L412.9,770.6 L413.7,771.5 L414.5,772.3 L415.3,773.2 L416.1,774 L416.9,774.8 L417.7,775.6 L418.5,776.4 L419.3,777.2 L420.1,777.9 L420.9,778.6 L421.7,779.3 L422.5,780 L423.3,780.7 L424.1,781.4 L424.9,782.1 L425.7,782.8 L426.5,783.5 L427.3,784.1 L428.1,784.8 L428.9,785.4 L429.7,786 L430.5,786.6 L431.3,787.2 L432.1,787.7 L432.9,788.2 L433.7,788.8 L434.5,789.3 L435.3,789.8 L436.1,790.3 L436.9,790.7 L437.7,791.2 L438.5,791.6 L439.3,792 L440.1,792.5 L440.9,792.9 L441.7,793.3 L442.5,793.6 L443.3,794 L444.1,794.4 L444.9,794.7 L445.7,795.1 L446.5,795.4 L447.3,795.8 L448.1,796.1 L448.9,796.4 L449.7,796.7 L450.5,797 L451.3,797.3 L452.1,797.6 L452.9,797.9 L453.7,798.2 L454.5,798.4 L455.3,798.7 L456.1,799 L456.9,799.2 L457.7,799.5 L458.5,799.7 L459.3,799.9 L460.1,800.2 L460.9,800.4 L461.7,800.6 L462.5,800.9 L463.3,801.1 L464.1,801.3 L464.9,801.5 L465.7,801.8 L466.5,802 L467.3,802.2 L468.1,802.4 L468.9,802.5 L469.7,802.7 L470.5,802.9 L471.3,803 L472.1,803.2 L472.9,803.3 L473.7,803.4 L474.5,803.6 L475.3,803.7 L476.1,803.9 L476.9,804 L477.7,804.2 L478.5,804.3 L479.3,804.5 L480.1,804.6 L480.9,804.7 L481.7,804.9 L482.5,805 L483.3,805.2 L484.1,805.3 L484.9,805.4 L485.7,805.6 L486.5,805.7 L487.3,805.9 L488.1,806 L488.9,806.1 L489.7,806.3 L490.5,806.4 L491.3,806.5 L492.1,806.7 L492.9,806.8 L493.7,807 L494.5,807.1 L495.3,807.2 L496.1,807.4 L496.9,807.5 L497.7,807.6 L498.5,807.8 L499.3,807.9 L500.1,808.1 L500.9,808.2 L501.7,808.3 L502.5,808.5 L503.3,808.6 L504.1,808.7 L504.9,808.9 L505.7,809 L506.5,809.1 L506.5,809.1 L505.7,809 L504.9,808.9 L504.1,808.7 L503.3,808.6 L502.5,808.5 L501.7,808.3 L500.9,808.2 L500.1,808.1 L499.3,807.9 L498.5,807.8 L497.7,807.6 L496.9,807.5 L496.1,807.4 L495.3,807.2 L494.5,807.1 L493.7,807 L492.9,806.8 L492.1,806.7 L491.3,806.6 L490.5,806.4 L489.7,806.3 L488.9,806.2 L488.1,806 L487.3,805.9 L486.5,805.7 L485.7,805.6 L484.9,805.5 L484.1,805.3 L483.3,805.2 L482.5,805.1 L481.7,804.9 L480.9,804.8 L480.1,804.7 L479.3,804.5 L478.5,804.4 L477.7,804.2 L476.9,804.1 L476.1,804 L475.3,803.8 L474.5,803.7 L473.7,803.6 L472.9,803.4 L472.1,803.3 L471.3,803.2 L470.5,803 L469.7,802.9 L468.9,802.8 L468.1,802.6 L467.3,802.4 L466.5,802.2 L465.7,802.1 L464.9,801.9 L464.1,801.7 L463.3,801.5 L462.5,801.3 L461.7,801.1 L460.9,800.9 L460.1,800.7 L459.3,800.5 L458.5,800.3 L457.7,800.1 L456.9,800 L456.1,799.8 L455.3,799.6 L454.5,799.4 L453.7,799.2 L452.9,799 L452.1,798.8 L451.3,798.6 L450.5,798.4 L449.7,798.2 L448.9,798 L448.1,797.8 L447.3,797.6 L446.5,797.4 L445.7,797.2 L444.9,797 L444.1,796.8 L443.3,796.6 L442.5,796.4 L441.7,796.2 L440.9,796 L440.1,795.8 L439.3,795.6 L438.5,795.4 L437.7,795.2 L436.9,795 L436.1,794.8 L435.3,794.6 L434.5,794.4 L433.7,794.2 L432.9,794 L432.1,793.8 L431.3,793.6 L430.5,793.4 L429.7,793.2 L428.9,793 L428.1,792.8 L427.3,792.6 L426.5,792.4 L425.7,792.2 L424.9,792 L424.1,791.8 L423.3,791.6 L422.5,791.4 L421.7,791.3 L420.9,791.2 L420.1,791.1 L419.3,790.9 L418.5,790.8 L417.7,790.7 L416.9,790.6 L416.1,790.5 L415.3,790.3 L414.5,790.2 L413.7,790.1 L412.9,790 L412.1,789.9 L411.3,789.7 L410.5,789.6 L409.7,789.5 L408.9,789.4 L408.1,789.3 L407.3,789.1 L406.5,789 L405.7,788.9 L404.9,788.8 L404.1,788.7 L403.3,788.5 L402.5,788.4 L401.7,788.3 L400.9,788.2 L400.1,788.1 L399.3,787.9 L398.5,787.8 L397.7,787.7 L396.9,787.6 L396.1,787.5 L395.3,787.3 L394.5,787.2 L393.7,787.1 L392.9,787 L392.1,786.9 L391.3,786.7 L390.5,786.6 L389.7,786.5 L388.9,786.4 L388.1,786.3 L387.3,786.1 L386.5,786 L385.7,785.9 L384.9,785.8 L384.1,785.7 L383.3,785.5 L382.5,785.4 L381.7,785.3 L380.9,785.2 L380.1,785.1 L379.3,784.9 L378.5,784.8 L377.7,784.7 L376.9,784.6 L376.1,784.5 L375.3,784.3 L374.5,784.2 L373.7,784.1 L372.9,784 L372.1,783.9 L371.3,783.7 L370.5,783.6 L369.7,783.5 L368.9,783.4 L368.1,783.3 L367.3,783.1 L366.5,783 L365.7,782.9 L364.9,782.8 L364.1,782.7 L363.3,782.5 L362.5,782.4 L361.7,782.3 L360.9,782.2 L360.1,782.1 L359.3,781.9 L358.5,781.8 L357.7,781.7 L356.9,781.6 L356.1,781.5 L355.3,781.3 L354.5,781.2 L353.7,781.1 L352.9,780.9 L352.1,780.8 L351.3,780.6 L350.5,780.5 L349.7,780.3 L348.9,780.2 L348.1,780 L347.3,779.9 L346.5,779.7 L345.7,779.6 L344.9,779.4 L344.1,779.3 L343.3,779.1 L342.5,779 L341.7,778.8 L340.9,778.7 L340.1,778.5 L339.3,778.4 L338.5,778.2 L337.7,778.1 L336.9,778 L336.1,777.8 L335.3,777.7 L334.5,777.5 L333.7,777.3 L332.9,777.2 L332.1,777 L331.3,776.9 L330.5,776.7 L329.7,776.6 L328.9,776.4 L328.1,776.2 L327.3,776.1 L326.5,775.9 L325.7,775.8 L324.9,775.6 L324.1,775.4 L323.3,775.3 L322.5,775.1 L321.7,775 L320.9,774.8 L320.1,774.7 L319.3,774.5 L318.5,774.3 L317.7,774.2 L316.9,774 L316.1,773.9 L315.3,773.7 L314.5,773.6 L313.7,773.4 L312.9,773.2 L312.1,773.1 L311.3,772.9 L310.5,772.8 L309.7,772.6 L308.9,772.4 L308.1,772.3 L307.3,772.1 L306.5,772 L305.7,771.8 L304.9,771.7 L304.1,771.5 L303.3,771.3 L302.5,771.2 L301.7,771 L300.9,770.9 L300.1,770.7 L299.3,770.5 L298.5,770.4 L297.7,770.2 L296.9,770.1 L296.1,769.9 L295.3,769.8 L294.5,769.6 L293.7,769.5 L292.9,769.3 L292.1,769.2 L291.3,769.1 L290.5,768.9 L289.7,768.8 L288.9,768.7 L288.1,768.5 L287.3,768.4 L286.5,768.3 L285.7,768.1 L284.9,768 L284.1,767.9 L283.3,767.7 L282.5,767.6 L281.7,767.5 L280.9,767.3 L280.1,767.2 L279.3,767.1 L278.5,766.9 L277.7,766.8 L276.9,766.7 L276.1,766.5 L275.3,766.4 L274.5,766.3 L273.7,766.1 L272.9,766 L272.1,765.9 L271.3,765.7 L270.5,765.6 L269.7,765.5 L268.9,765.3 L268.1,765.2 L267.3,765.1 L266.5,764.9 L265.7,764.8 L264.9,764.7 L264.1,764.5 L263.3,764.4 L262.5,764.3 L261.7,764.1 L260.9,764 L260.1,763.9 L259.3,763.7 L258.5,763.6 L257.7,763.5 L256.9,763.3 L256.1,763.2 L255.3,763.1 L254.5,762.9 L253.7,762.8 L252.9,762.7 L252.1,762.5 L251.3,762.4 L250.5,762.3 L249.7,762.2 L248.9,762 L248.1,761.9 L247.3,761.8 L246.5,761.6 L245.7,761.5 L244.9,761.4 L244.1,761.2 L243.3,761.1 L242.5,761 L241.7,760.8 L240.9,760.7 L240.1,760.6 L239.3,760.4 L238.5,760.3 L237.7,760.2 L236.9,760.1 L236.1,759.9 L235.3,759.8 L234.5,759.7 L233.7,759.5 L232.9,759.4 L232.1,759.3 L231.3,759.1 L230.5,759 L229.7,758.9 L228.9,758.7 L228.1,758.6 L227.3,758.5 L226.5,758.3 L225.7,758.2 L224.9,758.1 L224.1,758 L223.3,757.8 L222.5,757.7 L221.7,757.6 L220.9,757.4 L220.1,757.3 L219.3,757.2 L218.5,757 L217.7,756.9 L216.9,756.8 L216.1,756.6 L215.3,756.5 Z" fill="rgba(82,132,158,0.55)" stroke="none"/><path d="M215.3,754.2 L216.1,754.2 L216.9,754.2 L217.7,754.2 L218.5,754.2 L219.3,754.2 L220.1,754.2 L220.9,754.2 L221.7,754.1 L222.5,754.1 L223.3,754.1 L224.1,754 L224.9,753.9 L225.7,753.9 L226.5,753.8 L227.3,753.7 L228.1,753.6 L228.9,753.6 L229.7,753.5 L230.5,753.3 L231.3,753.2 L232.1,753.1 L232.9,753 L233.7,752.8 L234.5,752.7 L235.3,752.5 L236.1,752.4 L236.9,752.2 L237.7,752 L238.5,751.8 L239.3,751.6 L240.1,751.4 L240.9,751.2 L241.7,751 L242.5,750.8 L243.3,750.5 L244.1,750.3 L244.9,750.1 L245.7,749.8 L246.5,749.5 L247.3,749.3 L248.1,749 L248.9,748.7 L249.7,748.4 L250.5,748.1 L251.3,747.8 L252.1,747.5 L252.9,747.2 L253.7,746.9 L254.5,746.5 L255.3,746.2 L256.1,745.9 L256.9,745.5 L257.7,745.2 L258.5,744.8 L259.3,744.5 L260.1,744.1 L260.9,743.8 L261.7,743.4 L262.5,743.1 L263.3,742.7 L264.1,742.3 L264.9,742 L265.7,741.6 L266.5,741.3 L267.3,740.9 L268.1,740.6 L268.9,740.2 L269.7,739.9 L270.5,739.5 L271.3,739.2 L272.1,738.8 L272.9,738.5 L273.7,738.2 L274.5,737.9 L275.3,737.6 L276.1,737.2 L276.9,737 L277.7,736.7 L278.5,736.4 L279.3,736.1 L280.1,735.9 L280.9,735.6 L281.7,735.4 L282.5,735.2 L283.3,734.9 L284.1,734.7 L284.9,734.6 L285.7,734.4 L286.5,734.2 L287.3,734.1 L288.1,734 L288.9,733.8 L289.7,733.8 L290.5,733.7 L291.3,733.6 L292.1,733.6 L292.9,733.5 L293.7,733.5 L294.5,733.5 L295.3,733.6 L296.1,733.6 L296.9,733.7 L297.7,733.8 L298.5,733.9 L299.3,734.1 L300.1,734.2 L300.9,734.4 L301.7,734.6 L302.5,734.7 L303.3,735 L304.1,735.2 L304.9,735.4 L305.7,735.7 L306.5,735.9 L307.3,736.2 L308.1,736.5 L308.9,736.8 L309.7,737.1 L310.5,737.4 L311.3,737.8 L312.1,738.1 L312.9,738.5 L313.7,738.9 L314.5,739.3 L315.3,739.7 L316.1,740.1 L316.9,740.5 L317.7,740.9 L318.5,741.4 L319.3,741.8 L320.1,742.3 L320.9,742.8 L321.7,743.2 L322.5,743.7 L323.3,744.2 L324.1,744.7 L324.9,745.3 L325.7,745.8 L326.5,746.3 L327.3,746.8 L328.1,747.4 L328.9,747.9 L329.7,748.5 L330.5,749 L331.3,749.6 L332.1,750.2 L332.9,750.7 L333.7,751.3 L334.5,751.9 L335.3,752.5 L336.1,753 L336.9,753.6 L337.7,754.2 L338.5,754.8 L339.3,755.3 L340.1,755.9 L340.9,756.5 L341.7,757.1 L342.5,757.7 L343.3,758.2 L344.1,758.8 L344.9,759.4 L345.7,760 L346.5,760.5 L347.3,761.1 L348.1,761.7 L348.9,762.2 L349.7,762.8 L350.5,763.4 L351.3,763.9 L352.1,764.5 L352.9,765 L353.7,765.6 L354.5,766.1 L355.3,766.6 L356.1,767.2 L356.9,767.7 L357.7,768.1 L358.5,768.6 L359.3,769.1 L360.1,769.6 L360.9,770.1 L361.7,770.5 L362.5,771 L363.3,771.5 L364.1,771.9 L364.9,772.4 L365.7,772.8 L366.5,773.2 L367.3,773.7 L368.1,774.1 L368.9,774.5 L369.7,774.9 L370.5,775.3 L371.3,775.7 L372.1,776.1 L372.9,776.5 L373.7,776.8 L374.5,777.2 L375.3,777.6 L376.1,777.9 L376.9,778.3 L377.7,778.6 L378.5,779 L379.3,779.3 L380.1,779.7 L380.9,780 L381.7,780.3 L382.5,780.6 L383.3,780.9 L384.1,781.2 L384.9,781.5 L385.7,781.8 L386.5,782.1 L387.3,782.4 L388.1,782.6 L388.9,782.9 L389.7,783.2 L390.5,783.4 L391.3,783.7 L392.1,783.9 L392.9,784.2 L393.7,784.4 L394.5,784.7 L395.3,784.9 L396.1,785.1 L396.9,785.3 L397.7,785.6 L398.5,785.8 L399.3,786 L400.1,786.2 L400.9,786.4 L401.7,786.6 L402.5,786.8 L403.3,787 L404.1,787.2 L404.9,787.4 L405.7,787.6 L406.5,787.8 L407.3,788 L408.1,788.1 L408.9,788.3 L409.7,788.5 L410.5,788.7 L411.3,788.8 L412.1,789 L412.9,789.2 L413.7,789.3 L414.5,789.5 L415.3,789.6 L416.1,789.8 L416.9,790 L417.7,790.1 L418.5,790.3 L419.3,790.4 L420.1,790.6 L420.9,790.7 L421.7,790.9 L422.5,791 L423.3,791.2 L424.1,791.4 L424.9,791.6 L425.7,791.8 L426.5,792.1 L427.3,792.3 L428.1,792.5 L428.9,792.7 L429.7,792.9 L430.5,793.1 L431.3,793.4 L432.1,793.6 L432.9,793.8 L433.7,794 L434.5,794.2 L435.3,794.4 L436.1,794.6 L436.9,794.8 L437.7,795 L438.5,795.3 L439.3,795.5 L440.1,795.7 L440.9,795.9 L441.7,796.1 L442.5,796.3 L443.3,796.5 L444.1,796.7 L444.9,796.9 L445.7,797.1 L446.5,797.3 L447.3,797.5 L448.1,797.7 L448.9,797.9 L449.7,798.1 L450.5,798.3 L451.3,798.5 L452.1,798.7 L452.9,798.9 L453.7,799.1 L454.5,799.3 L455.3,799.5 L456.1,799.7 L456.9,799.9 L457.7,800.1 L458.5,800.3 L459.3,800.5 L460.1,800.7 L460.9,800.9 L461.7,801.1 L462.5,801.3 L463.3,801.5 L464.1,801.7 L464.9,801.8 L465.7,802 L466.5,802.2 L467.3,802.4 L468.1,802.6 L468.9,802.7 L469.7,802.9 L470.5,803 L471.3,803.2 L472.1,803.3 L472.9,803.4 L473.7,803.6 L474.5,803.7 L475.3,803.8 L476.1,804 L476.9,804.1 L477.7,804.2 L478.5,804.4 L479.3,804.5 L480.1,804.7 L480.9,804.8 L481.7,804.9 L482.5,805.1 L483.3,805.2 L484.1,805.3 L484.9,805.5 L485.7,805.6 L486.5,805.7 L487.3,805.9 L488.1,806 L488.9,806.2 L489.7,806.3 L490.5,806.4 L491.3,806.6 L492.1,806.7 L492.9,806.8 L493.7,807 L494.5,807.1 L495.3,807.2 L496.1,807.4 L496.9,807.5 L497.7,807.6 L498.5,807.8 L499.3,807.9 L500.1,808.1 L500.9,808.2 L501.7,808.3 L502.5,808.5 L503.3,808.6 L504.1,808.7 L504.9,808.9 L505.7,809 L506.5,809.1 L506.5,809.1 L505.7,809 L504.9,808.9 L504.1,808.7 L503.3,808.6 L502.5,808.5 L501.7,808.3 L500.9,808.2 L500.1,808.1 L499.3,807.9 L498.5,807.8 L497.7,807.6 L496.9,807.5 L496.1,807.4 L495.3,807.2 L494.5,807.1 L493.7,807 L492.9,806.8 L492.1,806.7 L491.3,806.6 L490.5,806.4 L489.7,806.3 L488.9,806.2 L488.1,806 L487.3,805.9 L486.5,805.7 L485.7,805.6 L484.9,805.5 L484.1,805.3 L483.3,805.2 L482.5,805.1 L481.7,804.9 L480.9,804.8 L480.1,804.7 L479.3,804.5 L478.5,804.4 L477.7,804.2 L476.9,804.1 L476.1,804 L475.3,803.8 L474.5,803.7 L473.7,803.6 L472.9,803.4 L472.1,803.3 L471.3,803.2 L470.5,803 L469.7,802.9 L468.9,802.8 L468.1,802.6 L467.3,802.4 L466.5,802.2 L465.7,802.1 L464.9,801.9 L464.1,801.7 L463.3,801.5 L462.5,801.3 L461.7,801.1 L460.9,800.9 L460.1,800.7 L459.3,800.5 L458.5,800.3 L457.7,800.1 L456.9,800 L456.1,799.8 L455.3,799.6 L454.5,799.4 L453.7,799.2 L452.9,799 L452.1,798.8 L451.3,798.6 L450.5,798.4 L449.7,798.2 L448.9,798 L448.1,797.8 L447.3,797.6 L446.5,797.4 L445.7,797.2 L444.9,797 L444.1,796.8 L443.3,796.6 L442.5,796.4 L441.7,796.2 L440.9,796 L440.1,795.8 L439.3,795.6 L438.5,795.4 L437.7,795.2 L436.9,795 L436.1,794.8 L435.3,794.6 L434.5,794.4 L433.7,794.2 L432.9,794 L432.1,793.8 L431.3,793.6 L430.5,793.4 L429.7,793.2 L428.9,793 L428.1,792.8 L427.3,792.6 L426.5,792.4 L425.7,792.2 L424.9,792 L424.1,791.8 L423.3,791.6 L422.5,791.4 L421.7,791.3 L420.9,791.2 L420.1,791.1 L419.3,790.9 L418.5,790.8 L417.7,790.7 L416.9,790.6 L416.1,790.5 L415.3,790.3 L414.5,790.2 L413.7,790.1 L412.9,790 L412.1,789.9 L411.3,789.7 L410.5,789.6 L409.7,789.5 L408.9,789.4 L408.1,789.3 L407.3,789.1 L406.5,789 L405.7,788.9 L404.9,788.8 L404.1,788.7 L403.3,788.5 L402.5,788.4 L401.7,788.3 L400.9,788.2 L400.1,788.1 L399.3,787.9 L398.5,787.8 L397.7,787.7 L396.9,787.6 L396.1,787.5 L395.3,787.3 L394.5,787.2 L393.7,787.1 L392.9,787 L392.1,786.9 L391.3,786.7 L390.5,786.6 L389.7,786.5 L388.9,786.4 L388.1,786.3 L387.3,786.1 L386.5,786 L385.7,785.9 L384.9,785.8 L384.1,785.7 L383.3,785.5 L382.5,785.4 L381.7,785.3 L380.9,785.2 L380.1,785.1 L379.3,784.9 L378.5,784.8 L377.7,784.7 L376.9,784.6 L376.1,784.5 L375.3,784.3 L374.5,784.2 L373.7,784.1 L372.9,784 L372.1,783.9 L371.3,783.7 L370.5,783.6 L369.7,783.5 L368.9,783.4 L368.1,783.3 L367.3,783.1 L366.5,783 L365.7,782.9 L364.9,782.8 L364.1,782.7 L363.3,782.5 L362.5,782.4 L361.7,782.3 L360.9,782.2 L360.1,782.1 L359.3,781.9 L358.5,781.8 L357.7,781.7 L356.9,781.6 L356.1,781.5 L355.3,781.3 L354.5,781.2 L353.7,781.1 L352.9,780.9 L352.1,780.8 L351.3,780.6 L350.5,780.5 L349.7,780.3 L348.9,780.2 L348.1,780 L347.3,779.9 L346.5,779.7 L345.7,779.6 L344.9,779.4 L344.1,779.3 L343.3,779.1 L342.5,779 L341.7,778.8 L340.9,778.7 L340.1,778.5 L339.3,778.4 L338.5,778.2 L337.7,778.1 L336.9,778 L336.1,777.8 L335.3,777.7 L334.5,777.5 L333.7,777.3 L332.9,777.2 L332.1,777 L331.3,776.9 L330.5,776.7 L329.7,776.6 L328.9,776.4 L328.1,776.2 L327.3,776.1 L326.5,775.9 L325.7,775.8 L324.9,775.6 L324.1,775.4 L323.3,775.3 L322.5,775.1 L321.7,775 L320.9,774.8 L320.1,774.7 L319.3,774.5 L318.5,774.3 L317.7,774.2 L316.9,774 L316.1,773.9 L315.3,773.7 L314.5,773.6 L313.7,773.4 L312.9,773.2 L312.1,773.1 L311.3,772.9 L310.5,772.8 L309.7,772.6 L308.9,772.4 L308.1,772.3 L307.3,772.1 L306.5,772 L305.7,771.8 L304.9,771.7 L304.1,771.5 L303.3,771.3 L302.5,771.2 L301.7,771 L300.9,770.9 L300.1,770.7 L299.3,770.5 L298.5,770.4 L297.7,770.2 L296.9,770.1 L296.1,769.9 L295.3,769.8 L294.5,769.6 L293.7,769.5 L292.9,769.3 L292.1,769.2 L291.3,769.1 L290.5,768.9 L289.7,768.8 L288.9,768.7 L288.1,768.5 L287.3,768.4 L286.5,768.3 L285.7,768.1 L284.9,768 L284.1,767.9 L283.3,767.7 L282.5,767.6 L281.7,767.5 L280.9,767.3 L280.1,767.2 L279.3,767.1 L278.5,766.9 L277.7,766.8 L276.9,766.7 L276.1,766.5 L275.3,766.4 L274.5,766.3 L273.7,766.1 L272.9,766 L272.1,765.9 L271.3,765.7 L270.5,765.6 L269.7,765.5 L268.9,765.3 L268.1,765.2 L267.3,765.1 L266.5,764.9 L265.7,764.8 L264.9,764.7 L264.1,764.5 L263.3,764.4 L262.5,764.3 L261.7,764.1 L260.9,764 L260.1,763.9 L259.3,763.7 L258.5,763.6 L257.7,763.5 L256.9,763.3 L256.1,763.2 L255.3,763.1 L254.5,762.9 L253.7,762.8 L252.9,762.7 L252.1,762.5 L251.3,762.4 L250.5,762.3 L249.7,762.2 L248.9,762 L248.1,761.9 L247.3,761.8 L246.5,761.6 L245.7,761.5 L244.9,761.4 L244.1,761.2 L243.3,761.1 L242.5,761 L241.7,760.8 L240.9,760.7 L240.1,760.6 L239.3,760.4 L238.5,760.3 L237.7,760.2 L236.9,760.1 L236.1,759.9 L235.3,759.8 L234.5,759.7 L233.7,759.5 L232.9,759.4 L232.1,759.3 L231.3,759.1 L230.5,759 L229.7,758.9 L228.9,758.7 L228.1,758.6 L227.3,758.5 L226.5,758.3 L225.7,758.2 L224.9,758.1 L224.1,758 L223.3,757.8 L222.5,757.7 L221.7,757.6 L220.9,757.4 L220.1,757.3 L219.3,757.2 L218.5,757 L217.7,756.9 L216.9,756.8 L216.1,756.6 L215.3,756.5 Z" fill="rgba(126,64,165,0.55)" stroke="none"/><path d="M403.9,788.6 L404.7,788.8 L405.5,788.9 L406.3,789 L407.1,789.1 L407.9,789.2 L408.7,789.3 L409.5,789.5 L410.3,789.6 L411.1,789.7 L411.9,789.8 L412.7,789.9 L413.5,790 L414.3,790.1 L415.1,790.2 L415.9,790.3 L416.7,790.4 L417.5,790.5 L418.3,790.6 L419.1,790.6 L419.9,790.7 L420.7,790.8 L421.5,790.8 L422.3,790.8 L423.1,790.8 L423.9,790.9 L424.7,790.9 L425.5,791 L426.3,790.9 L427.1,790.9 L427.9,790.8 L428.7,790.7 L429.5,790.5 L430.3,790.3 L431.1,790 L431.9,789.6 L432.7,789.2 L433.5,788.7 L434.3,788.1 L435.1,787.5 L435.9,786.7 L436.7,785.8 L437.5,784.8 L438.3,783.8 L439.1,782.6 L439.9,781.2 L440.7,779.8 L441.5,778.2 L442.3,776.5 L443.1,774.6 L443.9,772.7 L444.7,770.6 L445.5,768.4 L446.3,766 L447.1,763.6 L447.9,761 L448.7,758.4 L449.5,755.7 L450.3,752.9 L451.1,750.1 L451.9,747.3 L452.7,744.4 L453.5,741.6 L454.3,738.8 L455.1,736.1 L455.9,733.4 L456.7,730.8 L457.5,728.4 L458.3,726.1 L459.1,724 L459.9,722 L460.7,720.3 L461.5,718.8 L462.3,717.6 L463.1,716.6 L463.9,715.9 L464.7,715.5 L465.5,715.4 L466.3,715.5 L467.1,716 L467.9,716.7 L468.7,717.7 L469.5,718.9 L470.3,720.4 L471.1,722.2 L471.9,724.1 L472.7,726.3 L473.5,728.7 L474.3,731.3 L475.1,734 L475.9,736.9 L476.7,739.9 L477.5,742.9 L478.3,746.1 L479.1,749.2 L479.9,752.4 L480.7,755.6 L481.5,758.8 L482.3,761.9 L483.1,764.9 L483.9,767.9 L484.7,770.8 L485.5,773.6 L486.3,776.3 L487.1,778.9 L487.9,781.4 L488.7,783.7 L489.5,785.9 L490.3,788 L491.1,789.9 L491.9,791.8 L492.7,793.5 L493.5,795 L494.3,796.5 L495.1,797.8 L495.9,799.1 L496.7,800.2 L497.5,801.2 L498.3,802.1 L499.1,803 L499.9,803.8 L500.7,804.5 L501.5,805.1 L502.3,805.7 L503.1,806.2 L503.9,806.7 L504.7,807.1 L505.5,807.5 L506.3,807.9" fill="none" stroke="#9A4CF6" stroke-width="1.8" stroke-linejoin="round"/><path d="M215.3,754.8 L216.1,754.9 L216.9,755 L217.7,755.1 L218.5,755.3 L219.3,755.4 L220.1,755.5 L220.9,755.6 L221.7,755.7 L222.5,755.9 L223.3,756 L224.1,756.1 L224.9,756.2 L225.7,756.3 L226.5,756.4 L227.3,756.5 L228.1,756.7 L228.9,756.8 L229.7,756.9 L230.5,757 L231.3,757.1 L232.1,757.2 L232.9,757.4 L233.7,757.5 L234.5,757.6 L235.3,757.7 L236.1,757.8 L236.9,757.9 L237.7,758 L238.5,758.1 L239.3,758.3 L240.1,758.4 L240.9,758.5 L241.7,758.6 L242.5,758.7 L243.3,758.8 L244.1,758.9 L244.9,759 L245.7,759.1 L246.5,759.3 L247.3,759.4 L248.1,759.5 L248.9,759.6 L249.7,759.7 L250.5,759.8 L251.3,759.9 L252.1,760 L252.9,760.1 L253.7,760.2 L254.5,760.4 L255.3,760.5 L256.1,760.6 L256.9,760.7 L257.7,760.8 L258.5,760.9 L259.3,761 L260.1,761.1 L260.9,761.2 L261.7,761.3 L262.5,761.4 L263.3,761.5 L264.1,761.6 L264.9,761.7 L265.7,761.8 L266.5,761.9 L267.3,762 L268.1,762.1 L268.9,762.2 L269.7,762.3 L270.5,762.4 L271.3,762.5 L272.1,762.6 L272.9,762.7 L273.7,762.8 L274.5,762.9 L275.3,763 L276.1,763.1 L276.9,763.2 L277.7,763.3 L278.5,763.4 L279.3,763.5 L280.1,763.6 L280.9,763.7 L281.7,763.8 L282.5,763.9 L283.3,764 L284.1,764.1 L284.9,764.2 L285.7,764.2 L286.5,764.3 L287.3,764.4 L288.1,764.5 L288.9,764.6 L289.7,764.7 L290.5,764.8 L291.3,764.8 L292.1,764.9 L292.9,765 L293.7,765.1 L294.5,765.2 L295.3,765.3 L296.1,765.4 L296.9,765.5 L297.7,765.6 L298.5,765.6 L299.3,765.7 L300.1,765.8 L300.9,765.9 L301.7,766 L302.5,766.1 L303.3,766.2 L304.1,766.3 L304.9,766.3 L305.7,766.4 L306.5,766.5 L307.3,766.5 L308.1,766.6 L308.9,766.7 L309.7,766.7 L310.5,766.8 L311.3,766.9 L312.1,766.9 L312.9,767 L313.7,767 L314.5,767.1 L315.3,767.1 L316.1,767.1 L316.9,767.2 L317.7,767.2 L318.5,767.2 L319.3,767.2 L320.1,767.2 L320.9,767.3 L321.7,767.3 L322.5,767.3 L323.3,767.3 L324.1,767.2 L324.9,767.2 L325.7,767.2 L326.5,767.2 L327.3,767.1 L328.1,767.1 L328.9,767 L329.7,767 L330.5,766.9 L331.3,766.8 L332.1,766.8 L332.9,766.7 L333.7,766.6 L334.5,766.5 L335.3,766.4 L336.1,766.2 L336.9,766.1 L337.7,765.9 L338.5,765.8 L339.3,765.6 L340.1,765.4 L340.9,765.2 L341.7,765 L342.5,764.8 L343.3,764.6 L344.1,764.4 L344.9,764.1 L345.7,763.9 L346.5,763.6 L347.3,763.3 L348.1,763 L348.9,762.7 L349.7,762.4 L350.5,762 L351.3,761.7 L352.1,761.3 L352.9,761 L353.7,760.6 L354.5,760.2 L355.3,759.8 L356.1,759.3 L356.9,758.9 L357.7,758.4 L358.5,757.9 L359.3,757.4 L360.1,756.9 L360.9,756.3 L361.7,755.8 L362.5,755.3 L363.3,754.7 L364.1,754.1 L364.9,753.5 L365.7,752.9 L366.5,752.3 L367.3,751.7 L368.1,751 L368.9,750.4 L369.7,749.7 L370.5,749 L371.3,748.4 L372.1,747.7 L372.9,747 L373.7,746.3 L374.5,745.6 L375.3,744.8 L376.1,744.1 L376.9,743.4 L377.7,742.7 L378.5,741.9 L379.3,741.2 L380.1,740.4 L380.9,739.7 L381.7,738.9 L382.5,738.2 L383.3,737.5 L384.1,736.7 L384.9,736 L385.7,735.2 L386.5,734.5 L387.3,733.8 L388.1,733.1 L388.9,732.4 L389.7,731.7 L390.5,731 L391.3,730.3 L392.1,729.7 L392.9,729 L393.7,728.4 L394.5,727.8 L395.3,727.2 L396.1,726.7 L396.9,726.1 L397.7,725.6 L398.5,725.1 L399.3,724.6 L400.1,724.2 L400.9,723.7 L401.7,723.4 L402.5,723 L403.3,722.7 L404.1,722.4 L404.9,722.1 L405.7,721.9 L406.5,721.7 L407.3,721.5 L408.1,721.4 L408.9,721.3 L409.7,721.2 L410.5,721.2 L411.3,721.2 L412.1,721.3 L412.9,721.4 L413.7,721.5 L414.5,721.7 L415.3,721.9 L416.1,722.2 L416.9,722.5 L417.7,722.8 L418.5,723.2 L419.3,723.7 L420.1,724.1 L420.9,724.6 L421.7,725.2 L422.5,725.8 L423.3,726.4 L424.1,727.2 L424.9,728 L425.7,728.8 L426.5,729.6 L427.3,730.5 L428.1,731.4 L428.9,732.3 L429.7,733.3 L430.5,734.3 L431.3,735.3 L432.1,736.4 L432.9,737.4 L433.7,738.5 L434.5,739.6 L435.3,740.8 L436.1,741.9 L436.9,743.1 L437.7,744.2 L438.5,745.4 L439.3,746.6 L440.1,747.8 L440.9,749.1 L441.7,750.3 L442.5,751.5 L443.3,752.8 L444.1,754 L444.9,755.2 L445.7,756.5 L446.5,757.7 L447.3,759 L448.1,760.2 L448.9,761.4 L449.7,762.6 L450.5,763.9 L451.3,765.1 L452.1,766.3 L452.9,767.4 L453.7,768.6 L454.5,769.8 L455.3,770.9 L456.1,772.1 L456.9,773.2 L457.7,774.3 L458.5,775.4 L459.3,776.4 L460.1,777.5 L460.9,778.5 L461.7,779.6 L462.5,780.6 L463.3,781.5 L464.1,782.5 L464.9,783.4 L465.7,784.4 L466.5,785.3 L467.3,786.2 L468.1,787 L468.9,787.8 L469.7,788.6 L470.5,789.4 L471.3,790.1 L472.1,790.8 L472.9,791.5 L473.7,792.2 L474.5,792.9 L475.3,793.5 L476.1,794.2 L476.9,794.8 L477.7,795.4 L478.5,795.9 L479.3,796.5 L480.1,797 L480.9,797.6 L481.7,798.1 L482.5,798.6 L483.3,799.1 L484.1,799.5 L484.9,800 L485.7,800.4 L486.5,800.8 L487.3,801.3 L488.1,801.6 L488.9,802 L489.7,802.4 L490.5,802.8 L491.3,803.1 L492.1,803.5 L492.9,803.8 L493.7,804.1 L494.5,804.4 L495.3,804.7 L496.1,805 L496.9,805.3 L497.7,805.6 L498.5,805.9 L499.3,806.1 L500.1,806.4 L500.9,806.6 L501.7,806.9 L502.5,807.1 L503.3,807.3 L504.1,807.5 L504.9,807.8 L505.7,808 L506.5,808.2" fill="none" stroke="#6474F8" stroke-width="1.8" stroke-linejoin="round"/><path d="M215.3,756.5 L216.1,756.6 L216.9,756.8 L217.7,756.9 L218.5,757 L219.3,757.2 L220.1,757.3 L220.9,757.4 L221.7,757.6 L222.5,757.7 L223.3,757.8 L224.1,758 L224.9,758.1 L225.7,758.2 L226.5,758.3 L227.3,758.5 L228.1,758.6 L228.9,758.7 L229.7,758.9 L230.5,759 L231.3,759.1 L232.1,759.3 L232.9,759.4 L233.7,759.5 L234.5,759.7 L235.3,759.8 L236.1,759.9 L236.9,760.1 L237.7,760.2 L238.5,760.3 L239.3,760.4 L240.1,760.6 L240.9,760.7 L241.7,760.8 L242.5,761 L243.3,761.1 L244.1,761.2 L244.9,761.4 L245.7,761.5 L246.5,761.6 L247.3,761.7 L248.1,761.9 L248.9,762 L249.7,762.1 L250.5,762.3 L251.3,762.4 L252.1,762.5 L252.9,762.7 L253.7,762.8 L254.5,762.9 L255.3,763 L256.1,763.2 L256.9,763.3 L257.7,763.4 L258.5,763.6 L259.3,763.7 L260.1,763.8 L260.9,763.9 L261.7,764.1 L262.5,764.2 L263.3,764.3 L264.1,764.4 L264.9,764.6 L265.7,764.7 L266.5,764.8 L267.3,764.9 L268.1,765 L268.9,765.2 L269.7,765.3 L270.5,765.4 L271.3,765.5 L272.1,765.6 L272.9,765.7 L273.7,765.8 L274.5,765.9 L275.3,766 L276.1,766.1 L276.9,766.2 L277.7,766.3 L278.5,766.4 L279.3,766.5 L280.1,766.6 L280.9,766.7 L281.7,766.7 L282.5,766.8 L283.3,766.9 L284.1,767 L284.9,767 L285.7,767.1 L286.5,767.1 L287.3,767.1 L288.1,767.2 L288.9,767.2 L289.7,767.2 L290.5,767.2 L291.3,767.3 L292.1,767.2 L292.9,767.2 L293.7,767.2 L294.5,767.2 L295.3,767.2 L296.1,767.2 L296.9,767.1 L297.7,767.1 L298.5,767 L299.3,767 L300.1,766.9 L300.9,766.8 L301.7,766.7 L302.5,766.5 L303.3,766.4 L304.1,766.2 L304.9,766.1 L305.7,765.9 L306.5,765.7 L307.3,765.5 L308.1,765.2 L308.9,765 L309.7,764.7 L310.5,764.4 L311.3,764.1 L312.1,763.8 L312.9,763.4 L313.7,763.1 L314.5,762.7 L315.3,762.3 L316.1,761.9 L316.9,761.4 L317.7,761 L318.5,760.5 L319.3,760 L320.1,759.4 L320.9,758.9 L321.7,758.3 L322.5,757.8 L323.3,757.1 L324.1,756.5 L324.9,755.9 L325.7,755.2 L326.5,754.5 L327.3,753.9 L328.1,753.1 L328.9,752.4 L329.7,751.7 L330.5,750.9 L331.3,750.2 L332.1,749.4 L332.9,748.6 L333.7,747.8 L334.5,747 L335.3,746.1 L336.1,745.3 L336.9,744.5 L337.7,743.6 L338.5,742.8 L339.3,741.9 L340.1,741.1 L340.9,740.2 L341.7,739.4 L342.5,738.6 L343.3,737.7 L344.1,736.9 L344.9,736.1 L345.7,735.3 L346.5,734.5 L347.3,733.8 L348.1,733 L348.9,732.3 L349.7,731.6 L350.5,730.9 L351.3,730.2 L352.1,729.6 L352.9,729 L353.7,728.4 L354.5,727.8 L355.3,727.3 L356.1,726.8 L356.9,726.3 L357.7,725.8 L358.5,725.4 L359.3,725.1 L360.1,724.7 L360.9,724.4 L361.7,724.2 L362.5,724 L363.3,723.8 L364.1,723.7 L364.9,723.6 L365.7,723.6 L366.5,723.6 L367.3,723.7 L368.1,723.8 L368.9,723.9 L369.7,724.1 L370.5,724.3 L371.3,724.6 L372.1,724.9 L372.9,725.3 L373.7,725.7 L374.5,726.1 L375.3,726.6 L376.1,727.1 L376.9,727.6 L377.7,728.2 L378.5,728.9 L379.3,729.5 L380.1,730.2 L380.9,730.9 L381.7,731.7 L382.5,732.5 L383.3,733.3 L384.1,734.1 L384.9,735 L385.7,735.9 L386.5,736.8 L387.3,737.8 L388.1,738.7 L388.9,739.7 L389.7,740.7 L390.5,741.7 L391.3,742.7 L392.1,743.8 L392.9,744.8 L393.7,745.9 L394.5,746.9 L395.3,748 L396.1,749.1 L396.9,750.2 L397.7,751.3 L398.5,752.3 L399.3,753.4 L400.1,754.5 L400.9,755.6 L401.7,756.6 L402.5,757.7 L403.3,758.8 L404.1,759.8 L404.9,760.9 L405.7,761.9 L406.5,762.9 L407.3,763.9 L408.1,764.9 L408.9,765.9 L409.7,766.9 L410.5,767.8 L411.3,768.7 L412.1,769.7 L412.9,770.6 L413.7,771.5 L414.5,772.3 L415.3,773.2 L416.1,774 L416.9,774.8 L417.7,775.6 L418.5,776.4 L419.3,777.2 L420.1,777.9 L420.9,778.6 L421.7,779.3 L422.5,780 L423.3,780.7 L424.1,781.4 L424.9,782.1 L425.7,782.8 L426.5,783.5 L427.3,784.1 L428.1,784.8 L428.9,785.4 L429.7,786 L430.5,786.6 L431.3,787.2 L432.1,787.7 L432.9,788.2 L433.7,788.8 L434.5,789.3 L435.3,789.8 L436.1,790.3 L436.9,790.7 L437.7,791.2 L438.5,791.6 L439.3,792 L440.1,792.5 L440.9,792.9 L441.7,793.3 L442.5,793.6 L443.3,794 L444.1,794.4 L444.9,794.7 L445.7,795.1 L446.5,795.4 L447.3,795.8 L448.1,796.1 L448.9,796.4 L449.7,796.7 L450.5,797 L451.3,797.3 L452.1,797.6 L452.9,797.9 L453.7,798.2 L454.5,798.4 L455.3,798.7 L456.1,799 L456.9,799.2 L457.7,799.5 L458.5,799.7 L459.3,799.9 L460.1,800.2 L460.9,800.4 L461.7,800.6 L462.5,800.9 L463.3,801.1 L464.1,801.3 L464.9,801.5 L465.7,801.8 L466.5,802 L467.3,802.2 L468.1,802.4 L468.9,802.5 L469.7,802.7 L470.5,802.9 L471.3,803 L472.1,803.2 L472.9,803.3 L473.7,803.4 L474.5,803.6 L475.3,803.7 L476.1,803.9 L476.9,804 L477.7,804.2 L478.5,804.3 L479.3,804.5 L480.1,804.6 L480.9,804.7 L481.7,804.9 L482.5,805 L483.3,805.2 L484.1,805.3 L484.9,805.4 L485.7,805.6 L486.5,805.7 L487.3,805.9 L488.1,806 L488.9,806.1 L489.7,806.3 L490.5,806.4 L491.3,806.5 L492.1,806.7 L492.9,806.8 L493.7,807 L494.5,807.1 L495.3,807.2 L496.1,807.4 L496.9,807.5 L497.7,807.6 L498.5,807.8 L499.3,807.9 L500.1,808.1 L500.9,808.2 L501.7,808.3 L502.5,808.5 L503.3,808.6 L504.1,808.7 L504.9,808.9 L505.7,809 L506.5,809.1" fill="none" stroke="#4CBCF6" stroke-width="1.8" stroke-linejoin="round"/><path d="M215.3,754.2 L216.1,754.2 L216.9,754.2 L217.7,754.2 L218.5,754.2 L219.3,754.2 L220.1,754.2 L220.9,754.2 L221.7,754.1 L222.5,754.1 L223.3,754.1 L224.1,754 L224.9,753.9 L225.7,753.9 L226.5,753.8 L227.3,753.7 L228.1,753.6 L228.9,753.6 L229.7,753.5 L230.5,753.3 L231.3,753.2 L232.1,753.1 L232.9,753 L233.7,752.8 L234.5,752.7 L235.3,752.5 L236.1,752.4 L236.9,752.2 L237.7,752 L238.5,751.8 L239.3,751.6 L240.1,751.4 L240.9,751.2 L241.7,751 L242.5,750.8 L243.3,750.5 L244.1,750.3 L244.9,750.1 L245.7,749.8 L246.5,749.5 L247.3,749.3 L248.1,749 L248.9,748.7 L249.7,748.4 L250.5,748.1 L251.3,747.8 L252.1,747.5 L252.9,747.2 L253.7,746.9 L254.5,746.5 L255.3,746.2 L256.1,745.9 L256.9,745.5 L257.7,745.2 L258.5,744.8 L259.3,744.5 L260.1,744.1 L260.9,743.8 L261.7,743.4 L262.5,743.1 L263.3,742.7 L264.1,742.3 L264.9,742 L265.7,741.6 L266.5,741.3 L267.3,740.9 L268.1,740.6 L268.9,740.2 L269.7,739.9 L270.5,739.5 L271.3,739.2 L272.1,738.8 L272.9,738.5 L273.7,738.2 L274.5,737.9 L275.3,737.6 L276.1,737.2 L276.9,737 L277.7,736.7 L278.5,736.4 L279.3,736.1 L280.1,735.9 L280.9,735.6 L281.7,735.4 L282.5,735.2 L283.3,734.9 L284.1,734.7 L284.9,734.6 L285.7,734.4 L286.5,734.2 L287.3,734.1 L288.1,734 L288.9,733.8 L289.7,733.8 L290.5,733.7 L291.3,733.6 L292.1,733.6 L292.9,733.5 L293.7,733.5 L294.5,733.5 L295.3,733.6 L296.1,733.6 L296.9,733.7 L297.7,733.8 L298.5,733.9 L299.3,734.1 L300.1,734.2 L300.9,734.4 L301.7,734.6 L302.5,734.7 L303.3,735 L304.1,735.2 L304.9,735.4 L305.7,735.7 L306.5,735.9 L307.3,736.2 L308.1,736.5 L308.9,736.8 L309.7,737.1 L310.5,737.4 L311.3,737.8 L312.1,738.1 L312.9,738.5 L313.7,738.9 L314.5,739.3 L315.3,739.7 L316.1,740.1 L316.9,740.5 L317.7,740.9 L318.5,741.4 L319.3,741.8 L320.1,742.3 L320.9,742.8 L321.7,743.2 L322.5,743.7 L323.3,744.2 L324.1,744.7 L324.9,745.3 L325.7,745.8 L326.5,746.3 L327.3,746.8 L328.1,747.4 L328.9,747.9 L329.7,748.5 L330.5,749 L331.3,749.6 L332.1,750.2 L332.9,750.7 L333.7,751.3 L334.5,751.9 L335.3,752.5 L336.1,753 L336.9,753.6 L337.7,754.2 L338.5,754.8 L339.3,755.3 L340.1,755.9 L340.9,756.5 L341.7,757.1 L342.5,757.7 L343.3,758.2 L344.1,758.8 L344.9,759.4 L345.7,760 L346.5,760.5 L347.3,761.1 L348.1,761.7 L348.9,762.2 L349.7,762.8 L350.5,763.4 L351.3,763.9 L352.1,764.5 L352.9,765 L353.7,765.6 L354.5,766.1 L355.3,766.6 L356.1,767.2 L356.9,767.7 L357.7,768.1 L358.5,768.6 L359.3,769.1 L360.1,769.6 L360.9,770.1 L361.7,770.5 L362.5,771 L363.3,771.5 L364.1,771.9 L364.9,772.4 L365.7,772.8 L366.5,773.2 L367.3,773.7 L368.1,774.1 L368.9,774.5 L369.7,774.9 L370.5,775.3 L371.3,775.7 L372.1,776.1 L372.9,776.5 L373.7,776.8 L374.5,777.2 L375.3,777.6 L376.1,777.9 L376.9,778.3 L377.7,778.6 L378.5,779 L379.3,779.3 L380.1,779.7 L380.9,780 L381.7,780.3 L382.5,780.6 L383.3,780.9 L384.1,781.2 L384.9,781.5 L385.7,781.8 L386.5,782.1 L387.3,782.4 L388.1,782.6 L388.9,782.9 L389.7,783.2 L390.5,783.4 L391.3,783.7 L392.1,783.9 L392.9,784.2 L393.7,784.4 L394.5,784.7 L395.3,784.9 L396.1,785.1 L396.9,785.3 L397.7,785.6 L398.5,785.8 L399.3,786 L400.1,786.2 L400.9,786.4 L401.7,786.6 L402.5,786.8 L403.3,787 L404.1,787.2 L404.9,787.4 L405.7,787.6 L406.5,787.8 L407.3,788 L408.1,788.1 L408.9,788.3 L409.7,788.5 L410.5,788.7 L411.3,788.8 L412.1,789 L412.9,789.2 L413.7,789.3 L414.5,789.5 L415.3,789.6 L416.1,789.8 L416.9,790 L417.7,790.1 L418.5,790.3 L419.3,790.4 L420.1,790.6 L420.9,790.7 L421.7,790.9 L422.5,791 L423.3,791.2 L424.1,791.4 L424.9,791.6 L425.7,791.8 L426.5,792.1 L427.3,792.3 L428.1,792.5 L428.9,792.7 L429.7,792.9 L430.5,793.1 L431.3,793.4 L432.1,793.6 L432.9,793.8 L433.7,794 L434.5,794.2 L435.3,794.4 L436.1,794.6 L436.9,794.8 L437.7,795 L438.5,795.3 L439.3,795.5 L440.1,795.7 L440.9,795.9 L441.7,796.1 L442.5,796.3 L443.3,796.5 L444.1,796.7 L444.9,796.9 L445.7,797.1 L446.5,797.3 L447.3,797.5 L448.1,797.7 L448.9,797.9 L449.7,798.1 L450.5,798.3 L451.3,798.5 L452.1,798.7 L452.9,798.9 L453.7,799.1 L454.5,799.3 L455.3,799.5 L456.1,799.7 L456.9,799.9 L457.7,800.1 L458.5,800.3 L459.3,800.5 L460.1,800.7 L460.9,800.9 L461.7,801.1 L462.5,801.3 L463.3,801.5 L464.1,801.7 L464.9,801.8 L465.7,802 L466.5,802.2 L467.3,802.4 L468.1,802.6 L468.9,802.7 L469.7,802.9 L470.5,803 L471.3,803.2 L472.1,803.3 L472.9,803.4 L473.7,803.6 L474.5,803.7 L475.3,803.8 L476.1,804 L476.9,804.1 L477.7,804.2 L478.5,804.4 L479.3,804.5 L480.1,804.7 L480.9,804.8 L481.7,804.9 L482.5,805.1 L483.3,805.2 L484.1,805.3 L484.9,805.5 L485.7,805.6 L486.5,805.7 L487.3,805.9 L488.1,806 L488.9,806.2 L489.7,806.3 L490.5,806.4 L491.3,806.6 L492.1,806.7 L492.9,806.8 L493.7,807 L494.5,807.1 L495.3,807.2 L496.1,807.4 L496.9,807.5 L497.7,807.6 L498.5,807.8 L499.3,807.9 L500.1,808.1 L500.9,808.2 L501.7,808.3 L502.5,808.5 L503.3,808.6 L504.1,808.7 L504.9,808.9 L505.7,809 L506.5,809.1" fill="none" stroke="#DE44F0" stroke-width="1.8" stroke-linejoin="round"/><path d="M214,756.3 L250,762.2 L294,769.5 L335,777.6 L355,781.3 L423,791.5 L455,799.5 L468,802.6 L508,809.4" fill="none" stroke="#D040E8" stroke-width="2.2"/></g>
<rect x="215.3" y="592.7" width="291.2" height="233.1" fill="none" stroke="#000" stroke-width="2.7"/>
<line x1="255.8" y1="825.8" x2="255.8" y2="830" stroke="#000" stroke-width="2"/>
<text x="255.8" y="842.8" font-size="12" text-anchor="middle" font-weight="bold" >716</text>
<line x1="301.4" y1="825.8" x2="301.4" y2="830" stroke="#000" stroke-width="2"/>
<text x="301.4" y="842.8" font-size="12" text-anchor="middle" font-weight="bold" >714</text>
<line x1="347" y1="825.8" x2="347" y2="830" stroke="#000" stroke-width="2"/>
<text x="347" y="842.8" font-size="12" text-anchor="middle" font-weight="bold" >712</text>
<line x1="392.6" y1="825.8" x2="392.6" y2="830" stroke="#000" stroke-width="2"/>
<text x="392.6" y="842.8" font-size="12" text-anchor="middle" font-weight="bold" >710</text>
<line x1="438.2" y1="825.8" x2="438.2" y2="830" stroke="#000" stroke-width="2"/>
<text x="438.2" y="842.8" font-size="12" text-anchor="middle" font-weight="bold" >708</text>
<line x1="483.8" y1="825.8" x2="483.8" y2="830" stroke="#000" stroke-width="2"/>
<text x="483.8" y="842.8" font-size="12" text-anchor="middle" font-weight="bold" >706</text>
<line x1="233" y1="825.8" x2="233" y2="827.8" stroke="#000" stroke-width="2"/>
<line x1="278.6" y1="825.8" x2="278.6" y2="827.8" stroke="#000" stroke-width="2"/>
<line x1="324.2" y1="825.8" x2="324.2" y2="827.8" stroke="#000" stroke-width="2"/>
<line x1="369.8" y1="825.8" x2="369.8" y2="827.8" stroke="#000" stroke-width="2"/>
<line x1="415.4" y1="825.8" x2="415.4" y2="827.8" stroke="#000" stroke-width="2"/>
<line x1="461" y1="825.8" x2="461" y2="827.8" stroke="#000" stroke-width="2"/>
<line x1="506.6" y1="825.8" x2="506.6" y2="827.8" stroke="#000" stroke-width="2"/>
<circle cx="229.6" cy="604" r="3.2" fill="none" stroke="#4B0A93" stroke-width="1.3"/>
<text x="243.4" y="607.8" font-size="10" text-anchor="start" font-weight="bold" >Fe 2p HR spectrum</text>
<line x1="217.5" y1="616.6" x2="241.6" y2="616.6" stroke="#4B0A93" stroke-width="2.2" stroke-linecap="round"/>
<text x="243.4" y="620.4" font-size="10" text-anchor="start" font-weight="bold" >Envelope</text>
<line x1="217.5" y1="629" x2="241.6" y2="629" stroke="#7A3A08" stroke-width="2.2" stroke-linecap="round"/>
<text x="243.4" y="633" font-size="10" text-anchor="start" font-weight="bold" >Background</text>
<rect x="218.3" y="637.8" width="22.5" height="10" fill="#B098C0" stroke="#A472C8" stroke-width="1.6"/>
<text x="243.4" y="646.6" font-size="10" text-anchor="start" font-weight="bold" >Fe<tspan font-size="6.5" dy="-4">o</tspan><tspan dy="4"> 2p 3/2</tspan></text>
<rect x="218.3" y="651.7" width="22.5" height="10" fill="#A2A2C8" stroke="#8A8CCC" stroke-width="1.6"/>
<text x="243.4" y="660.6" font-size="10" text-anchor="start" font-weight="bold" >Fe<tspan font-size="6.5" dy="-4">2+</tspan><tspan dy="4"> 2p 3/2</tspan></text>
<rect x="218.3" y="665.9" width="22.5" height="10" fill="#A2B8C8" stroke="#84B2D2" stroke-width="1.6"/>
<text x="243.4" y="674.6" font-size="10" text-anchor="start" font-weight="bold" >Fe<tspan font-size="6.5" dy="-4">3+</tspan><tspan dy="4"> 2p 3/2</tspan></text>
<rect x="218.3" y="679.6" width="22.5" height="10.4" fill="#C0A0C8" stroke="#C474D4" stroke-width="1.6"/>
<text x="243.4" y="688.6" font-size="10" text-anchor="start" font-weight="bold" >Fe<tspan font-size="6.5" dy="-4">3+</tspan><tspan dy="4"> satellite 2p 3/2</tspan></text>
<text x="459" y="620.6" font-size="32.2" text-anchor="start" font-weight="bold" >(e)</text>
<text transform="translate(195,703.6) rotate(-90)" x="0" y="0" font-size="17.5" text-anchor="middle" font-weight="bold">Intensity (a.u.)</text>
<text x="361" y="868.4" font-size="17.5" text-anchor="middle" font-weight="bold" >Binding Energy (eV)</text>
</svg>
</body></html>
